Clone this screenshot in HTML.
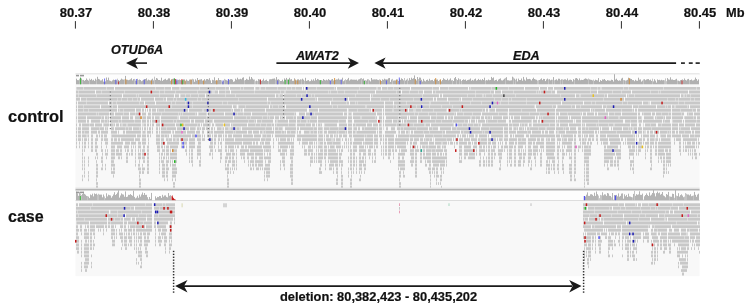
<!DOCTYPE html>
<html><head><meta charset="utf-8"><style>
html,body{margin:0;padding:0;background:#fff;}
body{width:747px;height:307px;position:relative;overflow:hidden;font-family:"Liberation Sans",sans-serif;color:#111;-webkit-text-stroke:0.2px #111;}
.ax{will-change:transform;position:absolute;top:5px;width:60px;text-align:center;font-weight:bold;font-size:13px;line-height:15px;}
.t{will-change:transform;position:absolute;font-weight:bold;white-space:nowrap;transform-origin:0 0;}
.g{will-change:transform;position:absolute;font-weight:bold;font-style:italic;font-size:11.85px;line-height:14px;white-space:nowrap;transform:scaleX(1.07);transform-origin:0 0;}
</style></head><body>
<svg width="747" height="307" viewBox="0 0 747 307" style="position:absolute;left:0;top:0"><rect x="75.5" y="73.5" width="624.1" height="115.5" fill="#f8f8f8"/><rect x="75.5" y="73.5" width="624.1" height="1" fill="#d8d8d8"/><rect x="75.5" y="74.5" width="624.1" height="10" fill="#fdfdfd"/><rect x="76" y="78.7" width="1" height="5.6" fill="#b0b0b0"/><rect x="77" y="80.1" width="1" height="4.2" fill="#b0b0b0"/><rect x="78" y="80.2" width="1" height="4.1" fill="#b0b0b0"/><rect x="79" y="79.2" width="1" height="5.1" fill="#c4c4c4"/><rect x="80" y="77.3" width="1" height="7.0" fill="#b0b0b0"/><rect x="81" y="78.5" width="1" height="5.8" fill="#b0b0b0"/><rect x="82" y="79.9" width="1" height="4.4" fill="#c4c4c4"/><rect x="83" y="79.9" width="1" height="4.4" fill="#b0b0b0"/><rect x="84" y="80.8" width="1" height="3.5" fill="#b0b0b0"/><rect x="85" y="80.0" width="1" height="4.3" fill="#b0b0b0"/><rect x="86" y="78.5" width="1" height="5.8" fill="#b0b0b0"/><rect x="87" y="79.8" width="1" height="4.5" fill="#b0b0b0"/><rect x="88" y="80.6" width="1" height="3.7" fill="#b0b0b0"/><rect x="89" y="78.6" width="1" height="5.7" fill="#c4c4c4"/><rect x="90" y="79.9" width="1" height="4.4" fill="#b0b0b0"/><rect x="91" y="78.9" width="1" height="5.4" fill="#b0b0b0"/><rect x="92" y="80.4" width="1" height="3.9" fill="#b0b0b0"/><rect x="93" y="79.8" width="1" height="4.5" fill="#b0b0b0"/><rect x="94" y="80.9" width="1" height="3.4" fill="#b0b0b0"/><rect x="95" y="78.7" width="1" height="5.6" fill="#b0b0b0"/><rect x="96" y="79.8" width="1" height="4.5" fill="#c4c4c4"/><rect x="97" y="76.8" width="1" height="7.5" fill="#b0b0b0"/><rect x="98" y="78.9" width="1" height="5.4" fill="#b0b0b0"/><rect x="99" y="79.4" width="1" height="4.9" fill="#b0b0b0"/><rect x="100" y="80.5" width="1" height="3.8" fill="#b0b0b0"/><rect x="101" y="80.4" width="1" height="3.9" fill="#b0b0b0"/><rect x="102" y="79.2" width="1" height="5.1" fill="#b0b0b0"/><rect x="103" y="81.6" width="1" height="2.7" fill="#b0b0b0"/><rect x="104" y="82.0" width="1" height="2.3" fill="#b0b0b0"/><rect x="105" y="81.4" width="1" height="2.9" fill="#b0b0b0"/><rect x="106" y="77.5" width="1" height="6.8" fill="#b0b0b0"/><rect x="107" y="80.1" width="1" height="4.2" fill="#b0b0b0"/><rect x="108" y="77.6" width="1" height="6.7" fill="#b0b0b0"/><rect x="109" y="80.5" width="1" height="3.8" fill="#b0b0b0"/><rect x="110" y="80.9" width="1" height="3.4" fill="#b0b0b0"/><rect x="111" y="81.4" width="1" height="2.9" fill="#b0b0b0"/><rect x="112" y="80.4" width="1" height="3.9" fill="#b0b0b0"/><rect x="113" y="79.6" width="1" height="4.7" fill="#b0b0b0"/><rect x="114" y="80.0" width="1" height="4.3" fill="#b0b0b0"/><rect x="115" y="80.0" width="1" height="4.3" fill="#b0b0b0"/><rect x="116" y="80.3" width="1" height="4.0" fill="#b0b0b0"/><rect x="117" y="78.7" width="1" height="5.6" fill="#c4c4c4"/><rect x="118" y="80.0" width="1" height="4.3" fill="#b0b0b0"/><rect x="119" y="80.9" width="1" height="3.4" fill="#b0b0b0"/><rect x="120" y="79.8" width="1" height="4.5" fill="#b0b0b0"/><rect x="121" y="78.6" width="1" height="5.7" fill="#b0b0b0"/><rect x="122" y="79.4" width="1" height="4.9" fill="#b0b0b0"/><rect x="123" y="79.6" width="1" height="4.7" fill="#b0b0b0"/><rect x="124" y="79.4" width="1" height="4.9" fill="#c4c4c4"/><rect x="125" y="75.9" width="1" height="8.4" fill="#b0b0b0"/><rect x="126" y="80.0" width="1" height="4.3" fill="#b0b0b0"/><rect x="127" y="79.8" width="1" height="4.5" fill="#b0b0b0"/><rect x="128" y="80.2" width="1" height="4.1" fill="#b0b0b0"/><rect x="129" y="79.8" width="1" height="4.5" fill="#b0b0b0"/><rect x="130" y="79.3" width="1" height="5.0" fill="#b0b0b0"/><rect x="131" y="78.3" width="1" height="6.0" fill="#b0b0b0"/><rect x="132" y="80.4" width="1" height="3.9" fill="#b0b0b0"/><rect x="133" y="79.1" width="1" height="5.2" fill="#b0b0b0"/><rect x="134" y="78.9" width="1" height="5.4" fill="#c4c4c4"/><rect x="135" y="80.6" width="1" height="3.7" fill="#b0b0b0"/><rect x="136" y="80.9" width="1" height="3.4" fill="#b0b0b0"/><rect x="137" y="78.8" width="1" height="5.5" fill="#b0b0b0"/><rect x="138" y="80.0" width="1" height="4.3" fill="#c4c4c4"/><rect x="139" y="79.5" width="1" height="4.8" fill="#b0b0b0"/><rect x="140" y="80.0" width="1" height="4.3" fill="#b0b0b0"/><rect x="141" y="81.2" width="1" height="3.1" fill="#b0b0b0"/><rect x="142" y="80.6" width="1" height="3.7" fill="#b0b0b0"/><rect x="143" y="79.9" width="1" height="4.4" fill="#b0b0b0"/><rect x="144" y="79.3" width="1" height="5.0" fill="#b0b0b0"/><rect x="145" y="79.0" width="1" height="5.3" fill="#b0b0b0"/><rect x="146" y="78.3" width="1" height="6.0" fill="#b0b0b0"/><rect x="147" y="80.5" width="1" height="3.8" fill="#b0b0b0"/><rect x="148" y="79.6" width="1" height="4.7" fill="#b0b0b0"/><rect x="149" y="80.2" width="1" height="4.1" fill="#b0b0b0"/><rect x="150" y="80.5" width="1" height="3.8" fill="#b0b0b0"/><rect x="151" y="79.6" width="1" height="4.7" fill="#b0b0b0"/><rect x="152" y="78.7" width="1" height="5.6" fill="#b0b0b0"/><rect x="153" y="80.4" width="1" height="3.9" fill="#b0b0b0"/><rect x="154" y="76.7" width="1" height="7.6" fill="#c4c4c4"/><rect x="155" y="79.9" width="1" height="4.4" fill="#b0b0b0"/><rect x="156" y="78.0" width="1" height="6.3" fill="#b0b0b0"/><rect x="157" y="78.6" width="1" height="5.7" fill="#b0b0b0"/><rect x="158" y="80.0" width="1" height="4.3" fill="#b0b0b0"/><rect x="159" y="80.0" width="1" height="4.3" fill="#b0b0b0"/><rect x="160" y="80.6" width="1" height="3.7" fill="#b0b0b0"/><rect x="161" y="77.7" width="1" height="6.6" fill="#b0b0b0"/><rect x="162" y="80.8" width="1" height="3.5" fill="#b0b0b0"/><rect x="163" y="79.9" width="1" height="4.4" fill="#b0b0b0"/><rect x="164" y="79.4" width="1" height="4.9" fill="#b0b0b0"/><rect x="165" y="78.8" width="1" height="5.5" fill="#b0b0b0"/><rect x="166" y="80.1" width="1" height="4.2" fill="#b0b0b0"/><rect x="167" y="79.6" width="1" height="4.7" fill="#b0b0b0"/><rect x="168" y="78.4" width="1" height="5.9" fill="#b0b0b0"/><rect x="169" y="78.4" width="1" height="5.9" fill="#b0b0b0"/><rect x="170" y="80.7" width="1" height="3.6" fill="#b0b0b0"/><rect x="171" y="79.5" width="1" height="4.8" fill="#b0b0b0"/><rect x="172" y="78.9" width="1" height="5.4" fill="#b0b0b0"/><rect x="173" y="78.7" width="1" height="5.6" fill="#b0b0b0"/><rect x="174" y="78.3" width="1" height="6.0" fill="#b0b0b0"/><rect x="175" y="79.4" width="1" height="4.9" fill="#b0b0b0"/><rect x="176" y="80.6" width="1" height="3.7" fill="#b0b0b0"/><rect x="177" y="80.3" width="1" height="4.0" fill="#c4c4c4"/><rect x="178" y="79.9" width="1" height="4.4" fill="#b0b0b0"/><rect x="179" y="79.5" width="1" height="4.8" fill="#b0b0b0"/><rect x="180" y="80.1" width="1" height="4.2" fill="#b0b0b0"/><rect x="181" y="80.2" width="1" height="4.1" fill="#b0b0b0"/><rect x="182" y="80.8" width="1" height="3.5" fill="#c4c4c4"/><rect x="183" y="79.4" width="1" height="4.9" fill="#b0b0b0"/><rect x="184" y="79.4" width="1" height="4.9" fill="#b0b0b0"/><rect x="185" y="81.2" width="1" height="3.1" fill="#b0b0b0"/><rect x="186" y="79.5" width="1" height="4.8" fill="#b0b0b0"/><rect x="187" y="80.6" width="1" height="3.7" fill="#b0b0b0"/><rect x="188" y="80.9" width="1" height="3.4" fill="#b0b0b0"/><rect x="189" y="79.6" width="1" height="4.7" fill="#b0b0b0"/><rect x="190" y="79.6" width="1" height="4.7" fill="#b0b0b0"/><rect x="191" y="79.7" width="1" height="4.6" fill="#b0b0b0"/><rect x="192" y="78.8" width="1" height="5.5" fill="#c4c4c4"/><rect x="193" y="79.4" width="1" height="4.9" fill="#b0b0b0"/><rect x="194" y="81.8" width="1" height="2.5" fill="#b0b0b0"/><rect x="195" y="79.3" width="1" height="5.0" fill="#b0b0b0"/><rect x="196" y="80.6" width="1" height="3.7" fill="#b0b0b0"/><rect x="197" y="78.0" width="1" height="6.3" fill="#b0b0b0"/><rect x="198" y="80.2" width="1" height="4.1" fill="#c4c4c4"/><rect x="199" y="79.6" width="1" height="4.7" fill="#b0b0b0"/><rect x="200" y="79.5" width="1" height="4.8" fill="#b0b0b0"/><rect x="201" y="79.1" width="1" height="5.2" fill="#b0b0b0"/><rect x="202" y="80.6" width="1" height="3.7" fill="#b0b0b0"/><rect x="203" y="80.5" width="1" height="3.8" fill="#b0b0b0"/><rect x="204" y="79.1" width="1" height="5.2" fill="#b0b0b0"/><rect x="205" y="80.5" width="1" height="3.8" fill="#b0b0b0"/><rect x="206" y="79.1" width="1" height="5.2" fill="#b0b0b0"/><rect x="207" y="79.0" width="1" height="5.3" fill="#b0b0b0"/><rect x="208" y="79.7" width="1" height="4.6" fill="#b0b0b0"/><rect x="209" y="78.2" width="1" height="6.1" fill="#b0b0b0"/><rect x="210" y="80.4" width="1" height="3.9" fill="#b0b0b0"/><rect x="211" y="83.0" width="1" height="1.3" fill="#b0b0b0"/><rect x="212" y="79.8" width="1" height="4.5" fill="#b0b0b0"/><rect x="213" y="80.2" width="1" height="4.1" fill="#b0b0b0"/><rect x="214" y="77.3" width="1" height="7.0" fill="#b0b0b0"/><rect x="215" y="80.6" width="1" height="3.7" fill="#b0b0b0"/><rect x="216" y="80.6" width="1" height="3.7" fill="#b0b0b0"/><rect x="217" y="80.5" width="1" height="3.8" fill="#b0b0b0"/><rect x="218" y="78.1" width="1" height="6.2" fill="#b0b0b0"/><rect x="219" y="80.0" width="1" height="4.3" fill="#b0b0b0"/><rect x="220" y="80.0" width="1" height="4.3" fill="#b0b0b0"/><rect x="221" y="80.4" width="1" height="3.9" fill="#c4c4c4"/><rect x="222" y="81.8" width="1" height="2.5" fill="#b0b0b0"/><rect x="223" y="80.6" width="1" height="3.7" fill="#b0b0b0"/><rect x="224" y="78.9" width="1" height="5.4" fill="#c4c4c4"/><rect x="225" y="79.7" width="1" height="4.6" fill="#b0b0b0"/><rect x="226" y="80.2" width="1" height="4.1" fill="#b0b0b0"/><rect x="227" y="80.7" width="1" height="3.6" fill="#b0b0b0"/><rect x="228" y="79.6" width="1" height="4.7" fill="#b0b0b0"/><rect x="229" y="79.8" width="1" height="4.5" fill="#b0b0b0"/><rect x="230" y="79.2" width="1" height="5.1" fill="#b0b0b0"/><rect x="231" y="79.1" width="1" height="5.2" fill="#b0b0b0"/><rect x="232" y="79.7" width="1" height="4.6" fill="#b0b0b0"/><rect x="233" y="81.8" width="1" height="2.5" fill="#b0b0b0"/><rect x="234" y="81.3" width="1" height="3.0" fill="#b0b0b0"/><rect x="235" y="78.7" width="1" height="5.6" fill="#b0b0b0"/><rect x="236" y="79.7" width="1" height="4.6" fill="#b0b0b0"/><rect x="237" y="77.7" width="1" height="6.6" fill="#b0b0b0"/><rect x="238" y="79.3" width="1" height="5.0" fill="#b0b0b0"/><rect x="239" y="79.3" width="1" height="5.0" fill="#b0b0b0"/><rect x="240" y="78.8" width="1" height="5.5" fill="#b0b0b0"/><rect x="241" y="79.3" width="1" height="5.0" fill="#b0b0b0"/><rect x="242" y="77.8" width="1" height="6.5" fill="#b0b0b0"/><rect x="243" y="77.3" width="1" height="7.0" fill="#b0b0b0"/><rect x="244" y="80.4" width="1" height="3.9" fill="#c4c4c4"/><rect x="245" y="80.0" width="1" height="4.3" fill="#b0b0b0"/><rect x="246" y="78.8" width="1" height="5.5" fill="#b0b0b0"/><rect x="247" y="79.5" width="1" height="4.8" fill="#b0b0b0"/><rect x="248" y="79.9" width="1" height="4.4" fill="#b0b0b0"/><rect x="249" y="76.6" width="1" height="7.7" fill="#b0b0b0"/><rect x="250" y="79.3" width="1" height="5.0" fill="#b0b0b0"/><rect x="251" y="77.0" width="1" height="7.3" fill="#b0b0b0"/><rect x="252" y="78.6" width="1" height="5.7" fill="#b0b0b0"/><rect x="253" y="79.6" width="1" height="4.7" fill="#b0b0b0"/><rect x="254" y="79.5" width="1" height="4.8" fill="#c4c4c4"/><rect x="255" y="81.2" width="1" height="3.1" fill="#c4c4c4"/><rect x="256" y="80.6" width="1" height="3.7" fill="#b0b0b0"/><rect x="257" y="81.1" width="1" height="3.2" fill="#c4c4c4"/><rect x="258" y="79.1" width="1" height="5.2" fill="#b0b0b0"/><rect x="259" y="79.6" width="1" height="4.7" fill="#b0b0b0"/><rect x="260" y="79.8" width="1" height="4.5" fill="#b0b0b0"/><rect x="261" y="80.9" width="1" height="3.4" fill="#b0b0b0"/><rect x="262" y="80.3" width="1" height="4.0" fill="#b0b0b0"/><rect x="263" y="78.7" width="1" height="5.6" fill="#b0b0b0"/><rect x="264" y="80.8" width="1" height="3.5" fill="#b0b0b0"/><rect x="265" y="80.2" width="1" height="4.1" fill="#b0b0b0"/><rect x="266" y="79.7" width="1" height="4.6" fill="#b0b0b0"/><rect x="267" y="81.0" width="1" height="3.3" fill="#b0b0b0"/><rect x="268" y="81.2" width="1" height="3.1" fill="#c4c4c4"/><rect x="269" y="79.4" width="1" height="4.9" fill="#b0b0b0"/><rect x="270" y="79.2" width="1" height="5.1" fill="#b0b0b0"/><rect x="271" y="79.2" width="1" height="5.1" fill="#b0b0b0"/><rect x="272" y="78.8" width="1" height="5.5" fill="#b0b0b0"/><rect x="273" y="78.7" width="1" height="5.6" fill="#b0b0b0"/><rect x="274" y="78.4" width="1" height="5.9" fill="#b0b0b0"/><rect x="275" y="79.6" width="1" height="4.7" fill="#c4c4c4"/><rect x="276" y="77.1" width="1" height="7.2" fill="#b0b0b0"/><rect x="277" y="79.7" width="1" height="4.6" fill="#b0b0b0"/><rect x="278" y="79.2" width="1" height="5.1" fill="#b0b0b0"/><rect x="279" y="79.9" width="1" height="4.4" fill="#c4c4c4"/><rect x="280" y="81.0" width="1" height="3.3" fill="#b0b0b0"/><rect x="281" y="80.9" width="1" height="3.4" fill="#b0b0b0"/><rect x="282" y="79.7" width="1" height="4.6" fill="#b0b0b0"/><rect x="283" y="81.4" width="1" height="2.9" fill="#b0b0b0"/><rect x="284" y="78.4" width="1" height="5.9" fill="#b0b0b0"/><rect x="285" y="79.4" width="1" height="4.9" fill="#c4c4c4"/><rect x="286" y="77.9" width="1" height="6.4" fill="#b0b0b0"/><rect x="287" y="79.5" width="1" height="4.8" fill="#b0b0b0"/><rect x="288" y="79.9" width="1" height="4.4" fill="#b0b0b0"/><rect x="289" y="77.8" width="1" height="6.5" fill="#b0b0b0"/><rect x="290" y="79.5" width="1" height="4.8" fill="#b0b0b0"/><rect x="291" y="79.1" width="1" height="5.2" fill="#b0b0b0"/><rect x="292" y="80.8" width="1" height="3.5" fill="#b0b0b0"/><rect x="293" y="80.8" width="1" height="3.5" fill="#b0b0b0"/><rect x="294" y="78.3" width="1" height="6.0" fill="#b0b0b0"/><rect x="295" y="80.4" width="1" height="3.9" fill="#b0b0b0"/><rect x="296" y="80.3" width="1" height="4.0" fill="#b0b0b0"/><rect x="297" y="79.4" width="1" height="4.9" fill="#b0b0b0"/><rect x="298" y="79.3" width="1" height="5.0" fill="#b0b0b0"/><rect x="299" y="80.2" width="1" height="4.1" fill="#b0b0b0"/><rect x="300" y="79.3" width="1" height="5.0" fill="#b0b0b0"/><rect x="301" y="79.6" width="1" height="4.7" fill="#c4c4c4"/><rect x="302" y="78.7" width="1" height="5.6" fill="#b0b0b0"/><rect x="303" y="79.7" width="1" height="4.6" fill="#b0b0b0"/><rect x="304" y="80.8" width="1" height="3.5" fill="#c4c4c4"/><rect x="305" y="77.8" width="1" height="6.5" fill="#b0b0b0"/><rect x="306" y="80.9" width="1" height="3.4" fill="#b0b0b0"/><rect x="307" y="80.4" width="1" height="3.9" fill="#b0b0b0"/><rect x="308" y="80.1" width="1" height="4.2" fill="#b0b0b0"/><rect x="309" y="81.3" width="1" height="3.0" fill="#b0b0b0"/><rect x="310" y="81.1" width="1" height="3.2" fill="#b0b0b0"/><rect x="311" y="79.5" width="1" height="4.8" fill="#b0b0b0"/><rect x="312" y="80.6" width="1" height="3.7" fill="#b0b0b0"/><rect x="313" y="79.3" width="1" height="5.0" fill="#b0b0b0"/><rect x="314" y="80.7" width="1" height="3.6" fill="#b0b0b0"/><rect x="315" y="78.2" width="1" height="6.1" fill="#b0b0b0"/><rect x="316" y="80.1" width="1" height="4.2" fill="#b0b0b0"/><rect x="317" y="78.9" width="1" height="5.4" fill="#b0b0b0"/><rect x="318" y="79.4" width="1" height="4.9" fill="#b0b0b0"/><rect x="319" y="80.2" width="1" height="4.1" fill="#b0b0b0"/><rect x="320" y="80.5" width="1" height="3.8" fill="#b0b0b0"/><rect x="321" y="80.1" width="1" height="4.2" fill="#b0b0b0"/><rect x="322" y="80.7" width="1" height="3.6" fill="#b0b0b0"/><rect x="323" y="79.0" width="1" height="5.3" fill="#b0b0b0"/><rect x="324" y="79.9" width="1" height="4.4" fill="#b0b0b0"/><rect x="325" y="80.4" width="1" height="3.9" fill="#b0b0b0"/><rect x="326" y="79.7" width="1" height="4.6" fill="#b0b0b0"/><rect x="327" y="80.3" width="1" height="4.0" fill="#b0b0b0"/><rect x="328" y="79.1" width="1" height="5.2" fill="#b0b0b0"/><rect x="329" y="79.9" width="1" height="4.4" fill="#b0b0b0"/><rect x="330" y="80.8" width="1" height="3.5" fill="#c4c4c4"/><rect x="331" y="79.5" width="1" height="4.8" fill="#b0b0b0"/><rect x="332" y="79.0" width="1" height="5.3" fill="#b0b0b0"/><rect x="333" y="80.5" width="1" height="3.8" fill="#b0b0b0"/><rect x="334" y="79.8" width="1" height="4.5" fill="#b0b0b0"/><rect x="335" y="79.9" width="1" height="4.4" fill="#b0b0b0"/><rect x="336" y="79.4" width="1" height="4.9" fill="#b0b0b0"/><rect x="337" y="79.5" width="1" height="4.8" fill="#b0b0b0"/><rect x="338" y="78.5" width="1" height="5.8" fill="#b0b0b0"/><rect x="339" y="79.7" width="1" height="4.6" fill="#b0b0b0"/><rect x="340" y="79.8" width="1" height="4.5" fill="#b0b0b0"/><rect x="341" y="79.8" width="1" height="4.5" fill="#c4c4c4"/><rect x="342" y="77.7" width="1" height="6.6" fill="#b0b0b0"/><rect x="343" y="81.2" width="1" height="3.1" fill="#b0b0b0"/><rect x="344" y="80.3" width="1" height="4.0" fill="#b0b0b0"/><rect x="345" y="79.2" width="1" height="5.1" fill="#c4c4c4"/><rect x="346" y="80.1" width="1" height="4.2" fill="#b0b0b0"/><rect x="347" y="79.3" width="1" height="5.0" fill="#b0b0b0"/><rect x="348" y="77.9" width="1" height="6.4" fill="#b0b0b0"/><rect x="349" y="80.5" width="1" height="3.8" fill="#b0b0b0"/><rect x="350" y="79.6" width="1" height="4.7" fill="#b0b0b0"/><rect x="351" y="79.4" width="1" height="4.9" fill="#b0b0b0"/><rect x="352" y="79.7" width="1" height="4.6" fill="#b0b0b0"/><rect x="353" y="79.7" width="1" height="4.6" fill="#b0b0b0"/><rect x="354" y="79.7" width="1" height="4.6" fill="#b0b0b0"/><rect x="355" y="79.8" width="1" height="4.5" fill="#b0b0b0"/><rect x="356" y="79.6" width="1" height="4.7" fill="#b0b0b0"/><rect x="357" y="80.6" width="1" height="3.7" fill="#b0b0b0"/><rect x="358" y="79.5" width="1" height="4.8" fill="#b0b0b0"/><rect x="359" y="79.2" width="1" height="5.1" fill="#b0b0b0"/><rect x="360" y="78.5" width="1" height="5.8" fill="#b0b0b0"/><rect x="361" y="78.0" width="1" height="6.3" fill="#c4c4c4"/><rect x="362" y="79.2" width="1" height="5.1" fill="#b0b0b0"/><rect x="363" y="78.5" width="1" height="5.8" fill="#b0b0b0"/><rect x="364" y="80.3" width="1" height="4.0" fill="#b0b0b0"/><rect x="365" y="80.1" width="1" height="4.2" fill="#c4c4c4"/><rect x="366" y="80.6" width="1" height="3.7" fill="#b0b0b0"/><rect x="367" y="79.3" width="1" height="5.0" fill="#b0b0b0"/><rect x="368" y="79.2" width="1" height="5.1" fill="#c4c4c4"/><rect x="369" y="80.3" width="1" height="4.0" fill="#b0b0b0"/><rect x="370" y="81.4" width="1" height="2.9" fill="#b0b0b0"/><rect x="371" y="78.0" width="1" height="6.3" fill="#b0b0b0"/><rect x="372" y="79.6" width="1" height="4.7" fill="#b0b0b0"/><rect x="373" y="79.5" width="1" height="4.8" fill="#b0b0b0"/><rect x="374" y="79.4" width="1" height="4.9" fill="#b0b0b0"/><rect x="375" y="79.5" width="1" height="4.8" fill="#b0b0b0"/><rect x="376" y="79.3" width="1" height="5.0" fill="#b0b0b0"/><rect x="377" y="79.8" width="1" height="4.5" fill="#b0b0b0"/><rect x="378" y="80.1" width="1" height="4.2" fill="#b0b0b0"/><rect x="379" y="79.3" width="1" height="5.0" fill="#c4c4c4"/><rect x="380" y="79.8" width="1" height="4.5" fill="#b0b0b0"/><rect x="381" y="81.0" width="1" height="3.3" fill="#b0b0b0"/><rect x="382" y="79.3" width="1" height="5.0" fill="#b0b0b0"/><rect x="383" y="79.9" width="1" height="4.4" fill="#b0b0b0"/><rect x="384" y="78.7" width="1" height="5.6" fill="#b0b0b0"/><rect x="385" y="79.4" width="1" height="4.9" fill="#b0b0b0"/><rect x="386" y="79.4" width="1" height="4.9" fill="#b0b0b0"/><rect x="387" y="79.5" width="1" height="4.8" fill="#b0b0b0"/><rect x="388" y="78.3" width="1" height="6.0" fill="#b0b0b0"/><rect x="389" y="78.0" width="1" height="6.3" fill="#b0b0b0"/><rect x="390" y="81.9" width="1" height="2.4" fill="#b0b0b0"/><rect x="391" y="79.6" width="1" height="4.7" fill="#b0b0b0"/><rect x="392" y="78.9" width="1" height="5.4" fill="#c4c4c4"/><rect x="393" y="80.6" width="1" height="3.7" fill="#b0b0b0"/><rect x="394" y="80.4" width="1" height="3.9" fill="#b0b0b0"/><rect x="395" y="80.5" width="1" height="3.8" fill="#b0b0b0"/><rect x="396" y="79.1" width="1" height="5.2" fill="#c4c4c4"/><rect x="397" y="79.5" width="1" height="4.8" fill="#b0b0b0"/><rect x="398" y="81.0" width="1" height="3.3" fill="#b0b0b0"/><rect x="399" y="79.5" width="1" height="4.8" fill="#b0b0b0"/><rect x="400" y="79.9" width="1" height="4.4" fill="#b0b0b0"/><rect x="401" y="78.3" width="1" height="6.0" fill="#b0b0b0"/><rect x="402" y="79.0" width="1" height="5.3" fill="#b0b0b0"/><rect x="403" y="80.3" width="1" height="4.0" fill="#b0b0b0"/><rect x="404" y="78.0" width="1" height="6.3" fill="#c4c4c4"/><rect x="405" y="80.6" width="1" height="3.7" fill="#b0b0b0"/><rect x="406" y="79.7" width="1" height="4.6" fill="#b0b0b0"/><rect x="407" y="78.6" width="1" height="5.7" fill="#c4c4c4"/><rect x="408" y="80.5" width="1" height="3.8" fill="#b0b0b0"/><rect x="409" y="78.1" width="1" height="6.2" fill="#b0b0b0"/><rect x="410" y="79.9" width="1" height="4.4" fill="#b0b0b0"/><rect x="411" y="77.7" width="1" height="6.6" fill="#b0b0b0"/><rect x="412" y="78.9" width="1" height="5.4" fill="#b0b0b0"/><rect x="413" y="78.2" width="1" height="6.1" fill="#b0b0b0"/><rect x="414" y="75.4" width="1" height="8.9" fill="#b0b0b0"/><rect x="415" y="79.0" width="1" height="5.3" fill="#b0b0b0"/><rect x="416" y="80.5" width="1" height="3.8" fill="#b0b0b0"/><rect x="417" y="77.0" width="1" height="7.3" fill="#b0b0b0"/><rect x="418" y="79.1" width="1" height="5.2" fill="#c4c4c4"/><rect x="419" y="77.5" width="1" height="6.8" fill="#b0b0b0"/><rect x="420" y="77.7" width="1" height="6.6" fill="#b0b0b0"/><rect x="421" y="79.8" width="1" height="4.5" fill="#b0b0b0"/><rect x="422" y="81.5" width="1" height="2.8" fill="#b0b0b0"/><rect x="423" y="78.9" width="1" height="5.4" fill="#b0b0b0"/><rect x="424" y="80.7" width="1" height="3.6" fill="#b0b0b0"/><rect x="425" y="81.4" width="1" height="2.9" fill="#b0b0b0"/><rect x="426" y="80.0" width="1" height="4.3" fill="#b0b0b0"/><rect x="427" y="79.6" width="1" height="4.7" fill="#b0b0b0"/><rect x="428" y="80.8" width="1" height="3.5" fill="#b0b0b0"/><rect x="429" y="78.8" width="1" height="5.5" fill="#b0b0b0"/><rect x="430" y="80.4" width="1" height="3.9" fill="#b0b0b0"/><rect x="431" y="80.1" width="1" height="4.2" fill="#b0b0b0"/><rect x="432" y="79.9" width="1" height="4.4" fill="#b0b0b0"/><rect x="433" y="81.1" width="1" height="3.2" fill="#b0b0b0"/><rect x="434" y="79.3" width="1" height="5.0" fill="#b0b0b0"/><rect x="435" y="79.5" width="1" height="4.8" fill="#b0b0b0"/><rect x="436" y="79.6" width="1" height="4.7" fill="#b0b0b0"/><rect x="437" y="79.5" width="1" height="4.8" fill="#b0b0b0"/><rect x="438" y="81.0" width="1" height="3.3" fill="#b0b0b0"/><rect x="439" y="80.1" width="1" height="4.2" fill="#c4c4c4"/><rect x="440" y="79.5" width="1" height="4.8" fill="#b0b0b0"/><rect x="441" y="81.3" width="1" height="3.0" fill="#b0b0b0"/><rect x="442" y="80.0" width="1" height="4.3" fill="#b0b0b0"/><rect x="443" y="78.2" width="1" height="6.1" fill="#b0b0b0"/><rect x="444" y="79.2" width="1" height="5.1" fill="#b0b0b0"/><rect x="445" y="79.8" width="1" height="4.5" fill="#b0b0b0"/><rect x="446" y="80.0" width="1" height="4.3" fill="#b0b0b0"/><rect x="447" y="78.7" width="1" height="5.6" fill="#b0b0b0"/><rect x="448" y="80.3" width="1" height="4.0" fill="#b0b0b0"/><rect x="449" y="79.6" width="1" height="4.7" fill="#b0b0b0"/><rect x="450" y="78.4" width="1" height="5.9" fill="#b0b0b0"/><rect x="451" y="80.4" width="1" height="3.9" fill="#b0b0b0"/><rect x="452" y="80.0" width="1" height="4.3" fill="#c4c4c4"/><rect x="453" y="81.0" width="1" height="3.3" fill="#b0b0b0"/><rect x="454" y="78.2" width="1" height="6.1" fill="#b0b0b0"/><rect x="455" y="77.0" width="1" height="7.3" fill="#b0b0b0"/><rect x="456" y="79.1" width="1" height="5.2" fill="#c4c4c4"/><rect x="457" y="80.1" width="1" height="4.2" fill="#b0b0b0"/><rect x="458" y="78.3" width="1" height="6.0" fill="#b0b0b0"/><rect x="459" y="79.4" width="1" height="4.9" fill="#c4c4c4"/><rect x="460" y="79.3" width="1" height="5.0" fill="#b0b0b0"/><rect x="461" y="81.0" width="1" height="3.3" fill="#c4c4c4"/><rect x="462" y="80.0" width="1" height="4.3" fill="#b0b0b0"/><rect x="463" y="79.3" width="1" height="5.0" fill="#b0b0b0"/><rect x="464" y="79.9" width="1" height="4.4" fill="#b0b0b0"/><rect x="465" y="79.5" width="1" height="4.8" fill="#b0b0b0"/><rect x="466" y="80.8" width="1" height="3.5" fill="#b0b0b0"/><rect x="467" y="80.1" width="1" height="4.2" fill="#b0b0b0"/><rect x="468" y="79.8" width="1" height="4.5" fill="#b0b0b0"/><rect x="469" y="79.5" width="1" height="4.8" fill="#b0b0b0"/><rect x="470" y="78.5" width="1" height="5.8" fill="#b0b0b0"/><rect x="471" y="80.7" width="1" height="3.6" fill="#b0b0b0"/><rect x="472" y="79.9" width="1" height="4.4" fill="#b0b0b0"/><rect x="473" y="80.5" width="1" height="3.8" fill="#b0b0b0"/><rect x="474" y="79.3" width="1" height="5.0" fill="#b0b0b0"/><rect x="475" y="78.6" width="1" height="5.7" fill="#b0b0b0"/><rect x="476" y="80.6" width="1" height="3.7" fill="#b0b0b0"/><rect x="477" y="80.1" width="1" height="4.2" fill="#b0b0b0"/><rect x="478" y="78.9" width="1" height="5.4" fill="#b0b0b0"/><rect x="479" y="80.0" width="1" height="4.3" fill="#b0b0b0"/><rect x="480" y="79.5" width="1" height="4.8" fill="#b0b0b0"/><rect x="481" y="80.3" width="1" height="4.0" fill="#b0b0b0"/><rect x="482" y="79.0" width="1" height="5.3" fill="#b0b0b0"/><rect x="483" y="80.0" width="1" height="4.3" fill="#b0b0b0"/><rect x="484" y="77.7" width="1" height="6.6" fill="#b0b0b0"/><rect x="485" y="80.6" width="1" height="3.7" fill="#c4c4c4"/><rect x="486" y="80.1" width="1" height="4.2" fill="#b0b0b0"/><rect x="487" y="80.4" width="1" height="3.9" fill="#b0b0b0"/><rect x="488" y="79.5" width="1" height="4.8" fill="#b0b0b0"/><rect x="489" y="80.2" width="1" height="4.1" fill="#b0b0b0"/><rect x="490" y="80.0" width="1" height="4.3" fill="#b0b0b0"/><rect x="491" y="76.9" width="1" height="7.4" fill="#b0b0b0"/><rect x="492" y="78.2" width="1" height="6.1" fill="#b0b0b0"/><rect x="493" y="77.4" width="1" height="6.9" fill="#b0b0b0"/><rect x="494" y="80.6" width="1" height="3.7" fill="#b0b0b0"/><rect x="495" y="80.0" width="1" height="4.3" fill="#b0b0b0"/><rect x="496" y="79.7" width="1" height="4.6" fill="#b0b0b0"/><rect x="497" y="81.2" width="1" height="3.1" fill="#b0b0b0"/><rect x="498" y="79.6" width="1" height="4.7" fill="#b0b0b0"/><rect x="499" y="78.9" width="1" height="5.4" fill="#b0b0b0"/><rect x="500" y="78.4" width="1" height="5.9" fill="#b0b0b0"/><rect x="501" y="80.3" width="1" height="4.0" fill="#b0b0b0"/><rect x="502" y="80.5" width="1" height="3.8" fill="#b0b0b0"/><rect x="503" y="79.7" width="1" height="4.6" fill="#b0b0b0"/><rect x="504" y="78.7" width="1" height="5.6" fill="#b0b0b0"/><rect x="505" y="77.9" width="1" height="6.4" fill="#c4c4c4"/><rect x="506" y="77.2" width="1" height="7.1" fill="#b0b0b0"/><rect x="507" y="80.2" width="1" height="4.1" fill="#b0b0b0"/><rect x="508" y="80.3" width="1" height="4.0" fill="#b0b0b0"/><rect x="509" y="80.6" width="1" height="3.7" fill="#b0b0b0"/><rect x="510" y="80.5" width="1" height="3.8" fill="#b0b0b0"/><rect x="511" y="80.3" width="1" height="4.0" fill="#b0b0b0"/><rect x="512" y="76.7" width="1" height="7.6" fill="#b0b0b0"/><rect x="513" y="77.5" width="1" height="6.8" fill="#c4c4c4"/><rect x="514" y="78.6" width="1" height="5.7" fill="#b0b0b0"/><rect x="515" y="79.8" width="1" height="4.5" fill="#c4c4c4"/><rect x="516" y="78.7" width="1" height="5.6" fill="#b0b0b0"/><rect x="517" y="81.4" width="1" height="2.9" fill="#b0b0b0"/><rect x="518" y="78.6" width="1" height="5.7" fill="#b0b0b0"/><rect x="519" y="80.0" width="1" height="4.3" fill="#b0b0b0"/><rect x="520" y="80.0" width="1" height="4.3" fill="#b0b0b0"/><rect x="521" y="78.5" width="1" height="5.8" fill="#b0b0b0"/><rect x="522" y="80.7" width="1" height="3.6" fill="#b0b0b0"/><rect x="523" y="76.9" width="1" height="7.4" fill="#b0b0b0"/><rect x="524" y="79.5" width="1" height="4.8" fill="#b0b0b0"/><rect x="525" y="80.6" width="1" height="3.7" fill="#b0b0b0"/><rect x="526" y="77.4" width="1" height="6.9" fill="#b0b0b0"/><rect x="527" y="79.2" width="1" height="5.1" fill="#b0b0b0"/><rect x="528" y="79.1" width="1" height="5.2" fill="#b0b0b0"/><rect x="529" y="78.9" width="1" height="5.4" fill="#b0b0b0"/><rect x="530" y="79.4" width="1" height="4.9" fill="#b0b0b0"/><rect x="531" y="80.5" width="1" height="3.8" fill="#b0b0b0"/><rect x="532" y="78.9" width="1" height="5.4" fill="#b0b0b0"/><rect x="533" y="77.7" width="1" height="6.6" fill="#b0b0b0"/><rect x="534" y="79.0" width="1" height="5.3" fill="#b0b0b0"/><rect x="535" y="79.5" width="1" height="4.8" fill="#b0b0b0"/><rect x="536" y="79.8" width="1" height="4.5" fill="#b0b0b0"/><rect x="537" y="80.6" width="1" height="3.7" fill="#c4c4c4"/><rect x="538" y="80.2" width="1" height="4.1" fill="#c4c4c4"/><rect x="539" y="80.0" width="1" height="4.3" fill="#b0b0b0"/><rect x="540" y="79.3" width="1" height="5.0" fill="#b0b0b0"/><rect x="541" y="78.4" width="1" height="5.9" fill="#b0b0b0"/><rect x="542" y="80.1" width="1" height="4.2" fill="#b0b0b0"/><rect x="543" y="78.9" width="1" height="5.4" fill="#b0b0b0"/><rect x="544" y="79.0" width="1" height="5.3" fill="#b0b0b0"/><rect x="545" y="81.1" width="1" height="3.2" fill="#b0b0b0"/><rect x="546" y="79.5" width="1" height="4.8" fill="#b0b0b0"/><rect x="547" y="78.6" width="1" height="5.7" fill="#b0b0b0"/><rect x="548" y="79.5" width="1" height="4.8" fill="#c4c4c4"/><rect x="549" y="79.2" width="1" height="5.1" fill="#b0b0b0"/><rect x="550" y="80.3" width="1" height="4.0" fill="#b0b0b0"/><rect x="551" y="79.7" width="1" height="4.6" fill="#b0b0b0"/><rect x="552" y="79.8" width="1" height="4.5" fill="#c4c4c4"/><rect x="553" y="77.1" width="1" height="7.2" fill="#b0b0b0"/><rect x="554" y="80.3" width="1" height="4.0" fill="#c4c4c4"/><rect x="555" y="79.8" width="1" height="4.5" fill="#b0b0b0"/><rect x="556" y="79.3" width="1" height="5.0" fill="#b0b0b0"/><rect x="557" y="80.4" width="1" height="3.9" fill="#b0b0b0"/><rect x="558" y="78.7" width="1" height="5.6" fill="#b0b0b0"/><rect x="559" y="78.8" width="1" height="5.5" fill="#b0b0b0"/><rect x="560" y="80.0" width="1" height="4.3" fill="#c4c4c4"/><rect x="561" y="79.3" width="1" height="5.0" fill="#b0b0b0"/><rect x="562" y="79.3" width="1" height="5.0" fill="#c4c4c4"/><rect x="563" y="79.8" width="1" height="4.5" fill="#b0b0b0"/><rect x="564" y="79.3" width="1" height="5.0" fill="#b0b0b0"/><rect x="565" y="79.3" width="1" height="5.0" fill="#b0b0b0"/><rect x="566" y="80.1" width="1" height="4.2" fill="#b0b0b0"/><rect x="567" y="78.5" width="1" height="5.8" fill="#b0b0b0"/><rect x="568" y="80.4" width="1" height="3.9" fill="#b0b0b0"/><rect x="569" y="79.8" width="1" height="4.5" fill="#b0b0b0"/><rect x="570" y="79.6" width="1" height="4.7" fill="#b0b0b0"/><rect x="571" y="80.0" width="1" height="4.3" fill="#b0b0b0"/><rect x="572" y="81.5" width="1" height="2.8" fill="#b0b0b0"/><rect x="573" y="79.1" width="1" height="5.2" fill="#b0b0b0"/><rect x="574" y="79.9" width="1" height="4.4" fill="#c4c4c4"/><rect x="575" y="78.3" width="1" height="6.0" fill="#b0b0b0"/><rect x="576" y="78.0" width="1" height="6.3" fill="#b0b0b0"/><rect x="577" y="78.8" width="1" height="5.5" fill="#b0b0b0"/><rect x="578" y="80.2" width="1" height="4.1" fill="#b0b0b0"/><rect x="579" y="78.4" width="1" height="5.9" fill="#b0b0b0"/><rect x="580" y="80.2" width="1" height="4.1" fill="#b0b0b0"/><rect x="581" y="79.8" width="1" height="4.5" fill="#b0b0b0"/><rect x="582" y="80.0" width="1" height="4.3" fill="#b0b0b0"/><rect x="583" y="79.7" width="1" height="4.6" fill="#b0b0b0"/><rect x="584" y="78.9" width="1" height="5.4" fill="#b0b0b0"/><rect x="585" y="78.4" width="1" height="5.9" fill="#b0b0b0"/><rect x="586" y="78.8" width="1" height="5.5" fill="#b0b0b0"/><rect x="587" y="79.4" width="1" height="4.9" fill="#b0b0b0"/><rect x="588" y="78.5" width="1" height="5.8" fill="#c4c4c4"/><rect x="589" y="79.4" width="1" height="4.9" fill="#b0b0b0"/><rect x="590" y="79.7" width="1" height="4.6" fill="#b0b0b0"/><rect x="591" y="79.9" width="1" height="4.4" fill="#b0b0b0"/><rect x="592" y="80.4" width="1" height="3.9" fill="#b0b0b0"/><rect x="593" y="79.6" width="1" height="4.7" fill="#c4c4c4"/><rect x="594" y="80.8" width="1" height="3.5" fill="#b0b0b0"/><rect x="595" y="79.7" width="1" height="4.6" fill="#b0b0b0"/><rect x="596" y="80.1" width="1" height="4.2" fill="#b0b0b0"/><rect x="597" y="80.4" width="1" height="3.9" fill="#b0b0b0"/><rect x="598" y="78.1" width="1" height="6.2" fill="#b0b0b0"/><rect x="599" y="81.9" width="1" height="2.4" fill="#b0b0b0"/><rect x="600" y="80.1" width="1" height="4.2" fill="#b0b0b0"/><rect x="601" y="81.0" width="1" height="3.3" fill="#b0b0b0"/><rect x="602" y="79.4" width="1" height="4.9" fill="#b0b0b0"/><rect x="603" y="79.6" width="1" height="4.7" fill="#b0b0b0"/><rect x="604" y="79.0" width="1" height="5.3" fill="#b0b0b0"/><rect x="605" y="80.2" width="1" height="4.1" fill="#b0b0b0"/><rect x="606" y="81.0" width="1" height="3.3" fill="#b0b0b0"/><rect x="607" y="80.1" width="1" height="4.2" fill="#b0b0b0"/><rect x="608" y="80.4" width="1" height="3.9" fill="#b0b0b0"/><rect x="609" y="80.6" width="1" height="3.7" fill="#b0b0b0"/><rect x="610" y="80.7" width="1" height="3.6" fill="#b0b0b0"/><rect x="611" y="79.7" width="1" height="4.6" fill="#b0b0b0"/><rect x="612" y="80.0" width="1" height="4.3" fill="#b0b0b0"/><rect x="613" y="81.5" width="1" height="2.8" fill="#b0b0b0"/><rect x="614" y="74.2" width="1" height="10.1" fill="#b0b0b0"/><rect x="615" y="79.6" width="1" height="4.7" fill="#b0b0b0"/><rect x="616" y="78.7" width="1" height="5.6" fill="#b0b0b0"/><rect x="617" y="80.1" width="1" height="4.2" fill="#b0b0b0"/><rect x="618" y="80.8" width="1" height="3.5" fill="#b0b0b0"/><rect x="619" y="80.3" width="1" height="4.0" fill="#b0b0b0"/><rect x="620" y="80.7" width="1" height="3.6" fill="#b0b0b0"/><rect x="621" y="78.6" width="1" height="5.7" fill="#b0b0b0"/><rect x="622" y="77.8" width="1" height="6.5" fill="#b0b0b0"/><rect x="623" y="80.1" width="1" height="4.2" fill="#c4c4c4"/><rect x="624" y="80.2" width="1" height="4.1" fill="#b0b0b0"/><rect x="625" y="80.6" width="1" height="3.7" fill="#c4c4c4"/><rect x="626" y="80.4" width="1" height="3.9" fill="#b0b0b0"/><rect x="627" y="79.8" width="1" height="4.5" fill="#b0b0b0"/><rect x="628" y="77.7" width="1" height="6.6" fill="#b0b0b0"/><rect x="629" y="79.0" width="1" height="5.3" fill="#b0b0b0"/><rect x="630" y="78.7" width="1" height="5.6" fill="#b0b0b0"/><rect x="631" y="79.0" width="1" height="5.3" fill="#b0b0b0"/><rect x="632" y="80.1" width="1" height="4.2" fill="#b0b0b0"/><rect x="633" y="80.1" width="1" height="4.2" fill="#b0b0b0"/><rect x="634" y="81.2" width="1" height="3.1" fill="#b0b0b0"/><rect x="635" y="79.8" width="1" height="4.5" fill="#b0b0b0"/><rect x="636" y="80.6" width="1" height="3.7" fill="#b0b0b0"/><rect x="637" y="80.8" width="1" height="3.5" fill="#b0b0b0"/><rect x="638" y="77.7" width="1" height="6.6" fill="#b0b0b0"/><rect x="639" y="79.7" width="1" height="4.6" fill="#b0b0b0"/><rect x="640" y="79.4" width="1" height="4.9" fill="#b0b0b0"/><rect x="641" y="81.6" width="1" height="2.7" fill="#b0b0b0"/><rect x="642" y="80.6" width="1" height="3.7" fill="#b0b0b0"/><rect x="643" y="79.4" width="1" height="4.9" fill="#c4c4c4"/><rect x="644" y="79.2" width="1" height="5.1" fill="#b0b0b0"/><rect x="645" y="80.2" width="1" height="4.1" fill="#b0b0b0"/><rect x="646" y="79.5" width="1" height="4.8" fill="#b0b0b0"/><rect x="647" y="79.2" width="1" height="5.1" fill="#b0b0b0"/><rect x="648" y="79.1" width="1" height="5.2" fill="#b0b0b0"/><rect x="649" y="80.2" width="1" height="4.1" fill="#b0b0b0"/><rect x="650" y="79.6" width="1" height="4.7" fill="#b0b0b0"/><rect x="651" y="80.9" width="1" height="3.4" fill="#b0b0b0"/><rect x="652" y="78.7" width="1" height="5.6" fill="#c4c4c4"/><rect x="653" y="81.4" width="1" height="2.9" fill="#b0b0b0"/><rect x="654" y="79.2" width="1" height="5.1" fill="#b0b0b0"/><rect x="655" y="80.6" width="1" height="3.7" fill="#b0b0b0"/><rect x="656" y="82.6" width="1" height="1.7" fill="#b0b0b0"/><rect x="657" y="79.4" width="1" height="4.9" fill="#b0b0b0"/><rect x="658" y="80.1" width="1" height="4.2" fill="#b0b0b0"/><rect x="659" y="79.8" width="1" height="4.5" fill="#b0b0b0"/><rect x="660" y="80.4" width="1" height="3.9" fill="#b0b0b0"/><rect x="661" y="79.8" width="1" height="4.5" fill="#b0b0b0"/><rect x="662" y="80.3" width="1" height="4.0" fill="#b0b0b0"/><rect x="663" y="80.1" width="1" height="4.2" fill="#b0b0b0"/><rect x="664" y="80.3" width="1" height="4.0" fill="#c4c4c4"/><rect x="665" y="78.4" width="1" height="5.9" fill="#c4c4c4"/><rect x="666" y="81.2" width="1" height="3.1" fill="#c4c4c4"/><rect x="667" y="78.1" width="1" height="6.2" fill="#b0b0b0"/><rect x="668" y="79.4" width="1" height="4.9" fill="#b0b0b0"/><rect x="669" y="79.7" width="1" height="4.6" fill="#b0b0b0"/><rect x="670" y="77.3" width="1" height="7.0" fill="#b0b0b0"/><rect x="671" y="79.6" width="1" height="4.7" fill="#b0b0b0"/><rect x="672" y="79.5" width="1" height="4.8" fill="#b0b0b0"/><rect x="673" y="80.0" width="1" height="4.3" fill="#b0b0b0"/><rect x="674" y="80.0" width="1" height="4.3" fill="#b0b0b0"/><rect x="675" y="79.5" width="1" height="4.8" fill="#b0b0b0"/><rect x="676" y="78.8" width="1" height="5.5" fill="#b0b0b0"/><rect x="677" y="80.5" width="1" height="3.8" fill="#c4c4c4"/><rect x="678" y="80.7" width="1" height="3.6" fill="#b0b0b0"/><rect x="679" y="81.2" width="1" height="3.1" fill="#b0b0b0"/><rect x="680" y="80.2" width="1" height="4.1" fill="#b0b0b0"/><rect x="681" y="79.9" width="1" height="4.4" fill="#b0b0b0"/><rect x="682" y="79.2" width="1" height="5.1" fill="#c4c4c4"/><rect x="683" y="80.1" width="1" height="4.2" fill="#b0b0b0"/><rect x="684" y="78.5" width="1" height="5.8" fill="#b0b0b0"/><rect x="685" y="79.9" width="1" height="4.4" fill="#b0b0b0"/><rect x="686" y="80.5" width="1" height="3.8" fill="#b0b0b0"/><rect x="687" y="79.3" width="1" height="5.0" fill="#b0b0b0"/><rect x="688" y="78.9" width="1" height="5.4" fill="#b0b0b0"/><rect x="689" y="80.2" width="1" height="4.1" fill="#c4c4c4"/><rect x="690" y="80.0" width="1" height="4.3" fill="#b0b0b0"/><rect x="691" y="79.5" width="1" height="4.8" fill="#b0b0b0"/><rect x="692" y="80.5" width="1" height="3.8" fill="#b0b0b0"/><rect x="693" y="80.3" width="1" height="4.0" fill="#b0b0b0"/><rect x="694" y="79.7" width="1" height="4.6" fill="#b0b0b0"/><rect x="695" y="77.6" width="1" height="6.7" fill="#b0b0b0"/><rect x="696" y="79.0" width="1" height="5.3" fill="#b0b0b0"/><rect x="697" y="80.7" width="1" height="3.6" fill="#b0b0b0"/><rect x="698" y="79.4" width="1" height="4.9" fill="#b0b0b0"/><rect x="76" y="74.8" width="3" height="1.6" fill="#999"/><rect x="80" y="74.8" width="4" height="1.6" fill="#999"/><rect x="79.9" y="78.0" width="1.1" height="6.3" fill="#22b422" fill-opacity="0.75"/><rect x="104.0" y="78.5" width="1.1" height="5.8" fill="#5050f0" fill-opacity="0.75"/><rect x="115.3" y="79.5" width="1.1" height="4.8" fill="#5050f0" fill-opacity="0.75"/><rect x="117.9" y="81.5" width="1.1" height="2.8" fill="#c41a1a" fill-opacity="0.75"/><rect x="125.3" y="79.0" width="1.1" height="5.3" fill="#d4882e" fill-opacity="0.75"/><rect x="135.9" y="79.0" width="1.1" height="5.3" fill="#5050f0" fill-opacity="0.75"/><rect x="143.7" y="79.5" width="1.1" height="4.8" fill="#5050f0" fill-opacity="0.75"/><rect x="150.9" y="80.5" width="1.1" height="3.8" fill="#d4882e" fill-opacity="0.75"/><rect x="171.0" y="79.5" width="1.1" height="4.8" fill="#d4882e" fill-opacity="0.75"/><rect x="173.9" y="78.5" width="1.1" height="5.8" fill="#22b422" fill-opacity="0.75"/><rect x="175.1" y="79.0" width="1.1" height="5.3" fill="#c41a1a" fill-opacity="0.75"/><rect x="176.4" y="79.5" width="1.1" height="4.8" fill="#5050f0" fill-opacity="0.75"/><rect x="181.4" y="79.0" width="1.1" height="5.3" fill="#c41a1a" fill-opacity="0.75"/><rect x="182.2" y="80.0" width="1.1" height="4.3" fill="#22b422" fill-opacity="0.75"/><rect x="184.5" y="80.5" width="1.1" height="3.8" fill="#d4882e" fill-opacity="0.75"/><rect x="190.5" y="79.5" width="1.1" height="4.8" fill="#d4882e" fill-opacity="0.75"/><rect x="198.1" y="80.0" width="1.1" height="4.3" fill="#d4882e" fill-opacity="0.75"/><rect x="203.1" y="80.5" width="1.1" height="3.8" fill="#d4882e" fill-opacity="0.75"/><rect x="216.2" y="80.0" width="1.1" height="4.3" fill="#d4882e" fill-opacity="0.75"/><rect x="222.4" y="80.5" width="1.1" height="3.8" fill="#5050f0" fill-opacity="0.75"/><rect x="227.9" y="79.0" width="1.1" height="5.3" fill="#5050f0" fill-opacity="0.75"/><rect x="259.9" y="79.5" width="1.1" height="4.8" fill="#c41a1a" fill-opacity="0.75"/><rect x="277.1" y="80.5" width="1.1" height="3.8" fill="#5050f0" fill-opacity="0.75"/><rect x="284.6" y="80.0" width="1.1" height="4.3" fill="#22b422" fill-opacity="0.75"/><rect x="288.0" y="79.5" width="1.1" height="4.8" fill="#22b422" fill-opacity="0.75"/><rect x="294.7" y="79.5" width="1.1" height="4.8" fill="#d4882e" fill-opacity="0.75"/><rect x="297.2" y="80.5" width="1.1" height="3.8" fill="#d4882e" fill-opacity="0.75"/><rect x="319.8" y="80.0" width="1.1" height="4.3" fill="#22b422" fill-opacity="0.75"/><rect x="329.8" y="80.5" width="1.1" height="3.8" fill="#5050f0" fill-opacity="0.75"/><rect x="334.0" y="78.0" width="1.1" height="6.3" fill="#d4882e" fill-opacity="0.75"/><rect x="340.7" y="79.5" width="1.1" height="4.8" fill="#5050f0" fill-opacity="0.75"/><rect x="363.8" y="81.0" width="1.1" height="3.3" fill="#22b422" fill-opacity="0.75"/><rect x="379.9" y="80.5" width="1.1" height="3.8" fill="#d4882e" fill-opacity="0.75"/><rect x="385.9" y="80.5" width="1.1" height="3.8" fill="#5050f0" fill-opacity="0.75"/><rect x="395.9" y="80.0" width="1.1" height="4.3" fill="#d4882e" fill-opacity="0.75"/><rect x="398.8" y="77.5" width="1.1" height="6.8" fill="#5050f0" fill-opacity="0.75"/><rect x="414.7" y="79.5" width="1.1" height="4.8" fill="#d4882e" fill-opacity="0.75"/><rect x="419.7" y="81.0" width="1.1" height="3.3" fill="#5050f0" fill-opacity="0.75"/><rect x="435.1" y="78.0" width="1.1" height="6.3" fill="#d4882e" fill-opacity="0.75"/><rect x="439.8" y="79.5" width="1.1" height="4.8" fill="#d4882e" fill-opacity="0.75"/><rect x="628.8" y="78.0" width="1.1" height="6.3" fill="#d4882e" fill-opacity="0.75"/><rect x="681.5" y="80.5" width="1.1" height="3.8" fill="#c41a1a" fill-opacity="0.75"/><g fill="#e2e2e2"><rect x="76" y="89.70" width="19" height="0.96"/><rect x="96" y="89.70" width="18" height="0.96"/><rect x="115" y="89.70" width="56" height="0.96"/><rect x="172" y="89.70" width="46" height="0.96"/><rect x="219" y="89.70" width="10" height="0.96"/><rect x="231" y="89.70" width="23" height="0.96"/><rect x="255" y="89.70" width="47" height="0.96"/><rect x="303" y="89.70" width="1" height="0.96"/><rect x="305" y="89.70" width="31" height="0.96"/><rect x="337" y="89.70" width="38" height="0.96"/><rect x="376" y="89.70" width="5" height="0.96"/><rect x="382" y="89.70" width="19" height="0.96"/><rect x="402" y="89.70" width="8" height="0.96"/><rect x="411" y="89.70" width="12" height="0.96"/><rect x="424" y="89.70" width="8" height="0.96"/><rect x="433" y="89.70" width="6" height="0.96"/><rect x="440" y="89.70" width="28" height="0.96"/><rect x="469" y="89.70" width="25" height="0.96"/><rect x="495" y="89.70" width="6" height="0.96"/><rect x="502" y="89.70" width="22" height="0.96"/><rect x="525" y="89.70" width="14" height="0.96"/><rect x="540" y="89.70" width="7" height="0.96"/><rect x="548" y="89.70" width="5" height="0.96"/><rect x="554" y="89.70" width="1" height="0.96"/><rect x="557" y="89.70" width="40" height="0.96"/><rect x="598" y="89.70" width="33" height="0.96"/><rect x="632" y="89.70" width="56" height="0.96"/><rect x="689" y="89.70" width="11" height="0.96"/><rect x="76" y="93.36" width="19" height="0.96"/><rect x="96" y="93.36" width="26" height="0.96"/><rect x="123" y="93.36" width="51" height="0.96"/><rect x="175" y="93.36" width="4" height="0.96"/><rect x="180" y="93.36" width="25" height="0.96"/><rect x="206" y="93.36" width="12" height="0.96"/><rect x="219" y="93.36" width="11" height="0.96"/><rect x="231" y="93.36" width="44" height="0.96"/><rect x="276" y="93.36" width="7" height="0.96"/><rect x="284" y="93.36" width="86" height="0.96"/><rect x="371" y="93.36" width="4" height="0.96"/><rect x="376" y="93.36" width="25" height="0.96"/><rect x="402" y="93.36" width="21" height="0.96"/><rect x="424" y="93.36" width="8" height="0.96"/><rect x="433" y="93.36" width="6" height="0.96"/><rect x="440" y="93.36" width="2" height="0.96"/><rect x="443" y="93.36" width="51" height="0.96"/><rect x="495" y="93.36" width="6" height="0.96"/><rect x="502" y="93.36" width="53" height="0.96"/><rect x="557" y="93.36" width="18" height="0.96"/><rect x="576" y="93.36" width="21" height="0.96"/><rect x="598" y="93.36" width="9" height="0.96"/><rect x="608" y="93.36" width="18" height="0.96"/><rect x="627" y="93.36" width="4" height="0.96"/><rect x="632" y="93.36" width="48" height="0.96"/><rect x="681" y="93.36" width="7" height="0.96"/><rect x="689" y="93.36" width="11" height="0.96"/><rect x="76" y="97.02" width="4" height="0.96"/><rect x="81" y="97.02" width="41" height="0.96"/><rect x="123" y="97.02" width="17" height="0.96"/><rect x="141" y="97.02" width="13" height="0.96"/><rect x="155" y="97.02" width="11" height="0.96"/><rect x="167" y="97.02" width="7" height="0.96"/><rect x="175" y="97.02" width="4" height="0.96"/><rect x="180" y="97.02" width="25" height="0.96"/><rect x="206" y="97.02" width="61" height="0.96"/><rect x="268" y="97.02" width="7" height="0.96"/><rect x="276" y="97.02" width="7" height="0.96"/><rect x="284" y="97.02" width="33" height="0.96"/><rect x="318" y="97.02" width="30" height="0.96"/><rect x="349" y="97.02" width="21" height="0.96"/><rect x="371" y="97.02" width="62" height="0.96"/><rect x="434" y="97.02" width="2" height="0.96"/><rect x="437" y="97.02" width="2" height="0.96"/><rect x="440" y="97.02" width="2" height="0.96"/><rect x="443" y="97.02" width="4" height="0.96"/><rect x="448" y="97.02" width="13" height="0.96"/><rect x="462" y="97.02" width="113" height="0.96"/><rect x="576" y="97.02" width="31" height="0.96"/><rect x="608" y="97.02" width="16" height="0.96"/><rect x="625" y="97.02" width="1" height="0.96"/><rect x="627" y="97.02" width="53" height="0.96"/><rect x="681" y="97.02" width="19" height="0.96"/><rect x="76" y="100.68" width="1" height="0.96"/><rect x="78" y="100.68" width="2" height="0.96"/><rect x="81" y="100.68" width="27" height="0.96"/><rect x="109" y="100.68" width="31" height="0.96"/><rect x="141" y="100.68" width="3" height="0.96"/><rect x="145" y="100.68" width="9" height="0.96"/><rect x="156" y="100.68" width="10" height="0.96"/><rect x="167" y="100.68" width="100" height="0.96"/><rect x="268" y="100.68" width="49" height="0.96"/><rect x="318" y="100.68" width="12" height="0.96"/><rect x="331" y="100.68" width="17" height="0.96"/><rect x="350" y="100.68" width="20" height="0.96"/><rect x="371" y="100.68" width="13" height="0.96"/><rect x="385" y="100.68" width="8" height="0.96"/><rect x="394" y="100.68" width="39" height="0.96"/><rect x="434" y="100.68" width="2" height="0.96"/><rect x="437" y="100.68" width="10" height="0.96"/><rect x="448" y="100.68" width="13" height="0.96"/><rect x="462" y="100.68" width="99" height="0.96"/><rect x="562" y="100.68" width="21" height="0.96"/><rect x="584" y="100.68" width="40" height="0.96"/><rect x="625" y="100.68" width="17" height="0.96"/><rect x="643" y="100.68" width="7" height="0.96"/><rect x="651" y="100.68" width="49" height="0.96"/><rect x="76" y="104.34" width="1" height="0.96"/><rect x="78" y="104.34" width="22" height="0.96"/><rect x="101" y="104.34" width="7" height="0.96"/><rect x="109" y="104.34" width="8" height="0.96"/><rect x="118" y="104.34" width="26" height="0.96"/><rect x="145" y="104.34" width="1" height="0.96"/><rect x="147" y="104.34" width="8" height="0.96"/><rect x="156" y="104.34" width="76" height="0.96"/><rect x="233" y="104.34" width="4" height="0.96"/><rect x="238" y="104.34" width="31" height="0.96"/><rect x="270" y="104.34" width="15" height="0.96"/><rect x="286" y="104.34" width="44" height="0.96"/><rect x="331" y="104.34" width="18" height="0.96"/><rect x="350" y="104.34" width="34" height="0.96"/><rect x="385" y="104.34" width="8" height="0.96"/><rect x="394" y="104.34" width="28" height="0.96"/><rect x="423" y="104.34" width="112" height="0.96"/><rect x="536" y="104.34" width="20" height="0.96"/><rect x="557" y="104.34" width="4" height="0.96"/><rect x="562" y="104.34" width="13" height="0.96"/><rect x="576" y="104.34" width="7" height="0.96"/><rect x="584" y="104.34" width="18" height="0.96"/><rect x="603" y="104.34" width="29" height="0.96"/><rect x="633" y="104.34" width="9" height="0.96"/><rect x="643" y="104.34" width="7" height="0.96"/><rect x="651" y="104.34" width="5" height="0.96"/><rect x="657" y="104.34" width="14" height="0.96"/><rect x="672" y="104.34" width="17" height="0.96"/><rect x="690" y="104.34" width="10" height="0.96"/><rect x="76" y="108.00" width="1" height="0.96"/><rect x="78" y="108.00" width="22" height="0.96"/><rect x="101" y="108.00" width="16" height="0.96"/><rect x="118" y="108.00" width="17" height="0.96"/><rect x="136" y="108.00" width="5" height="0.96"/><rect x="142" y="108.00" width="2" height="0.96"/><rect x="145" y="108.00" width="1" height="0.96"/><rect x="147" y="108.00" width="1" height="0.96"/><rect x="149" y="108.00" width="2" height="0.96"/><rect x="152" y="108.00" width="4" height="0.96"/><rect x="157" y="108.00" width="31" height="0.96"/><rect x="189" y="108.00" width="43" height="0.96"/><rect x="234" y="108.00" width="3" height="0.96"/><rect x="238" y="108.00" width="5" height="0.96"/><rect x="244" y="108.00" width="21" height="0.96"/><rect x="266" y="108.00" width="3" height="0.96"/><rect x="270" y="108.00" width="15" height="0.96"/><rect x="286" y="108.00" width="21" height="0.96"/><rect x="309" y="108.00" width="9" height="0.96"/><rect x="319" y="108.00" width="28" height="0.96"/><rect x="348" y="108.00" width="23" height="0.96"/><rect x="372" y="108.00" width="10" height="0.96"/><rect x="383" y="108.00" width="1" height="0.96"/><rect x="385" y="108.00" width="23" height="0.96"/><rect x="409" y="108.00" width="13" height="0.96"/><rect x="423" y="108.00" width="24" height="0.96"/><rect x="448" y="108.00" width="37" height="0.96"/><rect x="486" y="108.00" width="2" height="0.96"/><rect x="489" y="108.00" width="6" height="0.96"/><rect x="496" y="108.00" width="12" height="0.96"/><rect x="509" y="108.00" width="26" height="0.96"/><rect x="537" y="108.00" width="18" height="0.96"/><rect x="557" y="108.00" width="18" height="0.96"/><rect x="576" y="108.00" width="14" height="0.96"/><rect x="591" y="108.00" width="11" height="0.96"/><rect x="603" y="108.00" width="2" height="0.96"/><rect x="606" y="108.00" width="26" height="0.96"/><rect x="633" y="108.00" width="1" height="0.96"/><rect x="635" y="108.00" width="2" height="0.96"/><rect x="638" y="108.00" width="18" height="0.96"/><rect x="657" y="108.00" width="14" height="0.96"/><rect x="672" y="108.00" width="17" height="0.96"/><rect x="690" y="108.00" width="6" height="0.96"/><rect x="697" y="108.00" width="3" height="0.96"/><rect x="76" y="111.66" width="1" height="0.96"/><rect x="78" y="111.66" width="31" height="0.96"/><rect x="110" y="111.66" width="4" height="0.96"/><rect x="115" y="111.66" width="2" height="0.96"/><rect x="118" y="111.66" width="11" height="0.96"/><rect x="130" y="111.66" width="5" height="0.96"/><rect x="136" y="111.66" width="5" height="0.96"/><rect x="142" y="111.66" width="2" height="0.96"/><rect x="145" y="111.66" width="1" height="0.96"/><rect x="149" y="111.66" width="2" height="0.96"/><rect x="152" y="111.66" width="4" height="0.96"/><rect x="157" y="111.66" width="31" height="0.96"/><rect x="189" y="111.66" width="8" height="0.96"/><rect x="198" y="111.66" width="9" height="0.96"/><rect x="208" y="111.66" width="16" height="0.96"/><rect x="225" y="111.66" width="8" height="0.96"/><rect x="234" y="111.66" width="9" height="0.96"/><rect x="244" y="111.66" width="7" height="0.96"/><rect x="252" y="111.66" width="13" height="0.96"/><rect x="266" y="111.66" width="30" height="0.96"/><rect x="299" y="111.66" width="6" height="0.96"/><rect x="306" y="111.66" width="1" height="0.96"/><rect x="309" y="111.66" width="9" height="0.96"/><rect x="319" y="111.66" width="24" height="0.96"/><rect x="344" y="111.66" width="3" height="0.96"/><rect x="348" y="111.66" width="4" height="0.96"/><rect x="353" y="111.66" width="18" height="0.96"/><rect x="372" y="111.66" width="4" height="0.96"/><rect x="377" y="111.66" width="5" height="0.96"/><rect x="383" y="111.66" width="1" height="0.96"/><rect x="385" y="111.66" width="23" height="0.96"/><rect x="409" y="111.66" width="38" height="0.96"/><rect x="448" y="111.66" width="8" height="0.96"/><rect x="457" y="111.66" width="24" height="0.96"/><rect x="482" y="111.66" width="3" height="0.96"/><rect x="486" y="111.66" width="2" height="0.96"/><rect x="489" y="111.66" width="6" height="0.96"/><rect x="496" y="111.66" width="12" height="0.96"/><rect x="509" y="111.66" width="27" height="0.96"/><rect x="537" y="111.66" width="18" height="0.96"/><rect x="556" y="111.66" width="3" height="0.96"/><rect x="560" y="111.66" width="22" height="0.96"/><rect x="583" y="111.66" width="3" height="0.96"/><rect x="587" y="111.66" width="3" height="0.96"/><rect x="591" y="111.66" width="3" height="0.96"/><rect x="595" y="111.66" width="2" height="0.96"/><rect x="598" y="111.66" width="7" height="0.96"/><rect x="606" y="111.66" width="2" height="0.96"/><rect x="609" y="111.66" width="12" height="0.96"/><rect x="622" y="111.66" width="12" height="0.96"/><rect x="635" y="111.66" width="2" height="0.96"/><rect x="638" y="111.66" width="2" height="0.96"/><rect x="642" y="111.66" width="9" height="0.96"/><rect x="652" y="111.66" width="3" height="0.96"/><rect x="656" y="111.66" width="15" height="0.96"/><rect x="672" y="111.66" width="12" height="0.96"/><rect x="687" y="111.66" width="6" height="0.96"/><rect x="694" y="111.66" width="2" height="0.96"/><rect x="697" y="111.66" width="3" height="0.96"/><rect x="76" y="115.32" width="1" height="0.96"/><rect x="78" y="115.32" width="8" height="0.96"/><rect x="87" y="115.32" width="17" height="0.96"/><rect x="105" y="115.32" width="4" height="0.96"/><rect x="110" y="115.32" width="4" height="0.96"/><rect x="115" y="115.32" width="6" height="0.96"/><rect x="122" y="115.32" width="7" height="0.96"/><rect x="130" y="115.32" width="3" height="0.96"/><rect x="135" y="115.32" width="6" height="0.96"/><rect x="142" y="115.32" width="4" height="0.96"/><rect x="148" y="115.32" width="3" height="0.96"/><rect x="152" y="115.32" width="2" height="0.96"/><rect x="155" y="115.32" width="5" height="0.96"/><rect x="161" y="115.32" width="18" height="0.96"/><rect x="180" y="115.32" width="17" height="0.96"/><rect x="198" y="115.32" width="9" height="0.96"/><rect x="208" y="115.32" width="16" height="0.96"/><rect x="225" y="115.32" width="8" height="0.96"/><rect x="234" y="115.32" width="17" height="0.96"/><rect x="252" y="115.32" width="22" height="0.96"/><rect x="275" y="115.32" width="4" height="0.96"/><rect x="280" y="115.32" width="5" height="0.96"/><rect x="286" y="115.32" width="10" height="0.96"/><rect x="299" y="115.32" width="6" height="0.96"/><rect x="306" y="115.32" width="11" height="0.96"/><rect x="318" y="115.32" width="25" height="0.96"/><rect x="344" y="115.32" width="3" height="0.96"/><rect x="348" y="115.32" width="4" height="0.96"/><rect x="353" y="115.32" width="23" height="0.96"/><rect x="379" y="115.32" width="3" height="0.96"/><rect x="383" y="115.32" width="1" height="0.96"/><rect x="386" y="115.32" width="21" height="0.96"/><rect x="408" y="115.32" width="1" height="0.96"/><rect x="410" y="115.32" width="7" height="0.96"/><rect x="418" y="115.32" width="12" height="0.96"/><rect x="431" y="115.32" width="13" height="0.96"/><rect x="445" y="115.32" width="2" height="0.96"/><rect x="448" y="115.32" width="5" height="0.96"/><rect x="454" y="115.32" width="2" height="0.96"/><rect x="457" y="115.32" width="23" height="0.96"/><rect x="482" y="115.32" width="2" height="0.96"/><rect x="485" y="115.32" width="7" height="0.96"/><rect x="493" y="115.32" width="9" height="0.96"/><rect x="503" y="115.32" width="5" height="0.96"/><rect x="509" y="115.32" width="1" height="0.96"/><rect x="511" y="115.32" width="2" height="0.96"/><rect x="514" y="115.32" width="6" height="0.96"/><rect x="521" y="115.32" width="14" height="0.96"/><rect x="536" y="115.32" width="2" height="0.96"/><rect x="539" y="115.32" width="16" height="0.96"/><rect x="556" y="115.32" width="1" height="0.96"/><rect x="558" y="115.32" width="1" height="0.96"/><rect x="560" y="115.32" width="8" height="0.96"/><rect x="569" y="115.32" width="1" height="0.96"/><rect x="571" y="115.32" width="10" height="0.96"/><rect x="583" y="115.32" width="3" height="0.96"/><rect x="587" y="115.32" width="7" height="0.96"/><rect x="595" y="115.32" width="2" height="0.96"/><rect x="598" y="115.32" width="10" height="0.96"/><rect x="609" y="115.32" width="12" height="0.96"/><rect x="622" y="115.32" width="15" height="0.96"/><rect x="638" y="115.32" width="2" height="0.96"/><rect x="644" y="115.32" width="7" height="0.96"/><rect x="652" y="115.32" width="2" height="0.96"/><rect x="656" y="115.32" width="9" height="0.96"/><rect x="666" y="115.32" width="5" height="0.96"/><rect x="672" y="115.32" width="11" height="0.96"/><rect x="687" y="115.32" width="6" height="0.96"/><rect x="694" y="115.32" width="2" height="0.96"/><rect x="697" y="115.32" width="3" height="0.96"/><rect x="76" y="118.98" width="1" height="0.96"/><rect x="78" y="118.98" width="8" height="0.96"/><rect x="87" y="118.98" width="2" height="0.96"/><rect x="91" y="118.98" width="9" height="0.96"/><rect x="101" y="118.98" width="3" height="0.96"/><rect x="105" y="118.98" width="4" height="0.96"/><rect x="110" y="118.98" width="11" height="0.96"/><rect x="122" y="118.98" width="7" height="0.96"/><rect x="130" y="118.98" width="3" height="0.96"/><rect x="135" y="118.98" width="6" height="0.96"/><rect x="142" y="118.98" width="4" height="0.96"/><rect x="147" y="118.98" width="2" height="0.96"/><rect x="150" y="118.98" width="1" height="0.96"/><rect x="152" y="118.98" width="2" height="0.96"/><rect x="155" y="118.98" width="5" height="0.96"/><rect x="161" y="118.98" width="18" height="0.96"/><rect x="180" y="118.98" width="10" height="0.96"/><rect x="191" y="118.98" width="3" height="0.96"/><rect x="195" y="118.98" width="9" height="0.96"/><rect x="205" y="118.98" width="8" height="0.96"/><rect x="214" y="118.98" width="19" height="0.96"/><rect x="234" y="118.98" width="22" height="0.96"/><rect x="257" y="118.98" width="16" height="0.96"/><rect x="275" y="118.98" width="4" height="0.96"/><rect x="280" y="118.98" width="5" height="0.96"/><rect x="286" y="118.98" width="2" height="0.96"/><rect x="289" y="118.98" width="7" height="0.96"/><rect x="297" y="118.98" width="20" height="0.96"/><rect x="318" y="118.98" width="28" height="0.96"/><rect x="348" y="118.98" width="4" height="0.96"/><rect x="354" y="118.98" width="23" height="0.96"/><rect x="379" y="118.98" width="3" height="0.96"/><rect x="383" y="118.98" width="1" height="0.96"/><rect x="386" y="118.98" width="6" height="0.96"/><rect x="393" y="118.98" width="8" height="0.96"/><rect x="402" y="118.98" width="1" height="0.96"/><rect x="404" y="118.98" width="3" height="0.96"/><rect x="408" y="118.98" width="1" height="0.96"/><rect x="410" y="118.98" width="7" height="0.96"/><rect x="418" y="118.98" width="12" height="0.96"/><rect x="431" y="118.98" width="13" height="0.96"/><rect x="445" y="118.98" width="2" height="0.96"/><rect x="448" y="118.98" width="5" height="0.96"/><rect x="454" y="118.98" width="14" height="0.96"/><rect x="469" y="118.98" width="1" height="0.96"/><rect x="471" y="118.98" width="4" height="0.96"/><rect x="476" y="118.98" width="1" height="0.96"/><rect x="478" y="118.98" width="2" height="0.96"/><rect x="481" y="118.98" width="3" height="0.96"/><rect x="486" y="118.98" width="6" height="0.96"/><rect x="493" y="118.98" width="9" height="0.96"/><rect x="503" y="118.98" width="3" height="0.96"/><rect x="509" y="118.98" width="1" height="0.96"/><rect x="512" y="118.98" width="1" height="0.96"/><rect x="514" y="118.98" width="6" height="0.96"/><rect x="521" y="118.98" width="11" height="0.96"/><rect x="533" y="118.98" width="2" height="0.96"/><rect x="536" y="118.98" width="1" height="0.96"/><rect x="539" y="118.98" width="1" height="0.96"/><rect x="541" y="118.98" width="14" height="0.96"/><rect x="556" y="118.98" width="1" height="0.96"/><rect x="558" y="118.98" width="10" height="0.96"/><rect x="569" y="118.98" width="1" height="0.96"/><rect x="571" y="118.98" width="2" height="0.96"/><rect x="574" y="118.98" width="1" height="0.96"/><rect x="576" y="118.98" width="5" height="0.96"/><rect x="582" y="118.98" width="41" height="0.96"/><rect x="625" y="118.98" width="12" height="0.96"/><rect x="638" y="118.98" width="4" height="0.96"/><rect x="644" y="118.98" width="10" height="0.96"/><rect x="655" y="118.98" width="7" height="0.96"/><rect x="663" y="118.98" width="2" height="0.96"/><rect x="666" y="118.98" width="4" height="0.96"/><rect x="672" y="118.98" width="10" height="0.96"/><rect x="685" y="118.98" width="11" height="0.96"/><rect x="697" y="118.98" width="3" height="0.96"/><rect x="76" y="122.64" width="1" height="0.96"/><rect x="79" y="122.64" width="2" height="0.96"/><rect x="82" y="122.64" width="4" height="0.96"/><rect x="87" y="122.64" width="2" height="0.96"/><rect x="91" y="122.64" width="3" height="0.96"/><rect x="95" y="122.64" width="5" height="0.96"/><rect x="101" y="122.64" width="1" height="0.96"/><rect x="103" y="122.64" width="6" height="0.96"/><rect x="110" y="122.64" width="5" height="0.96"/><rect x="116" y="122.64" width="3" height="0.96"/><rect x="120" y="122.64" width="21" height="0.96"/><rect x="142" y="122.64" width="4" height="0.96"/><rect x="147" y="122.64" width="2" height="0.96"/><rect x="150" y="122.64" width="1" height="0.96"/><rect x="152" y="122.64" width="2" height="0.96"/><rect x="156" y="122.64" width="4" height="0.96"/><rect x="161" y="122.64" width="14" height="0.96"/><rect x="176" y="122.64" width="5" height="0.96"/><rect x="182" y="122.64" width="8" height="0.96"/><rect x="191" y="122.64" width="3" height="0.96"/><rect x="195" y="122.64" width="5" height="0.96"/><rect x="201" y="122.64" width="1" height="0.96"/><rect x="203" y="122.64" width="1" height="0.96"/><rect x="205" y="122.64" width="6" height="0.96"/><rect x="212" y="122.64" width="1" height="0.96"/><rect x="215" y="122.64" width="8" height="0.96"/><rect x="224" y="122.64" width="6" height="0.96"/><rect x="231" y="122.64" width="16" height="0.96"/><rect x="248" y="122.64" width="8" height="0.96"/><rect x="257" y="122.64" width="16" height="0.96"/><rect x="275" y="122.64" width="13" height="0.96"/><rect x="289" y="122.64" width="7" height="0.96"/><rect x="297" y="122.64" width="14" height="0.96"/><rect x="312" y="122.64" width="3" height="0.96"/><rect x="316" y="122.64" width="1" height="0.96"/><rect x="318" y="122.64" width="4" height="0.96"/><rect x="324" y="122.64" width="13" height="0.96"/><rect x="339" y="122.64" width="7" height="0.96"/><rect x="348" y="122.64" width="4" height="0.96"/><rect x="354" y="122.64" width="12" height="0.96"/><rect x="367" y="122.64" width="5" height="0.96"/><rect x="373" y="122.64" width="4" height="0.96"/><rect x="379" y="122.64" width="3" height="0.96"/><rect x="383" y="122.64" width="1" height="0.96"/><rect x="385" y="122.64" width="7" height="0.96"/><rect x="393" y="122.64" width="8" height="0.96"/><rect x="402" y="122.64" width="1" height="0.96"/><rect x="404" y="122.64" width="13" height="0.96"/><rect x="418" y="122.64" width="12" height="0.96"/><rect x="431" y="122.64" width="23" height="0.96"/><rect x="455" y="122.64" width="2" height="0.96"/><rect x="458" y="122.64" width="10" height="0.96"/><rect x="469" y="122.64" width="1" height="0.96"/><rect x="471" y="122.64" width="4" height="0.96"/><rect x="476" y="122.64" width="1" height="0.96"/><rect x="478" y="122.64" width="3" height="0.96"/><rect x="482" y="122.64" width="3" height="0.96"/><rect x="486" y="122.64" width="20" height="0.96"/><rect x="509" y="122.64" width="2" height="0.96"/><rect x="512" y="122.64" width="7" height="0.96"/><rect x="520" y="122.64" width="8" height="0.96"/><rect x="529" y="122.64" width="3" height="0.96"/><rect x="533" y="122.64" width="4" height="0.96"/><rect x="538" y="122.64" width="2" height="0.96"/><rect x="541" y="122.64" width="14" height="0.96"/><rect x="556" y="122.64" width="3" height="0.96"/><rect x="560" y="122.64" width="8" height="0.96"/><rect x="569" y="122.64" width="4" height="0.96"/><rect x="574" y="122.64" width="1" height="0.96"/><rect x="576" y="122.64" width="5" height="0.96"/><rect x="582" y="122.64" width="3" height="0.96"/><rect x="586" y="122.64" width="37" height="0.96"/><rect x="625" y="122.64" width="5" height="0.96"/><rect x="631" y="122.64" width="6" height="0.96"/><rect x="639" y="122.64" width="2" height="0.96"/><rect x="643" y="122.64" width="1" height="0.96"/><rect x="645" y="122.64" width="11" height="0.96"/><rect x="658" y="122.64" width="4" height="0.96"/><rect x="663" y="122.64" width="7" height="0.96"/><rect x="672" y="122.64" width="6" height="0.96"/><rect x="679" y="122.64" width="3" height="0.96"/><rect x="683" y="122.64" width="1" height="0.96"/><rect x="685" y="122.64" width="10" height="0.96"/><rect x="696" y="122.64" width="4" height="0.96"/><rect x="76" y="126.30" width="1" height="0.96"/><rect x="79" y="126.30" width="2" height="0.96"/><rect x="82" y="126.30" width="7" height="0.96"/><rect x="91" y="126.30" width="3" height="0.96"/><rect x="95" y="126.30" width="7" height="0.96"/><rect x="103" y="126.30" width="1" height="0.96"/><rect x="105" y="126.30" width="3" height="0.96"/><rect x="111" y="126.30" width="3" height="0.96"/><rect x="116" y="126.30" width="3" height="0.96"/><rect x="120" y="126.30" width="12" height="0.96"/><rect x="133" y="126.30" width="8" height="0.96"/><rect x="142" y="126.30" width="1" height="0.96"/><rect x="144" y="126.30" width="2" height="0.96"/><rect x="147" y="126.30" width="1" height="0.96"/><rect x="150" y="126.30" width="1" height="0.96"/><rect x="152" y="126.30" width="1" height="0.96"/><rect x="156" y="126.30" width="2" height="0.96"/><rect x="159" y="126.30" width="1" height="0.96"/><rect x="161" y="126.30" width="14" height="0.96"/><rect x="177" y="126.30" width="4" height="0.96"/><rect x="182" y="126.30" width="7" height="0.96"/><rect x="190" y="126.30" width="6" height="0.96"/><rect x="197" y="126.30" width="3" height="0.96"/><rect x="203" y="126.30" width="2" height="0.96"/><rect x="206" y="126.30" width="4" height="0.96"/><rect x="212" y="126.30" width="1" height="0.96"/><rect x="217" y="126.30" width="6" height="0.96"/><rect x="225" y="126.30" width="5" height="0.96"/><rect x="231" y="126.30" width="10" height="0.96"/><rect x="242" y="126.30" width="5" height="0.96"/><rect x="248" y="126.30" width="24" height="0.96"/><rect x="273" y="126.30" width="1" height="0.96"/><rect x="275" y="126.30" width="8" height="0.96"/><rect x="285" y="126.30" width="11" height="0.96"/><rect x="297" y="126.30" width="2" height="0.96"/><rect x="300" y="126.30" width="11" height="0.96"/><rect x="312" y="126.30" width="3" height="0.96"/><rect x="316" y="126.30" width="1" height="0.96"/><rect x="318" y="126.30" width="4" height="0.96"/><rect x="324" y="126.30" width="13" height="0.96"/><rect x="339" y="126.30" width="8" height="0.96"/><rect x="348" y="126.30" width="4" height="0.96"/><rect x="353" y="126.30" width="4" height="0.96"/><rect x="358" y="126.30" width="2" height="0.96"/><rect x="362" y="126.30" width="4" height="0.96"/><rect x="367" y="126.30" width="5" height="0.96"/><rect x="373" y="126.30" width="5" height="0.96"/><rect x="379" y="126.30" width="3" height="0.96"/><rect x="383" y="126.30" width="1" height="0.96"/><rect x="386" y="126.30" width="2" height="0.96"/><rect x="391" y="126.30" width="4" height="0.96"/><rect x="397" y="126.30" width="31" height="0.96"/><rect x="429" y="126.30" width="1" height="0.96"/><rect x="431" y="126.30" width="7" height="0.96"/><rect x="440" y="126.30" width="11" height="0.96"/><rect x="452" y="126.30" width="2" height="0.96"/><rect x="455" y="126.30" width="2" height="0.96"/><rect x="458" y="126.30" width="22" height="0.96"/><rect x="482" y="126.30" width="21" height="0.96"/><rect x="504" y="126.30" width="4" height="0.96"/><rect x="509" y="126.30" width="3" height="0.96"/><rect x="513" y="126.30" width="5" height="0.96"/><rect x="520" y="126.30" width="4" height="0.96"/><rect x="525" y="126.30" width="1" height="0.96"/><rect x="527" y="126.30" width="1" height="0.96"/><rect x="529" y="126.30" width="3" height="0.96"/><rect x="533" y="126.30" width="22" height="0.96"/><rect x="556" y="126.30" width="3" height="0.96"/><rect x="560" y="126.30" width="8" height="0.96"/><rect x="570" y="126.30" width="6" height="0.96"/><rect x="578" y="126.30" width="3" height="0.96"/><rect x="582" y="126.30" width="3" height="0.96"/><rect x="586" y="126.30" width="13" height="0.96"/><rect x="600" y="126.30" width="1" height="0.96"/><rect x="602" y="126.30" width="7" height="0.96"/><rect x="611" y="126.30" width="1" height="0.96"/><rect x="613" y="126.30" width="9" height="0.96"/><rect x="623" y="126.30" width="7" height="0.96"/><rect x="631" y="126.30" width="6" height="0.96"/><rect x="639" y="126.30" width="2" height="0.96"/><rect x="643" y="126.30" width="1" height="0.96"/><rect x="645" y="126.30" width="11" height="0.96"/><rect x="658" y="126.30" width="13" height="0.96"/><rect x="672" y="126.30" width="6" height="0.96"/><rect x="679" y="126.30" width="5" height="0.96"/><rect x="685" y="126.30" width="5" height="0.96"/><rect x="691" y="126.30" width="4" height="0.96"/><rect x="696" y="126.30" width="4" height="0.96"/><rect x="76" y="129.96" width="1" height="0.96"/><rect x="78" y="129.96" width="3" height="0.96"/><rect x="82" y="129.96" width="7" height="0.96"/><rect x="91" y="129.96" width="6" height="0.96"/><rect x="98" y="129.96" width="2" height="0.96"/><rect x="101" y="129.96" width="3" height="0.96"/><rect x="105" y="129.96" width="3" height="0.96"/><rect x="111" y="129.96" width="3" height="0.96"/><rect x="115" y="129.96" width="2" height="0.96"/><rect x="118" y="129.96" width="1" height="0.96"/><rect x="123" y="129.96" width="2" height="0.96"/><rect x="126" y="129.96" width="6" height="0.96"/><rect x="133" y="129.96" width="8" height="0.96"/><rect x="142" y="129.96" width="1" height="0.96"/><rect x="144" y="129.96" width="2" height="0.96"/><rect x="147" y="129.96" width="1" height="0.96"/><rect x="149" y="129.96" width="2" height="0.96"/><rect x="152" y="129.96" width="1" height="0.96"/><rect x="156" y="129.96" width="2" height="0.96"/><rect x="159" y="129.96" width="1" height="0.96"/><rect x="161" y="129.96" width="10" height="0.96"/><rect x="172" y="129.96" width="2" height="0.96"/><rect x="175" y="129.96" width="1" height="0.96"/><rect x="177" y="129.96" width="5" height="0.96"/><rect x="183" y="129.96" width="3" height="0.96"/><rect x="187" y="129.96" width="2" height="0.96"/><rect x="190" y="129.96" width="5" height="0.96"/><rect x="197" y="129.96" width="3" height="0.96"/><rect x="202" y="129.96" width="2" height="0.96"/><rect x="207" y="129.96" width="3" height="0.96"/><rect x="211" y="129.96" width="2" height="0.96"/><rect x="214" y="129.96" width="1" height="0.96"/><rect x="217" y="129.96" width="7" height="0.96"/><rect x="225" y="129.96" width="16" height="0.96"/><rect x="242" y="129.96" width="5" height="0.96"/><rect x="248" y="129.96" width="4" height="0.96"/><rect x="253" y="129.96" width="6" height="0.96"/><rect x="260" y="129.96" width="12" height="0.96"/><rect x="273" y="129.96" width="1" height="0.96"/><rect x="275" y="129.96" width="8" height="0.96"/><rect x="285" y="129.96" width="1" height="0.96"/><rect x="287" y="129.96" width="9" height="0.96"/><rect x="297" y="129.96" width="1" height="0.96"/><rect x="300" y="129.96" width="1" height="0.96"/><rect x="304" y="129.96" width="13" height="0.96"/><rect x="318" y="129.96" width="5" height="0.96"/><rect x="324" y="129.96" width="3" height="0.96"/><rect x="328" y="129.96" width="19" height="0.96"/><rect x="348" y="129.96" width="4" height="0.96"/><rect x="353" y="129.96" width="4" height="0.96"/><rect x="358" y="129.96" width="2" height="0.96"/><rect x="362" y="129.96" width="14" height="0.96"/><rect x="377" y="129.96" width="1" height="0.96"/><rect x="379" y="129.96" width="3" height="0.96"/><rect x="386" y="129.96" width="2" height="0.96"/><rect x="391" y="129.96" width="4" height="0.96"/><rect x="398" y="129.96" width="2" height="0.96"/><rect x="401" y="129.96" width="4" height="0.96"/><rect x="406" y="129.96" width="4" height="0.96"/><rect x="411" y="129.96" width="2" height="0.96"/><rect x="414" y="129.96" width="14" height="0.96"/><rect x="429" y="129.96" width="9" height="0.96"/><rect x="440" y="129.96" width="5" height="0.96"/><rect x="446" y="129.96" width="5" height="0.96"/><rect x="452" y="129.96" width="8" height="0.96"/><rect x="461" y="129.96" width="9" height="0.96"/><rect x="471" y="129.96" width="9" height="0.96"/><rect x="481" y="129.96" width="22" height="0.96"/><rect x="504" y="129.96" width="4" height="0.96"/><rect x="509" y="129.96" width="3" height="0.96"/><rect x="513" y="129.96" width="3" height="0.96"/><rect x="517" y="129.96" width="1" height="0.96"/><rect x="519" y="129.96" width="5" height="0.96"/><rect x="525" y="129.96" width="1" height="0.96"/><rect x="527" y="129.96" width="4" height="0.96"/><rect x="532" y="129.96" width="9" height="0.96"/><rect x="542" y="129.96" width="2" height="0.96"/><rect x="545" y="129.96" width="3" height="0.96"/><rect x="549" y="129.96" width="5" height="0.96"/><rect x="556" y="129.96" width="9" height="0.96"/><rect x="566" y="129.96" width="3" height="0.96"/><rect x="570" y="129.96" width="6" height="0.96"/><rect x="578" y="129.96" width="3" height="0.96"/><rect x="582" y="129.96" width="12" height="0.96"/><rect x="595" y="129.96" width="2" height="0.96"/><rect x="598" y="129.96" width="1" height="0.96"/><rect x="600" y="129.96" width="1" height="0.96"/><rect x="602" y="129.96" width="7" height="0.96"/><rect x="611" y="129.96" width="1" height="0.96"/><rect x="613" y="129.96" width="9" height="0.96"/><rect x="623" y="129.96" width="8" height="0.96"/><rect x="632" y="129.96" width="3" height="0.96"/><rect x="636" y="129.96" width="1" height="0.96"/><rect x="638" y="129.96" width="4" height="0.96"/><rect x="643" y="129.96" width="3" height="0.96"/><rect x="647" y="129.96" width="2" height="0.96"/><rect x="650" y="129.96" width="3" height="0.96"/><rect x="654" y="129.96" width="5" height="0.96"/><rect x="660" y="129.96" width="11" height="0.96"/><rect x="672" y="129.96" width="3" height="0.96"/><rect x="676" y="129.96" width="2" height="0.96"/><rect x="679" y="129.96" width="11" height="0.96"/><rect x="692" y="129.96" width="2" height="0.96"/><rect x="695" y="129.96" width="5" height="0.96"/><rect x="76" y="133.62" width="1" height="0.96"/><rect x="78" y="133.62" width="3" height="0.96"/><rect x="82" y="133.62" width="7" height="0.96"/><rect x="91" y="133.62" width="2" height="0.96"/><rect x="96" y="133.62" width="1" height="0.96"/><rect x="99" y="133.62" width="1" height="0.96"/><rect x="101" y="133.62" width="2" height="0.96"/><rect x="104" y="133.62" width="3" height="0.96"/><rect x="111" y="133.62" width="6" height="0.96"/><rect x="118" y="133.62" width="1" height="0.96"/><rect x="123" y="133.62" width="2" height="0.96"/><rect x="126" y="133.62" width="10" height="0.96"/><rect x="137" y="133.62" width="4" height="0.96"/><rect x="142" y="133.62" width="4" height="0.96"/><rect x="147" y="133.62" width="2" height="0.96"/><rect x="150" y="133.62" width="1" height="0.96"/><rect x="156" y="133.62" width="2" height="0.96"/><rect x="159" y="133.62" width="1" height="0.96"/><rect x="161" y="133.62" width="8" height="0.96"/><rect x="173" y="133.62" width="1" height="0.96"/><rect x="175" y="133.62" width="7" height="0.96"/><rect x="183" y="133.62" width="3" height="0.96"/><rect x="187" y="133.62" width="4" height="0.96"/><rect x="192" y="133.62" width="3" height="0.96"/><rect x="197" y="133.62" width="3" height="0.96"/><rect x="202" y="133.62" width="1" height="0.96"/><rect x="207" y="133.62" width="4" height="0.96"/><rect x="212" y="133.62" width="1" height="0.96"/><rect x="214" y="133.62" width="3" height="0.96"/><rect x="218" y="133.62" width="4" height="0.96"/><rect x="223" y="133.62" width="1" height="0.96"/><rect x="225" y="133.62" width="2" height="0.96"/><rect x="228" y="133.62" width="4" height="0.96"/><rect x="233" y="133.62" width="9" height="0.96"/><rect x="243" y="133.62" width="4" height="0.96"/><rect x="248" y="133.62" width="4" height="0.96"/><rect x="254" y="133.62" width="5" height="0.96"/><rect x="260" y="133.62" width="1" height="0.96"/><rect x="262" y="133.62" width="9" height="0.96"/><rect x="272" y="133.62" width="1" height="0.96"/><rect x="275" y="133.62" width="11" height="0.96"/><rect x="287" y="133.62" width="8" height="0.96"/><rect x="297" y="133.62" width="1" height="0.96"/><rect x="299" y="133.62" width="2" height="0.96"/><rect x="304" y="133.62" width="13" height="0.96"/><rect x="318" y="133.62" width="5" height="0.96"/><rect x="324" y="133.62" width="1" height="0.96"/><rect x="326" y="133.62" width="1" height="0.96"/><rect x="328" y="133.62" width="1" height="0.96"/><rect x="330" y="133.62" width="3" height="0.96"/><rect x="334" y="133.62" width="4" height="0.96"/><rect x="339" y="133.62" width="3" height="0.96"/><rect x="343" y="133.62" width="4" height="0.96"/><rect x="349" y="133.62" width="3" height="0.96"/><rect x="353" y="133.62" width="20" height="0.96"/><rect x="374" y="133.62" width="2" height="0.96"/><rect x="377" y="133.62" width="1" height="0.96"/><rect x="379" y="133.62" width="3" height="0.96"/><rect x="385" y="133.62" width="9" height="0.96"/><rect x="398" y="133.62" width="2" height="0.96"/><rect x="401" y="133.62" width="4" height="0.96"/><rect x="406" y="133.62" width="4" height="0.96"/><rect x="411" y="133.62" width="2" height="0.96"/><rect x="414" y="133.62" width="10" height="0.96"/><rect x="425" y="133.62" width="20" height="0.96"/><rect x="446" y="133.62" width="10" height="0.96"/><rect x="457" y="133.62" width="2" height="0.96"/><rect x="462" y="133.62" width="4" height="0.96"/><rect x="467" y="133.62" width="1" height="0.96"/><rect x="469" y="133.62" width="1" height="0.96"/><rect x="471" y="133.62" width="3" height="0.96"/><rect x="475" y="133.62" width="3" height="0.96"/><rect x="479" y="133.62" width="8" height="0.96"/><rect x="488" y="133.62" width="1" height="0.96"/><rect x="491" y="133.62" width="12" height="0.96"/><rect x="504" y="133.62" width="4" height="0.96"/><rect x="510" y="133.62" width="2" height="0.96"/><rect x="513" y="133.62" width="1" height="0.96"/><rect x="515" y="133.62" width="1" height="0.96"/><rect x="517" y="133.62" width="7" height="0.96"/><rect x="526" y="133.62" width="3" height="0.96"/><rect x="530" y="133.62" width="1" height="0.96"/><rect x="532" y="133.62" width="9" height="0.96"/><rect x="542" y="133.62" width="2" height="0.96"/><rect x="545" y="133.62" width="3" height="0.96"/><rect x="549" y="133.62" width="5" height="0.96"/><rect x="556" y="133.62" width="4" height="0.96"/><rect x="561" y="133.62" width="4" height="0.96"/><rect x="566" y="133.62" width="7" height="0.96"/><rect x="574" y="133.62" width="2" height="0.96"/><rect x="578" y="133.62" width="3" height="0.96"/><rect x="582" y="133.62" width="1" height="0.96"/><rect x="584" y="133.62" width="4" height="0.96"/><rect x="589" y="133.62" width="5" height="0.96"/><rect x="596" y="133.62" width="1" height="0.96"/><rect x="600" y="133.62" width="6" height="0.96"/><rect x="607" y="133.62" width="12" height="0.96"/><rect x="620" y="133.62" width="11" height="0.96"/><rect x="632" y="133.62" width="3" height="0.96"/><rect x="636" y="133.62" width="1" height="0.96"/><rect x="638" y="133.62" width="1" height="0.96"/><rect x="641" y="133.62" width="1" height="0.96"/><rect x="643" y="133.62" width="3" height="0.96"/><rect x="647" y="133.62" width="2" height="0.96"/><rect x="650" y="133.62" width="3" height="0.96"/><rect x="654" y="133.62" width="1" height="0.96"/><rect x="656" y="133.62" width="2" height="0.96"/><rect x="660" y="133.62" width="6" height="0.96"/><rect x="667" y="133.62" width="4" height="0.96"/><rect x="672" y="133.62" width="3" height="0.96"/><rect x="676" y="133.62" width="2" height="0.96"/><rect x="679" y="133.62" width="2" height="0.96"/><rect x="682" y="133.62" width="7" height="0.96"/><rect x="690" y="133.62" width="1" height="0.96"/><rect x="692" y="133.62" width="2" height="0.96"/><rect x="695" y="133.62" width="5" height="0.96"/><rect x="76" y="137.28" width="1" height="0.96"/><rect x="78" y="137.28" width="3" height="0.96"/><rect x="82" y="137.28" width="1" height="0.96"/><rect x="84" y="137.28" width="3" height="0.96"/><rect x="88" y="137.28" width="1" height="0.96"/><rect x="91" y="137.28" width="2" height="0.96"/><rect x="96" y="137.28" width="2" height="0.96"/><rect x="101" y="137.28" width="2" height="0.96"/><rect x="104" y="137.28" width="3" height="0.96"/><rect x="111" y="137.28" width="2" height="0.96"/><rect x="114" y="137.28" width="3" height="0.96"/><rect x="118" y="137.28" width="2" height="0.96"/><rect x="121" y="137.28" width="13" height="0.96"/><rect x="135" y="137.28" width="1" height="0.96"/><rect x="137" y="137.28" width="3" height="0.96"/><rect x="142" y="137.28" width="4" height="0.96"/><rect x="148" y="137.28" width="1" height="0.96"/><rect x="156" y="137.28" width="4" height="0.96"/><rect x="161" y="137.28" width="3" height="0.96"/><rect x="166" y="137.28" width="3" height="0.96"/><rect x="171" y="137.28" width="1" height="0.96"/><rect x="173" y="137.28" width="6" height="0.96"/><rect x="180" y="137.28" width="8" height="0.96"/><rect x="189" y="137.28" width="2" height="0.96"/><rect x="192" y="137.28" width="3" height="0.96"/><rect x="197" y="137.28" width="4" height="0.96"/><rect x="202" y="137.28" width="1" height="0.96"/><rect x="204" y="137.28" width="1" height="0.96"/><rect x="208" y="137.28" width="3" height="0.96"/><rect x="212" y="137.28" width="1" height="0.96"/><rect x="214" y="137.28" width="2" height="0.96"/><rect x="218" y="137.28" width="2" height="0.96"/><rect x="221" y="137.28" width="1" height="0.96"/><rect x="223" y="137.28" width="1" height="0.96"/><rect x="225" y="137.28" width="2" height="0.96"/><rect x="228" y="137.28" width="4" height="0.96"/><rect x="233" y="137.28" width="1" height="0.96"/><rect x="235" y="137.28" width="7" height="0.96"/><rect x="243" y="137.28" width="10" height="0.96"/><rect x="254" y="137.28" width="6" height="0.96"/><rect x="262" y="137.28" width="9" height="0.96"/><rect x="276" y="137.28" width="1" height="0.96"/><rect x="278" y="137.28" width="1" height="0.96"/><rect x="280" y="137.28" width="6" height="0.96"/><rect x="287" y="137.28" width="3" height="0.96"/><rect x="291" y="137.28" width="1" height="0.96"/><rect x="293" y="137.28" width="1" height="0.96"/><rect x="297" y="137.28" width="4" height="0.96"/><rect x="302" y="137.28" width="15" height="0.96"/><rect x="318" y="137.28" width="5" height="0.96"/><rect x="324" y="137.28" width="1" height="0.96"/><rect x="326" y="137.28" width="3" height="0.96"/><rect x="330" y="137.28" width="3" height="0.96"/><rect x="334" y="137.28" width="1" height="0.96"/><rect x="336" y="137.28" width="2" height="0.96"/><rect x="339" y="137.28" width="2" height="0.96"/><rect x="345" y="137.28" width="2" height="0.96"/><rect x="350" y="137.28" width="2" height="0.96"/><rect x="354" y="137.28" width="10" height="0.96"/><rect x="365" y="137.28" width="8" height="0.96"/><rect x="374" y="137.28" width="4" height="0.96"/><rect x="380" y="137.28" width="2" height="0.96"/><rect x="383" y="137.28" width="1" height="0.96"/><rect x="385" y="137.28" width="2" height="0.96"/><rect x="388" y="137.28" width="6" height="0.96"/><rect x="396" y="137.28" width="1" height="0.96"/><rect x="398" y="137.28" width="11" height="0.96"/><rect x="410" y="137.28" width="3" height="0.96"/><rect x="414" y="137.28" width="5" height="0.96"/><rect x="420" y="137.28" width="3" height="0.96"/><rect x="425" y="137.28" width="7" height="0.96"/><rect x="433" y="137.28" width="1" height="0.96"/><rect x="435" y="137.28" width="17" height="0.96"/><rect x="453" y="137.28" width="1" height="0.96"/><rect x="455" y="137.28" width="1" height="0.96"/><rect x="457" y="137.28" width="1" height="0.96"/><rect x="460" y="137.28" width="1" height="0.96"/><rect x="462" y="137.28" width="1" height="0.96"/><rect x="464" y="137.28" width="2" height="0.96"/><rect x="467" y="137.28" width="1" height="0.96"/><rect x="469" y="137.28" width="1" height="0.96"/><rect x="471" y="137.28" width="3" height="0.96"/><rect x="475" y="137.28" width="2" height="0.96"/><rect x="479" y="137.28" width="8" height="0.96"/><rect x="488" y="137.28" width="1" height="0.96"/><rect x="491" y="137.28" width="5" height="0.96"/><rect x="497" y="137.28" width="1" height="0.96"/><rect x="499" y="137.28" width="4" height="0.96"/><rect x="504" y="137.28" width="4" height="0.96"/><rect x="510" y="137.28" width="2" height="0.96"/><rect x="513" y="137.28" width="1" height="0.96"/><rect x="515" y="137.28" width="2" height="0.96"/><rect x="518" y="137.28" width="6" height="0.96"/><rect x="528" y="137.28" width="1" height="0.96"/><rect x="530" y="137.28" width="6" height="0.96"/><rect x="537" y="137.28" width="3" height="0.96"/><rect x="541" y="137.28" width="3" height="0.96"/><rect x="546" y="137.28" width="4" height="0.96"/><rect x="551" y="137.28" width="4" height="0.96"/><rect x="557" y="137.28" width="3" height="0.96"/><rect x="562" y="137.28" width="5" height="0.96"/><rect x="568" y="137.28" width="5" height="0.96"/><rect x="574" y="137.28" width="2" height="0.96"/><rect x="579" y="137.28" width="2" height="0.96"/><rect x="582" y="137.28" width="1" height="0.96"/><rect x="584" y="137.28" width="3" height="0.96"/><rect x="589" y="137.28" width="2" height="0.96"/><rect x="592" y="137.28" width="2" height="0.96"/><rect x="596" y="137.28" width="2" height="0.96"/><rect x="600" y="137.28" width="6" height="0.96"/><rect x="607" y="137.28" width="1" height="0.96"/><rect x="609" y="137.28" width="10" height="0.96"/><rect x="621" y="137.28" width="2" height="0.96"/><rect x="625" y="137.28" width="1" height="0.96"/><rect x="627" y="137.28" width="8" height="0.96"/><rect x="636" y="137.28" width="1" height="0.96"/><rect x="641" y="137.28" width="1" height="0.96"/><rect x="643" y="137.28" width="2" height="0.96"/><rect x="647" y="137.28" width="2" height="0.96"/><rect x="650" y="137.28" width="5" height="0.96"/><rect x="656" y="137.28" width="2" height="0.96"/><rect x="661" y="137.28" width="5" height="0.96"/><rect x="667" y="137.28" width="4" height="0.96"/><rect x="674" y="137.28" width="1" height="0.96"/><rect x="676" y="137.28" width="5" height="0.96"/><rect x="683" y="137.28" width="6" height="0.96"/><rect x="690" y="137.28" width="7" height="0.96"/><rect x="698" y="137.28" width="1" height="0.96"/><rect x="76" y="140.94" width="1" height="0.96"/><rect x="79" y="140.94" width="1" height="0.96"/><rect x="82" y="140.94" width="1" height="0.96"/><rect x="84" y="140.94" width="2" height="0.96"/><rect x="88" y="140.94" width="1" height="0.96"/><rect x="91" y="140.94" width="2" height="0.96"/><rect x="95" y="140.94" width="2" height="0.96"/><rect x="101" y="140.94" width="1" height="0.96"/><rect x="105" y="140.94" width="3" height="0.96"/><rect x="111" y="140.94" width="2" height="0.96"/><rect x="114" y="140.94" width="3" height="0.96"/><rect x="118" y="140.94" width="2" height="0.96"/><rect x="121" y="140.94" width="2" height="0.96"/><rect x="125" y="140.94" width="5" height="0.96"/><rect x="131" y="140.94" width="3" height="0.96"/><rect x="135" y="140.94" width="1" height="0.96"/><rect x="138" y="140.94" width="2" height="0.96"/><rect x="142" y="140.94" width="4" height="0.96"/><rect x="148" y="140.94" width="1" height="0.96"/><rect x="156" y="140.94" width="4" height="0.96"/><rect x="161" y="140.94" width="3" height="0.96"/><rect x="167" y="140.94" width="5" height="0.96"/><rect x="173" y="140.94" width="6" height="0.96"/><rect x="181" y="140.94" width="1" height="0.96"/><rect x="183" y="140.94" width="4" height="0.96"/><rect x="189" y="140.94" width="6" height="0.96"/><rect x="198" y="140.94" width="3" height="0.96"/><rect x="210" y="140.94" width="3" height="0.96"/><rect x="214" y="140.94" width="2" height="0.96"/><rect x="218" y="140.94" width="1" height="0.96"/><rect x="221" y="140.94" width="1" height="0.96"/><rect x="225" y="140.94" width="9" height="0.96"/><rect x="235" y="140.94" width="7" height="0.96"/><rect x="243" y="140.94" width="9" height="0.96"/><rect x="253" y="140.94" width="2" height="0.96"/><rect x="256" y="140.94" width="2" height="0.96"/><rect x="261" y="140.94" width="3" height="0.96"/><rect x="265" y="140.94" width="5" height="0.96"/><rect x="273" y="140.94" width="1" height="0.96"/><rect x="278" y="140.94" width="1" height="0.96"/><rect x="280" y="140.94" width="6" height="0.96"/><rect x="287" y="140.94" width="3" height="0.96"/><rect x="291" y="140.94" width="1" height="0.96"/><rect x="293" y="140.94" width="1" height="0.96"/><rect x="299" y="140.94" width="1" height="0.96"/><rect x="302" y="140.94" width="6" height="0.96"/><rect x="309" y="140.94" width="4" height="0.96"/><rect x="314" y="140.94" width="1" height="0.96"/><rect x="316" y="140.94" width="1" height="0.96"/><rect x="318" y="140.94" width="5" height="0.96"/><rect x="324" y="140.94" width="1" height="0.96"/><rect x="327" y="140.94" width="8" height="0.96"/><rect x="336" y="140.94" width="5" height="0.96"/><rect x="346" y="140.94" width="1" height="0.96"/><rect x="348" y="140.94" width="1" height="0.96"/><rect x="350" y="140.94" width="2" height="0.96"/><rect x="354" y="140.94" width="8" height="0.96"/><rect x="363" y="140.94" width="1" height="0.96"/><rect x="365" y="140.94" width="8" height="0.96"/><rect x="374" y="140.94" width="4" height="0.96"/><rect x="380" y="140.94" width="1" height="0.96"/><rect x="383" y="140.94" width="1" height="0.96"/><rect x="385" y="140.94" width="2" height="0.96"/><rect x="388" y="140.94" width="6" height="0.96"/><rect x="395" y="140.94" width="11" height="0.96"/><rect x="407" y="140.94" width="1" height="0.96"/><rect x="410" y="140.94" width="2" height="0.96"/><rect x="414" y="140.94" width="3" height="0.96"/><rect x="420" y="140.94" width="3" height="0.96"/><rect x="424" y="140.94" width="4" height="0.96"/><rect x="429" y="140.94" width="3" height="0.96"/><rect x="433" y="140.94" width="1" height="0.96"/><rect x="435" y="140.94" width="12" height="0.96"/><rect x="448" y="140.94" width="1" height="0.96"/><rect x="450" y="140.94" width="2" height="0.96"/><rect x="456" y="140.94" width="2" height="0.96"/><rect x="459" y="140.94" width="4" height="0.96"/><rect x="464" y="140.94" width="3" height="0.96"/><rect x="468" y="140.94" width="2" height="0.96"/><rect x="472" y="140.94" width="1" height="0.96"/><rect x="474" y="140.94" width="3" height="0.96"/><rect x="479" y="140.94" width="8" height="0.96"/><rect x="488" y="140.94" width="3" height="0.96"/><rect x="492" y="140.94" width="4" height="0.96"/><rect x="500" y="140.94" width="1" height="0.96"/><rect x="502" y="140.94" width="1" height="0.96"/><rect x="505" y="140.94" width="2" height="0.96"/><rect x="509" y="140.94" width="5" height="0.96"/><rect x="515" y="140.94" width="2" height="0.96"/><rect x="518" y="140.94" width="8" height="0.96"/><rect x="528" y="140.94" width="4" height="0.96"/><rect x="533" y="140.94" width="2" height="0.96"/><rect x="537" y="140.94" width="3" height="0.96"/><rect x="541" y="140.94" width="3" height="0.96"/><rect x="546" y="140.94" width="4" height="0.96"/><rect x="551" y="140.94" width="4" height="0.96"/><rect x="557" y="140.94" width="1" height="0.96"/><rect x="559" y="140.94" width="1" height="0.96"/><rect x="562" y="140.94" width="5" height="0.96"/><rect x="568" y="140.94" width="4" height="0.96"/><rect x="574" y="140.94" width="2" height="0.96"/><rect x="580" y="140.94" width="1" height="0.96"/><rect x="582" y="140.94" width="4" height="0.96"/><rect x="588" y="140.94" width="1" height="0.96"/><rect x="590" y="140.94" width="1" height="0.96"/><rect x="597" y="140.94" width="1" height="0.96"/><rect x="601" y="140.94" width="1" height="0.96"/><rect x="603" y="140.94" width="5" height="0.96"/><rect x="610" y="140.94" width="10" height="0.96"/><rect x="625" y="140.94" width="1" height="0.96"/><rect x="627" y="140.94" width="8" height="0.96"/><rect x="639" y="140.94" width="3" height="0.96"/><rect x="643" y="140.94" width="1" height="0.96"/><rect x="647" y="140.94" width="2" height="0.96"/><rect x="650" y="140.94" width="4" height="0.96"/><rect x="655" y="140.94" width="2" height="0.96"/><rect x="659" y="140.94" width="1" height="0.96"/><rect x="661" y="140.94" width="10" height="0.96"/><rect x="674" y="140.94" width="1" height="0.96"/><rect x="679" y="140.94" width="2" height="0.96"/><rect x="683" y="140.94" width="1" height="0.96"/><rect x="685" y="140.94" width="1" height="0.96"/><rect x="687" y="140.94" width="4" height="0.96"/><rect x="692" y="140.94" width="3" height="0.96"/><rect x="696" y="140.94" width="1" height="0.96"/><rect x="698" y="140.94" width="1" height="0.96"/><rect x="76" y="144.60" width="1" height="0.96"/><rect x="79" y="144.60" width="1" height="0.96"/><rect x="82" y="144.60" width="1" height="0.96"/><rect x="84" y="144.60" width="2" height="0.96"/><rect x="88" y="144.60" width="1" height="0.96"/><rect x="91" y="144.60" width="2" height="0.96"/><rect x="95" y="144.60" width="2" height="0.96"/><rect x="101" y="144.60" width="1" height="0.96"/><rect x="106" y="144.60" width="1" height="0.96"/><rect x="111" y="144.60" width="4" height="0.96"/><rect x="117" y="144.60" width="5" height="0.96"/><rect x="125" y="144.60" width="4" height="0.96"/><rect x="131" y="144.60" width="1" height="0.96"/><rect x="133" y="144.60" width="1" height="0.96"/><rect x="135" y="144.60" width="1" height="0.96"/><rect x="138" y="144.60" width="3" height="0.96"/><rect x="143" y="144.60" width="2" height="0.96"/><rect x="148" y="144.60" width="1" height="0.96"/><rect x="157" y="144.60" width="3" height="0.96"/><rect x="161" y="144.60" width="2" height="0.96"/><rect x="164" y="144.60" width="1" height="0.96"/><rect x="167" y="144.60" width="2" height="0.96"/><rect x="170" y="144.60" width="8" height="0.96"/><rect x="181" y="144.60" width="1" height="0.96"/><rect x="183" y="144.60" width="2" height="0.96"/><rect x="186" y="144.60" width="1" height="0.96"/><rect x="189" y="144.60" width="6" height="0.96"/><rect x="198" y="144.60" width="3" height="0.96"/><rect x="210" y="144.60" width="3" height="0.96"/><rect x="214" y="144.60" width="1" height="0.96"/><rect x="218" y="144.60" width="1" height="0.96"/><rect x="221" y="144.60" width="1" height="0.96"/><rect x="225" y="144.60" width="2" height="0.96"/><rect x="228" y="144.60" width="6" height="0.96"/><rect x="235" y="144.60" width="1" height="0.96"/><rect x="237" y="144.60" width="2" height="0.96"/><rect x="241" y="144.60" width="1" height="0.96"/><rect x="243" y="144.60" width="1" height="0.96"/><rect x="245" y="144.60" width="2" height="0.96"/><rect x="248" y="144.60" width="4" height="0.96"/><rect x="253" y="144.60" width="2" height="0.96"/><rect x="256" y="144.60" width="2" height="0.96"/><rect x="260" y="144.60" width="2" height="0.96"/><rect x="263" y="144.60" width="1" height="0.96"/><rect x="265" y="144.60" width="5" height="0.96"/><rect x="273" y="144.60" width="1" height="0.96"/><rect x="278" y="144.60" width="1" height="0.96"/><rect x="280" y="144.60" width="8" height="0.96"/><rect x="289" y="144.60" width="1" height="0.96"/><rect x="291" y="144.60" width="3" height="0.96"/><rect x="302" y="144.60" width="1" height="0.96"/><rect x="304" y="144.60" width="1" height="0.96"/><rect x="309" y="144.60" width="2" height="0.96"/><rect x="312" y="144.60" width="1" height="0.96"/><rect x="314" y="144.60" width="1" height="0.96"/><rect x="316" y="144.60" width="1" height="0.96"/><rect x="318" y="144.60" width="5" height="0.96"/><rect x="324" y="144.60" width="2" height="0.96"/><rect x="328" y="144.60" width="1" height="0.96"/><rect x="330" y="144.60" width="5" height="0.96"/><rect x="336" y="144.60" width="5" height="0.96"/><rect x="344" y="144.60" width="1" height="0.96"/><rect x="346" y="144.60" width="1" height="0.96"/><rect x="348" y="144.60" width="1" height="0.96"/><rect x="350" y="144.60" width="1" height="0.96"/><rect x="353" y="144.60" width="4" height="0.96"/><rect x="359" y="144.60" width="3" height="0.96"/><rect x="363" y="144.60" width="1" height="0.96"/><rect x="365" y="144.60" width="1" height="0.96"/><rect x="367" y="144.60" width="1" height="0.96"/><rect x="369" y="144.60" width="4" height="0.96"/><rect x="374" y="144.60" width="1" height="0.96"/><rect x="376" y="144.60" width="2" height="0.96"/><rect x="383" y="144.60" width="1" height="0.96"/><rect x="385" y="144.60" width="2" height="0.96"/><rect x="388" y="144.60" width="6" height="0.96"/><rect x="395" y="144.60" width="1" height="0.96"/><rect x="397" y="144.60" width="9" height="0.96"/><rect x="410" y="144.60" width="1" height="0.96"/><rect x="414" y="144.60" width="2" height="0.96"/><rect x="420" y="144.60" width="1" height="0.96"/><rect x="422" y="144.60" width="6" height="0.96"/><rect x="429" y="144.60" width="5" height="0.96"/><rect x="435" y="144.60" width="1" height="0.96"/><rect x="437" y="144.60" width="4" height="0.96"/><rect x="442" y="144.60" width="4" height="0.96"/><rect x="454" y="144.60" width="1" height="0.96"/><rect x="459" y="144.60" width="3" height="0.96"/><rect x="464" y="144.60" width="3" height="0.96"/><rect x="468" y="144.60" width="3" height="0.96"/><rect x="474" y="144.60" width="3" height="0.96"/><rect x="479" y="144.60" width="3" height="0.96"/><rect x="483" y="144.60" width="2" height="0.96"/><rect x="486" y="144.60" width="1" height="0.96"/><rect x="488" y="144.60" width="2" height="0.96"/><rect x="493" y="144.60" width="3" height="0.96"/><rect x="498" y="144.60" width="1" height="0.96"/><rect x="502" y="144.60" width="1" height="0.96"/><rect x="505" y="144.60" width="2" height="0.96"/><rect x="509" y="144.60" width="4" height="0.96"/><rect x="515" y="144.60" width="1" height="0.96"/><rect x="518" y="144.60" width="5" height="0.96"/><rect x="525" y="144.60" width="1" height="0.96"/><rect x="528" y="144.60" width="3" height="0.96"/><rect x="533" y="144.60" width="2" height="0.96"/><rect x="536" y="144.60" width="2" height="0.96"/><rect x="540" y="144.60" width="4" height="0.96"/><rect x="546" y="144.60" width="9" height="0.96"/><rect x="557" y="144.60" width="1" height="0.96"/><rect x="559" y="144.60" width="1" height="0.96"/><rect x="562" y="144.60" width="1" height="0.96"/><rect x="564" y="144.60" width="1" height="0.96"/><rect x="567" y="144.60" width="5" height="0.96"/><rect x="574" y="144.60" width="2" height="0.96"/><rect x="580" y="144.60" width="1" height="0.96"/><rect x="582" y="144.60" width="1" height="0.96"/><rect x="584" y="144.60" width="2" height="0.96"/><rect x="587" y="144.60" width="2" height="0.96"/><rect x="590" y="144.60" width="1" height="0.96"/><rect x="604" y="144.60" width="2" height="0.96"/><rect x="607" y="144.60" width="1" height="0.96"/><rect x="610" y="144.60" width="8" height="0.96"/><rect x="620" y="144.60" width="1" height="0.96"/><rect x="628" y="144.60" width="3" height="0.96"/><rect x="632" y="144.60" width="3" height="0.96"/><rect x="638" y="144.60" width="4" height="0.96"/><rect x="645" y="144.60" width="1" height="0.96"/><rect x="647" y="144.60" width="2" height="0.96"/><rect x="650" y="144.60" width="2" height="0.96"/><rect x="653" y="144.60" width="1" height="0.96"/><rect x="655" y="144.60" width="2" height="0.96"/><rect x="658" y="144.60" width="13" height="0.96"/><rect x="679" y="144.60" width="2" height="0.96"/><rect x="683" y="144.60" width="1" height="0.96"/><rect x="685" y="144.60" width="1" height="0.96"/><rect x="687" y="144.60" width="4" height="0.96"/><rect x="692" y="144.60" width="3" height="0.96"/><rect x="696" y="144.60" width="1" height="0.96"/><rect x="698" y="144.60" width="1" height="0.96"/><rect x="82" y="148.26" width="1" height="0.96"/><rect x="84" y="148.26" width="1" height="0.96"/><rect x="91" y="148.26" width="2" height="0.96"/><rect x="95" y="148.26" width="2" height="0.96"/><rect x="101" y="148.26" width="1" height="0.96"/><rect x="111" y="148.26" width="4" height="0.96"/><rect x="117" y="148.26" width="2" height="0.96"/><rect x="120" y="148.26" width="2" height="0.96"/><rect x="125" y="148.26" width="1" height="0.96"/><rect x="127" y="148.26" width="2" height="0.96"/><rect x="131" y="148.26" width="1" height="0.96"/><rect x="135" y="148.26" width="1" height="0.96"/><rect x="138" y="148.26" width="1" height="0.96"/><rect x="140" y="148.26" width="1" height="0.96"/><rect x="143" y="148.26" width="2" height="0.96"/><rect x="147" y="148.26" width="2" height="0.96"/><rect x="157" y="148.26" width="3" height="0.96"/><rect x="162" y="148.26" width="1" height="0.96"/><rect x="164" y="148.26" width="1" height="0.96"/><rect x="166" y="148.26" width="3" height="0.96"/><rect x="170" y="148.26" width="1" height="0.96"/><rect x="172" y="148.26" width="5" height="0.96"/><rect x="186" y="148.26" width="1" height="0.96"/><rect x="189" y="148.26" width="1" height="0.96"/><rect x="191" y="148.26" width="2" height="0.96"/><rect x="197" y="148.26" width="4" height="0.96"/><rect x="210" y="148.26" width="3" height="0.96"/><rect x="218" y="148.26" width="1" height="0.96"/><rect x="221" y="148.26" width="1" height="0.96"/><rect x="225" y="148.26" width="2" height="0.96"/><rect x="228" y="148.26" width="1" height="0.96"/><rect x="230" y="148.26" width="4" height="0.96"/><rect x="241" y="148.26" width="3" height="0.96"/><rect x="245" y="148.26" width="2" height="0.96"/><rect x="248" y="148.26" width="1" height="0.96"/><rect x="250" y="148.26" width="12" height="0.96"/><rect x="264" y="148.26" width="7" height="0.96"/><rect x="278" y="148.26" width="1" height="0.96"/><rect x="280" y="148.26" width="1" height="0.96"/><rect x="282" y="148.26" width="5" height="0.96"/><rect x="291" y="148.26" width="3" height="0.96"/><rect x="304" y="148.26" width="1" height="0.96"/><rect x="308" y="148.26" width="3" height="0.96"/><rect x="312" y="148.26" width="1" height="0.96"/><rect x="316" y="148.26" width="1" height="0.96"/><rect x="318" y="148.26" width="1" height="0.96"/><rect x="320" y="148.26" width="3" height="0.96"/><rect x="324" y="148.26" width="3" height="0.96"/><rect x="328" y="148.26" width="1" height="0.96"/><rect x="330" y="148.26" width="5" height="0.96"/><rect x="337" y="148.26" width="1" height="0.96"/><rect x="339" y="148.26" width="1" height="0.96"/><rect x="342" y="148.26" width="1" height="0.96"/><rect x="348" y="148.26" width="1" height="0.96"/><rect x="350" y="148.26" width="1" height="0.96"/><rect x="353" y="148.26" width="4" height="0.96"/><rect x="359" y="148.26" width="5" height="0.96"/><rect x="365" y="148.26" width="1" height="0.96"/><rect x="369" y="148.26" width="2" height="0.96"/><rect x="374" y="148.26" width="1" height="0.96"/><rect x="381" y="148.26" width="1" height="0.96"/><rect x="383" y="148.26" width="1" height="0.96"/><rect x="385" y="148.26" width="2" height="0.96"/><rect x="388" y="148.26" width="3" height="0.96"/><rect x="392" y="148.26" width="2" height="0.96"/><rect x="395" y="148.26" width="1" height="0.96"/><rect x="399" y="148.26" width="1" height="0.96"/><rect x="401" y="148.26" width="5" height="0.96"/><rect x="410" y="148.26" width="1" height="0.96"/><rect x="412" y="148.26" width="1" height="0.96"/><rect x="415" y="148.26" width="1" height="0.96"/><rect x="417" y="148.26" width="1" height="0.96"/><rect x="420" y="148.26" width="1" height="0.96"/><rect x="423" y="148.26" width="2" height="0.96"/><rect x="426" y="148.26" width="10" height="0.96"/><rect x="437" y="148.26" width="4" height="0.96"/><rect x="442" y="148.26" width="1" height="0.96"/><rect x="444" y="148.26" width="2" height="0.96"/><rect x="459" y="148.26" width="3" height="0.96"/><rect x="464" y="148.26" width="7" height="0.96"/><rect x="473" y="148.26" width="2" height="0.96"/><rect x="476" y="148.26" width="1" height="0.96"/><rect x="479" y="148.26" width="3" height="0.96"/><rect x="483" y="148.26" width="2" height="0.96"/><rect x="486" y="148.26" width="1" height="0.96"/><rect x="488" y="148.26" width="2" height="0.96"/><rect x="491" y="148.26" width="1" height="0.96"/><rect x="493" y="148.26" width="2" height="0.96"/><rect x="498" y="148.26" width="1" height="0.96"/><rect x="501" y="148.26" width="2" height="0.96"/><rect x="504" y="148.26" width="1" height="0.96"/><rect x="507" y="148.26" width="1" height="0.96"/><rect x="509" y="148.26" width="3" height="0.96"/><rect x="514" y="148.26" width="2" height="0.96"/><rect x="518" y="148.26" width="2" height="0.96"/><rect x="521" y="148.26" width="1" height="0.96"/><rect x="525" y="148.26" width="1" height="0.96"/><rect x="528" y="148.26" width="3" height="0.96"/><rect x="533" y="148.26" width="5" height="0.96"/><rect x="541" y="148.26" width="1" height="0.96"/><rect x="543" y="148.26" width="1" height="0.96"/><rect x="546" y="148.26" width="9" height="0.96"/><rect x="557" y="148.26" width="2" height="0.96"/><rect x="562" y="148.26" width="1" height="0.96"/><rect x="567" y="148.26" width="5" height="0.96"/><rect x="574" y="148.26" width="2" height="0.96"/><rect x="578" y="148.26" width="1" height="0.96"/><rect x="582" y="148.26" width="1" height="0.96"/><rect x="584" y="148.26" width="7" height="0.96"/><rect x="604" y="148.26" width="2" height="0.96"/><rect x="607" y="148.26" width="6" height="0.96"/><rect x="614" y="148.26" width="4" height="0.96"/><rect x="620" y="148.26" width="1" height="0.96"/><rect x="629" y="148.26" width="2" height="0.96"/><rect x="632" y="148.26" width="3" height="0.96"/><rect x="636" y="148.26" width="1" height="0.96"/><rect x="638" y="148.26" width="3" height="0.96"/><rect x="645" y="148.26" width="1" height="0.96"/><rect x="647" y="148.26" width="1" height="0.96"/><rect x="650" y="148.26" width="2" height="0.96"/><rect x="655" y="148.26" width="2" height="0.96"/><rect x="658" y="148.26" width="6" height="0.96"/><rect x="665" y="148.26" width="3" height="0.96"/><rect x="669" y="148.26" width="2" height="0.96"/><rect x="679" y="148.26" width="2" height="0.96"/><rect x="683" y="148.26" width="1" height="0.96"/><rect x="685" y="148.26" width="2" height="0.96"/><rect x="688" y="148.26" width="1" height="0.96"/><rect x="690" y="148.26" width="1" height="0.96"/><rect x="692" y="148.26" width="1" height="0.96"/><rect x="694" y="148.26" width="1" height="0.96"/><rect x="82" y="151.92" width="1" height="0.96"/><rect x="96" y="151.92" width="1" height="0.96"/><rect x="102" y="151.92" width="1" height="0.96"/><rect x="105" y="151.92" width="1" height="0.96"/><rect x="107" y="151.92" width="1" height="0.96"/><rect x="111" y="151.92" width="4" height="0.96"/><rect x="116" y="151.92" width="3" height="0.96"/><rect x="120" y="151.92" width="2" height="0.96"/><rect x="127" y="151.92" width="1" height="0.96"/><rect x="131" y="151.92" width="2" height="0.96"/><rect x="135" y="151.92" width="1" height="0.96"/><rect x="138" y="151.92" width="1" height="0.96"/><rect x="140" y="151.92" width="1" height="0.96"/><rect x="142" y="151.92" width="3" height="0.96"/><rect x="147" y="151.92" width="2" height="0.96"/><rect x="159" y="151.92" width="1" height="0.96"/><rect x="162" y="151.92" width="1" height="0.96"/><rect x="164" y="151.92" width="1" height="0.96"/><rect x="166" y="151.92" width="3" height="0.96"/><rect x="170" y="151.92" width="1" height="0.96"/><rect x="172" y="151.92" width="5" height="0.96"/><rect x="186" y="151.92" width="1" height="0.96"/><rect x="189" y="151.92" width="1" height="0.96"/><rect x="191" y="151.92" width="2" height="0.96"/><rect x="197" y="151.92" width="4" height="0.96"/><rect x="210" y="151.92" width="1" height="0.96"/><rect x="212" y="151.92" width="1" height="0.96"/><rect x="220" y="151.92" width="2" height="0.96"/><rect x="226" y="151.92" width="1" height="0.96"/><rect x="228" y="151.92" width="1" height="0.96"/><rect x="230" y="151.92" width="1" height="0.96"/><rect x="232" y="151.92" width="2" height="0.96"/><rect x="236" y="151.92" width="1" height="0.96"/><rect x="240" y="151.92" width="5" height="0.96"/><rect x="247" y="151.92" width="2" height="0.96"/><rect x="250" y="151.92" width="4" height="0.96"/><rect x="255" y="151.92" width="8" height="0.96"/><rect x="264" y="151.92" width="1" height="0.96"/><rect x="267" y="151.92" width="1" height="0.96"/><rect x="269" y="151.92" width="2" height="0.96"/><rect x="280" y="151.92" width="1" height="0.96"/><rect x="282" y="151.92" width="3" height="0.96"/><rect x="286" y="151.92" width="1" height="0.96"/><rect x="290" y="151.92" width="4" height="0.96"/><rect x="304" y="151.92" width="3" height="0.96"/><rect x="308" y="151.92" width="2" height="0.96"/><rect x="311" y="151.92" width="2" height="0.96"/><rect x="316" y="151.92" width="1" height="0.96"/><rect x="318" y="151.92" width="1" height="0.96"/><rect x="320" y="151.92" width="3" height="0.96"/><rect x="324" y="151.92" width="3" height="0.96"/><rect x="328" y="151.92" width="8" height="0.96"/><rect x="337" y="151.92" width="1" height="0.96"/><rect x="339" y="151.92" width="1" height="0.96"/><rect x="341" y="151.92" width="1" height="0.96"/><rect x="350" y="151.92" width="2" height="0.96"/><rect x="353" y="151.92" width="2" height="0.96"/><rect x="359" y="151.92" width="2" height="0.96"/><rect x="363" y="151.92" width="3" height="0.96"/><rect x="368" y="151.92" width="3" height="0.96"/><rect x="374" y="151.92" width="2" height="0.96"/><rect x="381" y="151.92" width="1" height="0.96"/><rect x="383" y="151.92" width="1" height="0.96"/><rect x="385" y="151.92" width="2" height="0.96"/><rect x="388" y="151.92" width="3" height="0.96"/><rect x="393" y="151.92" width="1" height="0.96"/><rect x="399" y="151.92" width="1" height="0.96"/><rect x="401" y="151.92" width="4" height="0.96"/><rect x="410" y="151.92" width="4" height="0.96"/><rect x="415" y="151.92" width="2" height="0.96"/><rect x="420" y="151.92" width="2" height="0.96"/><rect x="423" y="151.92" width="2" height="0.96"/><rect x="426" y="151.92" width="5" height="0.96"/><rect x="432" y="151.92" width="4" height="0.96"/><rect x="437" y="151.92" width="2" height="0.96"/><rect x="440" y="151.92" width="2" height="0.96"/><rect x="445" y="151.92" width="2" height="0.96"/><rect x="459" y="151.92" width="3" height="0.96"/><rect x="464" y="151.92" width="4" height="0.96"/><rect x="469" y="151.92" width="6" height="0.96"/><rect x="476" y="151.92" width="1" height="0.96"/><rect x="479" y="151.92" width="2" height="0.96"/><rect x="484" y="151.92" width="1" height="0.96"/><rect x="488" y="151.92" width="2" height="0.96"/><rect x="491" y="151.92" width="2" height="0.96"/><rect x="494" y="151.92" width="1" height="0.96"/><rect x="498" y="151.92" width="4" height="0.96"/><rect x="507" y="151.92" width="1" height="0.96"/><rect x="509" y="151.92" width="3" height="0.96"/><rect x="514" y="151.92" width="2" height="0.96"/><rect x="518" y="151.92" width="2" height="0.96"/><rect x="521" y="151.92" width="1" height="0.96"/><rect x="523" y="151.92" width="1" height="0.96"/><rect x="525" y="151.92" width="1" height="0.96"/><rect x="528" y="151.92" width="4" height="0.96"/><rect x="533" y="151.92" width="3" height="0.96"/><rect x="537" y="151.92" width="1" height="0.96"/><rect x="541" y="151.92" width="1" height="0.96"/><rect x="546" y="151.92" width="8" height="0.96"/><rect x="557" y="151.92" width="2" height="0.96"/><rect x="562" y="151.92" width="2" height="0.96"/><rect x="566" y="151.92" width="1" height="0.96"/><rect x="569" y="151.92" width="1" height="0.96"/><rect x="571" y="151.92" width="1" height="0.96"/><rect x="574" y="151.92" width="2" height="0.96"/><rect x="584" y="151.92" width="7" height="0.96"/><rect x="604" y="151.92" width="9" height="0.96"/><rect x="614" y="151.92" width="1" height="0.96"/><rect x="616" y="151.92" width="5" height="0.96"/><rect x="629" y="151.92" width="5" height="0.96"/><rect x="636" y="151.92" width="1" height="0.96"/><rect x="638" y="151.92" width="1" height="0.96"/><rect x="645" y="151.92" width="1" height="0.96"/><rect x="650" y="151.92" width="2" height="0.96"/><rect x="655" y="151.92" width="2" height="0.96"/><rect x="658" y="151.92" width="6" height="0.96"/><rect x="666" y="151.92" width="2" height="0.96"/><rect x="669" y="151.92" width="2" height="0.96"/><rect x="680" y="151.92" width="1" height="0.96"/><rect x="688" y="151.92" width="1" height="0.96"/><rect x="690" y="151.92" width="1" height="0.96"/><rect x="692" y="151.92" width="1" height="0.96"/><rect x="694" y="151.92" width="2" height="0.96"/><rect x="82" y="155.58" width="1" height="0.96"/><rect x="97" y="155.58" width="1" height="0.96"/><rect x="102" y="155.58" width="1" height="0.96"/><rect x="106" y="155.58" width="1" height="0.96"/><rect x="111" y="155.58" width="4" height="0.96"/><rect x="118" y="155.58" width="2" height="0.96"/><rect x="121" y="155.58" width="1" height="0.96"/><rect x="126" y="155.58" width="2" height="0.96"/><rect x="135" y="155.58" width="1" height="0.96"/><rect x="138" y="155.58" width="3" height="0.96"/><rect x="142" y="155.58" width="3" height="0.96"/><rect x="147" y="155.58" width="2" height="0.96"/><rect x="159" y="155.58" width="1" height="0.96"/><rect x="161" y="155.58" width="1" height="0.96"/><rect x="164" y="155.58" width="1" height="0.96"/><rect x="166" y="155.58" width="1" height="0.96"/><rect x="168" y="155.58" width="1" height="0.96"/><rect x="170" y="155.58" width="7" height="0.96"/><rect x="189" y="155.58" width="1" height="0.96"/><rect x="191" y="155.58" width="2" height="0.96"/><rect x="197" y="155.58" width="1" height="0.96"/><rect x="200" y="155.58" width="1" height="0.96"/><rect x="212" y="155.58" width="1" height="0.96"/><rect x="220" y="155.58" width="2" height="0.96"/><rect x="226" y="155.58" width="2" height="0.96"/><rect x="229" y="155.58" width="2" height="0.96"/><rect x="232" y="155.58" width="2" height="0.96"/><rect x="236" y="155.58" width="1" height="0.96"/><rect x="241" y="155.58" width="1" height="0.96"/><rect x="243" y="155.58" width="2" height="0.96"/><rect x="247" y="155.58" width="2" height="0.96"/><rect x="251" y="155.58" width="3" height="0.96"/><rect x="255" y="155.58" width="2" height="0.96"/><rect x="259" y="155.58" width="4" height="0.96"/><rect x="264" y="155.58" width="1" height="0.96"/><rect x="267" y="155.58" width="1" height="0.96"/><rect x="269" y="155.58" width="2" height="0.96"/><rect x="282" y="155.58" width="3" height="0.96"/><rect x="290" y="155.58" width="3" height="0.96"/><rect x="311" y="155.58" width="2" height="0.96"/><rect x="314" y="155.58" width="1" height="0.96"/><rect x="316" y="155.58" width="1" height="0.96"/><rect x="318" y="155.58" width="5" height="0.96"/><rect x="324" y="155.58" width="2" height="0.96"/><rect x="328" y="155.58" width="10" height="0.96"/><rect x="339" y="155.58" width="2" height="0.96"/><rect x="350" y="155.58" width="2" height="0.96"/><rect x="353" y="155.58" width="2" height="0.96"/><rect x="359" y="155.58" width="2" height="0.96"/><rect x="363" y="155.58" width="1" height="0.96"/><rect x="365" y="155.58" width="1" height="0.96"/><rect x="369" y="155.58" width="1" height="0.96"/><rect x="372" y="155.58" width="1" height="0.96"/><rect x="375" y="155.58" width="1" height="0.96"/><rect x="383" y="155.58" width="1" height="0.96"/><rect x="388" y="155.58" width="2" height="0.96"/><rect x="393" y="155.58" width="1" height="0.96"/><rect x="398" y="155.58" width="2" height="0.96"/><rect x="402" y="155.58" width="2" height="0.96"/><rect x="411" y="155.58" width="3" height="0.96"/><rect x="415" y="155.58" width="2" height="0.96"/><rect x="420" y="155.58" width="2" height="0.96"/><rect x="423" y="155.58" width="2" height="0.96"/><rect x="426" y="155.58" width="5" height="0.96"/><rect x="432" y="155.58" width="4" height="0.96"/><rect x="437" y="155.58" width="2" height="0.96"/><rect x="440" y="155.58" width="2" height="0.96"/><rect x="443" y="155.58" width="1" height="0.96"/><rect x="445" y="155.58" width="2" height="0.96"/><rect x="459" y="155.58" width="1" height="0.96"/><rect x="461" y="155.58" width="1" height="0.96"/><rect x="464" y="155.58" width="2" height="0.96"/><rect x="469" y="155.58" width="6" height="0.96"/><rect x="480" y="155.58" width="1" height="0.96"/><rect x="488" y="155.58" width="2" height="0.96"/><rect x="491" y="155.58" width="2" height="0.96"/><rect x="494" y="155.58" width="1" height="0.96"/><rect x="499" y="155.58" width="3" height="0.96"/><rect x="507" y="155.58" width="1" height="0.96"/><rect x="509" y="155.58" width="3" height="0.96"/><rect x="514" y="155.58" width="2" height="0.96"/><rect x="519" y="155.58" width="3" height="0.96"/><rect x="523" y="155.58" width="2" height="0.96"/><rect x="528" y="155.58" width="3" height="0.96"/><rect x="534" y="155.58" width="2" height="0.96"/><rect x="540" y="155.58" width="2" height="0.96"/><rect x="547" y="155.58" width="7" height="0.96"/><rect x="557" y="155.58" width="2" height="0.96"/><rect x="562" y="155.58" width="2" height="0.96"/><rect x="569" y="155.58" width="1" height="0.96"/><rect x="571" y="155.58" width="1" height="0.96"/><rect x="574" y="155.58" width="2" height="0.96"/><rect x="584" y="155.58" width="5" height="0.96"/><rect x="604" y="155.58" width="9" height="0.96"/><rect x="617" y="155.58" width="4" height="0.96"/><rect x="629" y="155.58" width="1" height="0.96"/><rect x="633" y="155.58" width="1" height="0.96"/><rect x="645" y="155.58" width="1" height="0.96"/><rect x="650" y="155.58" width="2" height="0.96"/><rect x="658" y="155.58" width="1" height="0.96"/><rect x="660" y="155.58" width="2" height="0.96"/><rect x="663" y="155.58" width="2" height="0.96"/><rect x="666" y="155.58" width="5" height="0.96"/><rect x="692" y="155.58" width="1" height="0.96"/><rect x="695" y="155.58" width="2" height="0.96"/><rect x="82" y="159.24" width="1" height="0.96"/><rect x="84" y="159.24" width="1" height="0.96"/><rect x="88" y="159.24" width="1" height="0.96"/><rect x="101" y="159.24" width="2" height="0.96"/><rect x="111" y="159.24" width="3" height="0.96"/><rect x="126" y="159.24" width="2" height="0.96"/><rect x="135" y="159.24" width="1" height="0.96"/><rect x="139" y="159.24" width="1" height="0.96"/><rect x="143" y="159.24" width="2" height="0.96"/><rect x="147" y="159.24" width="2" height="0.96"/><rect x="159" y="159.24" width="1" height="0.96"/><rect x="161" y="159.24" width="1" height="0.96"/><rect x="163" y="159.24" width="1" height="0.96"/><rect x="166" y="159.24" width="1" height="0.96"/><rect x="168" y="159.24" width="1" height="0.96"/><rect x="170" y="159.24" width="1" height="0.96"/><rect x="172" y="159.24" width="1" height="0.96"/><rect x="175" y="159.24" width="2" height="0.96"/><rect x="189" y="159.24" width="1" height="0.96"/><rect x="191" y="159.24" width="2" height="0.96"/><rect x="200" y="159.24" width="1" height="0.96"/><rect x="220" y="159.24" width="1" height="0.96"/><rect x="225" y="159.24" width="2" height="0.96"/><rect x="229" y="159.24" width="2" height="0.96"/><rect x="232" y="159.24" width="2" height="0.96"/><rect x="236" y="159.24" width="1" height="0.96"/><rect x="244" y="159.24" width="1" height="0.96"/><rect x="248" y="159.24" width="1" height="0.96"/><rect x="251" y="159.24" width="3" height="0.96"/><rect x="255" y="159.24" width="2" height="0.96"/><rect x="259" y="159.24" width="4" height="0.96"/><rect x="265" y="159.24" width="1" height="0.96"/><rect x="268" y="159.24" width="3" height="0.96"/><rect x="282" y="159.24" width="3" height="0.96"/><rect x="291" y="159.24" width="2" height="0.96"/><rect x="310" y="159.24" width="3" height="0.96"/><rect x="314" y="159.24" width="1" height="0.96"/><rect x="316" y="159.24" width="1" height="0.96"/><rect x="318" y="159.24" width="4" height="0.96"/><rect x="325" y="159.24" width="1" height="0.96"/><rect x="328" y="159.24" width="1" height="0.96"/><rect x="330" y="159.24" width="8" height="0.96"/><rect x="339" y="159.24" width="2" height="0.96"/><rect x="348" y="159.24" width="1" height="0.96"/><rect x="350" y="159.24" width="2" height="0.96"/><rect x="353" y="159.24" width="2" height="0.96"/><rect x="356" y="159.24" width="1" height="0.96"/><rect x="359" y="159.24" width="2" height="0.96"/><rect x="362" y="159.24" width="2" height="0.96"/><rect x="365" y="159.24" width="1" height="0.96"/><rect x="372" y="159.24" width="1" height="0.96"/><rect x="375" y="159.24" width="1" height="0.96"/><rect x="398" y="159.24" width="2" height="0.96"/><rect x="402" y="159.24" width="2" height="0.96"/><rect x="411" y="159.24" width="3" height="0.96"/><rect x="415" y="159.24" width="2" height="0.96"/><rect x="420" y="159.24" width="2" height="0.96"/><rect x="425" y="159.24" width="1" height="0.96"/><rect x="427" y="159.24" width="4" height="0.96"/><rect x="432" y="159.24" width="13" height="0.96"/><rect x="446" y="159.24" width="1" height="0.96"/><rect x="459" y="159.24" width="1" height="0.96"/><rect x="461" y="159.24" width="1" height="0.96"/><rect x="480" y="159.24" width="1" height="0.96"/><rect x="483" y="159.24" width="1" height="0.96"/><rect x="486" y="159.24" width="1" height="0.96"/><rect x="488" y="159.24" width="2" height="0.96"/><rect x="491" y="159.24" width="2" height="0.96"/><rect x="499" y="159.24" width="2" height="0.96"/><rect x="507" y="159.24" width="1" height="0.96"/><rect x="509" y="159.24" width="1" height="0.96"/><rect x="511" y="159.24" width="1" height="0.96"/><rect x="514" y="159.24" width="2" height="0.96"/><rect x="519" y="159.24" width="2" height="0.96"/><rect x="523" y="159.24" width="2" height="0.96"/><rect x="528" y="159.24" width="2" height="0.96"/><rect x="535" y="159.24" width="1" height="0.96"/><rect x="540" y="159.24" width="2" height="0.96"/><rect x="547" y="159.24" width="1" height="0.96"/><rect x="549" y="159.24" width="1" height="0.96"/><rect x="552" y="159.24" width="3" height="0.96"/><rect x="558" y="159.24" width="1" height="0.96"/><rect x="562" y="159.24" width="1" height="0.96"/><rect x="571" y="159.24" width="1" height="0.96"/><rect x="574" y="159.24" width="2" height="0.96"/><rect x="584" y="159.24" width="5" height="0.96"/><rect x="604" y="159.24" width="5" height="0.96"/><rect x="610" y="159.24" width="3" height="0.96"/><rect x="615" y="159.24" width="1" height="0.96"/><rect x="617" y="159.24" width="2" height="0.96"/><rect x="633" y="159.24" width="1" height="0.96"/><rect x="650" y="159.24" width="2" height="0.96"/><rect x="658" y="159.24" width="1" height="0.96"/><rect x="661" y="159.24" width="1" height="0.96"/><rect x="663" y="159.24" width="2" height="0.96"/><rect x="666" y="159.24" width="5" height="0.96"/><rect x="82" y="162.90" width="1" height="0.96"/><rect x="84" y="162.90" width="1" height="0.96"/><rect x="88" y="162.90" width="1" height="0.96"/><rect x="96" y="162.90" width="1" height="0.96"/><rect x="102" y="162.90" width="1" height="0.96"/><rect x="111" y="162.90" width="3" height="0.96"/><rect x="135" y="162.90" width="1" height="0.96"/><rect x="139" y="162.90" width="1" height="0.96"/><rect x="147" y="162.90" width="2" height="0.96"/><rect x="159" y="162.90" width="1" height="0.96"/><rect x="162" y="162.90" width="2" height="0.96"/><rect x="166" y="162.90" width="2" height="0.96"/><rect x="170" y="162.90" width="1" height="0.96"/><rect x="172" y="162.90" width="1" height="0.96"/><rect x="175" y="162.90" width="1" height="0.96"/><rect x="192" y="162.90" width="1" height="0.96"/><rect x="199" y="162.90" width="2" height="0.96"/><rect x="225" y="162.90" width="1" height="0.96"/><rect x="228" y="162.90" width="1" height="0.96"/><rect x="232" y="162.90" width="3" height="0.96"/><rect x="236" y="162.90" width="1" height="0.96"/><rect x="248" y="162.90" width="1" height="0.96"/><rect x="250" y="162.90" width="1" height="0.96"/><rect x="252" y="162.90" width="2" height="0.96"/><rect x="255" y="162.90" width="2" height="0.96"/><rect x="258" y="162.90" width="5" height="0.96"/><rect x="265" y="162.90" width="1" height="0.96"/><rect x="268" y="162.90" width="2" height="0.96"/><rect x="280" y="162.90" width="1" height="0.96"/><rect x="283" y="162.90" width="2" height="0.96"/><rect x="291" y="162.90" width="2" height="0.96"/><rect x="310" y="162.90" width="1" height="0.96"/><rect x="320" y="162.90" width="2" height="0.96"/><rect x="325" y="162.90" width="1" height="0.96"/><rect x="330" y="162.90" width="4" height="0.96"/><rect x="335" y="162.90" width="3" height="0.96"/><rect x="339" y="162.90" width="1" height="0.96"/><rect x="341" y="162.90" width="2" height="0.96"/><rect x="350" y="162.90" width="2" height="0.96"/><rect x="353" y="162.90" width="2" height="0.96"/><rect x="356" y="162.90" width="1" height="0.96"/><rect x="359" y="162.90" width="3" height="0.96"/><rect x="363" y="162.90" width="1" height="0.96"/><rect x="365" y="162.90" width="1" height="0.96"/><rect x="398" y="162.90" width="7" height="0.96"/><rect x="411" y="162.90" width="2" height="0.96"/><rect x="415" y="162.90" width="2" height="0.96"/><rect x="425" y="162.90" width="1" height="0.96"/><rect x="429" y="162.90" width="2" height="0.96"/><rect x="433" y="162.90" width="6" height="0.96"/><rect x="440" y="162.90" width="5" height="0.96"/><rect x="446" y="162.90" width="1" height="0.96"/><rect x="479" y="162.90" width="2" height="0.96"/><rect x="483" y="162.90" width="2" height="0.96"/><rect x="486" y="162.90" width="1" height="0.96"/><rect x="488" y="162.90" width="2" height="0.96"/><rect x="491" y="162.90" width="2" height="0.96"/><rect x="500" y="162.90" width="1" height="0.96"/><rect x="507" y="162.90" width="1" height="0.96"/><rect x="511" y="162.90" width="1" height="0.96"/><rect x="514" y="162.90" width="2" height="0.96"/><rect x="518" y="162.90" width="3" height="0.96"/><rect x="523" y="162.90" width="1" height="0.96"/><rect x="528" y="162.90" width="1" height="0.96"/><rect x="531" y="162.90" width="1" height="0.96"/><rect x="535" y="162.90" width="1" height="0.96"/><rect x="540" y="162.90" width="2" height="0.96"/><rect x="546" y="162.90" width="2" height="0.96"/><rect x="549" y="162.90" width="1" height="0.96"/><rect x="553" y="162.90" width="2" height="0.96"/><rect x="558" y="162.90" width="1" height="0.96"/><rect x="562" y="162.90" width="1" height="0.96"/><rect x="571" y="162.90" width="1" height="0.96"/><rect x="574" y="162.90" width="2" height="0.96"/><rect x="584" y="162.90" width="1" height="0.96"/><rect x="586" y="162.90" width="3" height="0.96"/><rect x="604" y="162.90" width="1" height="0.96"/><rect x="607" y="162.90" width="1" height="0.96"/><rect x="610" y="162.90" width="3" height="0.96"/><rect x="614" y="162.90" width="2" height="0.96"/><rect x="617" y="162.90" width="2" height="0.96"/><rect x="630" y="162.90" width="2" height="0.96"/><rect x="633" y="162.90" width="1" height="0.96"/><rect x="651" y="162.90" width="1" height="0.96"/><rect x="663" y="162.90" width="2" height="0.96"/><rect x="666" y="162.90" width="1" height="0.96"/><rect x="668" y="162.90" width="1" height="0.96"/><rect x="670" y="162.90" width="1" height="0.96"/><rect x="82" y="166.56" width="1" height="0.96"/><rect x="84" y="166.56" width="1" height="0.96"/><rect x="96" y="166.56" width="2" height="0.96"/><rect x="102" y="166.56" width="1" height="0.96"/><rect x="105" y="166.56" width="1" height="0.96"/><rect x="111" y="166.56" width="1" height="0.96"/><rect x="113" y="166.56" width="2" height="0.96"/><rect x="138" y="166.56" width="2" height="0.96"/><rect x="142" y="166.56" width="1" height="0.96"/><rect x="147" y="166.56" width="2" height="0.96"/><rect x="159" y="166.56" width="1" height="0.96"/><rect x="162" y="166.56" width="3" height="0.96"/><rect x="166" y="166.56" width="2" height="0.96"/><rect x="172" y="166.56" width="4" height="0.96"/><rect x="225" y="166.56" width="1" height="0.96"/><rect x="227" y="166.56" width="2" height="0.96"/><rect x="232" y="166.56" width="1" height="0.96"/><rect x="234" y="166.56" width="1" height="0.96"/><rect x="236" y="166.56" width="1" height="0.96"/><rect x="250" y="166.56" width="1" height="0.96"/><rect x="253" y="166.56" width="1" height="0.96"/><rect x="256" y="166.56" width="1" height="0.96"/><rect x="258" y="166.56" width="1" height="0.96"/><rect x="260" y="166.56" width="1" height="0.96"/><rect x="262" y="166.56" width="1" height="0.96"/><rect x="265" y="166.56" width="5" height="0.96"/><rect x="280" y="166.56" width="1" height="0.96"/><rect x="284" y="166.56" width="1" height="0.96"/><rect x="290" y="166.56" width="3" height="0.96"/><rect x="320" y="166.56" width="1" height="0.96"/><rect x="325" y="166.56" width="1" height="0.96"/><rect x="329" y="166.56" width="3" height="0.96"/><rect x="333" y="166.56" width="1" height="0.96"/><rect x="336" y="166.56" width="2" height="0.96"/><rect x="341" y="166.56" width="1" height="0.96"/><rect x="350" y="166.56" width="2" height="0.96"/><rect x="353" y="166.56" width="1" height="0.96"/><rect x="356" y="166.56" width="1" height="0.96"/><rect x="359" y="166.56" width="3" height="0.96"/><rect x="364" y="166.56" width="2" height="0.96"/><rect x="398" y="166.56" width="1" height="0.96"/><rect x="400" y="166.56" width="5" height="0.96"/><rect x="415" y="166.56" width="2" height="0.96"/><rect x="429" y="166.56" width="2" height="0.96"/><rect x="433" y="166.56" width="2" height="0.96"/><rect x="436" y="166.56" width="2" height="0.96"/><rect x="440" y="166.56" width="2" height="0.96"/><rect x="443" y="166.56" width="1" height="0.96"/><rect x="500" y="166.56" width="1" height="0.96"/><rect x="531" y="166.56" width="1" height="0.96"/><rect x="546" y="166.56" width="1" height="0.96"/><rect x="548" y="166.56" width="2" height="0.96"/><rect x="551" y="166.56" width="1" height="0.96"/><rect x="553" y="166.56" width="2" height="0.96"/><rect x="557" y="166.56" width="2" height="0.96"/><rect x="562" y="166.56" width="2" height="0.96"/><rect x="569" y="166.56" width="3" height="0.96"/><rect x="574" y="166.56" width="2" height="0.96"/><rect x="584" y="166.56" width="1" height="0.96"/><rect x="586" y="166.56" width="3" height="0.96"/><rect x="607" y="166.56" width="1" height="0.96"/><rect x="618" y="166.56" width="1" height="0.96"/><rect x="630" y="166.56" width="1" height="0.96"/><rect x="633" y="166.56" width="1" height="0.96"/><rect x="651" y="166.56" width="1" height="0.96"/><rect x="663" y="166.56" width="2" height="0.96"/><rect x="666" y="166.56" width="1" height="0.96"/><rect x="84" y="170.22" width="1" height="0.96"/><rect x="96" y="170.22" width="2" height="0.96"/><rect x="111" y="170.22" width="1" height="0.96"/><rect x="113" y="170.22" width="2" height="0.96"/><rect x="139" y="170.22" width="2" height="0.96"/><rect x="142" y="170.22" width="2" height="0.96"/><rect x="147" y="170.22" width="2" height="0.96"/><rect x="159" y="170.22" width="1" height="0.96"/><rect x="162" y="170.22" width="3" height="0.96"/><rect x="166" y="170.22" width="2" height="0.96"/><rect x="172" y="170.22" width="5" height="0.96"/><rect x="227" y="170.22" width="2" height="0.96"/><rect x="230" y="170.22" width="1" height="0.96"/><rect x="264" y="170.22" width="1" height="0.96"/><rect x="266" y="170.22" width="4" height="0.96"/><rect x="290" y="170.22" width="3" height="0.96"/><rect x="319" y="170.22" width="2" height="0.96"/><rect x="333" y="170.22" width="1" height="0.96"/><rect x="336" y="170.22" width="2" height="0.96"/><rect x="341" y="170.22" width="1" height="0.96"/><rect x="348" y="170.22" width="1" height="0.96"/><rect x="351" y="170.22" width="1" height="0.96"/><rect x="353" y="170.22" width="1" height="0.96"/><rect x="356" y="170.22" width="1" height="0.96"/><rect x="359" y="170.22" width="1" height="0.96"/><rect x="361" y="170.22" width="1" height="0.96"/><rect x="364" y="170.22" width="1" height="0.96"/><rect x="400" y="170.22" width="1" height="0.96"/><rect x="403" y="170.22" width="1" height="0.96"/><rect x="415" y="170.22" width="2" height="0.96"/><rect x="429" y="170.22" width="2" height="0.96"/><rect x="432" y="170.22" width="1" height="0.96"/><rect x="434" y="170.22" width="1" height="0.96"/><rect x="436" y="170.22" width="2" height="0.96"/><rect x="441" y="170.22" width="1" height="0.96"/><rect x="443" y="170.22" width="1" height="0.96"/><rect x="546" y="170.22" width="1" height="0.96"/><rect x="548" y="170.22" width="2" height="0.96"/><rect x="554" y="170.22" width="1" height="0.96"/><rect x="558" y="170.22" width="1" height="0.96"/><rect x="563" y="170.22" width="1" height="0.96"/><rect x="569" y="170.22" width="3" height="0.96"/><rect x="574" y="170.22" width="2" height="0.96"/><rect x="584" y="170.22" width="1" height="0.96"/><rect x="586" y="170.22" width="3" height="0.96"/><rect x="633" y="170.22" width="1" height="0.96"/><rect x="663" y="170.22" width="2" height="0.96"/><rect x="666" y="170.22" width="1" height="0.96"/><rect x="84" y="173.88" width="1" height="0.96"/><rect x="88" y="173.88" width="1" height="0.96"/><rect x="96" y="173.88" width="2" height="0.96"/><rect x="113" y="173.88" width="1" height="0.96"/><rect x="139" y="173.88" width="1" height="0.96"/><rect x="162" y="173.88" width="3" height="0.96"/><rect x="166" y="173.88" width="2" height="0.96"/><rect x="172" y="173.88" width="4" height="0.96"/><rect x="227" y="173.88" width="1" height="0.96"/><rect x="264" y="173.88" width="1" height="0.96"/><rect x="266" y="173.88" width="4" height="0.96"/><rect x="290" y="173.88" width="3" height="0.96"/><rect x="337" y="173.88" width="1" height="0.96"/><rect x="341" y="173.88" width="1" height="0.96"/><rect x="348" y="173.88" width="1" height="0.96"/><rect x="351" y="173.88" width="1" height="0.96"/><rect x="399" y="173.88" width="2" height="0.96"/><rect x="403" y="173.88" width="1" height="0.96"/><rect x="415" y="173.88" width="2" height="0.96"/><rect x="430" y="173.88" width="1" height="0.96"/><rect x="434" y="173.88" width="1" height="0.96"/><rect x="436" y="173.88" width="2" height="0.96"/><rect x="441" y="173.88" width="1" height="0.96"/><rect x="570" y="173.88" width="2" height="0.96"/><rect x="574" y="173.88" width="1" height="0.96"/><rect x="584" y="173.88" width="1" height="0.96"/><rect x="586" y="173.88" width="3" height="0.96"/><rect x="663" y="173.88" width="1" height="0.96"/><rect x="82" y="177.54" width="1" height="0.96"/><rect x="88" y="177.54" width="1" height="0.96"/><rect x="96" y="177.54" width="1" height="0.96"/><rect x="139" y="177.54" width="1" height="0.96"/><rect x="164" y="177.54" width="1" height="0.96"/><rect x="167" y="177.54" width="1" height="0.96"/><rect x="172" y="177.54" width="1" height="0.96"/><rect x="175" y="177.54" width="1" height="0.96"/><rect x="227" y="177.54" width="1" height="0.96"/><rect x="264" y="177.54" width="1" height="0.96"/><rect x="267" y="177.54" width="1" height="0.96"/><rect x="291" y="177.54" width="2" height="0.96"/><rect x="337" y="177.54" width="1" height="0.96"/><rect x="341" y="177.54" width="2" height="0.96"/><rect x="351" y="177.54" width="1" height="0.96"/><rect x="360" y="177.54" width="1" height="0.96"/><rect x="399" y="177.54" width="1" height="0.96"/><rect x="430" y="177.54" width="1" height="0.96"/><rect x="436" y="177.54" width="1" height="0.96"/><rect x="440" y="177.54" width="2" height="0.96"/><rect x="570" y="177.54" width="2" height="0.96"/><rect x="574" y="177.54" width="1" height="0.96"/><rect x="584" y="177.54" width="1" height="0.96"/><rect x="586" y="177.54" width="3" height="0.96"/><rect x="96" y="181.20" width="1" height="0.96"/><rect x="139" y="181.20" width="2" height="0.96"/><rect x="227" y="181.20" width="2" height="0.96"/><rect x="291" y="181.20" width="2" height="0.96"/><rect x="336" y="181.20" width="2" height="0.96"/><rect x="341" y="181.20" width="2" height="0.96"/><rect x="350" y="181.20" width="2" height="0.96"/><rect x="399" y="181.20" width="1" height="0.96"/><rect x="430" y="181.20" width="1" height="0.96"/><rect x="436" y="181.20" width="1" height="0.96"/><rect x="440" y="181.20" width="1" height="0.96"/><rect x="584" y="181.20" width="1" height="0.96"/><rect x="587" y="181.20" width="2" height="0.96"/><rect x="96" y="184.86" width="2" height="0.96"/><rect x="139" y="184.86" width="2" height="0.96"/><rect x="173" y="184.86" width="2" height="0.96"/><rect x="227" y="184.86" width="2" height="0.96"/><rect x="341" y="184.86" width="2" height="0.96"/><rect x="350" y="184.86" width="2" height="0.96"/><rect x="399" y="184.86" width="2" height="0.96"/><rect x="430" y="184.86" width="1" height="0.96"/><rect x="584" y="184.86" width="1" height="0.96"/></g><g fill="#dadada"><rect x="76" y="87.00" width="1" height="2.7"/><rect x="83" y="87.00" width="1" height="2.7"/><rect x="106" y="87.00" width="1" height="2.7"/><rect x="155" y="87.00" width="1" height="2.7"/><rect x="164" y="87.00" width="1" height="2.7"/><rect x="179" y="87.00" width="2" height="2.7"/><rect x="199" y="87.00" width="1" height="2.7"/><rect x="215" y="87.00" width="1" height="2.7"/><rect x="225" y="87.00" width="1" height="2.7"/><rect x="240" y="87.00" width="1" height="2.7"/><rect x="243" y="87.00" width="1" height="2.7"/><rect x="255" y="87.00" width="1" height="2.7"/><rect x="259" y="87.00" width="2" height="2.7"/><rect x="265" y="87.00" width="1" height="2.7"/><rect x="277" y="87.00" width="1" height="2.7"/><rect x="286" y="87.00" width="1" height="2.7"/><rect x="291" y="87.00" width="1" height="2.7"/><rect x="295" y="87.00" width="1" height="2.7"/><rect x="306" y="87.00" width="1" height="2.7"/><rect x="316" y="87.00" width="1" height="2.7"/><rect x="334" y="87.00" width="1" height="2.7"/><rect x="359" y="87.00" width="1" height="2.7"/><rect x="376" y="87.00" width="2" height="2.7"/><rect x="387" y="87.00" width="1" height="2.7"/><rect x="393" y="87.00" width="1" height="2.7"/><rect x="432" y="87.00" width="1" height="2.7"/><rect x="448" y="87.00" width="1" height="2.7"/><rect x="470" y="87.00" width="1" height="2.7"/><rect x="491" y="87.00" width="1" height="2.7"/><rect x="508" y="87.00" width="1" height="2.7"/><rect x="590" y="87.00" width="1" height="2.7"/><rect x="597" y="87.00" width="1" height="2.7"/><rect x="600" y="87.00" width="2" height="2.7"/><rect x="623" y="87.00" width="1" height="2.7"/><rect x="628" y="87.00" width="1" height="2.7"/><rect x="663" y="87.00" width="1" height="2.7"/><rect x="696" y="87.00" width="1" height="2.7"/><rect x="78" y="90.66" width="1" height="2.7"/><rect x="101" y="90.66" width="1" height="2.7"/><rect x="110" y="90.66" width="1" height="2.7"/><rect x="124" y="90.66" width="1" height="2.7"/><rect x="149" y="90.66" width="1" height="2.7"/><rect x="159" y="90.66" width="1" height="2.7"/><rect x="164" y="90.66" width="1" height="2.7"/><rect x="175" y="90.66" width="1" height="2.7"/><rect x="197" y="90.66" width="1" height="2.7"/><rect x="209" y="90.66" width="1" height="2.7"/><rect x="212" y="90.66" width="3" height="2.7"/><rect x="225" y="90.66" width="1" height="2.7"/><rect x="254" y="90.66" width="1" height="2.7"/><rect x="280" y="90.66" width="1" height="2.7"/><rect x="284" y="90.66" width="2" height="2.7"/><rect x="306" y="90.66" width="1" height="2.7"/><rect x="328" y="90.66" width="1" height="2.7"/><rect x="330" y="90.66" width="1" height="2.7"/><rect x="337" y="90.66" width="1" height="2.7"/><rect x="344" y="90.66" width="1" height="2.7"/><rect x="357" y="90.66" width="1" height="2.7"/><rect x="396" y="90.66" width="1" height="2.7"/><rect x="409" y="90.66" width="1" height="2.7"/><rect x="418" y="90.66" width="1" height="2.7"/><rect x="435" y="90.66" width="1" height="2.7"/><rect x="475" y="90.66" width="1" height="2.7"/><rect x="490" y="90.66" width="1" height="2.7"/><rect x="513" y="90.66" width="1" height="2.7"/><rect x="536" y="90.66" width="1" height="2.7"/><rect x="538" y="90.66" width="1" height="2.7"/><rect x="540" y="90.66" width="1" height="2.7"/><rect x="551" y="90.66" width="1" height="2.7"/><rect x="590" y="90.66" width="1" height="2.7"/><rect x="612" y="90.66" width="1" height="2.7"/><rect x="621" y="90.66" width="1" height="2.7"/><rect x="650" y="90.66" width="1" height="2.7"/><rect x="658" y="90.66" width="1" height="2.7"/><rect x="660" y="90.66" width="1" height="2.7"/><rect x="78" y="94.32" width="1" height="2.7"/><rect x="96" y="94.32" width="1" height="2.7"/><rect x="136" y="94.32" width="1" height="2.7"/><rect x="138" y="94.32" width="1" height="2.7"/><rect x="159" y="94.32" width="1" height="2.7"/><rect x="180" y="94.32" width="1" height="2.7"/><rect x="185" y="94.32" width="1" height="2.7"/><rect x="190" y="94.32" width="1" height="2.7"/><rect x="198" y="94.32" width="1" height="2.7"/><rect x="225" y="94.32" width="1" height="2.7"/><rect x="235" y="94.32" width="1" height="2.7"/><rect x="278" y="94.32" width="2" height="2.7"/><rect x="296" y="94.32" width="1" height="2.7"/><rect x="301" y="94.32" width="1" height="2.7"/><rect x="311" y="94.32" width="1" height="2.7"/><rect x="314" y="94.32" width="1" height="2.7"/><rect x="355" y="94.32" width="1" height="2.7"/><rect x="372" y="94.32" width="1" height="2.7"/><rect x="422" y="94.32" width="1" height="2.7"/><rect x="467" y="94.32" width="1" height="2.7"/><rect x="475" y="94.32" width="1" height="2.7"/><rect x="482" y="94.32" width="2" height="2.7"/><rect x="485" y="94.32" width="1" height="2.7"/><rect x="492" y="94.32" width="1" height="2.7"/><rect x="503" y="94.32" width="1" height="2.7"/><rect x="515" y="94.32" width="1" height="2.7"/><rect x="560" y="94.32" width="1" height="2.7"/><rect x="579" y="94.32" width="2" height="2.7"/><rect x="604" y="94.32" width="1" height="2.7"/><rect x="628" y="94.32" width="1" height="2.7"/><rect x="634" y="94.32" width="1" height="2.7"/><rect x="683" y="94.32" width="2" height="2.7"/><rect x="686" y="94.32" width="1" height="2.7"/><rect x="690" y="94.32" width="1" height="2.7"/><rect x="86" y="97.98" width="1" height="2.7"/><rect x="117" y="97.98" width="1" height="2.7"/><rect x="121" y="97.98" width="1" height="2.7"/><rect x="127" y="97.98" width="1" height="2.7"/><rect x="132" y="97.98" width="1" height="2.7"/><rect x="137" y="97.98" width="1" height="2.7"/><rect x="163" y="97.98" width="1" height="2.7"/><rect x="173" y="97.98" width="1" height="2.7"/><rect x="176" y="97.98" width="1" height="2.7"/><rect x="197" y="97.98" width="1" height="2.7"/><rect x="201" y="97.98" width="1" height="2.7"/><rect x="238" y="97.98" width="1" height="2.7"/><rect x="315" y="97.98" width="1" height="2.7"/><rect x="332" y="97.98" width="1" height="2.7"/><rect x="380" y="97.98" width="1" height="2.7"/><rect x="389" y="97.98" width="1" height="2.7"/><rect x="413" y="97.98" width="1" height="2.7"/><rect x="421" y="97.98" width="1" height="2.7"/><rect x="459" y="97.98" width="1" height="2.7"/><rect x="472" y="97.98" width="1" height="2.7"/><rect x="494" y="97.98" width="1" height="2.7"/><rect x="501" y="97.98" width="1" height="2.7"/><rect x="508" y="97.98" width="1" height="2.7"/><rect x="511" y="97.98" width="1" height="2.7"/><rect x="526" y="97.98" width="1" height="2.7"/><rect x="603" y="97.98" width="1" height="2.7"/><rect x="667" y="97.98" width="1" height="2.7"/><rect x="675" y="97.98" width="1" height="2.7"/><rect x="678" y="97.98" width="1" height="2.7"/><rect x="690" y="97.98" width="1" height="2.7"/><rect x="694" y="97.98" width="1" height="2.7"/><rect x="86" y="101.64" width="1" height="2.7"/><rect x="112" y="101.64" width="1" height="2.7"/><rect x="116" y="101.64" width="1" height="2.7"/><rect x="139" y="101.64" width="1" height="2.7"/><rect x="171" y="101.64" width="1" height="2.7"/><rect x="175" y="101.64" width="1" height="2.7"/><rect x="185" y="101.64" width="1" height="2.7"/><rect x="192" y="101.64" width="1" height="2.7"/><rect x="222" y="101.64" width="1" height="2.7"/><rect x="227" y="101.64" width="1" height="2.7"/><rect x="267" y="101.64" width="1" height="2.7"/><rect x="270" y="101.64" width="1" height="2.7"/><rect x="283" y="101.64" width="1" height="2.7"/><rect x="346" y="101.64" width="1" height="2.7"/><rect x="355" y="101.64" width="1" height="2.7"/><rect x="357" y="101.64" width="1" height="2.7"/><rect x="406" y="101.64" width="1" height="2.7"/><rect x="429" y="101.64" width="2" height="2.7"/><rect x="449" y="101.64" width="1" height="2.7"/><rect x="470" y="101.64" width="1" height="2.7"/><rect x="481" y="101.64" width="1" height="2.7"/><rect x="498" y="101.64" width="1" height="2.7"/><rect x="500" y="101.64" width="1" height="2.7"/><rect x="508" y="101.64" width="1" height="2.7"/><rect x="526" y="101.64" width="1" height="2.7"/><rect x="591" y="101.64" width="1" height="2.7"/><rect x="595" y="101.64" width="1" height="2.7"/><rect x="622" y="101.64" width="1" height="2.7"/><rect x="627" y="101.64" width="1" height="2.7"/><rect x="648" y="101.64" width="2" height="2.7"/><rect x="678" y="101.64" width="1" height="2.7"/><rect x="684" y="101.64" width="1" height="2.7"/><rect x="83" y="105.30" width="1" height="2.7"/><rect x="112" y="105.30" width="1" height="2.7"/><rect x="171" y="105.30" width="1" height="2.7"/><rect x="192" y="105.30" width="1" height="2.7"/><rect x="236" y="105.30" width="1" height="2.7"/><rect x="238" y="105.30" width="1" height="2.7"/><rect x="245" y="105.30" width="1" height="2.7"/><rect x="272" y="105.30" width="1" height="2.7"/><rect x="278" y="105.30" width="1" height="2.7"/><rect x="283" y="105.30" width="1" height="2.7"/><rect x="332" y="105.30" width="1" height="2.7"/><rect x="337" y="105.30" width="1" height="2.7"/><rect x="365" y="105.30" width="2" height="2.7"/><rect x="393" y="105.30" width="1" height="2.7"/><rect x="396" y="105.30" width="1" height="2.7"/><rect x="416" y="105.30" width="1" height="2.7"/><rect x="429" y="105.30" width="1" height="2.7"/><rect x="441" y="105.30" width="1" height="2.7"/><rect x="452" y="105.30" width="1" height="2.7"/><rect x="491" y="105.30" width="1" height="2.7"/><rect x="534" y="105.30" width="1" height="2.7"/><rect x="552" y="105.30" width="1" height="2.7"/><rect x="557" y="105.30" width="1" height="2.7"/><rect x="571" y="105.30" width="1" height="2.7"/><rect x="580" y="105.30" width="1" height="2.7"/><rect x="606" y="105.30" width="1" height="2.7"/><rect x="638" y="105.30" width="1" height="2.7"/><rect x="665" y="105.30" width="1" height="2.7"/><rect x="667" y="105.30" width="1" height="2.7"/><rect x="674" y="105.30" width="2" height="2.7"/><rect x="687" y="105.30" width="1" height="2.7"/><rect x="83" y="108.96" width="1" height="2.7"/><rect x="88" y="108.96" width="1" height="2.7"/><rect x="119" y="108.96" width="1" height="2.7"/><rect x="123" y="108.96" width="1" height="2.7"/><rect x="158" y="108.96" width="1" height="2.7"/><rect x="164" y="108.96" width="1" height="2.7"/><rect x="202" y="108.96" width="2" height="2.7"/><rect x="207" y="108.96" width="1" height="2.7"/><rect x="211" y="108.96" width="1" height="2.7"/><rect x="231" y="108.96" width="1" height="2.7"/><rect x="240" y="108.96" width="1" height="2.7"/><rect x="242" y="108.96" width="1" height="2.7"/><rect x="348" y="108.96" width="1" height="2.7"/><rect x="357" y="108.96" width="1" height="2.7"/><rect x="369" y="108.96" width="1" height="2.7"/><rect x="374" y="108.96" width="1" height="2.7"/><rect x="392" y="108.96" width="2" height="2.7"/><rect x="406" y="108.96" width="1" height="2.7"/><rect x="413" y="108.96" width="3" height="2.7"/><rect x="421" y="108.96" width="1" height="2.7"/><rect x="433" y="108.96" width="1" height="2.7"/><rect x="446" y="108.96" width="1" height="2.7"/><rect x="459" y="108.96" width="1" height="2.7"/><rect x="461" y="108.96" width="1" height="2.7"/><rect x="482" y="108.96" width="1" height="2.7"/><rect x="489" y="108.96" width="1" height="2.7"/><rect x="521" y="108.96" width="1" height="2.7"/><rect x="592" y="108.96" width="1" height="2.7"/><rect x="594" y="108.96" width="1" height="2.7"/><rect x="621" y="108.96" width="1" height="2.7"/><rect x="632" y="108.96" width="1" height="2.7"/><rect x="680" y="108.96" width="1" height="2.7"/><rect x="692" y="108.96" width="1" height="2.7"/><rect x="76" y="112.62" width="1" height="2.7"/><rect x="96" y="112.62" width="1" height="2.7"/><rect x="98" y="112.62" width="1" height="2.7"/><rect x="123" y="112.62" width="1" height="2.7"/><rect x="135" y="112.62" width="1" height="2.7"/><rect x="140" y="112.62" width="1" height="2.7"/><rect x="161" y="112.62" width="1" height="2.7"/><rect x="178" y="112.62" width="1" height="2.7"/><rect x="180" y="112.62" width="1" height="2.7"/><rect x="182" y="112.62" width="1" height="2.7"/><rect x="195" y="112.62" width="1" height="2.7"/><rect x="198" y="112.62" width="1" height="2.7"/><rect x="206" y="112.62" width="1" height="2.7"/><rect x="237" y="112.62" width="1" height="2.7"/><rect x="243" y="112.62" width="1" height="2.7"/><rect x="267" y="112.62" width="1" height="2.7"/><rect x="294" y="112.62" width="1" height="2.7"/><rect x="314" y="112.62" width="1" height="2.7"/><rect x="348" y="112.62" width="1" height="2.7"/><rect x="351" y="112.62" width="1" height="2.7"/><rect x="399" y="112.62" width="1" height="2.7"/><rect x="414" y="112.62" width="1" height="2.7"/><rect x="418" y="112.62" width="1" height="2.7"/><rect x="428" y="112.62" width="1" height="2.7"/><rect x="436" y="112.62" width="1" height="2.7"/><rect x="454" y="112.62" width="1" height="2.7"/><rect x="463" y="112.62" width="1" height="2.7"/><rect x="472" y="112.62" width="1" height="2.7"/><rect x="498" y="112.62" width="1" height="2.7"/><rect x="507" y="112.62" width="1" height="2.7"/><rect x="529" y="112.62" width="1" height="2.7"/><rect x="539" y="112.62" width="1" height="2.7"/><rect x="567" y="112.62" width="1" height="2.7"/><rect x="580" y="112.62" width="1" height="2.7"/><rect x="614" y="112.62" width="1" height="2.7"/><rect x="643" y="112.62" width="1" height="2.7"/><rect x="661" y="112.62" width="1" height="2.7"/><rect x="668" y="112.62" width="1" height="2.7"/><rect x="681" y="112.62" width="1" height="2.7"/><rect x="688" y="112.62" width="1" height="2.7"/><rect x="101" y="116.28" width="1" height="2.7"/><rect x="107" y="116.28" width="1" height="2.7"/><rect x="142" y="116.28" width="1" height="2.7"/><rect x="159" y="116.28" width="1" height="2.7"/><rect x="177" y="116.28" width="2" height="2.7"/><rect x="188" y="116.28" width="1" height="2.7"/><rect x="206" y="116.28" width="1" height="2.7"/><rect x="246" y="116.28" width="1" height="2.7"/><rect x="250" y="116.28" width="1" height="2.7"/><rect x="262" y="116.28" width="1" height="2.7"/><rect x="267" y="116.28" width="1" height="2.7"/><rect x="269" y="116.28" width="1" height="2.7"/><rect x="281" y="116.28" width="1" height="2.7"/><rect x="283" y="116.28" width="1" height="2.7"/><rect x="293" y="116.28" width="1" height="2.7"/><rect x="310" y="116.28" width="1" height="2.7"/><rect x="360" y="116.28" width="2" height="2.7"/><rect x="375" y="116.28" width="1" height="2.7"/><rect x="398" y="116.28" width="1" height="2.7"/><rect x="400" y="116.28" width="1" height="2.7"/><rect x="436" y="116.28" width="1" height="2.7"/><rect x="450" y="116.28" width="1" height="2.7"/><rect x="470" y="116.28" width="2" height="2.7"/><rect x="475" y="116.28" width="1" height="2.7"/><rect x="487" y="116.28" width="1" height="2.7"/><rect x="490" y="116.28" width="1" height="2.7"/><rect x="537" y="116.28" width="1" height="2.7"/><rect x="540" y="116.28" width="1" height="2.7"/><rect x="542" y="116.28" width="1" height="2.7"/><rect x="608" y="116.28" width="1" height="2.7"/><rect x="618" y="116.28" width="2" height="2.7"/><rect x="641" y="116.28" width="1" height="2.7"/><rect x="653" y="116.28" width="1" height="2.7"/><rect x="656" y="116.28" width="1" height="2.7"/><rect x="663" y="116.28" width="1" height="2.7"/><rect x="684" y="116.28" width="1" height="2.7"/><rect x="693" y="116.28" width="1" height="2.7"/><rect x="76" y="119.94" width="1" height="2.7"/><rect x="104" y="119.94" width="1" height="2.7"/><rect x="107" y="119.94" width="1" height="2.7"/><rect x="118" y="119.94" width="1" height="2.7"/><rect x="121" y="119.94" width="1" height="2.7"/><rect x="134" y="119.94" width="1" height="2.7"/><rect x="173" y="119.94" width="1" height="2.7"/><rect x="176" y="119.94" width="1" height="2.7"/><rect x="212" y="119.94" width="1" height="2.7"/><rect x="248" y="119.94" width="1" height="2.7"/><rect x="254" y="119.94" width="1" height="2.7"/><rect x="261" y="119.94" width="1" height="2.7"/><rect x="276" y="119.94" width="2" height="2.7"/><rect x="300" y="119.94" width="1" height="2.7"/><rect x="306" y="119.94" width="2" height="2.7"/><rect x="309" y="119.94" width="1" height="2.7"/><rect x="338" y="119.94" width="1" height="2.7"/><rect x="368" y="119.94" width="1" height="2.7"/><rect x="397" y="119.94" width="1" height="2.7"/><rect x="406" y="119.94" width="1" height="2.7"/><rect x="435" y="119.94" width="1" height="2.7"/><rect x="441" y="119.94" width="1" height="2.7"/><rect x="452" y="119.94" width="1" height="2.7"/><rect x="464" y="119.94" width="1" height="2.7"/><rect x="487" y="119.94" width="1" height="2.7"/><rect x="497" y="119.94" width="1" height="2.7"/><rect x="531" y="119.94" width="1" height="2.7"/><rect x="557" y="119.94" width="1" height="2.7"/><rect x="559" y="119.94" width="1" height="2.7"/><rect x="574" y="119.94" width="1" height="2.7"/><rect x="598" y="119.94" width="1" height="2.7"/><rect x="630" y="119.94" width="1" height="2.7"/><rect x="638" y="119.94" width="1" height="2.7"/><rect x="664" y="119.94" width="1" height="2.7"/><rect x="672" y="119.94" width="1" height="2.7"/><rect x="696" y="119.94" width="1" height="2.7"/><rect x="89" y="123.60" width="1" height="2.7"/><rect x="103" y="123.60" width="1" height="2.7"/><rect x="113" y="123.60" width="1" height="2.7"/><rect x="121" y="123.60" width="2" height="2.7"/><rect x="126" y="123.60" width="2" height="2.7"/><rect x="142" y="123.60" width="2" height="2.7"/><rect x="184" y="123.60" width="1" height="2.7"/><rect x="197" y="123.60" width="1" height="2.7"/><rect x="208" y="123.60" width="1" height="2.7"/><rect x="210" y="123.60" width="1" height="2.7"/><rect x="215" y="123.60" width="1" height="2.7"/><rect x="232" y="123.60" width="1" height="2.7"/><rect x="255" y="123.60" width="1" height="2.7"/><rect x="260" y="123.60" width="1" height="2.7"/><rect x="266" y="123.60" width="1" height="2.7"/><rect x="271" y="123.60" width="1" height="2.7"/><rect x="276" y="123.60" width="1" height="2.7"/><rect x="288" y="123.60" width="1" height="2.7"/><rect x="295" y="123.60" width="1" height="2.7"/><rect x="305" y="123.60" width="1" height="2.7"/><rect x="320" y="123.60" width="1" height="2.7"/><rect x="324" y="123.60" width="1" height="2.7"/><rect x="355" y="123.60" width="1" height="2.7"/><rect x="381" y="123.60" width="1" height="2.7"/><rect x="396" y="123.60" width="1" height="2.7"/><rect x="406" y="123.60" width="1" height="2.7"/><rect x="413" y="123.60" width="1" height="2.7"/><rect x="424" y="123.60" width="2" height="2.7"/><rect x="453" y="123.60" width="1" height="2.7"/><rect x="462" y="123.60" width="1" height="2.7"/><rect x="467" y="123.60" width="1" height="2.7"/><rect x="473" y="123.60" width="1" height="2.7"/><rect x="478" y="123.60" width="1" height="2.7"/><rect x="480" y="123.60" width="1" height="2.7"/><rect x="512" y="123.60" width="1" height="2.7"/><rect x="521" y="123.60" width="1" height="2.7"/><rect x="524" y="123.60" width="1" height="2.7"/><rect x="527" y="123.60" width="1" height="2.7"/><rect x="531" y="123.60" width="1" height="2.7"/><rect x="549" y="123.60" width="1" height="2.7"/><rect x="556" y="123.60" width="1" height="2.7"/><rect x="583" y="123.60" width="1" height="2.7"/><rect x="596" y="123.60" width="1" height="2.7"/><rect x="598" y="123.60" width="1" height="2.7"/><rect x="608" y="123.60" width="1" height="2.7"/><rect x="613" y="123.60" width="2" height="2.7"/><rect x="643" y="123.60" width="1" height="2.7"/><rect x="650" y="123.60" width="1" height="2.7"/><rect x="661" y="123.60" width="1" height="2.7"/><rect x="99" y="127.26" width="1" height="2.7"/><rect x="106" y="127.26" width="1" height="2.7"/><rect x="125" y="127.26" width="1" height="2.7"/><rect x="128" y="127.26" width="1" height="2.7"/><rect x="139" y="127.26" width="1" height="2.7"/><rect x="166" y="127.26" width="1" height="2.7"/><rect x="195" y="127.26" width="1" height="2.7"/><rect x="199" y="127.26" width="1" height="2.7"/><rect x="208" y="127.26" width="1" height="2.7"/><rect x="221" y="127.26" width="2" height="2.7"/><rect x="228" y="127.26" width="3" height="2.7"/><rect x="233" y="127.26" width="1" height="2.7"/><rect x="236" y="127.26" width="1" height="2.7"/><rect x="239" y="127.26" width="2" height="2.7"/><rect x="265" y="127.26" width="1" height="2.7"/><rect x="278" y="127.26" width="1" height="2.7"/><rect x="282" y="127.26" width="1" height="2.7"/><rect x="313" y="127.26" width="1" height="2.7"/><rect x="322" y="127.26" width="1" height="2.7"/><rect x="329" y="127.26" width="1" height="2.7"/><rect x="338" y="127.26" width="1" height="2.7"/><rect x="353" y="127.26" width="1" height="2.7"/><rect x="364" y="127.26" width="1" height="2.7"/><rect x="376" y="127.26" width="1" height="2.7"/><rect x="383" y="127.26" width="1" height="2.7"/><rect x="400" y="127.26" width="1" height="2.7"/><rect x="403" y="127.26" width="1" height="2.7"/><rect x="416" y="127.26" width="1" height="2.7"/><rect x="432" y="127.26" width="1" height="2.7"/><rect x="456" y="127.26" width="1" height="2.7"/><rect x="489" y="127.26" width="1" height="2.7"/><rect x="513" y="127.26" width="1" height="2.7"/><rect x="516" y="127.26" width="1" height="2.7"/><rect x="522" y="127.26" width="1" height="2.7"/><rect x="529" y="127.26" width="1" height="2.7"/><rect x="538" y="127.26" width="1" height="2.7"/><rect x="545" y="127.26" width="2" height="2.7"/><rect x="563" y="127.26" width="1" height="2.7"/><rect x="565" y="127.26" width="1" height="2.7"/><rect x="585" y="127.26" width="1" height="2.7"/><rect x="588" y="127.26" width="1" height="2.7"/><rect x="628" y="127.26" width="1" height="2.7"/><rect x="630" y="127.26" width="1" height="2.7"/><rect x="632" y="127.26" width="2" height="2.7"/><rect x="651" y="127.26" width="1" height="2.7"/><rect x="680" y="127.26" width="1" height="2.7"/><rect x="84" y="130.92" width="1" height="2.7"/><rect x="142" y="130.92" width="1" height="2.7"/><rect x="145" y="130.92" width="1" height="2.7"/><rect x="172" y="130.92" width="1" height="2.7"/><rect x="181" y="130.92" width="1" height="2.7"/><rect x="210" y="130.92" width="1" height="2.7"/><rect x="233" y="130.92" width="1" height="2.7"/><rect x="235" y="130.92" width="1" height="2.7"/><rect x="262" y="130.92" width="2" height="2.7"/><rect x="265" y="130.92" width="1" height="2.7"/><rect x="281" y="130.92" width="1" height="2.7"/><rect x="284" y="130.92" width="1" height="2.7"/><rect x="290" y="130.92" width="1" height="2.7"/><rect x="295" y="130.92" width="1" height="2.7"/><rect x="309" y="130.92" width="2" height="2.7"/><rect x="313" y="130.92" width="1" height="2.7"/><rect x="319" y="130.92" width="1" height="2.7"/><rect x="322" y="130.92" width="1" height="2.7"/><rect x="336" y="130.92" width="1" height="2.7"/><rect x="338" y="130.92" width="1" height="2.7"/><rect x="345" y="130.92" width="1" height="2.7"/><rect x="355" y="130.92" width="2" height="2.7"/><rect x="398" y="130.92" width="1" height="2.7"/><rect x="408" y="130.92" width="2" height="2.7"/><rect x="423" y="130.92" width="1" height="2.7"/><rect x="429" y="130.92" width="1" height="2.7"/><rect x="442" y="130.92" width="1" height="2.7"/><rect x="463" y="130.92" width="1" height="2.7"/><rect x="482" y="130.92" width="1" height="2.7"/><rect x="484" y="130.92" width="1" height="2.7"/><rect x="527" y="130.92" width="1" height="2.7"/><rect x="557" y="130.92" width="2" height="2.7"/><rect x="616" y="130.92" width="1" height="2.7"/><rect x="644" y="130.92" width="2" height="2.7"/><rect x="667" y="130.92" width="1" height="2.7"/><rect x="669" y="130.92" width="1" height="2.7"/><rect x="684" y="130.92" width="1" height="2.7"/><rect x="86" y="134.58" width="2" height="2.7"/><rect x="111" y="134.58" width="1" height="2.7"/><rect x="164" y="134.58" width="1" height="2.7"/><rect x="167" y="134.58" width="1" height="2.7"/><rect x="262" y="134.58" width="1" height="2.7"/><rect x="266" y="134.58" width="1" height="2.7"/><rect x="318" y="134.58" width="1" height="2.7"/><rect x="335" y="134.58" width="2" height="2.7"/><rect x="364" y="134.58" width="1" height="2.7"/><rect x="366" y="134.58" width="1" height="2.7"/><rect x="409" y="134.58" width="1" height="2.7"/><rect x="433" y="134.58" width="1" height="2.7"/><rect x="442" y="134.58" width="1" height="2.7"/><rect x="475" y="134.58" width="1" height="2.7"/><rect x="477" y="134.58" width="1" height="2.7"/><rect x="504" y="134.58" width="1" height="2.7"/><rect x="562" y="134.58" width="1" height="2.7"/><rect x="585" y="134.58" width="1" height="2.7"/><rect x="633" y="134.58" width="1" height="2.7"/><rect x="656" y="134.58" width="1" height="2.7"/><rect x="660" y="134.58" width="1" height="2.7"/><rect x="694" y="134.58" width="1" height="2.7"/><rect x="168" y="138.24" width="1" height="2.7"/><rect x="175" y="138.24" width="2" height="2.7"/><rect x="265" y="138.24" width="1" height="2.7"/><rect x="331" y="138.24" width="3" height="2.7"/><rect x="340" y="138.24" width="1" height="2.7"/><rect x="351" y="138.24" width="1" height="2.7"/><rect x="425" y="138.24" width="1" height="2.7"/><rect x="429" y="138.24" width="1" height="2.7"/><rect x="433" y="138.24" width="1" height="2.7"/><rect x="446" y="138.24" width="1" height="2.7"/><rect x="480" y="138.24" width="1" height="2.7"/><rect x="502" y="138.24" width="1" height="2.7"/><rect x="521" y="138.24" width="1" height="2.7"/><rect x="547" y="138.24" width="1" height="2.7"/><rect x="563" y="138.24" width="1" height="2.7"/><rect x="584" y="138.24" width="1" height="2.7"/><rect x="586" y="138.24" width="1" height="2.7"/><rect x="654" y="138.24" width="2" height="2.7"/><rect x="670" y="138.24" width="1" height="2.7"/><rect x="261" y="141.90" width="1" height="2.7"/><rect x="318" y="141.90" width="2" height="2.7"/><rect x="332" y="141.90" width="1" height="2.7"/><rect x="340" y="141.90" width="1" height="2.7"/><rect x="364" y="141.90" width="1" height="2.7"/><rect x="441" y="141.90" width="2" height="2.7"/><rect x="322" y="145.56" width="1" height="2.7"/><rect x="334" y="145.56" width="1" height="2.7"/><rect x="425" y="145.56" width="1" height="2.7"/><rect x="428" y="145.56" width="1" height="2.7"/><rect x="440" y="145.56" width="1" height="2.7"/><rect x="443" y="145.56" width="1" height="2.7"/><rect x="588" y="145.56" width="1" height="2.7"/><rect x="265" y="149.22" width="1" height="2.7"/><rect x="269" y="149.22" width="1" height="2.7"/><rect x="431" y="149.22" width="1" height="2.7"/><rect x="435" y="149.22" width="1" height="2.7"/></g><g fill="#c8c8c8"><rect x="77" y="87.00" width="6" height="2.7"/><rect x="84" y="87.00" width="22" height="2.7"/><rect x="107" y="87.00" width="7" height="2.7"/><rect x="115" y="87.00" width="40" height="2.7"/><rect x="156" y="87.00" width="8" height="2.7"/><rect x="165" y="87.00" width="6" height="2.7"/><rect x="172" y="87.00" width="7" height="2.7"/><rect x="181" y="87.00" width="18" height="2.7"/><rect x="200" y="87.00" width="15" height="2.7"/><rect x="216" y="87.00" width="9" height="2.7"/><rect x="226" y="87.00" width="3" height="2.7"/><rect x="230" y="87.00" width="10" height="2.7"/><rect x="241" y="87.00" width="2" height="2.7"/><rect x="244" y="87.00" width="10" height="2.7"/><rect x="256" y="87.00" width="3" height="2.7"/><rect x="261" y="87.00" width="4" height="2.7"/><rect x="266" y="87.00" width="11" height="2.7"/><rect x="278" y="87.00" width="8" height="2.7"/><rect x="287" y="87.00" width="4" height="2.7"/><rect x="292" y="87.00" width="3" height="2.7"/><rect x="296" y="87.00" width="6" height="2.7"/><rect x="303" y="87.00" width="1" height="2.7"/><rect x="305" y="87.00" width="1" height="2.7"/><rect x="307" y="87.00" width="9" height="2.7"/><rect x="317" y="87.00" width="17" height="2.7"/><rect x="335" y="87.00" width="1" height="2.7"/><rect x="337" y="87.00" width="22" height="2.7"/><rect x="360" y="87.00" width="16" height="2.7"/><rect x="378" y="87.00" width="3" height="2.7"/><rect x="382" y="87.00" width="5" height="2.7"/><rect x="388" y="87.00" width="5" height="2.7"/><rect x="394" y="87.00" width="16" height="2.7"/><rect x="411" y="87.00" width="21" height="2.7"/><rect x="433" y="87.00" width="6" height="2.7"/><rect x="440" y="87.00" width="8" height="2.7"/><rect x="449" y="87.00" width="19" height="2.7"/><rect x="469" y="87.00" width="1" height="2.7"/><rect x="471" y="87.00" width="20" height="2.7"/><rect x="492" y="87.00" width="16" height="2.7"/><rect x="509" y="87.00" width="15" height="2.7"/><rect x="525" y="87.00" width="14" height="2.7"/><rect x="540" y="87.00" width="7" height="2.7"/><rect x="548" y="87.00" width="5" height="2.7"/><rect x="554" y="87.00" width="36" height="2.7"/><rect x="591" y="87.00" width="6" height="2.7"/><rect x="598" y="87.00" width="2" height="2.7"/><rect x="602" y="87.00" width="21" height="2.7"/><rect x="624" y="87.00" width="4" height="2.7"/><rect x="629" y="87.00" width="34" height="2.7"/><rect x="664" y="87.00" width="32" height="2.7"/><rect x="697" y="87.00" width="3" height="2.7"/><rect x="76" y="90.66" width="2" height="2.7"/><rect x="79" y="90.66" width="16" height="2.7"/><rect x="96" y="90.66" width="5" height="2.7"/><rect x="102" y="90.66" width="8" height="2.7"/><rect x="111" y="90.66" width="13" height="2.7"/><rect x="125" y="90.66" width="24" height="2.7"/><rect x="150" y="90.66" width="9" height="2.7"/><rect x="160" y="90.66" width="4" height="2.7"/><rect x="165" y="90.66" width="10" height="2.7"/><rect x="176" y="90.66" width="21" height="2.7"/><rect x="198" y="90.66" width="11" height="2.7"/><rect x="210" y="90.66" width="2" height="2.7"/><rect x="215" y="90.66" width="3" height="2.7"/><rect x="219" y="90.66" width="6" height="2.7"/><rect x="226" y="90.66" width="4" height="2.7"/><rect x="231" y="90.66" width="23" height="2.7"/><rect x="255" y="90.66" width="25" height="2.7"/><rect x="281" y="90.66" width="3" height="2.7"/><rect x="286" y="90.66" width="20" height="2.7"/><rect x="307" y="90.66" width="21" height="2.7"/><rect x="329" y="90.66" width="1" height="2.7"/><rect x="331" y="90.66" width="6" height="2.7"/><rect x="338" y="90.66" width="6" height="2.7"/><rect x="345" y="90.66" width="12" height="2.7"/><rect x="358" y="90.66" width="17" height="2.7"/><rect x="376" y="90.66" width="20" height="2.7"/><rect x="397" y="90.66" width="4" height="2.7"/><rect x="402" y="90.66" width="7" height="2.7"/><rect x="410" y="90.66" width="8" height="2.7"/><rect x="419" y="90.66" width="4" height="2.7"/><rect x="424" y="90.66" width="8" height="2.7"/><rect x="433" y="90.66" width="2" height="2.7"/><rect x="436" y="90.66" width="39" height="2.7"/><rect x="476" y="90.66" width="14" height="2.7"/><rect x="491" y="90.66" width="3" height="2.7"/><rect x="495" y="90.66" width="6" height="2.7"/><rect x="502" y="90.66" width="11" height="2.7"/><rect x="514" y="90.66" width="22" height="2.7"/><rect x="537" y="90.66" width="1" height="2.7"/><rect x="539" y="90.66" width="1" height="2.7"/><rect x="541" y="90.66" width="10" height="2.7"/><rect x="552" y="90.66" width="3" height="2.7"/><rect x="557" y="90.66" width="33" height="2.7"/><rect x="591" y="90.66" width="6" height="2.7"/><rect x="598" y="90.66" width="14" height="2.7"/><rect x="613" y="90.66" width="8" height="2.7"/><rect x="622" y="90.66" width="9" height="2.7"/><rect x="632" y="90.66" width="18" height="2.7"/><rect x="651" y="90.66" width="7" height="2.7"/><rect x="659" y="90.66" width="1" height="2.7"/><rect x="661" y="90.66" width="27" height="2.7"/><rect x="689" y="90.66" width="11" height="2.7"/><rect x="76" y="94.32" width="2" height="2.7"/><rect x="79" y="94.32" width="17" height="2.7"/><rect x="97" y="94.32" width="25" height="2.7"/><rect x="123" y="94.32" width="13" height="2.7"/><rect x="137" y="94.32" width="1" height="2.7"/><rect x="139" y="94.32" width="20" height="2.7"/><rect x="160" y="94.32" width="14" height="2.7"/><rect x="175" y="94.32" width="4" height="2.7"/><rect x="181" y="94.32" width="4" height="2.7"/><rect x="186" y="94.32" width="4" height="2.7"/><rect x="191" y="94.32" width="7" height="2.7"/><rect x="199" y="94.32" width="6" height="2.7"/><rect x="206" y="94.32" width="19" height="2.7"/><rect x="226" y="94.32" width="9" height="2.7"/><rect x="236" y="94.32" width="39" height="2.7"/><rect x="276" y="94.32" width="2" height="2.7"/><rect x="280" y="94.32" width="3" height="2.7"/><rect x="284" y="94.32" width="12" height="2.7"/><rect x="297" y="94.32" width="4" height="2.7"/><rect x="302" y="94.32" width="9" height="2.7"/><rect x="312" y="94.32" width="2" height="2.7"/><rect x="315" y="94.32" width="40" height="2.7"/><rect x="356" y="94.32" width="14" height="2.7"/><rect x="371" y="94.32" width="1" height="2.7"/><rect x="373" y="94.32" width="49" height="2.7"/><rect x="423" y="94.32" width="16" height="2.7"/><rect x="440" y="94.32" width="2" height="2.7"/><rect x="443" y="94.32" width="24" height="2.7"/><rect x="468" y="94.32" width="7" height="2.7"/><rect x="476" y="94.32" width="6" height="2.7"/><rect x="484" y="94.32" width="1" height="2.7"/><rect x="486" y="94.32" width="6" height="2.7"/><rect x="493" y="94.32" width="10" height="2.7"/><rect x="504" y="94.32" width="11" height="2.7"/><rect x="516" y="94.32" width="44" height="2.7"/><rect x="561" y="94.32" width="14" height="2.7"/><rect x="576" y="94.32" width="3" height="2.7"/><rect x="581" y="94.32" width="23" height="2.7"/><rect x="605" y="94.32" width="2" height="2.7"/><rect x="608" y="94.32" width="18" height="2.7"/><rect x="627" y="94.32" width="1" height="2.7"/><rect x="629" y="94.32" width="5" height="2.7"/><rect x="635" y="94.32" width="45" height="2.7"/><rect x="681" y="94.32" width="2" height="2.7"/><rect x="685" y="94.32" width="1" height="2.7"/><rect x="687" y="94.32" width="3" height="2.7"/><rect x="691" y="94.32" width="9" height="2.7"/><rect x="76" y="97.98" width="4" height="2.7"/><rect x="81" y="97.98" width="5" height="2.7"/><rect x="87" y="97.98" width="30" height="2.7"/><rect x="118" y="97.98" width="3" height="2.7"/><rect x="122" y="97.98" width="5" height="2.7"/><rect x="128" y="97.98" width="4" height="2.7"/><rect x="133" y="97.98" width="4" height="2.7"/><rect x="138" y="97.98" width="2" height="2.7"/><rect x="141" y="97.98" width="13" height="2.7"/><rect x="155" y="97.98" width="8" height="2.7"/><rect x="164" y="97.98" width="2" height="2.7"/><rect x="167" y="97.98" width="6" height="2.7"/><rect x="174" y="97.98" width="2" height="2.7"/><rect x="177" y="97.98" width="20" height="2.7"/><rect x="198" y="97.98" width="3" height="2.7"/><rect x="202" y="97.98" width="36" height="2.7"/><rect x="239" y="97.98" width="28" height="2.7"/><rect x="268" y="97.98" width="47" height="2.7"/><rect x="316" y="97.98" width="1" height="2.7"/><rect x="318" y="97.98" width="14" height="2.7"/><rect x="333" y="97.98" width="15" height="2.7"/><rect x="349" y="97.98" width="21" height="2.7"/><rect x="371" y="97.98" width="9" height="2.7"/><rect x="381" y="97.98" width="8" height="2.7"/><rect x="390" y="97.98" width="23" height="2.7"/><rect x="414" y="97.98" width="7" height="2.7"/><rect x="422" y="97.98" width="11" height="2.7"/><rect x="434" y="97.98" width="2" height="2.7"/><rect x="437" y="97.98" width="10" height="2.7"/><rect x="448" y="97.98" width="11" height="2.7"/><rect x="460" y="97.98" width="1" height="2.7"/><rect x="462" y="97.98" width="10" height="2.7"/><rect x="473" y="97.98" width="21" height="2.7"/><rect x="495" y="97.98" width="6" height="2.7"/><rect x="502" y="97.98" width="6" height="2.7"/><rect x="509" y="97.98" width="2" height="2.7"/><rect x="512" y="97.98" width="14" height="2.7"/><rect x="527" y="97.98" width="76" height="2.7"/><rect x="604" y="97.98" width="20" height="2.7"/><rect x="625" y="97.98" width="42" height="2.7"/><rect x="668" y="97.98" width="7" height="2.7"/><rect x="676" y="97.98" width="2" height="2.7"/><rect x="679" y="97.98" width="11" height="2.7"/><rect x="691" y="97.98" width="3" height="2.7"/><rect x="695" y="97.98" width="5" height="2.7"/><rect x="76" y="101.64" width="1" height="2.7"/><rect x="78" y="101.64" width="8" height="2.7"/><rect x="87" y="101.64" width="21" height="2.7"/><rect x="109" y="101.64" width="3" height="2.7"/><rect x="113" y="101.64" width="3" height="2.7"/><rect x="117" y="101.64" width="22" height="2.7"/><rect x="140" y="101.64" width="4" height="2.7"/><rect x="145" y="101.64" width="10" height="2.7"/><rect x="156" y="101.64" width="15" height="2.7"/><rect x="172" y="101.64" width="3" height="2.7"/><rect x="176" y="101.64" width="9" height="2.7"/><rect x="186" y="101.64" width="6" height="2.7"/><rect x="193" y="101.64" width="29" height="2.7"/><rect x="223" y="101.64" width="4" height="2.7"/><rect x="228" y="101.64" width="39" height="2.7"/><rect x="268" y="101.64" width="2" height="2.7"/><rect x="271" y="101.64" width="12" height="2.7"/><rect x="284" y="101.64" width="46" height="2.7"/><rect x="331" y="101.64" width="15" height="2.7"/><rect x="347" y="101.64" width="2" height="2.7"/><rect x="350" y="101.64" width="5" height="2.7"/><rect x="356" y="101.64" width="1" height="2.7"/><rect x="358" y="101.64" width="26" height="2.7"/><rect x="385" y="101.64" width="8" height="2.7"/><rect x="394" y="101.64" width="12" height="2.7"/><rect x="407" y="101.64" width="22" height="2.7"/><rect x="431" y="101.64" width="18" height="2.7"/><rect x="450" y="101.64" width="20" height="2.7"/><rect x="471" y="101.64" width="10" height="2.7"/><rect x="482" y="101.64" width="16" height="2.7"/><rect x="499" y="101.64" width="1" height="2.7"/><rect x="501" y="101.64" width="7" height="2.7"/><rect x="509" y="101.64" width="17" height="2.7"/><rect x="527" y="101.64" width="34" height="2.7"/><rect x="562" y="101.64" width="21" height="2.7"/><rect x="584" y="101.64" width="7" height="2.7"/><rect x="592" y="101.64" width="3" height="2.7"/><rect x="596" y="101.64" width="26" height="2.7"/><rect x="623" y="101.64" width="4" height="2.7"/><rect x="628" y="101.64" width="14" height="2.7"/><rect x="643" y="101.64" width="5" height="2.7"/><rect x="651" y="101.64" width="27" height="2.7"/><rect x="679" y="101.64" width="5" height="2.7"/><rect x="685" y="101.64" width="15" height="2.7"/><rect x="76" y="105.30" width="1" height="2.7"/><rect x="78" y="105.30" width="5" height="2.7"/><rect x="84" y="105.30" width="16" height="2.7"/><rect x="101" y="105.30" width="11" height="2.7"/><rect x="113" y="105.30" width="4" height="2.7"/><rect x="118" y="105.30" width="28" height="2.7"/><rect x="147" y="105.30" width="24" height="2.7"/><rect x="172" y="105.30" width="20" height="2.7"/><rect x="193" y="105.30" width="39" height="2.7"/><rect x="233" y="105.30" width="3" height="2.7"/><rect x="239" y="105.30" width="6" height="2.7"/><rect x="246" y="105.30" width="23" height="2.7"/><rect x="270" y="105.30" width="2" height="2.7"/><rect x="273" y="105.30" width="5" height="2.7"/><rect x="279" y="105.30" width="4" height="2.7"/><rect x="284" y="105.30" width="1" height="2.7"/><rect x="286" y="105.30" width="46" height="2.7"/><rect x="333" y="105.30" width="4" height="2.7"/><rect x="338" y="105.30" width="27" height="2.7"/><rect x="367" y="105.30" width="17" height="2.7"/><rect x="385" y="105.30" width="8" height="2.7"/><rect x="394" y="105.30" width="2" height="2.7"/><rect x="397" y="105.30" width="19" height="2.7"/><rect x="417" y="105.30" width="5" height="2.7"/><rect x="423" y="105.30" width="6" height="2.7"/><rect x="430" y="105.30" width="11" height="2.7"/><rect x="442" y="105.30" width="10" height="2.7"/><rect x="453" y="105.30" width="38" height="2.7"/><rect x="492" y="105.30" width="42" height="2.7"/><rect x="536" y="105.30" width="16" height="2.7"/><rect x="553" y="105.30" width="3" height="2.7"/><rect x="558" y="105.30" width="13" height="2.7"/><rect x="572" y="105.30" width="3" height="2.7"/><rect x="576" y="105.30" width="4" height="2.7"/><rect x="581" y="105.30" width="21" height="2.7"/><rect x="603" y="105.30" width="3" height="2.7"/><rect x="607" y="105.30" width="25" height="2.7"/><rect x="633" y="105.30" width="5" height="2.7"/><rect x="639" y="105.30" width="17" height="2.7"/><rect x="657" y="105.30" width="8" height="2.7"/><rect x="666" y="105.30" width="1" height="2.7"/><rect x="668" y="105.30" width="3" height="2.7"/><rect x="672" y="105.30" width="2" height="2.7"/><rect x="676" y="105.30" width="11" height="2.7"/><rect x="688" y="105.30" width="1" height="2.7"/><rect x="690" y="105.30" width="10" height="2.7"/><rect x="76" y="108.96" width="1" height="2.7"/><rect x="78" y="108.96" width="5" height="2.7"/><rect x="84" y="108.96" width="4" height="2.7"/><rect x="89" y="108.96" width="28" height="2.7"/><rect x="118" y="108.96" width="1" height="2.7"/><rect x="120" y="108.96" width="3" height="2.7"/><rect x="124" y="108.96" width="11" height="2.7"/><rect x="136" y="108.96" width="5" height="2.7"/><rect x="142" y="108.96" width="2" height="2.7"/><rect x="145" y="108.96" width="1" height="2.7"/><rect x="147" y="108.96" width="1" height="2.7"/><rect x="149" y="108.96" width="2" height="2.7"/><rect x="152" y="108.96" width="4" height="2.7"/><rect x="157" y="108.96" width="1" height="2.7"/><rect x="159" y="108.96" width="5" height="2.7"/><rect x="165" y="108.96" width="23" height="2.7"/><rect x="189" y="108.96" width="13" height="2.7"/><rect x="204" y="108.96" width="3" height="2.7"/><rect x="208" y="108.96" width="3" height="2.7"/><rect x="212" y="108.96" width="19" height="2.7"/><rect x="232" y="108.96" width="1" height="2.7"/><rect x="234" y="108.96" width="6" height="2.7"/><rect x="241" y="108.96" width="1" height="2.7"/><rect x="244" y="108.96" width="21" height="2.7"/><rect x="266" y="108.96" width="41" height="2.7"/><rect x="309" y="108.96" width="9" height="2.7"/><rect x="319" y="108.96" width="28" height="2.7"/><rect x="349" y="108.96" width="8" height="2.7"/><rect x="358" y="108.96" width="11" height="2.7"/><rect x="370" y="108.96" width="1" height="2.7"/><rect x="372" y="108.96" width="2" height="2.7"/><rect x="375" y="108.96" width="7" height="2.7"/><rect x="383" y="108.96" width="1" height="2.7"/><rect x="385" y="108.96" width="7" height="2.7"/><rect x="394" y="108.96" width="12" height="2.7"/><rect x="407" y="108.96" width="1" height="2.7"/><rect x="409" y="108.96" width="4" height="2.7"/><rect x="416" y="108.96" width="5" height="2.7"/><rect x="422" y="108.96" width="11" height="2.7"/><rect x="434" y="108.96" width="12" height="2.7"/><rect x="448" y="108.96" width="11" height="2.7"/><rect x="460" y="108.96" width="1" height="2.7"/><rect x="462" y="108.96" width="20" height="2.7"/><rect x="483" y="108.96" width="2" height="2.7"/><rect x="486" y="108.96" width="2" height="2.7"/><rect x="490" y="108.96" width="5" height="2.7"/><rect x="496" y="108.96" width="12" height="2.7"/><rect x="509" y="108.96" width="12" height="2.7"/><rect x="522" y="108.96" width="14" height="2.7"/><rect x="537" y="108.96" width="18" height="2.7"/><rect x="556" y="108.96" width="34" height="2.7"/><rect x="591" y="108.96" width="1" height="2.7"/><rect x="593" y="108.96" width="1" height="2.7"/><rect x="595" y="108.96" width="10" height="2.7"/><rect x="606" y="108.96" width="15" height="2.7"/><rect x="622" y="108.96" width="10" height="2.7"/><rect x="633" y="108.96" width="1" height="2.7"/><rect x="635" y="108.96" width="2" height="2.7"/><rect x="638" y="108.96" width="33" height="2.7"/><rect x="672" y="108.96" width="8" height="2.7"/><rect x="681" y="108.96" width="11" height="2.7"/><rect x="693" y="108.96" width="3" height="2.7"/><rect x="697" y="108.96" width="3" height="2.7"/><rect x="78" y="112.62" width="18" height="2.7"/><rect x="97" y="112.62" width="1" height="2.7"/><rect x="99" y="112.62" width="10" height="2.7"/><rect x="110" y="112.62" width="4" height="2.7"/><rect x="115" y="112.62" width="8" height="2.7"/><rect x="124" y="112.62" width="5" height="2.7"/><rect x="130" y="112.62" width="5" height="2.7"/><rect x="136" y="112.62" width="4" height="2.7"/><rect x="142" y="112.62" width="4" height="2.7"/><rect x="148" y="112.62" width="3" height="2.7"/><rect x="152" y="112.62" width="9" height="2.7"/><rect x="162" y="112.62" width="16" height="2.7"/><rect x="179" y="112.62" width="1" height="2.7"/><rect x="181" y="112.62" width="1" height="2.7"/><rect x="183" y="112.62" width="12" height="2.7"/><rect x="196" y="112.62" width="1" height="2.7"/><rect x="199" y="112.62" width="7" height="2.7"/><rect x="208" y="112.62" width="16" height="2.7"/><rect x="225" y="112.62" width="12" height="2.7"/><rect x="238" y="112.62" width="5" height="2.7"/><rect x="244" y="112.62" width="7" height="2.7"/><rect x="252" y="112.62" width="15" height="2.7"/><rect x="268" y="112.62" width="26" height="2.7"/><rect x="295" y="112.62" width="1" height="2.7"/><rect x="299" y="112.62" width="6" height="2.7"/><rect x="306" y="112.62" width="8" height="2.7"/><rect x="315" y="112.62" width="28" height="2.7"/><rect x="344" y="112.62" width="3" height="2.7"/><rect x="349" y="112.62" width="2" height="2.7"/><rect x="353" y="112.62" width="23" height="2.7"/><rect x="377" y="112.62" width="5" height="2.7"/><rect x="383" y="112.62" width="1" height="2.7"/><rect x="385" y="112.62" width="14" height="2.7"/><rect x="400" y="112.62" width="14" height="2.7"/><rect x="415" y="112.62" width="3" height="2.7"/><rect x="419" y="112.62" width="9" height="2.7"/><rect x="429" y="112.62" width="7" height="2.7"/><rect x="437" y="112.62" width="17" height="2.7"/><rect x="455" y="112.62" width="1" height="2.7"/><rect x="457" y="112.62" width="6" height="2.7"/><rect x="464" y="112.62" width="8" height="2.7"/><rect x="473" y="112.62" width="8" height="2.7"/><rect x="482" y="112.62" width="16" height="2.7"/><rect x="499" y="112.62" width="8" height="2.7"/><rect x="509" y="112.62" width="20" height="2.7"/><rect x="530" y="112.62" width="9" height="2.7"/><rect x="540" y="112.62" width="15" height="2.7"/><rect x="556" y="112.62" width="3" height="2.7"/><rect x="560" y="112.62" width="7" height="2.7"/><rect x="568" y="112.62" width="12" height="2.7"/><rect x="581" y="112.62" width="1" height="2.7"/><rect x="583" y="112.62" width="3" height="2.7"/><rect x="587" y="112.62" width="7" height="2.7"/><rect x="595" y="112.62" width="2" height="2.7"/><rect x="598" y="112.62" width="10" height="2.7"/><rect x="609" y="112.62" width="5" height="2.7"/><rect x="615" y="112.62" width="6" height="2.7"/><rect x="622" y="112.62" width="15" height="2.7"/><rect x="638" y="112.62" width="2" height="2.7"/><rect x="642" y="112.62" width="1" height="2.7"/><rect x="644" y="112.62" width="7" height="2.7"/><rect x="652" y="112.62" width="3" height="2.7"/><rect x="656" y="112.62" width="5" height="2.7"/><rect x="662" y="112.62" width="6" height="2.7"/><rect x="669" y="112.62" width="2" height="2.7"/><rect x="672" y="112.62" width="9" height="2.7"/><rect x="682" y="112.62" width="2" height="2.7"/><rect x="687" y="112.62" width="1" height="2.7"/><rect x="689" y="112.62" width="4" height="2.7"/><rect x="694" y="112.62" width="6" height="2.7"/><rect x="76" y="116.28" width="1" height="2.7"/><rect x="78" y="116.28" width="8" height="2.7"/><rect x="87" y="116.28" width="14" height="2.7"/><rect x="102" y="116.28" width="2" height="2.7"/><rect x="105" y="116.28" width="2" height="2.7"/><rect x="108" y="116.28" width="1" height="2.7"/><rect x="110" y="116.28" width="11" height="2.7"/><rect x="122" y="116.28" width="7" height="2.7"/><rect x="130" y="116.28" width="3" height="2.7"/><rect x="135" y="116.28" width="6" height="2.7"/><rect x="143" y="116.28" width="3" height="2.7"/><rect x="147" y="116.28" width="4" height="2.7"/><rect x="152" y="116.28" width="2" height="2.7"/><rect x="155" y="116.28" width="4" height="2.7"/><rect x="161" y="116.28" width="16" height="2.7"/><rect x="180" y="116.28" width="8" height="2.7"/><rect x="189" y="116.28" width="17" height="2.7"/><rect x="207" y="116.28" width="26" height="2.7"/><rect x="234" y="116.28" width="12" height="2.7"/><rect x="247" y="116.28" width="3" height="2.7"/><rect x="251" y="116.28" width="11" height="2.7"/><rect x="263" y="116.28" width="4" height="2.7"/><rect x="268" y="116.28" width="1" height="2.7"/><rect x="270" y="116.28" width="4" height="2.7"/><rect x="275" y="116.28" width="4" height="2.7"/><rect x="280" y="116.28" width="1" height="2.7"/><rect x="282" y="116.28" width="1" height="2.7"/><rect x="284" y="116.28" width="1" height="2.7"/><rect x="286" y="116.28" width="7" height="2.7"/><rect x="294" y="116.28" width="2" height="2.7"/><rect x="297" y="116.28" width="13" height="2.7"/><rect x="311" y="116.28" width="6" height="2.7"/><rect x="318" y="116.28" width="29" height="2.7"/><rect x="348" y="116.28" width="4" height="2.7"/><rect x="353" y="116.28" width="7" height="2.7"/><rect x="362" y="116.28" width="13" height="2.7"/><rect x="376" y="116.28" width="1" height="2.7"/><rect x="379" y="116.28" width="3" height="2.7"/><rect x="383" y="116.28" width="1" height="2.7"/><rect x="386" y="116.28" width="12" height="2.7"/><rect x="399" y="116.28" width="1" height="2.7"/><rect x="401" y="116.28" width="6" height="2.7"/><rect x="408" y="116.28" width="1" height="2.7"/><rect x="410" y="116.28" width="7" height="2.7"/><rect x="418" y="116.28" width="12" height="2.7"/><rect x="431" y="116.28" width="5" height="2.7"/><rect x="437" y="116.28" width="7" height="2.7"/><rect x="445" y="116.28" width="2" height="2.7"/><rect x="448" y="116.28" width="2" height="2.7"/><rect x="451" y="116.28" width="2" height="2.7"/><rect x="454" y="116.28" width="16" height="2.7"/><rect x="472" y="116.28" width="3" height="2.7"/><rect x="476" y="116.28" width="4" height="2.7"/><rect x="481" y="116.28" width="3" height="2.7"/><rect x="485" y="116.28" width="2" height="2.7"/><rect x="488" y="116.28" width="2" height="2.7"/><rect x="491" y="116.28" width="1" height="2.7"/><rect x="493" y="116.28" width="9" height="2.7"/><rect x="503" y="116.28" width="5" height="2.7"/><rect x="509" y="116.28" width="1" height="2.7"/><rect x="511" y="116.28" width="2" height="2.7"/><rect x="514" y="116.28" width="6" height="2.7"/><rect x="521" y="116.28" width="14" height="2.7"/><rect x="536" y="116.28" width="1" height="2.7"/><rect x="539" y="116.28" width="1" height="2.7"/><rect x="541" y="116.28" width="1" height="2.7"/><rect x="543" y="116.28" width="12" height="2.7"/><rect x="556" y="116.28" width="1" height="2.7"/><rect x="558" y="116.28" width="10" height="2.7"/><rect x="569" y="116.28" width="1" height="2.7"/><rect x="571" y="116.28" width="10" height="2.7"/><rect x="582" y="116.28" width="26" height="2.7"/><rect x="609" y="116.28" width="9" height="2.7"/><rect x="620" y="116.28" width="17" height="2.7"/><rect x="638" y="116.28" width="3" height="2.7"/><rect x="644" y="116.28" width="9" height="2.7"/><rect x="655" y="116.28" width="1" height="2.7"/><rect x="657" y="116.28" width="6" height="2.7"/><rect x="664" y="116.28" width="1" height="2.7"/><rect x="666" y="116.28" width="5" height="2.7"/><rect x="672" y="116.28" width="11" height="2.7"/><rect x="685" y="116.28" width="8" height="2.7"/><rect x="694" y="116.28" width="2" height="2.7"/><rect x="697" y="116.28" width="3" height="2.7"/><rect x="78" y="119.94" width="8" height="2.7"/><rect x="87" y="119.94" width="2" height="2.7"/><rect x="91" y="119.94" width="9" height="2.7"/><rect x="101" y="119.94" width="3" height="2.7"/><rect x="105" y="119.94" width="2" height="2.7"/><rect x="108" y="119.94" width="1" height="2.7"/><rect x="110" y="119.94" width="8" height="2.7"/><rect x="119" y="119.94" width="2" height="2.7"/><rect x="122" y="119.94" width="12" height="2.7"/><rect x="135" y="119.94" width="6" height="2.7"/><rect x="142" y="119.94" width="4" height="2.7"/><rect x="147" y="119.94" width="2" height="2.7"/><rect x="150" y="119.94" width="1" height="2.7"/><rect x="152" y="119.94" width="8" height="2.7"/><rect x="161" y="119.94" width="12" height="2.7"/><rect x="174" y="119.94" width="2" height="2.7"/><rect x="177" y="119.94" width="13" height="2.7"/><rect x="191" y="119.94" width="3" height="2.7"/><rect x="195" y="119.94" width="9" height="2.7"/><rect x="205" y="119.94" width="7" height="2.7"/><rect x="214" y="119.94" width="34" height="2.7"/><rect x="249" y="119.94" width="5" height="2.7"/><rect x="255" y="119.94" width="1" height="2.7"/><rect x="257" y="119.94" width="4" height="2.7"/><rect x="262" y="119.94" width="11" height="2.7"/><rect x="275" y="119.94" width="1" height="2.7"/><rect x="278" y="119.94" width="10" height="2.7"/><rect x="289" y="119.94" width="7" height="2.7"/><rect x="297" y="119.94" width="3" height="2.7"/><rect x="301" y="119.94" width="5" height="2.7"/><rect x="308" y="119.94" width="1" height="2.7"/><rect x="310" y="119.94" width="7" height="2.7"/><rect x="318" y="119.94" width="20" height="2.7"/><rect x="339" y="119.94" width="7" height="2.7"/><rect x="348" y="119.94" width="4" height="2.7"/><rect x="354" y="119.94" width="14" height="2.7"/><rect x="369" y="119.94" width="8" height="2.7"/><rect x="379" y="119.94" width="3" height="2.7"/><rect x="383" y="119.94" width="1" height="2.7"/><rect x="385" y="119.94" width="7" height="2.7"/><rect x="393" y="119.94" width="4" height="2.7"/><rect x="398" y="119.94" width="3" height="2.7"/><rect x="402" y="119.94" width="1" height="2.7"/><rect x="404" y="119.94" width="2" height="2.7"/><rect x="407" y="119.94" width="10" height="2.7"/><rect x="418" y="119.94" width="17" height="2.7"/><rect x="436" y="119.94" width="5" height="2.7"/><rect x="442" y="119.94" width="10" height="2.7"/><rect x="453" y="119.94" width="11" height="2.7"/><rect x="465" y="119.94" width="3" height="2.7"/><rect x="469" y="119.94" width="1" height="2.7"/><rect x="471" y="119.94" width="4" height="2.7"/><rect x="476" y="119.94" width="1" height="2.7"/><rect x="478" y="119.94" width="7" height="2.7"/><rect x="486" y="119.94" width="1" height="2.7"/><rect x="488" y="119.94" width="9" height="2.7"/><rect x="498" y="119.94" width="8" height="2.7"/><rect x="509" y="119.94" width="2" height="2.7"/><rect x="512" y="119.94" width="19" height="2.7"/><rect x="533" y="119.94" width="4" height="2.7"/><rect x="538" y="119.94" width="2" height="2.7"/><rect x="541" y="119.94" width="14" height="2.7"/><rect x="556" y="119.94" width="1" height="2.7"/><rect x="558" y="119.94" width="1" height="2.7"/><rect x="560" y="119.94" width="13" height="2.7"/><rect x="576" y="119.94" width="5" height="2.7"/><rect x="582" y="119.94" width="16" height="2.7"/><rect x="599" y="119.94" width="24" height="2.7"/><rect x="625" y="119.94" width="5" height="2.7"/><rect x="631" y="119.94" width="6" height="2.7"/><rect x="639" y="119.94" width="3" height="2.7"/><rect x="643" y="119.94" width="19" height="2.7"/><rect x="663" y="119.94" width="1" height="2.7"/><rect x="665" y="119.94" width="5" height="2.7"/><rect x="673" y="119.94" width="9" height="2.7"/><rect x="683" y="119.94" width="1" height="2.7"/><rect x="685" y="119.94" width="11" height="2.7"/><rect x="697" y="119.94" width="3" height="2.7"/><rect x="76" y="123.60" width="1" height="2.7"/><rect x="79" y="123.60" width="2" height="2.7"/><rect x="82" y="123.60" width="7" height="2.7"/><rect x="90" y="123.60" width="4" height="2.7"/><rect x="95" y="123.60" width="7" height="2.7"/><rect x="104" y="123.60" width="5" height="2.7"/><rect x="110" y="123.60" width="3" height="2.7"/><rect x="114" y="123.60" width="1" height="2.7"/><rect x="116" y="123.60" width="3" height="2.7"/><rect x="120" y="123.60" width="1" height="2.7"/><rect x="123" y="123.60" width="3" height="2.7"/><rect x="128" y="123.60" width="13" height="2.7"/><rect x="144" y="123.60" width="2" height="2.7"/><rect x="147" y="123.60" width="2" height="2.7"/><rect x="150" y="123.60" width="1" height="2.7"/><rect x="152" y="123.60" width="2" height="2.7"/><rect x="156" y="123.60" width="4" height="2.7"/><rect x="161" y="123.60" width="14" height="2.7"/><rect x="176" y="123.60" width="5" height="2.7"/><rect x="182" y="123.60" width="2" height="2.7"/><rect x="185" y="123.60" width="12" height="2.7"/><rect x="198" y="123.60" width="2" height="2.7"/><rect x="201" y="123.60" width="1" height="2.7"/><rect x="203" y="123.60" width="5" height="2.7"/><rect x="209" y="123.60" width="1" height="2.7"/><rect x="212" y="123.60" width="2" height="2.7"/><rect x="216" y="123.60" width="7" height="2.7"/><rect x="224" y="123.60" width="6" height="2.7"/><rect x="231" y="123.60" width="1" height="2.7"/><rect x="233" y="123.60" width="14" height="2.7"/><rect x="248" y="123.60" width="7" height="2.7"/><rect x="256" y="123.60" width="4" height="2.7"/><rect x="261" y="123.60" width="5" height="2.7"/><rect x="267" y="123.60" width="4" height="2.7"/><rect x="272" y="123.60" width="2" height="2.7"/><rect x="275" y="123.60" width="1" height="2.7"/><rect x="277" y="123.60" width="11" height="2.7"/><rect x="289" y="123.60" width="6" height="2.7"/><rect x="297" y="123.60" width="8" height="2.7"/><rect x="306" y="123.60" width="5" height="2.7"/><rect x="312" y="123.60" width="3" height="2.7"/><rect x="316" y="123.60" width="1" height="2.7"/><rect x="318" y="123.60" width="2" height="2.7"/><rect x="321" y="123.60" width="1" height="2.7"/><rect x="325" y="123.60" width="12" height="2.7"/><rect x="339" y="123.60" width="8" height="2.7"/><rect x="348" y="123.60" width="4" height="2.7"/><rect x="353" y="123.60" width="2" height="2.7"/><rect x="356" y="123.60" width="10" height="2.7"/><rect x="367" y="123.60" width="5" height="2.7"/><rect x="373" y="123.60" width="5" height="2.7"/><rect x="379" y="123.60" width="2" height="2.7"/><rect x="383" y="123.60" width="1" height="2.7"/><rect x="385" y="123.60" width="11" height="2.7"/><rect x="397" y="123.60" width="9" height="2.7"/><rect x="407" y="123.60" width="6" height="2.7"/><rect x="414" y="123.60" width="10" height="2.7"/><rect x="426" y="123.60" width="4" height="2.7"/><rect x="431" y="123.60" width="22" height="2.7"/><rect x="455" y="123.60" width="2" height="2.7"/><rect x="458" y="123.60" width="4" height="2.7"/><rect x="463" y="123.60" width="4" height="2.7"/><rect x="468" y="123.60" width="5" height="2.7"/><rect x="474" y="123.60" width="4" height="2.7"/><rect x="479" y="123.60" width="1" height="2.7"/><rect x="482" y="123.60" width="26" height="2.7"/><rect x="509" y="123.60" width="3" height="2.7"/><rect x="513" y="123.60" width="6" height="2.7"/><rect x="520" y="123.60" width="1" height="2.7"/><rect x="522" y="123.60" width="2" height="2.7"/><rect x="525" y="123.60" width="2" height="2.7"/><rect x="529" y="123.60" width="2" height="2.7"/><rect x="533" y="123.60" width="16" height="2.7"/><rect x="550" y="123.60" width="5" height="2.7"/><rect x="557" y="123.60" width="2" height="2.7"/><rect x="560" y="123.60" width="8" height="2.7"/><rect x="569" y="123.60" width="12" height="2.7"/><rect x="582" y="123.60" width="1" height="2.7"/><rect x="584" y="123.60" width="1" height="2.7"/><rect x="586" y="123.60" width="10" height="2.7"/><rect x="597" y="123.60" width="1" height="2.7"/><rect x="599" y="123.60" width="9" height="2.7"/><rect x="609" y="123.60" width="4" height="2.7"/><rect x="615" y="123.60" width="15" height="2.7"/><rect x="631" y="123.60" width="6" height="2.7"/><rect x="639" y="123.60" width="2" height="2.7"/><rect x="645" y="123.60" width="5" height="2.7"/><rect x="651" y="123.60" width="5" height="2.7"/><rect x="658" y="123.60" width="3" height="2.7"/><rect x="662" y="123.60" width="9" height="2.7"/><rect x="672" y="123.60" width="6" height="2.7"/><rect x="679" y="123.60" width="5" height="2.7"/><rect x="685" y="123.60" width="10" height="2.7"/><rect x="696" y="123.60" width="4" height="2.7"/><rect x="76" y="127.26" width="1" height="2.7"/><rect x="78" y="127.26" width="3" height="2.7"/><rect x="82" y="127.26" width="7" height="2.7"/><rect x="91" y="127.26" width="8" height="2.7"/><rect x="100" y="127.26" width="4" height="2.7"/><rect x="105" y="127.26" width="1" height="2.7"/><rect x="107" y="127.26" width="1" height="2.7"/><rect x="111" y="127.26" width="3" height="2.7"/><rect x="115" y="127.26" width="10" height="2.7"/><rect x="126" y="127.26" width="2" height="2.7"/><rect x="129" y="127.26" width="3" height="2.7"/><rect x="133" y="127.26" width="6" height="2.7"/><rect x="140" y="127.26" width="1" height="2.7"/><rect x="142" y="127.26" width="1" height="2.7"/><rect x="144" y="127.26" width="2" height="2.7"/><rect x="147" y="127.26" width="1" height="2.7"/><rect x="149" y="127.26" width="2" height="2.7"/><rect x="152" y="127.26" width="1" height="2.7"/><rect x="156" y="127.26" width="2" height="2.7"/><rect x="159" y="127.26" width="1" height="2.7"/><rect x="161" y="127.26" width="5" height="2.7"/><rect x="167" y="127.26" width="9" height="2.7"/><rect x="177" y="127.26" width="12" height="2.7"/><rect x="190" y="127.26" width="5" height="2.7"/><rect x="197" y="127.26" width="2" height="2.7"/><rect x="200" y="127.26" width="1" height="2.7"/><rect x="202" y="127.26" width="3" height="2.7"/><rect x="206" y="127.26" width="2" height="2.7"/><rect x="209" y="127.26" width="1" height="2.7"/><rect x="211" y="127.26" width="2" height="2.7"/><rect x="214" y="127.26" width="1" height="2.7"/><rect x="217" y="127.26" width="4" height="2.7"/><rect x="223" y="127.26" width="1" height="2.7"/><rect x="225" y="127.26" width="3" height="2.7"/><rect x="231" y="127.26" width="2" height="2.7"/><rect x="234" y="127.26" width="2" height="2.7"/><rect x="237" y="127.26" width="2" height="2.7"/><rect x="242" y="127.26" width="23" height="2.7"/><rect x="266" y="127.26" width="6" height="2.7"/><rect x="273" y="127.26" width="1" height="2.7"/><rect x="275" y="127.26" width="3" height="2.7"/><rect x="279" y="127.26" width="3" height="2.7"/><rect x="285" y="127.26" width="11" height="2.7"/><rect x="297" y="127.26" width="2" height="2.7"/><rect x="300" y="127.26" width="13" height="2.7"/><rect x="314" y="127.26" width="3" height="2.7"/><rect x="318" y="127.26" width="4" height="2.7"/><rect x="324" y="127.26" width="5" height="2.7"/><rect x="330" y="127.26" width="8" height="2.7"/><rect x="339" y="127.26" width="8" height="2.7"/><rect x="348" y="127.26" width="4" height="2.7"/><rect x="354" y="127.26" width="3" height="2.7"/><rect x="358" y="127.26" width="2" height="2.7"/><rect x="362" y="127.26" width="2" height="2.7"/><rect x="365" y="127.26" width="11" height="2.7"/><rect x="377" y="127.26" width="1" height="2.7"/><rect x="379" y="127.26" width="3" height="2.7"/><rect x="386" y="127.26" width="2" height="2.7"/><rect x="391" y="127.26" width="4" height="2.7"/><rect x="397" y="127.26" width="3" height="2.7"/><rect x="401" y="127.26" width="2" height="2.7"/><rect x="404" y="127.26" width="12" height="2.7"/><rect x="417" y="127.26" width="11" height="2.7"/><rect x="429" y="127.26" width="3" height="2.7"/><rect x="433" y="127.26" width="5" height="2.7"/><rect x="440" y="127.26" width="11" height="2.7"/><rect x="452" y="127.26" width="4" height="2.7"/><rect x="457" y="127.26" width="23" height="2.7"/><rect x="481" y="127.26" width="8" height="2.7"/><rect x="490" y="127.26" width="13" height="2.7"/><rect x="504" y="127.26" width="4" height="2.7"/><rect x="509" y="127.26" width="3" height="2.7"/><rect x="514" y="127.26" width="2" height="2.7"/><rect x="517" y="127.26" width="1" height="2.7"/><rect x="519" y="127.26" width="3" height="2.7"/><rect x="523" y="127.26" width="1" height="2.7"/><rect x="525" y="127.26" width="1" height="2.7"/><rect x="527" y="127.26" width="2" height="2.7"/><rect x="530" y="127.26" width="8" height="2.7"/><rect x="539" y="127.26" width="6" height="2.7"/><rect x="547" y="127.26" width="8" height="2.7"/><rect x="556" y="127.26" width="7" height="2.7"/><rect x="564" y="127.26" width="1" height="2.7"/><rect x="566" y="127.26" width="3" height="2.7"/><rect x="570" y="127.26" width="6" height="2.7"/><rect x="578" y="127.26" width="3" height="2.7"/><rect x="582" y="127.26" width="3" height="2.7"/><rect x="586" y="127.26" width="2" height="2.7"/><rect x="589" y="127.26" width="10" height="2.7"/><rect x="600" y="127.26" width="1" height="2.7"/><rect x="602" y="127.26" width="7" height="2.7"/><rect x="611" y="127.26" width="1" height="2.7"/><rect x="613" y="127.26" width="9" height="2.7"/><rect x="623" y="127.26" width="5" height="2.7"/><rect x="629" y="127.26" width="1" height="2.7"/><rect x="631" y="127.26" width="1" height="2.7"/><rect x="634" y="127.26" width="3" height="2.7"/><rect x="638" y="127.26" width="4" height="2.7"/><rect x="643" y="127.26" width="8" height="2.7"/><rect x="652" y="127.26" width="19" height="2.7"/><rect x="672" y="127.26" width="6" height="2.7"/><rect x="679" y="127.26" width="1" height="2.7"/><rect x="681" y="127.26" width="9" height="2.7"/><rect x="691" y="127.26" width="9" height="2.7"/><rect x="76" y="130.92" width="1" height="2.7"/><rect x="78" y="130.92" width="3" height="2.7"/><rect x="82" y="130.92" width="2" height="2.7"/><rect x="85" y="130.92" width="4" height="2.7"/><rect x="91" y="130.92" width="6" height="2.7"/><rect x="98" y="130.92" width="2" height="2.7"/><rect x="101" y="130.92" width="7" height="2.7"/><rect x="111" y="130.92" width="6" height="2.7"/><rect x="118" y="130.92" width="1" height="2.7"/><rect x="123" y="130.92" width="2" height="2.7"/><rect x="126" y="130.92" width="15" height="2.7"/><rect x="143" y="130.92" width="2" height="2.7"/><rect x="147" y="130.92" width="4" height="2.7"/><rect x="152" y="130.92" width="1" height="2.7"/><rect x="156" y="130.92" width="2" height="2.7"/><rect x="159" y="130.92" width="1" height="2.7"/><rect x="161" y="130.92" width="10" height="2.7"/><rect x="173" y="130.92" width="1" height="2.7"/><rect x="175" y="130.92" width="6" height="2.7"/><rect x="183" y="130.92" width="3" height="2.7"/><rect x="187" y="130.92" width="8" height="2.7"/><rect x="196" y="130.92" width="4" height="2.7"/><rect x="202" y="130.92" width="2" height="2.7"/><rect x="207" y="130.92" width="3" height="2.7"/><rect x="211" y="130.92" width="2" height="2.7"/><rect x="214" y="130.92" width="10" height="2.7"/><rect x="225" y="130.92" width="8" height="2.7"/><rect x="234" y="130.92" width="1" height="2.7"/><rect x="236" y="130.92" width="11" height="2.7"/><rect x="248" y="130.92" width="4" height="2.7"/><rect x="253" y="130.92" width="6" height="2.7"/><rect x="260" y="130.92" width="2" height="2.7"/><rect x="264" y="130.92" width="1" height="2.7"/><rect x="266" y="130.92" width="8" height="2.7"/><rect x="275" y="130.92" width="6" height="2.7"/><rect x="282" y="130.92" width="2" height="2.7"/><rect x="285" y="130.92" width="1" height="2.7"/><rect x="287" y="130.92" width="3" height="2.7"/><rect x="291" y="130.92" width="4" height="2.7"/><rect x="297" y="130.92" width="1" height="2.7"/><rect x="299" y="130.92" width="2" height="2.7"/><rect x="304" y="130.92" width="5" height="2.7"/><rect x="311" y="130.92" width="2" height="2.7"/><rect x="314" y="130.92" width="3" height="2.7"/><rect x="318" y="130.92" width="1" height="2.7"/><rect x="320" y="130.92" width="2" height="2.7"/><rect x="324" y="130.92" width="3" height="2.7"/><rect x="328" y="130.92" width="8" height="2.7"/><rect x="337" y="130.92" width="1" height="2.7"/><rect x="339" y="130.92" width="6" height="2.7"/><rect x="346" y="130.92" width="1" height="2.7"/><rect x="348" y="130.92" width="4" height="2.7"/><rect x="353" y="130.92" width="2" height="2.7"/><rect x="357" y="130.92" width="19" height="2.7"/><rect x="377" y="130.92" width="1" height="2.7"/><rect x="379" y="130.92" width="3" height="2.7"/><rect x="385" y="130.92" width="11" height="2.7"/><rect x="399" y="130.92" width="1" height="2.7"/><rect x="401" y="130.92" width="4" height="2.7"/><rect x="406" y="130.92" width="2" height="2.7"/><rect x="411" y="130.92" width="2" height="2.7"/><rect x="414" y="130.92" width="9" height="2.7"/><rect x="424" y="130.92" width="5" height="2.7"/><rect x="430" y="130.92" width="12" height="2.7"/><rect x="443" y="130.92" width="2" height="2.7"/><rect x="446" y="130.92" width="14" height="2.7"/><rect x="461" y="130.92" width="2" height="2.7"/><rect x="464" y="130.92" width="6" height="2.7"/><rect x="471" y="130.92" width="11" height="2.7"/><rect x="483" y="130.92" width="1" height="2.7"/><rect x="485" y="130.92" width="18" height="2.7"/><rect x="504" y="130.92" width="4" height="2.7"/><rect x="509" y="130.92" width="7" height="2.7"/><rect x="517" y="130.92" width="10" height="2.7"/><rect x="528" y="130.92" width="3" height="2.7"/><rect x="532" y="130.92" width="9" height="2.7"/><rect x="542" y="130.92" width="2" height="2.7"/><rect x="545" y="130.92" width="3" height="2.7"/><rect x="549" y="130.92" width="5" height="2.7"/><rect x="556" y="130.92" width="1" height="2.7"/><rect x="559" y="130.92" width="6" height="2.7"/><rect x="566" y="130.92" width="11" height="2.7"/><rect x="578" y="130.92" width="3" height="2.7"/><rect x="582" y="130.92" width="12" height="2.7"/><rect x="595" y="130.92" width="2" height="2.7"/><rect x="598" y="130.92" width="1" height="2.7"/><rect x="600" y="130.92" width="16" height="2.7"/><rect x="617" y="130.92" width="14" height="2.7"/><rect x="632" y="130.92" width="3" height="2.7"/><rect x="636" y="130.92" width="1" height="2.7"/><rect x="638" y="130.92" width="4" height="2.7"/><rect x="643" y="130.92" width="1" height="2.7"/><rect x="647" y="130.92" width="2" height="2.7"/><rect x="650" y="130.92" width="3" height="2.7"/><rect x="654" y="130.92" width="5" height="2.7"/><rect x="660" y="130.92" width="7" height="2.7"/><rect x="668" y="130.92" width="1" height="2.7"/><rect x="670" y="130.92" width="1" height="2.7"/><rect x="672" y="130.92" width="3" height="2.7"/><rect x="676" y="130.92" width="2" height="2.7"/><rect x="679" y="130.92" width="5" height="2.7"/><rect x="685" y="130.92" width="6" height="2.7"/><rect x="692" y="130.92" width="2" height="2.7"/><rect x="695" y="130.92" width="5" height="2.7"/><rect x="76" y="134.58" width="1" height="2.7"/><rect x="78" y="134.58" width="3" height="2.7"/><rect x="82" y="134.58" width="4" height="2.7"/><rect x="88" y="134.58" width="1" height="2.7"/><rect x="91" y="134.58" width="2" height="2.7"/><rect x="96" y="134.58" width="2" height="2.7"/><rect x="99" y="134.58" width="1" height="2.7"/><rect x="101" y="134.58" width="2" height="2.7"/><rect x="104" y="134.58" width="3" height="2.7"/><rect x="112" y="134.58" width="24" height="2.7"/><rect x="137" y="134.58" width="4" height="2.7"/><rect x="142" y="134.58" width="4" height="2.7"/><rect x="147" y="134.58" width="2" height="2.7"/><rect x="150" y="134.58" width="1" height="2.7"/><rect x="156" y="134.58" width="4" height="2.7"/><rect x="161" y="134.58" width="3" height="2.7"/><rect x="165" y="134.58" width="2" height="2.7"/><rect x="168" y="134.58" width="1" height="2.7"/><rect x="171" y="134.58" width="1" height="2.7"/><rect x="173" y="134.58" width="18" height="2.7"/><rect x="192" y="134.58" width="4" height="2.7"/><rect x="197" y="134.58" width="4" height="2.7"/><rect x="202" y="134.58" width="1" height="2.7"/><rect x="204" y="134.58" width="1" height="2.7"/><rect x="207" y="134.58" width="4" height="2.7"/><rect x="212" y="134.58" width="1" height="2.7"/><rect x="214" y="134.58" width="3" height="2.7"/><rect x="218" y="134.58" width="4" height="2.7"/><rect x="223" y="134.58" width="1" height="2.7"/><rect x="225" y="134.58" width="2" height="2.7"/><rect x="228" y="134.58" width="4" height="2.7"/><rect x="233" y="134.58" width="9" height="2.7"/><rect x="243" y="134.58" width="10" height="2.7"/><rect x="254" y="134.58" width="7" height="2.7"/><rect x="263" y="134.58" width="3" height="2.7"/><rect x="267" y="134.58" width="4" height="2.7"/><rect x="272" y="134.58" width="1" height="2.7"/><rect x="275" y="134.58" width="20" height="2.7"/><rect x="297" y="134.58" width="20" height="2.7"/><rect x="319" y="134.58" width="4" height="2.7"/><rect x="324" y="134.58" width="1" height="2.7"/><rect x="326" y="134.58" width="3" height="2.7"/><rect x="330" y="134.58" width="3" height="2.7"/><rect x="334" y="134.58" width="1" height="2.7"/><rect x="337" y="134.58" width="1" height="2.7"/><rect x="339" y="134.58" width="3" height="2.7"/><rect x="343" y="134.58" width="4" height="2.7"/><rect x="349" y="134.58" width="3" height="2.7"/><rect x="353" y="134.58" width="11" height="2.7"/><rect x="365" y="134.58" width="1" height="2.7"/><rect x="367" y="134.58" width="6" height="2.7"/><rect x="374" y="134.58" width="4" height="2.7"/><rect x="379" y="134.58" width="3" height="2.7"/><rect x="383" y="134.58" width="1" height="2.7"/><rect x="385" y="134.58" width="9" height="2.7"/><rect x="396" y="134.58" width="1" height="2.7"/><rect x="398" y="134.58" width="11" height="2.7"/><rect x="410" y="134.58" width="14" height="2.7"/><rect x="425" y="134.58" width="8" height="2.7"/><rect x="434" y="134.58" width="8" height="2.7"/><rect x="443" y="134.58" width="13" height="2.7"/><rect x="457" y="134.58" width="2" height="2.7"/><rect x="460" y="134.58" width="1" height="2.7"/><rect x="462" y="134.58" width="4" height="2.7"/><rect x="467" y="134.58" width="1" height="2.7"/><rect x="469" y="134.58" width="5" height="2.7"/><rect x="476" y="134.58" width="1" height="2.7"/><rect x="479" y="134.58" width="8" height="2.7"/><rect x="488" y="134.58" width="1" height="2.7"/><rect x="491" y="134.58" width="12" height="2.7"/><rect x="505" y="134.58" width="3" height="2.7"/><rect x="510" y="134.58" width="2" height="2.7"/><rect x="513" y="134.58" width="1" height="2.7"/><rect x="515" y="134.58" width="9" height="2.7"/><rect x="526" y="134.58" width="3" height="2.7"/><rect x="530" y="134.58" width="25" height="2.7"/><rect x="556" y="134.58" width="4" height="2.7"/><rect x="561" y="134.58" width="1" height="2.7"/><rect x="563" y="134.58" width="10" height="2.7"/><rect x="574" y="134.58" width="2" height="2.7"/><rect x="578" y="134.58" width="3" height="2.7"/><rect x="582" y="134.58" width="1" height="2.7"/><rect x="584" y="134.58" width="1" height="2.7"/><rect x="586" y="134.58" width="2" height="2.7"/><rect x="589" y="134.58" width="5" height="2.7"/><rect x="596" y="134.58" width="2" height="2.7"/><rect x="600" y="134.58" width="6" height="2.7"/><rect x="607" y="134.58" width="12" height="2.7"/><rect x="620" y="134.58" width="13" height="2.7"/><rect x="634" y="134.58" width="1" height="2.7"/><rect x="636" y="134.58" width="1" height="2.7"/><rect x="638" y="134.58" width="1" height="2.7"/><rect x="641" y="134.58" width="1" height="2.7"/><rect x="643" y="134.58" width="6" height="2.7"/><rect x="650" y="134.58" width="5" height="2.7"/><rect x="657" y="134.58" width="1" height="2.7"/><rect x="661" y="134.58" width="5" height="2.7"/><rect x="667" y="134.58" width="4" height="2.7"/><rect x="672" y="134.58" width="9" height="2.7"/><rect x="682" y="134.58" width="7" height="2.7"/><rect x="690" y="134.58" width="4" height="2.7"/><rect x="695" y="134.58" width="5" height="2.7"/><rect x="76" y="138.24" width="1" height="2.7"/><rect x="78" y="138.24" width="3" height="2.7"/><rect x="82" y="138.24" width="1" height="2.7"/><rect x="84" y="138.24" width="3" height="2.7"/><rect x="88" y="138.24" width="1" height="2.7"/><rect x="91" y="138.24" width="2" height="2.7"/><rect x="95" y="138.24" width="3" height="2.7"/><rect x="101" y="138.24" width="2" height="2.7"/><rect x="104" y="138.24" width="4" height="2.7"/><rect x="111" y="138.24" width="2" height="2.7"/><rect x="114" y="138.24" width="3" height="2.7"/><rect x="118" y="138.24" width="2" height="2.7"/><rect x="121" y="138.24" width="13" height="2.7"/><rect x="135" y="138.24" width="5" height="2.7"/><rect x="142" y="138.24" width="4" height="2.7"/><rect x="148" y="138.24" width="1" height="2.7"/><rect x="156" y="138.24" width="4" height="2.7"/><rect x="161" y="138.24" width="3" height="2.7"/><rect x="166" y="138.24" width="2" height="2.7"/><rect x="169" y="138.24" width="3" height="2.7"/><rect x="173" y="138.24" width="2" height="2.7"/><rect x="177" y="138.24" width="2" height="2.7"/><rect x="180" y="138.24" width="8" height="2.7"/><rect x="189" y="138.24" width="6" height="2.7"/><rect x="197" y="138.24" width="4" height="2.7"/><rect x="202" y="138.24" width="3" height="2.7"/><rect x="208" y="138.24" width="5" height="2.7"/><rect x="214" y="138.24" width="2" height="2.7"/><rect x="218" y="138.24" width="2" height="2.7"/><rect x="221" y="138.24" width="1" height="2.7"/><rect x="223" y="138.24" width="1" height="2.7"/><rect x="225" y="138.24" width="9" height="2.7"/><rect x="235" y="138.24" width="25" height="2.7"/><rect x="261" y="138.24" width="4" height="2.7"/><rect x="266" y="138.24" width="5" height="2.7"/><rect x="273" y="138.24" width="1" height="2.7"/><rect x="276" y="138.24" width="1" height="2.7"/><rect x="278" y="138.24" width="1" height="2.7"/><rect x="280" y="138.24" width="6" height="2.7"/><rect x="287" y="138.24" width="3" height="2.7"/><rect x="291" y="138.24" width="1" height="2.7"/><rect x="293" y="138.24" width="1" height="2.7"/><rect x="297" y="138.24" width="4" height="2.7"/><rect x="302" y="138.24" width="15" height="2.7"/><rect x="318" y="138.24" width="5" height="2.7"/><rect x="324" y="138.24" width="1" height="2.7"/><rect x="326" y="138.24" width="5" height="2.7"/><rect x="334" y="138.24" width="1" height="2.7"/><rect x="336" y="138.24" width="4" height="2.7"/><rect x="342" y="138.24" width="1" height="2.7"/><rect x="345" y="138.24" width="2" height="2.7"/><rect x="348" y="138.24" width="1" height="2.7"/><rect x="350" y="138.24" width="1" height="2.7"/><rect x="354" y="138.24" width="10" height="2.7"/><rect x="365" y="138.24" width="8" height="2.7"/><rect x="374" y="138.24" width="4" height="2.7"/><rect x="380" y="138.24" width="2" height="2.7"/><rect x="383" y="138.24" width="1" height="2.7"/><rect x="385" y="138.24" width="2" height="2.7"/><rect x="388" y="138.24" width="6" height="2.7"/><rect x="395" y="138.24" width="14" height="2.7"/><rect x="410" y="138.24" width="3" height="2.7"/><rect x="414" y="138.24" width="5" height="2.7"/><rect x="420" y="138.24" width="3" height="2.7"/><rect x="424" y="138.24" width="1" height="2.7"/><rect x="426" y="138.24" width="3" height="2.7"/><rect x="430" y="138.24" width="2" height="2.7"/><rect x="435" y="138.24" width="11" height="2.7"/><rect x="447" y="138.24" width="5" height="2.7"/><rect x="453" y="138.24" width="1" height="2.7"/><rect x="455" y="138.24" width="3" height="2.7"/><rect x="459" y="138.24" width="4" height="2.7"/><rect x="464" y="138.24" width="6" height="2.7"/><rect x="471" y="138.24" width="6" height="2.7"/><rect x="478" y="138.24" width="2" height="2.7"/><rect x="481" y="138.24" width="6" height="2.7"/><rect x="488" y="138.24" width="8" height="2.7"/><rect x="497" y="138.24" width="1" height="2.7"/><rect x="499" y="138.24" width="3" height="2.7"/><rect x="504" y="138.24" width="4" height="2.7"/><rect x="509" y="138.24" width="8" height="2.7"/><rect x="518" y="138.24" width="3" height="2.7"/><rect x="522" y="138.24" width="4" height="2.7"/><rect x="528" y="138.24" width="8" height="2.7"/><rect x="537" y="138.24" width="3" height="2.7"/><rect x="541" y="138.24" width="3" height="2.7"/><rect x="546" y="138.24" width="1" height="2.7"/><rect x="548" y="138.24" width="2" height="2.7"/><rect x="551" y="138.24" width="4" height="2.7"/><rect x="557" y="138.24" width="4" height="2.7"/><rect x="562" y="138.24" width="1" height="2.7"/><rect x="564" y="138.24" width="3" height="2.7"/><rect x="568" y="138.24" width="5" height="2.7"/><rect x="574" y="138.24" width="2" height="2.7"/><rect x="579" y="138.24" width="2" height="2.7"/><rect x="582" y="138.24" width="2" height="2.7"/><rect x="585" y="138.24" width="1" height="2.7"/><rect x="588" y="138.24" width="3" height="2.7"/><rect x="592" y="138.24" width="2" height="2.7"/><rect x="596" y="138.24" width="2" height="2.7"/><rect x="600" y="138.24" width="8" height="2.7"/><rect x="609" y="138.24" width="11" height="2.7"/><rect x="621" y="138.24" width="2" height="2.7"/><rect x="625" y="138.24" width="1" height="2.7"/><rect x="627" y="138.24" width="8" height="2.7"/><rect x="636" y="138.24" width="1" height="2.7"/><rect x="639" y="138.24" width="3" height="2.7"/><rect x="643" y="138.24" width="2" height="2.7"/><rect x="647" y="138.24" width="2" height="2.7"/><rect x="650" y="138.24" width="4" height="2.7"/><rect x="656" y="138.24" width="2" height="2.7"/><rect x="659" y="138.24" width="1" height="2.7"/><rect x="661" y="138.24" width="9" height="2.7"/><rect x="674" y="138.24" width="1" height="2.7"/><rect x="676" y="138.24" width="5" height="2.7"/><rect x="683" y="138.24" width="14" height="2.7"/><rect x="698" y="138.24" width="1" height="2.7"/><rect x="76" y="141.90" width="1" height="2.7"/><rect x="79" y="141.90" width="1" height="2.7"/><rect x="82" y="141.90" width="1" height="2.7"/><rect x="84" y="141.90" width="2" height="2.7"/><rect x="88" y="141.90" width="1" height="2.7"/><rect x="91" y="141.90" width="2" height="2.7"/><rect x="95" y="141.90" width="2" height="2.7"/><rect x="101" y="141.90" width="1" height="2.7"/><rect x="105" y="141.90" width="3" height="2.7"/><rect x="111" y="141.90" width="12" height="2.7"/><rect x="125" y="141.90" width="5" height="2.7"/><rect x="131" y="141.90" width="5" height="2.7"/><rect x="138" y="141.90" width="3" height="2.7"/><rect x="142" y="141.90" width="4" height="2.7"/><rect x="148" y="141.90" width="1" height="2.7"/><rect x="156" y="141.90" width="4" height="2.7"/><rect x="161" y="141.90" width="4" height="2.7"/><rect x="167" y="141.90" width="12" height="2.7"/><rect x="181" y="141.90" width="1" height="2.7"/><rect x="183" y="141.90" width="4" height="2.7"/><rect x="189" y="141.90" width="6" height="2.7"/><rect x="198" y="141.90" width="3" height="2.7"/><rect x="210" y="141.90" width="3" height="2.7"/><rect x="214" y="141.90" width="2" height="2.7"/><rect x="218" y="141.90" width="1" height="2.7"/><rect x="220" y="141.90" width="2" height="2.7"/><rect x="225" y="141.90" width="17" height="2.7"/><rect x="243" y="141.90" width="9" height="2.7"/><rect x="253" y="141.90" width="2" height="2.7"/><rect x="256" y="141.90" width="2" height="2.7"/><rect x="260" y="141.90" width="1" height="2.7"/><rect x="262" y="141.90" width="2" height="2.7"/><rect x="265" y="141.90" width="5" height="2.7"/><rect x="273" y="141.90" width="1" height="2.7"/><rect x="278" y="141.90" width="16" height="2.7"/><rect x="299" y="141.90" width="1" height="2.7"/><rect x="302" y="141.90" width="6" height="2.7"/><rect x="309" y="141.90" width="4" height="2.7"/><rect x="314" y="141.90" width="1" height="2.7"/><rect x="316" y="141.90" width="1" height="2.7"/><rect x="320" y="141.90" width="3" height="2.7"/><rect x="324" y="141.90" width="2" height="2.7"/><rect x="327" y="141.90" width="5" height="2.7"/><rect x="333" y="141.90" width="7" height="2.7"/><rect x="344" y="141.90" width="1" height="2.7"/><rect x="346" y="141.90" width="1" height="2.7"/><rect x="348" y="141.90" width="1" height="2.7"/><rect x="350" y="141.90" width="2" height="2.7"/><rect x="353" y="141.90" width="9" height="2.7"/><rect x="363" y="141.90" width="1" height="2.7"/><rect x="365" y="141.90" width="8" height="2.7"/><rect x="374" y="141.90" width="4" height="2.7"/><rect x="380" y="141.90" width="1" height="2.7"/><rect x="383" y="141.90" width="1" height="2.7"/><rect x="385" y="141.90" width="2" height="2.7"/><rect x="388" y="141.90" width="6" height="2.7"/><rect x="395" y="141.90" width="11" height="2.7"/><rect x="407" y="141.90" width="1" height="2.7"/><rect x="410" y="141.90" width="2" height="2.7"/><rect x="413" y="141.90" width="4" height="2.7"/><rect x="420" y="141.90" width="8" height="2.7"/><rect x="429" y="141.90" width="5" height="2.7"/><rect x="435" y="141.90" width="6" height="2.7"/><rect x="443" y="141.90" width="4" height="2.7"/><rect x="448" y="141.90" width="1" height="2.7"/><rect x="450" y="141.90" width="3" height="2.7"/><rect x="454" y="141.90" width="1" height="2.7"/><rect x="456" y="141.90" width="2" height="2.7"/><rect x="459" y="141.90" width="8" height="2.7"/><rect x="468" y="141.90" width="3" height="2.7"/><rect x="472" y="141.90" width="1" height="2.7"/><rect x="474" y="141.90" width="3" height="2.7"/><rect x="479" y="141.90" width="8" height="2.7"/><rect x="488" y="141.90" width="3" height="2.7"/><rect x="492" y="141.90" width="4" height="2.7"/><rect x="498" y="141.90" width="1" height="2.7"/><rect x="500" y="141.90" width="1" height="2.7"/><rect x="502" y="141.90" width="1" height="2.7"/><rect x="505" y="141.90" width="2" height="2.7"/><rect x="509" y="141.90" width="5" height="2.7"/><rect x="515" y="141.90" width="2" height="2.7"/><rect x="518" y="141.90" width="8" height="2.7"/><rect x="528" y="141.90" width="4" height="2.7"/><rect x="533" y="141.90" width="2" height="2.7"/><rect x="536" y="141.90" width="8" height="2.7"/><rect x="546" y="141.90" width="9" height="2.7"/><rect x="557" y="141.90" width="1" height="2.7"/><rect x="559" y="141.90" width="1" height="2.7"/><rect x="562" y="141.90" width="10" height="2.7"/><rect x="574" y="141.90" width="2" height="2.7"/><rect x="580" y="141.90" width="1" height="2.7"/><rect x="582" y="141.90" width="4" height="2.7"/><rect x="587" y="141.90" width="2" height="2.7"/><rect x="590" y="141.90" width="2" height="2.7"/><rect x="597" y="141.90" width="1" height="2.7"/><rect x="601" y="141.90" width="1" height="2.7"/><rect x="603" y="141.90" width="5" height="2.7"/><rect x="610" y="141.90" width="11" height="2.7"/><rect x="623" y="141.90" width="1" height="2.7"/><rect x="625" y="141.90" width="1" height="2.7"/><rect x="627" y="141.90" width="8" height="2.7"/><rect x="638" y="141.90" width="4" height="2.7"/><rect x="643" y="141.90" width="1" height="2.7"/><rect x="645" y="141.90" width="4" height="2.7"/><rect x="650" y="141.90" width="4" height="2.7"/><rect x="655" y="141.90" width="2" height="2.7"/><rect x="658" y="141.90" width="13" height="2.7"/><rect x="674" y="141.90" width="1" height="2.7"/><rect x="679" y="141.90" width="2" height="2.7"/><rect x="683" y="141.90" width="1" height="2.7"/><rect x="685" y="141.90" width="1" height="2.7"/><rect x="687" y="141.90" width="4" height="2.7"/><rect x="692" y="141.90" width="3" height="2.7"/><rect x="696" y="141.90" width="1" height="2.7"/><rect x="698" y="141.90" width="2" height="2.7"/><rect x="76" y="145.56" width="1" height="2.7"/><rect x="79" y="145.56" width="1" height="2.7"/><rect x="82" y="145.56" width="1" height="2.7"/><rect x="84" y="145.56" width="2" height="2.7"/><rect x="88" y="145.56" width="1" height="2.7"/><rect x="91" y="145.56" width="2" height="2.7"/><rect x="95" y="145.56" width="3" height="2.7"/><rect x="101" y="145.56" width="1" height="2.7"/><rect x="106" y="145.56" width="1" height="2.7"/><rect x="111" y="145.56" width="4" height="2.7"/><rect x="117" y="145.56" width="5" height="2.7"/><rect x="124" y="145.56" width="5" height="2.7"/><rect x="131" y="145.56" width="1" height="2.7"/><rect x="133" y="145.56" width="1" height="2.7"/><rect x="135" y="145.56" width="1" height="2.7"/><rect x="138" y="145.56" width="3" height="2.7"/><rect x="143" y="145.56" width="2" height="2.7"/><rect x="147" y="145.56" width="2" height="2.7"/><rect x="157" y="145.56" width="3" height="2.7"/><rect x="161" y="145.56" width="2" height="2.7"/><rect x="164" y="145.56" width="1" height="2.7"/><rect x="166" y="145.56" width="3" height="2.7"/><rect x="170" y="145.56" width="8" height="2.7"/><rect x="181" y="145.56" width="1" height="2.7"/><rect x="183" y="145.56" width="2" height="2.7"/><rect x="186" y="145.56" width="1" height="2.7"/><rect x="189" y="145.56" width="6" height="2.7"/><rect x="197" y="145.56" width="4" height="2.7"/><rect x="209" y="145.56" width="4" height="2.7"/><rect x="214" y="145.56" width="1" height="2.7"/><rect x="218" y="145.56" width="1" height="2.7"/><rect x="221" y="145.56" width="1" height="2.7"/><rect x="225" y="145.56" width="2" height="2.7"/><rect x="228" y="145.56" width="6" height="2.7"/><rect x="235" y="145.56" width="1" height="2.7"/><rect x="237" y="145.56" width="2" height="2.7"/><rect x="241" y="145.56" width="3" height="2.7"/><rect x="245" y="145.56" width="2" height="2.7"/><rect x="248" y="145.56" width="14" height="2.7"/><rect x="263" y="145.56" width="8" height="2.7"/><rect x="273" y="145.56" width="1" height="2.7"/><rect x="278" y="145.56" width="1" height="2.7"/><rect x="280" y="145.56" width="8" height="2.7"/><rect x="289" y="145.56" width="1" height="2.7"/><rect x="291" y="145.56" width="3" height="2.7"/><rect x="302" y="145.56" width="1" height="2.7"/><rect x="304" y="145.56" width="1" height="2.7"/><rect x="308" y="145.56" width="3" height="2.7"/><rect x="312" y="145.56" width="1" height="2.7"/><rect x="314" y="145.56" width="1" height="2.7"/><rect x="316" y="145.56" width="1" height="2.7"/><rect x="318" y="145.56" width="4" height="2.7"/><rect x="324" y="145.56" width="3" height="2.7"/><rect x="328" y="145.56" width="1" height="2.7"/><rect x="330" y="145.56" width="4" height="2.7"/><rect x="336" y="145.56" width="5" height="2.7"/><rect x="342" y="145.56" width="1" height="2.7"/><rect x="344" y="145.56" width="1" height="2.7"/><rect x="346" y="145.56" width="1" height="2.7"/><rect x="348" y="145.56" width="1" height="2.7"/><rect x="350" y="145.56" width="1" height="2.7"/><rect x="353" y="145.56" width="4" height="2.7"/><rect x="359" y="145.56" width="5" height="2.7"/><rect x="365" y="145.56" width="1" height="2.7"/><rect x="367" y="145.56" width="1" height="2.7"/><rect x="369" y="145.56" width="4" height="2.7"/><rect x="374" y="145.56" width="1" height="2.7"/><rect x="376" y="145.56" width="2" height="2.7"/><rect x="381" y="145.56" width="1" height="2.7"/><rect x="383" y="145.56" width="1" height="2.7"/><rect x="385" y="145.56" width="2" height="2.7"/><rect x="388" y="145.56" width="6" height="2.7"/><rect x="395" y="145.56" width="1" height="2.7"/><rect x="397" y="145.56" width="9" height="2.7"/><rect x="410" y="145.56" width="1" height="2.7"/><rect x="412" y="145.56" width="1" height="2.7"/><rect x="414" y="145.56" width="2" height="2.7"/><rect x="417" y="145.56" width="1" height="2.7"/><rect x="420" y="145.56" width="1" height="2.7"/><rect x="422" y="145.56" width="3" height="2.7"/><rect x="426" y="145.56" width="2" height="2.7"/><rect x="429" y="145.56" width="7" height="2.7"/><rect x="437" y="145.56" width="3" height="2.7"/><rect x="442" y="145.56" width="1" height="2.7"/><rect x="444" y="145.56" width="2" height="2.7"/><rect x="454" y="145.56" width="1" height="2.7"/><rect x="459" y="145.56" width="3" height="2.7"/><rect x="464" y="145.56" width="7" height="2.7"/><rect x="473" y="145.56" width="4" height="2.7"/><rect x="479" y="145.56" width="3" height="2.7"/><rect x="483" y="145.56" width="2" height="2.7"/><rect x="486" y="145.56" width="1" height="2.7"/><rect x="488" y="145.56" width="2" height="2.7"/><rect x="491" y="145.56" width="1" height="2.7"/><rect x="493" y="145.56" width="3" height="2.7"/><rect x="498" y="145.56" width="1" height="2.7"/><rect x="501" y="145.56" width="2" height="2.7"/><rect x="504" y="145.56" width="4" height="2.7"/><rect x="509" y="145.56" width="4" height="2.7"/><rect x="514" y="145.56" width="2" height="2.7"/><rect x="518" y="145.56" width="5" height="2.7"/><rect x="525" y="145.56" width="1" height="2.7"/><rect x="528" y="145.56" width="3" height="2.7"/><rect x="533" y="145.56" width="5" height="2.7"/><rect x="540" y="145.56" width="4" height="2.7"/><rect x="546" y="145.56" width="9" height="2.7"/><rect x="557" y="145.56" width="3" height="2.7"/><rect x="562" y="145.56" width="1" height="2.7"/><rect x="564" y="145.56" width="1" height="2.7"/><rect x="567" y="145.56" width="5" height="2.7"/><rect x="574" y="145.56" width="2" height="2.7"/><rect x="578" y="145.56" width="3" height="2.7"/><rect x="582" y="145.56" width="1" height="2.7"/><rect x="584" y="145.56" width="4" height="2.7"/><rect x="589" y="145.56" width="2" height="2.7"/><rect x="604" y="145.56" width="2" height="2.7"/><rect x="607" y="145.56" width="11" height="2.7"/><rect x="620" y="145.56" width="1" height="2.7"/><rect x="628" y="145.56" width="3" height="2.7"/><rect x="632" y="145.56" width="3" height="2.7"/><rect x="636" y="145.56" width="1" height="2.7"/><rect x="638" y="145.56" width="4" height="2.7"/><rect x="645" y="145.56" width="1" height="2.7"/><rect x="647" y="145.56" width="2" height="2.7"/><rect x="650" y="145.56" width="2" height="2.7"/><rect x="653" y="145.56" width="1" height="2.7"/><rect x="655" y="145.56" width="2" height="2.7"/><rect x="658" y="145.56" width="13" height="2.7"/><rect x="679" y="145.56" width="2" height="2.7"/><rect x="683" y="145.56" width="1" height="2.7"/><rect x="685" y="145.56" width="10" height="2.7"/><rect x="696" y="145.56" width="1" height="2.7"/><rect x="698" y="145.56" width="1" height="2.7"/><rect x="82" y="149.22" width="1" height="2.7"/><rect x="84" y="149.22" width="1" height="2.7"/><rect x="91" y="149.22" width="2" height="2.7"/><rect x="95" y="149.22" width="2" height="2.7"/><rect x="101" y="149.22" width="2" height="2.7"/><rect x="105" y="149.22" width="1" height="2.7"/><rect x="107" y="149.22" width="1" height="2.7"/><rect x="111" y="149.22" width="4" height="2.7"/><rect x="116" y="149.22" width="3" height="2.7"/><rect x="120" y="149.22" width="2" height="2.7"/><rect x="125" y="149.22" width="1" height="2.7"/><rect x="127" y="149.22" width="2" height="2.7"/><rect x="131" y="149.22" width="2" height="2.7"/><rect x="135" y="149.22" width="1" height="2.7"/><rect x="138" y="149.22" width="1" height="2.7"/><rect x="140" y="149.22" width="1" height="2.7"/><rect x="142" y="149.22" width="3" height="2.7"/><rect x="147" y="149.22" width="2" height="2.7"/><rect x="157" y="149.22" width="3" height="2.7"/><rect x="162" y="149.22" width="3" height="2.7"/><rect x="166" y="149.22" width="3" height="2.7"/><rect x="170" y="149.22" width="1" height="2.7"/><rect x="172" y="149.22" width="5" height="2.7"/><rect x="185" y="149.22" width="2" height="2.7"/><rect x="189" y="149.22" width="1" height="2.7"/><rect x="191" y="149.22" width="2" height="2.7"/><rect x="197" y="149.22" width="4" height="2.7"/><rect x="210" y="149.22" width="3" height="2.7"/><rect x="215" y="149.22" width="1" height="2.7"/><rect x="218" y="149.22" width="4" height="2.7"/><rect x="225" y="149.22" width="2" height="2.7"/><rect x="228" y="149.22" width="1" height="2.7"/><rect x="230" y="149.22" width="4" height="2.7"/><rect x="236" y="149.22" width="1" height="2.7"/><rect x="240" y="149.22" width="9" height="2.7"/><rect x="250" y="149.22" width="13" height="2.7"/><rect x="264" y="149.22" width="1" height="2.7"/><rect x="266" y="149.22" width="3" height="2.7"/><rect x="270" y="149.22" width="1" height="2.7"/><rect x="278" y="149.22" width="3" height="2.7"/><rect x="282" y="149.22" width="5" height="2.7"/><rect x="290" y="149.22" width="4" height="2.7"/><rect x="304" y="149.22" width="3" height="2.7"/><rect x="308" y="149.22" width="5" height="2.7"/><rect x="316" y="149.22" width="1" height="2.7"/><rect x="318" y="149.22" width="1" height="2.7"/><rect x="320" y="149.22" width="3" height="2.7"/><rect x="324" y="149.22" width="3" height="2.7"/><rect x="328" y="149.22" width="8" height="2.7"/><rect x="337" y="149.22" width="1" height="2.7"/><rect x="339" y="149.22" width="1" height="2.7"/><rect x="341" y="149.22" width="2" height="2.7"/><rect x="348" y="149.22" width="1" height="2.7"/><rect x="350" y="149.22" width="2" height="2.7"/><rect x="353" y="149.22" width="4" height="2.7"/><rect x="359" y="149.22" width="7" height="2.7"/><rect x="368" y="149.22" width="3" height="2.7"/><rect x="374" y="149.22" width="2" height="2.7"/><rect x="381" y="149.22" width="1" height="2.7"/><rect x="383" y="149.22" width="1" height="2.7"/><rect x="385" y="149.22" width="2" height="2.7"/><rect x="388" y="149.22" width="3" height="2.7"/><rect x="392" y="149.22" width="2" height="2.7"/><rect x="395" y="149.22" width="2" height="2.7"/><rect x="399" y="149.22" width="1" height="2.7"/><rect x="401" y="149.22" width="6" height="2.7"/><rect x="410" y="149.22" width="4" height="2.7"/><rect x="415" y="149.22" width="4" height="2.7"/><rect x="420" y="149.22" width="2" height="2.7"/><rect x="423" y="149.22" width="2" height="2.7"/><rect x="426" y="149.22" width="5" height="2.7"/><rect x="432" y="149.22" width="3" height="2.7"/><rect x="436" y="149.22" width="7" height="2.7"/><rect x="444" y="149.22" width="3" height="2.7"/><rect x="459" y="149.22" width="3" height="2.7"/><rect x="464" y="149.22" width="11" height="2.7"/><rect x="476" y="149.22" width="1" height="2.7"/><rect x="479" y="149.22" width="6" height="2.7"/><rect x="486" y="149.22" width="1" height="2.7"/><rect x="488" y="149.22" width="2" height="2.7"/><rect x="491" y="149.22" width="4" height="2.7"/><rect x="498" y="149.22" width="5" height="2.7"/><rect x="504" y="149.22" width="1" height="2.7"/><rect x="507" y="149.22" width="1" height="2.7"/><rect x="509" y="149.22" width="3" height="2.7"/><rect x="514" y="149.22" width="2" height="2.7"/><rect x="518" y="149.22" width="2" height="2.7"/><rect x="521" y="149.22" width="1" height="2.7"/><rect x="523" y="149.22" width="1" height="2.7"/><rect x="525" y="149.22" width="1" height="2.7"/><rect x="528" y="149.22" width="4" height="2.7"/><rect x="533" y="149.22" width="5" height="2.7"/><rect x="539" y="149.22" width="1" height="2.7"/><rect x="541" y="149.22" width="1" height="2.7"/><rect x="543" y="149.22" width="1" height="2.7"/><rect x="546" y="149.22" width="9" height="2.7"/><rect x="557" y="149.22" width="2" height="2.7"/><rect x="560" y="149.22" width="1" height="2.7"/><rect x="562" y="149.22" width="2" height="2.7"/><rect x="566" y="149.22" width="6" height="2.7"/><rect x="574" y="149.22" width="2" height="2.7"/><rect x="578" y="149.22" width="1" height="2.7"/><rect x="582" y="149.22" width="1" height="2.7"/><rect x="584" y="149.22" width="7" height="2.7"/><rect x="604" y="149.22" width="9" height="2.7"/><rect x="614" y="149.22" width="7" height="2.7"/><rect x="629" y="149.22" width="6" height="2.7"/><rect x="636" y="149.22" width="1" height="2.7"/><rect x="638" y="149.22" width="3" height="2.7"/><rect x="645" y="149.22" width="1" height="2.7"/><rect x="647" y="149.22" width="1" height="2.7"/><rect x="650" y="149.22" width="2" height="2.7"/><rect x="655" y="149.22" width="2" height="2.7"/><rect x="658" y="149.22" width="6" height="2.7"/><rect x="665" y="149.22" width="3" height="2.7"/><rect x="669" y="149.22" width="2" height="2.7"/><rect x="679" y="149.22" width="2" height="2.7"/><rect x="683" y="149.22" width="1" height="2.7"/><rect x="685" y="149.22" width="2" height="2.7"/><rect x="688" y="149.22" width="1" height="2.7"/><rect x="690" y="149.22" width="1" height="2.7"/><rect x="692" y="149.22" width="1" height="2.7"/><rect x="694" y="149.22" width="2" height="2.7"/><rect x="82" y="152.88" width="1" height="2.7"/><rect x="96" y="152.88" width="2" height="2.7"/><rect x="102" y="152.88" width="1" height="2.7"/><rect x="105" y="152.88" width="3" height="2.7"/><rect x="111" y="152.88" width="4" height="2.7"/><rect x="116" y="152.88" width="6" height="2.7"/><rect x="126" y="152.88" width="2" height="2.7"/><rect x="129" y="152.88" width="1" height="2.7"/><rect x="131" y="152.88" width="2" height="2.7"/><rect x="135" y="152.88" width="1" height="2.7"/><rect x="138" y="152.88" width="3" height="2.7"/><rect x="142" y="152.88" width="3" height="2.7"/><rect x="147" y="152.88" width="2" height="2.7"/><rect x="159" y="152.88" width="1" height="2.7"/><rect x="161" y="152.88" width="2" height="2.7"/><rect x="164" y="152.88" width="1" height="2.7"/><rect x="166" y="152.88" width="3" height="2.7"/><rect x="170" y="152.88" width="7" height="2.7"/><rect x="186" y="152.88" width="1" height="2.7"/><rect x="189" y="152.88" width="1" height="2.7"/><rect x="191" y="152.88" width="2" height="2.7"/><rect x="197" y="152.88" width="4" height="2.7"/><rect x="209" y="152.88" width="2" height="2.7"/><rect x="212" y="152.88" width="1" height="2.7"/><rect x="220" y="152.88" width="2" height="2.7"/><rect x="226" y="152.88" width="5" height="2.7"/><rect x="232" y="152.88" width="3" height="2.7"/><rect x="236" y="152.88" width="1" height="2.7"/><rect x="240" y="152.88" width="5" height="2.7"/><rect x="247" y="152.88" width="7" height="2.7"/><rect x="255" y="152.88" width="8" height="2.7"/><rect x="264" y="152.88" width="1" height="2.7"/><rect x="267" y="152.88" width="1" height="2.7"/><rect x="269" y="152.88" width="2" height="2.7"/><rect x="280" y="152.88" width="5" height="2.7"/><rect x="286" y="152.88" width="1" height="2.7"/><rect x="290" y="152.88" width="4" height="2.7"/><rect x="304" y="152.88" width="3" height="2.7"/><rect x="308" y="152.88" width="2" height="2.7"/><rect x="311" y="152.88" width="2" height="2.7"/><rect x="314" y="152.88" width="1" height="2.7"/><rect x="316" y="152.88" width="1" height="2.7"/><rect x="318" y="152.88" width="5" height="2.7"/><rect x="324" y="152.88" width="3" height="2.7"/><rect x="328" y="152.88" width="10" height="2.7"/><rect x="339" y="152.88" width="3" height="2.7"/><rect x="350" y="152.88" width="2" height="2.7"/><rect x="353" y="152.88" width="2" height="2.7"/><rect x="359" y="152.88" width="2" height="2.7"/><rect x="363" y="152.88" width="3" height="2.7"/><rect x="368" y="152.88" width="3" height="2.7"/><rect x="372" y="152.88" width="1" height="2.7"/><rect x="374" y="152.88" width="2" height="2.7"/><rect x="381" y="152.88" width="1" height="2.7"/><rect x="383" y="152.88" width="1" height="2.7"/><rect x="385" y="152.88" width="2" height="2.7"/><rect x="388" y="152.88" width="3" height="2.7"/><rect x="393" y="152.88" width="1" height="2.7"/><rect x="398" y="152.88" width="7" height="2.7"/><rect x="410" y="152.88" width="4" height="2.7"/><rect x="415" y="152.88" width="2" height="2.7"/><rect x="420" y="152.88" width="2" height="2.7"/><rect x="423" y="152.88" width="2" height="2.7"/><rect x="426" y="152.88" width="5" height="2.7"/><rect x="432" y="152.88" width="4" height="2.7"/><rect x="437" y="152.88" width="2" height="2.7"/><rect x="440" y="152.88" width="2" height="2.7"/><rect x="443" y="152.88" width="1" height="2.7"/><rect x="445" y="152.88" width="2" height="2.7"/><rect x="459" y="152.88" width="3" height="2.7"/><rect x="464" y="152.88" width="4" height="2.7"/><rect x="469" y="152.88" width="6" height="2.7"/><rect x="476" y="152.88" width="1" height="2.7"/><rect x="479" y="152.88" width="2" height="2.7"/><rect x="484" y="152.88" width="1" height="2.7"/><rect x="488" y="152.88" width="2" height="2.7"/><rect x="491" y="152.88" width="2" height="2.7"/><rect x="494" y="152.88" width="2" height="2.7"/><rect x="498" y="152.88" width="4" height="2.7"/><rect x="507" y="152.88" width="1" height="2.7"/><rect x="509" y="152.88" width="3" height="2.7"/><rect x="514" y="152.88" width="2" height="2.7"/><rect x="518" y="152.88" width="4" height="2.7"/><rect x="523" y="152.88" width="3" height="2.7"/><rect x="528" y="152.88" width="4" height="2.7"/><rect x="533" y="152.88" width="3" height="2.7"/><rect x="537" y="152.88" width="1" height="2.7"/><rect x="540" y="152.88" width="2" height="2.7"/><rect x="546" y="152.88" width="8" height="2.7"/><rect x="557" y="152.88" width="2" height="2.7"/><rect x="562" y="152.88" width="3" height="2.7"/><rect x="566" y="152.88" width="1" height="2.7"/><rect x="569" y="152.88" width="1" height="2.7"/><rect x="571" y="152.88" width="1" height="2.7"/><rect x="574" y="152.88" width="2" height="2.7"/><rect x="584" y="152.88" width="7" height="2.7"/><rect x="604" y="152.88" width="11" height="2.7"/><rect x="616" y="152.88" width="5" height="2.7"/><rect x="629" y="152.88" width="5" height="2.7"/><rect x="636" y="152.88" width="1" height="2.7"/><rect x="638" y="152.88" width="1" height="2.7"/><rect x="645" y="152.88" width="1" height="2.7"/><rect x="650" y="152.88" width="2" height="2.7"/><rect x="655" y="152.88" width="2" height="2.7"/><rect x="658" y="152.88" width="7" height="2.7"/><rect x="666" y="152.88" width="5" height="2.7"/><rect x="680" y="152.88" width="1" height="2.7"/><rect x="688" y="152.88" width="1" height="2.7"/><rect x="690" y="152.88" width="1" height="2.7"/><rect x="692" y="152.88" width="1" height="2.7"/><rect x="694" y="152.88" width="3" height="2.7"/><rect x="699" y="152.88" width="1" height="2.7"/><rect x="82" y="156.54" width="1" height="2.7"/><rect x="84" y="156.54" width="1" height="2.7"/><rect x="88" y="156.54" width="1" height="2.7"/><rect x="95" y="156.54" width="1" height="2.7"/><rect x="97" y="156.54" width="1" height="2.7"/><rect x="101" y="156.54" width="2" height="2.7"/><rect x="106" y="156.54" width="1" height="2.7"/><rect x="111" y="156.54" width="4" height="2.7"/><rect x="118" y="156.54" width="2" height="2.7"/><rect x="121" y="156.54" width="1" height="2.7"/><rect x="126" y="156.54" width="2" height="2.7"/><rect x="135" y="156.54" width="1" height="2.7"/><rect x="138" y="156.54" width="3" height="2.7"/><rect x="142" y="156.54" width="3" height="2.7"/><rect x="147" y="156.54" width="2" height="2.7"/><rect x="159" y="156.54" width="1" height="2.7"/><rect x="161" y="156.54" width="1" height="2.7"/><rect x="163" y="156.54" width="2" height="2.7"/><rect x="166" y="156.54" width="1" height="2.7"/><rect x="168" y="156.54" width="1" height="2.7"/><rect x="170" y="156.54" width="7" height="2.7"/><rect x="189" y="156.54" width="1" height="2.7"/><rect x="191" y="156.54" width="2" height="2.7"/><rect x="197" y="156.54" width="1" height="2.7"/><rect x="200" y="156.54" width="1" height="2.7"/><rect x="212" y="156.54" width="1" height="2.7"/><rect x="220" y="156.54" width="2" height="2.7"/><rect x="225" y="156.54" width="3" height="2.7"/><rect x="229" y="156.54" width="2" height="2.7"/><rect x="232" y="156.54" width="2" height="2.7"/><rect x="236" y="156.54" width="1" height="2.7"/><rect x="241" y="156.54" width="1" height="2.7"/><rect x="243" y="156.54" width="2" height="2.7"/><rect x="247" y="156.54" width="2" height="2.7"/><rect x="251" y="156.54" width="3" height="2.7"/><rect x="255" y="156.54" width="2" height="2.7"/><rect x="259" y="156.54" width="4" height="2.7"/><rect x="264" y="156.54" width="7" height="2.7"/><rect x="282" y="156.54" width="3" height="2.7"/><rect x="290" y="156.54" width="3" height="2.7"/><rect x="310" y="156.54" width="3" height="2.7"/><rect x="314" y="156.54" width="1" height="2.7"/><rect x="316" y="156.54" width="1" height="2.7"/><rect x="318" y="156.54" width="5" height="2.7"/><rect x="324" y="156.54" width="2" height="2.7"/><rect x="328" y="156.54" width="10" height="2.7"/><rect x="339" y="156.54" width="2" height="2.7"/><rect x="348" y="156.54" width="1" height="2.7"/><rect x="350" y="156.54" width="2" height="2.7"/><rect x="353" y="156.54" width="2" height="2.7"/><rect x="356" y="156.54" width="1" height="2.7"/><rect x="359" y="156.54" width="2" height="2.7"/><rect x="362" y="156.54" width="2" height="2.7"/><rect x="365" y="156.54" width="1" height="2.7"/><rect x="369" y="156.54" width="1" height="2.7"/><rect x="372" y="156.54" width="1" height="2.7"/><rect x="375" y="156.54" width="1" height="2.7"/><rect x="383" y="156.54" width="1" height="2.7"/><rect x="388" y="156.54" width="2" height="2.7"/><rect x="393" y="156.54" width="1" height="2.7"/><rect x="398" y="156.54" width="2" height="2.7"/><rect x="402" y="156.54" width="2" height="2.7"/><rect x="411" y="156.54" width="3" height="2.7"/><rect x="415" y="156.54" width="2" height="2.7"/><rect x="420" y="156.54" width="2" height="2.7"/><rect x="423" y="156.54" width="8" height="2.7"/><rect x="432" y="156.54" width="15" height="2.7"/><rect x="459" y="156.54" width="1" height="2.7"/><rect x="461" y="156.54" width="1" height="2.7"/><rect x="464" y="156.54" width="2" height="2.7"/><rect x="468" y="156.54" width="7" height="2.7"/><rect x="480" y="156.54" width="1" height="2.7"/><rect x="483" y="156.54" width="1" height="2.7"/><rect x="486" y="156.54" width="1" height="2.7"/><rect x="488" y="156.54" width="2" height="2.7"/><rect x="491" y="156.54" width="2" height="2.7"/><rect x="494" y="156.54" width="1" height="2.7"/><rect x="499" y="156.54" width="3" height="2.7"/><rect x="507" y="156.54" width="1" height="2.7"/><rect x="509" y="156.54" width="3" height="2.7"/><rect x="514" y="156.54" width="2" height="2.7"/><rect x="519" y="156.54" width="3" height="2.7"/><rect x="523" y="156.54" width="2" height="2.7"/><rect x="528" y="156.54" width="3" height="2.7"/><rect x="534" y="156.54" width="2" height="2.7"/><rect x="540" y="156.54" width="2" height="2.7"/><rect x="547" y="156.54" width="8" height="2.7"/><rect x="557" y="156.54" width="2" height="2.7"/><rect x="562" y="156.54" width="2" height="2.7"/><rect x="569" y="156.54" width="3" height="2.7"/><rect x="574" y="156.54" width="2" height="2.7"/><rect x="584" y="156.54" width="5" height="2.7"/><rect x="604" y="156.54" width="9" height="2.7"/><rect x="615" y="156.54" width="1" height="2.7"/><rect x="617" y="156.54" width="4" height="2.7"/><rect x="629" y="156.54" width="1" height="2.7"/><rect x="633" y="156.54" width="1" height="2.7"/><rect x="645" y="156.54" width="1" height="2.7"/><rect x="650" y="156.54" width="2" height="2.7"/><rect x="658" y="156.54" width="1" height="2.7"/><rect x="660" y="156.54" width="2" height="2.7"/><rect x="663" y="156.54" width="2" height="2.7"/><rect x="666" y="156.54" width="5" height="2.7"/><rect x="692" y="156.54" width="1" height="2.7"/><rect x="695" y="156.54" width="2" height="2.7"/><rect x="82" y="160.20" width="1" height="2.7"/><rect x="84" y="160.20" width="1" height="2.7"/><rect x="88" y="160.20" width="1" height="2.7"/><rect x="96" y="160.20" width="1" height="2.7"/><rect x="101" y="160.20" width="2" height="2.7"/><rect x="111" y="160.20" width="3" height="2.7"/><rect x="126" y="160.20" width="2" height="2.7"/><rect x="135" y="160.20" width="1" height="2.7"/><rect x="139" y="160.20" width="1" height="2.7"/><rect x="143" y="160.20" width="2" height="2.7"/><rect x="147" y="160.20" width="2" height="2.7"/><rect x="159" y="160.20" width="1" height="2.7"/><rect x="161" y="160.20" width="3" height="2.7"/><rect x="166" y="160.20" width="3" height="2.7"/><rect x="170" y="160.20" width="1" height="2.7"/><rect x="172" y="160.20" width="1" height="2.7"/><rect x="175" y="160.20" width="2" height="2.7"/><rect x="189" y="160.20" width="1" height="2.7"/><rect x="191" y="160.20" width="2" height="2.7"/><rect x="199" y="160.20" width="2" height="2.7"/><rect x="220" y="160.20" width="1" height="2.7"/><rect x="225" y="160.20" width="2" height="2.7"/><rect x="228" y="160.20" width="3" height="2.7"/><rect x="232" y="160.20" width="3" height="2.7"/><rect x="236" y="160.20" width="1" height="2.7"/><rect x="244" y="160.20" width="1" height="2.7"/><rect x="248" y="160.20" width="1" height="2.7"/><rect x="250" y="160.20" width="4" height="2.7"/><rect x="255" y="160.20" width="8" height="2.7"/><rect x="265" y="160.20" width="1" height="2.7"/><rect x="268" y="160.20" width="3" height="2.7"/><rect x="280" y="160.20" width="1" height="2.7"/><rect x="282" y="160.20" width="3" height="2.7"/><rect x="291" y="160.20" width="2" height="2.7"/><rect x="310" y="160.20" width="3" height="2.7"/><rect x="314" y="160.20" width="1" height="2.7"/><rect x="316" y="160.20" width="1" height="2.7"/><rect x="318" y="160.20" width="4" height="2.7"/><rect x="325" y="160.20" width="1" height="2.7"/><rect x="328" y="160.20" width="1" height="2.7"/><rect x="330" y="160.20" width="8" height="2.7"/><rect x="339" y="160.20" width="4" height="2.7"/><rect x="348" y="160.20" width="1" height="2.7"/><rect x="350" y="160.20" width="2" height="2.7"/><rect x="353" y="160.20" width="2" height="2.7"/><rect x="356" y="160.20" width="1" height="2.7"/><rect x="359" y="160.20" width="5" height="2.7"/><rect x="365" y="160.20" width="1" height="2.7"/><rect x="372" y="160.20" width="1" height="2.7"/><rect x="374" y="160.20" width="2" height="2.7"/><rect x="390" y="160.20" width="1" height="2.7"/><rect x="398" y="160.20" width="7" height="2.7"/><rect x="410" y="160.20" width="4" height="2.7"/><rect x="415" y="160.20" width="2" height="2.7"/><rect x="420" y="160.20" width="2" height="2.7"/><rect x="425" y="160.20" width="1" height="2.7"/><rect x="427" y="160.20" width="4" height="2.7"/><rect x="432" y="160.20" width="13" height="2.7"/><rect x="446" y="160.20" width="1" height="2.7"/><rect x="459" y="160.20" width="3" height="2.7"/><rect x="479" y="160.20" width="2" height="2.7"/><rect x="483" y="160.20" width="2" height="2.7"/><rect x="486" y="160.20" width="1" height="2.7"/><rect x="488" y="160.20" width="2" height="2.7"/><rect x="491" y="160.20" width="2" height="2.7"/><rect x="499" y="160.20" width="2" height="2.7"/><rect x="507" y="160.20" width="1" height="2.7"/><rect x="509" y="160.20" width="1" height="2.7"/><rect x="511" y="160.20" width="1" height="2.7"/><rect x="514" y="160.20" width="2" height="2.7"/><rect x="518" y="160.20" width="3" height="2.7"/><rect x="523" y="160.20" width="2" height="2.7"/><rect x="528" y="160.20" width="2" height="2.7"/><rect x="531" y="160.20" width="1" height="2.7"/><rect x="535" y="160.20" width="1" height="2.7"/><rect x="540" y="160.20" width="2" height="2.7"/><rect x="546" y="160.20" width="2" height="2.7"/><rect x="549" y="160.20" width="1" height="2.7"/><rect x="552" y="160.20" width="3" height="2.7"/><rect x="558" y="160.20" width="1" height="2.7"/><rect x="562" y="160.20" width="1" height="2.7"/><rect x="571" y="160.20" width="1" height="2.7"/><rect x="574" y="160.20" width="2" height="2.7"/><rect x="584" y="160.20" width="5" height="2.7"/><rect x="604" y="160.20" width="5" height="2.7"/><rect x="610" y="160.20" width="3" height="2.7"/><rect x="614" y="160.20" width="2" height="2.7"/><rect x="617" y="160.20" width="2" height="2.7"/><rect x="630" y="160.20" width="4" height="2.7"/><rect x="650" y="160.20" width="2" height="2.7"/><rect x="658" y="160.20" width="1" height="2.7"/><rect x="661" y="160.20" width="1" height="2.7"/><rect x="663" y="160.20" width="2" height="2.7"/><rect x="666" y="160.20" width="5" height="2.7"/><rect x="82" y="163.86" width="1" height="2.7"/><rect x="84" y="163.86" width="1" height="2.7"/><rect x="88" y="163.86" width="1" height="2.7"/><rect x="96" y="163.86" width="2" height="2.7"/><rect x="102" y="163.86" width="1" height="2.7"/><rect x="105" y="163.86" width="1" height="2.7"/><rect x="111" y="163.86" width="4" height="2.7"/><rect x="135" y="163.86" width="1" height="2.7"/><rect x="138" y="163.86" width="2" height="2.7"/><rect x="142" y="163.86" width="1" height="2.7"/><rect x="147" y="163.86" width="2" height="2.7"/><rect x="159" y="163.86" width="1" height="2.7"/><rect x="162" y="163.86" width="3" height="2.7"/><rect x="166" y="163.86" width="2" height="2.7"/><rect x="170" y="163.86" width="1" height="2.7"/><rect x="172" y="163.86" width="4" height="2.7"/><rect x="192" y="163.86" width="1" height="2.7"/><rect x="199" y="163.86" width="2" height="2.7"/><rect x="225" y="163.86" width="1" height="2.7"/><rect x="227" y="163.86" width="2" height="2.7"/><rect x="232" y="163.86" width="3" height="2.7"/><rect x="236" y="163.86" width="1" height="2.7"/><rect x="248" y="163.86" width="1" height="2.7"/><rect x="250" y="163.86" width="1" height="2.7"/><rect x="252" y="163.86" width="2" height="2.7"/><rect x="255" y="163.86" width="2" height="2.7"/><rect x="258" y="163.86" width="5" height="2.7"/><rect x="265" y="163.86" width="5" height="2.7"/><rect x="280" y="163.86" width="1" height="2.7"/><rect x="283" y="163.86" width="2" height="2.7"/><rect x="290" y="163.86" width="3" height="2.7"/><rect x="310" y="163.86" width="1" height="2.7"/><rect x="320" y="163.86" width="2" height="2.7"/><rect x="325" y="163.86" width="1" height="2.7"/><rect x="329" y="163.86" width="5" height="2.7"/><rect x="335" y="163.86" width="3" height="2.7"/><rect x="339" y="163.86" width="1" height="2.7"/><rect x="341" y="163.86" width="2" height="2.7"/><rect x="350" y="163.86" width="2" height="2.7"/><rect x="353" y="163.86" width="2" height="2.7"/><rect x="356" y="163.86" width="1" height="2.7"/><rect x="359" y="163.86" width="3" height="2.7"/><rect x="363" y="163.86" width="3" height="2.7"/><rect x="398" y="163.86" width="7" height="2.7"/><rect x="411" y="163.86" width="2" height="2.7"/><rect x="415" y="163.86" width="2" height="2.7"/><rect x="425" y="163.86" width="2" height="2.7"/><rect x="429" y="163.86" width="2" height="2.7"/><rect x="433" y="163.86" width="6" height="2.7"/><rect x="440" y="163.86" width="5" height="2.7"/><rect x="446" y="163.86" width="1" height="2.7"/><rect x="479" y="163.86" width="2" height="2.7"/><rect x="483" y="163.86" width="2" height="2.7"/><rect x="486" y="163.86" width="1" height="2.7"/><rect x="488" y="163.86" width="2" height="2.7"/><rect x="491" y="163.86" width="2" height="2.7"/><rect x="500" y="163.86" width="1" height="2.7"/><rect x="507" y="163.86" width="1" height="2.7"/><rect x="510" y="163.86" width="2" height="2.7"/><rect x="514" y="163.86" width="2" height="2.7"/><rect x="518" y="163.86" width="3" height="2.7"/><rect x="523" y="163.86" width="1" height="2.7"/><rect x="528" y="163.86" width="1" height="2.7"/><rect x="531" y="163.86" width="1" height="2.7"/><rect x="535" y="163.86" width="1" height="2.7"/><rect x="540" y="163.86" width="2" height="2.7"/><rect x="546" y="163.86" width="4" height="2.7"/><rect x="551" y="163.86" width="1" height="2.7"/><rect x="553" y="163.86" width="2" height="2.7"/><rect x="557" y="163.86" width="2" height="2.7"/><rect x="562" y="163.86" width="2" height="2.7"/><rect x="569" y="163.86" width="3" height="2.7"/><rect x="574" y="163.86" width="2" height="2.7"/><rect x="584" y="163.86" width="1" height="2.7"/><rect x="586" y="163.86" width="3" height="2.7"/><rect x="604" y="163.86" width="1" height="2.7"/><rect x="607" y="163.86" width="1" height="2.7"/><rect x="610" y="163.86" width="3" height="2.7"/><rect x="614" y="163.86" width="2" height="2.7"/><rect x="617" y="163.86" width="2" height="2.7"/><rect x="630" y="163.86" width="2" height="2.7"/><rect x="633" y="163.86" width="1" height="2.7"/><rect x="651" y="163.86" width="1" height="2.7"/><rect x="663" y="163.86" width="2" height="2.7"/><rect x="666" y="163.86" width="1" height="2.7"/><rect x="668" y="163.86" width="1" height="2.7"/><rect x="670" y="163.86" width="1" height="2.7"/><rect x="82" y="167.52" width="1" height="2.7"/><rect x="84" y="167.52" width="1" height="2.7"/><rect x="96" y="167.52" width="2" height="2.7"/><rect x="101" y="167.52" width="2" height="2.7"/><rect x="105" y="167.52" width="1" height="2.7"/><rect x="111" y="167.52" width="1" height="2.7"/><rect x="113" y="167.52" width="2" height="2.7"/><rect x="138" y="167.52" width="3" height="2.7"/><rect x="142" y="167.52" width="3" height="2.7"/><rect x="147" y="167.52" width="2" height="2.7"/><rect x="159" y="167.52" width="1" height="2.7"/><rect x="162" y="167.52" width="3" height="2.7"/><rect x="166" y="167.52" width="3" height="2.7"/><rect x="172" y="167.52" width="5" height="2.7"/><rect x="225" y="167.52" width="4" height="2.7"/><rect x="230" y="167.52" width="1" height="2.7"/><rect x="232" y="167.52" width="1" height="2.7"/><rect x="234" y="167.52" width="1" height="2.7"/><rect x="236" y="167.52" width="1" height="2.7"/><rect x="250" y="167.52" width="2" height="2.7"/><rect x="253" y="167.52" width="1" height="2.7"/><rect x="256" y="167.52" width="3" height="2.7"/><rect x="260" y="167.52" width="1" height="2.7"/><rect x="262" y="167.52" width="1" height="2.7"/><rect x="264" y="167.52" width="6" height="2.7"/><rect x="280" y="167.52" width="1" height="2.7"/><rect x="284" y="167.52" width="1" height="2.7"/><rect x="290" y="167.52" width="3" height="2.7"/><rect x="319" y="167.52" width="2" height="2.7"/><rect x="325" y="167.52" width="1" height="2.7"/><rect x="329" y="167.52" width="3" height="2.7"/><rect x="333" y="167.52" width="1" height="2.7"/><rect x="336" y="167.52" width="2" height="2.7"/><rect x="341" y="167.52" width="1" height="2.7"/><rect x="348" y="167.52" width="1" height="2.7"/><rect x="350" y="167.52" width="2" height="2.7"/><rect x="353" y="167.52" width="1" height="2.7"/><rect x="356" y="167.52" width="1" height="2.7"/><rect x="359" y="167.52" width="3" height="2.7"/><rect x="364" y="167.52" width="2" height="2.7"/><rect x="398" y="167.52" width="1" height="2.7"/><rect x="400" y="167.52" width="5" height="2.7"/><rect x="415" y="167.52" width="2" height="2.7"/><rect x="428" y="167.52" width="3" height="2.7"/><rect x="432" y="167.52" width="3" height="2.7"/><rect x="436" y="167.52" width="2" height="2.7"/><rect x="440" y="167.52" width="2" height="2.7"/><rect x="443" y="167.52" width="1" height="2.7"/><rect x="499" y="167.52" width="2" height="2.7"/><rect x="530" y="167.52" width="2" height="2.7"/><rect x="546" y="167.52" width="1" height="2.7"/><rect x="548" y="167.52" width="2" height="2.7"/><rect x="551" y="167.52" width="1" height="2.7"/><rect x="553" y="167.52" width="2" height="2.7"/><rect x="557" y="167.52" width="2" height="2.7"/><rect x="562" y="167.52" width="2" height="2.7"/><rect x="569" y="167.52" width="3" height="2.7"/><rect x="574" y="167.52" width="2" height="2.7"/><rect x="584" y="167.52" width="1" height="2.7"/><rect x="586" y="167.52" width="3" height="2.7"/><rect x="607" y="167.52" width="2" height="2.7"/><rect x="618" y="167.52" width="1" height="2.7"/><rect x="630" y="167.52" width="1" height="2.7"/><rect x="632" y="167.52" width="2" height="2.7"/><rect x="650" y="167.52" width="2" height="2.7"/><rect x="663" y="167.52" width="2" height="2.7"/><rect x="666" y="167.52" width="1" height="2.7"/><rect x="84" y="171.18" width="1" height="2.7"/><rect x="88" y="171.18" width="1" height="2.7"/><rect x="96" y="171.18" width="2" height="2.7"/><rect x="111" y="171.18" width="4" height="2.7"/><rect x="139" y="171.18" width="2" height="2.7"/><rect x="142" y="171.18" width="2" height="2.7"/><rect x="147" y="171.18" width="2" height="2.7"/><rect x="159" y="171.18" width="1" height="2.7"/><rect x="162" y="171.18" width="3" height="2.7"/><rect x="166" y="171.18" width="2" height="2.7"/><rect x="172" y="171.18" width="5" height="2.7"/><rect x="227" y="171.18" width="2" height="2.7"/><rect x="230" y="171.18" width="1" height="2.7"/><rect x="233" y="171.18" width="1" height="2.7"/><rect x="264" y="171.18" width="1" height="2.7"/><rect x="266" y="171.18" width="4" height="2.7"/><rect x="290" y="171.18" width="3" height="2.7"/><rect x="319" y="171.18" width="3" height="2.7"/><rect x="333" y="171.18" width="1" height="2.7"/><rect x="336" y="171.18" width="2" height="2.7"/><rect x="341" y="171.18" width="1" height="2.7"/><rect x="348" y="171.18" width="1" height="2.7"/><rect x="351" y="171.18" width="1" height="2.7"/><rect x="353" y="171.18" width="1" height="2.7"/><rect x="356" y="171.18" width="1" height="2.7"/><rect x="359" y="171.18" width="1" height="2.7"/><rect x="361" y="171.18" width="1" height="2.7"/><rect x="364" y="171.18" width="1" height="2.7"/><rect x="399" y="171.18" width="2" height="2.7"/><rect x="403" y="171.18" width="1" height="2.7"/><rect x="415" y="171.18" width="2" height="2.7"/><rect x="429" y="171.18" width="2" height="2.7"/><rect x="432" y="171.18" width="1" height="2.7"/><rect x="434" y="171.18" width="1" height="2.7"/><rect x="436" y="171.18" width="2" height="2.7"/><rect x="441" y="171.18" width="1" height="2.7"/><rect x="443" y="171.18" width="1" height="2.7"/><rect x="546" y="171.18" width="1" height="2.7"/><rect x="548" y="171.18" width="2" height="2.7"/><rect x="554" y="171.18" width="1" height="2.7"/><rect x="558" y="171.18" width="1" height="2.7"/><rect x="563" y="171.18" width="1" height="2.7"/><rect x="569" y="171.18" width="3" height="2.7"/><rect x="574" y="171.18" width="2" height="2.7"/><rect x="584" y="171.18" width="1" height="2.7"/><rect x="586" y="171.18" width="3" height="2.7"/><rect x="633" y="171.18" width="1" height="2.7"/><rect x="663" y="171.18" width="2" height="2.7"/><rect x="666" y="171.18" width="1" height="2.7"/><rect x="668" y="171.18" width="1" height="2.7"/><rect x="82" y="174.84" width="1" height="2.7"/><rect x="84" y="174.84" width="1" height="2.7"/><rect x="88" y="174.84" width="1" height="2.7"/><rect x="96" y="174.84" width="2" height="2.7"/><rect x="113" y="174.84" width="1" height="2.7"/><rect x="139" y="174.84" width="1" height="2.7"/><rect x="162" y="174.84" width="3" height="2.7"/><rect x="166" y="174.84" width="2" height="2.7"/><rect x="172" y="174.84" width="4" height="2.7"/><rect x="227" y="174.84" width="1" height="2.7"/><rect x="264" y="174.84" width="1" height="2.7"/><rect x="266" y="174.84" width="4" height="2.7"/><rect x="290" y="174.84" width="3" height="2.7"/><rect x="337" y="174.84" width="1" height="2.7"/><rect x="341" y="174.84" width="2" height="2.7"/><rect x="348" y="174.84" width="1" height="2.7"/><rect x="351" y="174.84" width="1" height="2.7"/><rect x="360" y="174.84" width="1" height="2.7"/><rect x="399" y="174.84" width="2" height="2.7"/><rect x="403" y="174.84" width="2" height="2.7"/><rect x="415" y="174.84" width="2" height="2.7"/><rect x="430" y="174.84" width="1" height="2.7"/><rect x="434" y="174.84" width="1" height="2.7"/><rect x="436" y="174.84" width="3" height="2.7"/><rect x="440" y="174.84" width="2" height="2.7"/><rect x="570" y="174.84" width="2" height="2.7"/><rect x="574" y="174.84" width="1" height="2.7"/><rect x="584" y="174.84" width="1" height="2.7"/><rect x="586" y="174.84" width="3" height="2.7"/><rect x="663" y="174.84" width="1" height="2.7"/><rect x="82" y="178.50" width="1" height="2.7"/><rect x="88" y="178.50" width="1" height="2.7"/><rect x="96" y="178.50" width="1" height="2.7"/><rect x="139" y="178.50" width="2" height="2.7"/><rect x="164" y="178.50" width="1" height="2.7"/><rect x="167" y="178.50" width="1" height="2.7"/><rect x="172" y="178.50" width="1" height="2.7"/><rect x="175" y="178.50" width="1" height="2.7"/><rect x="227" y="178.50" width="2" height="2.7"/><rect x="264" y="178.50" width="1" height="2.7"/><rect x="267" y="178.50" width="1" height="2.7"/><rect x="291" y="178.50" width="2" height="2.7"/><rect x="336" y="178.50" width="2" height="2.7"/><rect x="341" y="178.50" width="2" height="2.7"/><rect x="350" y="178.50" width="2" height="2.7"/><rect x="359" y="178.50" width="2" height="2.7"/><rect x="399" y="178.50" width="1" height="2.7"/><rect x="430" y="178.50" width="1" height="2.7"/><rect x="436" y="178.50" width="1" height="2.7"/><rect x="440" y="178.50" width="2" height="2.7"/><rect x="570" y="178.50" width="2" height="2.7"/><rect x="574" y="178.50" width="2" height="2.7"/><rect x="584" y="178.50" width="1" height="2.7"/><rect x="586" y="178.50" width="3" height="2.7"/><rect x="96" y="182.16" width="2" height="2.7"/><rect x="139" y="182.16" width="2" height="2.7"/><rect x="173" y="182.16" width="2" height="2.7"/><rect x="227" y="182.16" width="2" height="2.7"/><rect x="291" y="182.16" width="2" height="2.7"/><rect x="336" y="182.16" width="2" height="2.7"/><rect x="341" y="182.16" width="2" height="2.7"/><rect x="350" y="182.16" width="2" height="2.7"/><rect x="399" y="182.16" width="2" height="2.7"/><rect x="430" y="182.16" width="1" height="2.7"/><rect x="436" y="182.16" width="1" height="2.7"/><rect x="438" y="182.16" width="1" height="2.7"/><rect x="440" y="182.16" width="1" height="2.7"/><rect x="584" y="182.16" width="1" height="2.7"/><rect x="587" y="182.16" width="2" height="2.7"/><rect x="96" y="185.82" width="2" height="2.7"/><rect x="139" y="185.82" width="2" height="2.7"/><rect x="173" y="185.82" width="2" height="2.7"/><rect x="227" y="185.82" width="2" height="2.7"/><rect x="341" y="185.82" width="2" height="2.7"/><rect x="350" y="185.82" width="2" height="2.7"/><rect x="399" y="185.82" width="2" height="2.7"/><rect x="430" y="185.82" width="1" height="2.7"/><rect x="441" y="185.82" width="1" height="2.7"/><rect x="584" y="185.82" width="1" height="2.7"/></g><rect x="150.6" y="90.66" width="1.5" height="2.7" fill="#c41a1a"/><rect x="208.8" y="90.66" width="1.5" height="2.7" fill="#1a1ab4"/><rect x="306.0" y="87.00" width="1.5" height="2.7" fill="#1a1ab4"/><rect x="184.9" y="97.98" width="1.5" height="2.7" fill="#30b8e0"/><rect x="187.7" y="101.64" width="1.5" height="2.7" fill="#1a1ab4"/><rect x="187.7" y="105.30" width="1.5" height="2.7" fill="#1a1ab4"/><rect x="207.2" y="101.64" width="1.5" height="2.7" fill="#1a1ab4"/><rect x="306.3" y="94.32" width="1.5" height="2.7" fill="#1a1ab4"/><rect x="300.9" y="97.98" width="1.5" height="2.7" fill="#1a1ab4"/><rect x="145.9" y="105.30" width="1.5" height="2.7" fill="#c41a1a"/><rect x="168.5" y="105.30" width="1.5" height="2.7" fill="#c41a1a"/><rect x="183.8" y="108.96" width="1.5" height="2.7" fill="#1a1ab4"/><rect x="206.8" y="108.96" width="1.5" height="2.7" fill="#1a1ab4"/><rect x="213.1" y="108.96" width="1.5" height="2.7" fill="#c41a1a"/><rect x="233.3" y="112.62" width="1.5" height="2.7" fill="#1a1ab4"/><rect x="309.1" y="105.30" width="1.5" height="2.7" fill="#1a1ab4"/><rect x="344.7" y="97.98" width="1.5" height="2.7" fill="#1a1ab4"/><rect x="138.8" y="112.62" width="1.5" height="2.7" fill="#c41a1a"/><rect x="140.3" y="116.28" width="1.5" height="2.7" fill="#d4882e"/><rect x="302.1" y="116.28" width="1.5" height="2.7" fill="#1a1ab4"/><rect x="310.3" y="112.62" width="1.5" height="2.7" fill="#1a1ab4"/><rect x="155.6" y="119.94" width="1.5" height="2.7" fill="#c41a1a"/><rect x="161.9" y="123.60" width="1.5" height="2.7" fill="#c41a1a"/><rect x="180.3" y="123.60" width="1.5" height="2.7" fill="#22b422"/><rect x="181.8" y="123.60" width="1.5" height="2.7" fill="#e8c020"/><rect x="183.3" y="127.26" width="1.5" height="2.7" fill="#1a1ab4"/><rect x="223.6" y="123.60" width="1.5" height="2.7" fill="#e8c020"/><rect x="233.3" y="127.26" width="1.5" height="2.7" fill="#1a1ab4"/><rect x="344.7" y="127.26" width="1.5" height="2.7" fill="#1a1ab4"/><rect x="181.3" y="130.92" width="1.5" height="2.7" fill="#e060c0"/><rect x="195.3" y="134.58" width="1.5" height="2.7" fill="#5050f0"/><rect x="209.1" y="138.24" width="1.5" height="2.7" fill="#1a1ab4"/><rect x="163.1" y="141.90" width="1.5" height="2.7" fill="#c41a1a"/><rect x="181.3" y="138.24" width="1.5" height="2.7" fill="#c41a1a"/><rect x="182.3" y="141.90" width="1.5" height="2.7" fill="#5050f0"/><rect x="182.3" y="145.56" width="1.5" height="2.7" fill="#5050f0"/><rect x="172.0" y="149.22" width="1.5" height="2.7" fill="#d4882e"/><rect x="144.3" y="152.88" width="1.5" height="2.7" fill="#c41a1a"/><rect x="174.0" y="160.20" width="1.5" height="2.7" fill="#22b422"/><rect x="495.6" y="87.00" width="1.5" height="2.7" fill="#22b422"/><rect x="564.0" y="87.00" width="1.5" height="2.7" fill="#1a1ab4"/><rect x="543.7" y="90.66" width="1.5" height="2.7" fill="#c41a1a"/><rect x="503.1" y="94.32" width="1.5" height="2.7" fill="#404040"/><rect x="420.6" y="97.98" width="1.5" height="2.7" fill="#1a1ab4"/><rect x="564.0" y="97.98" width="1.5" height="2.7" fill="#1a1ab4"/><rect x="592.5" y="94.32" width="1.5" height="2.7" fill="#e8c020"/><rect x="620.3" y="97.98" width="1.5" height="2.7" fill="#d4882e"/><rect x="491.7" y="101.64" width="1.5" height="2.7" fill="#1a1ab4"/><rect x="496.8" y="101.64" width="1.5" height="2.7" fill="#e060c0"/><rect x="539.0" y="101.64" width="1.5" height="2.7" fill="#c41a1a"/><rect x="489.3" y="105.30" width="1.5" height="2.7" fill="#1a1ab4"/><rect x="421.0" y="105.30" width="1.5" height="2.7" fill="#1a1ab4"/><rect x="410.1" y="105.30" width="1.5" height="2.7" fill="#c41a1a"/><rect x="461.6" y="105.30" width="1.5" height="2.7" fill="#c41a1a"/><rect x="372.6" y="108.96" width="1.5" height="2.7" fill="#c41a1a"/><rect x="405.0" y="108.96" width="1.5" height="2.7" fill="#c41a1a"/><rect x="448.8" y="108.96" width="1.5" height="2.7" fill="#c41a1a"/><rect x="612.8" y="105.30" width="1.5" height="2.7" fill="#1a1ab4"/><rect x="547.3" y="112.62" width="1.5" height="2.7" fill="#c41a1a"/><rect x="378.1" y="119.94" width="1.5" height="2.7" fill="#c41a1a"/><rect x="421.0" y="119.94" width="1.5" height="2.7" fill="#c41a1a"/><rect x="541.7" y="119.94" width="1.5" height="2.7" fill="#c41a1a"/><rect x="604.6" y="116.28" width="1.5" height="2.7" fill="#e060c0"/><rect x="407.7" y="123.60" width="1.5" height="2.7" fill="#c41a1a"/><rect x="455.8" y="123.60" width="1.5" height="2.7" fill="#5050f0"/><rect x="468.7" y="127.26" width="1.5" height="2.7" fill="#1a1ab4"/><rect x="469.8" y="130.92" width="1.5" height="2.7" fill="#1a1ab4"/><rect x="489.3" y="130.92" width="1.5" height="2.7" fill="#1a1ab4"/><rect x="635.1" y="130.92" width="1.5" height="2.7" fill="#1a1ab4"/><rect x="456.2" y="138.24" width="1.5" height="2.7" fill="#c41a1a"/><rect x="491.3" y="138.24" width="1.5" height="2.7" fill="#1a1ab4"/><rect x="478.1" y="141.90" width="1.5" height="2.7" fill="#c41a1a"/><rect x="635.9" y="141.90" width="1.5" height="2.7" fill="#1a1ab4"/><rect x="412.8" y="145.56" width="1.5" height="2.7" fill="#c41a1a"/><rect x="455.0" y="149.22" width="1.5" height="2.7" fill="#c41a1a"/><rect x="473.0" y="149.22" width="1.5" height="2.7" fill="#c41a1a"/><rect x="420.6" y="149.22" width="1.5" height="2.7" fill="#20a890"/><rect x="575.3" y="145.56" width="1.5" height="2.7" fill="#e060c0"/><rect x="612.3" y="149.22" width="1.5" height="2.7" fill="#1a1ab4"/><rect x="641.7" y="145.56" width="1.5" height="2.7" fill="#e8c020"/><rect x="661.3" y="101.64" width="1.5" height="2.7" fill="#c41a1a"/><rect x="655.8" y="130.92" width="1.5" height="2.7" fill="#c41a1a"/><rect x="399.2" y="87.80" width="1.1" height="1.1" fill="#6a6a6a"/><rect x="399.2" y="91.46" width="1.1" height="1.1" fill="#6a6a6a"/><rect x="399.2" y="95.12" width="1.1" height="1.1" fill="#6a6a6a"/><rect x="399.2" y="98.78" width="1.1" height="1.1" fill="#6a6a6a"/><rect x="399.2" y="102.44" width="1.1" height="1.1" fill="#6a6a6a"/><rect x="399.2" y="106.10" width="1.1" height="1.1" fill="#6a6a6a"/><rect x="399.2" y="109.76" width="1.1" height="1.1" fill="#6a6a6a"/><rect x="399.2" y="113.42" width="1.1" height="1.1" fill="#6a6a6a"/><rect x="399.2" y="117.08" width="1.1" height="1.1" fill="#6a6a6a"/><rect x="399.2" y="120.74" width="1.1" height="1.1" fill="#6a6a6a"/><rect x="399.2" y="124.40" width="1.1" height="1.1" fill="#6a6a6a"/><rect x="207.8" y="87.80" width="1.1" height="1.1" fill="#6a6a6a"/><rect x="207.8" y="91.46" width="1.1" height="1.1" fill="#6a6a6a"/><rect x="207.8" y="95.12" width="1.1" height="1.1" fill="#6a6a6a"/><rect x="207.8" y="98.78" width="1.1" height="1.1" fill="#6a6a6a"/><rect x="207.8" y="102.44" width="1.1" height="1.1" fill="#6a6a6a"/><rect x="207.8" y="106.10" width="1.1" height="1.1" fill="#6a6a6a"/><rect x="207.8" y="109.76" width="1.1" height="1.1" fill="#6a6a6a"/><rect x="207.8" y="113.42" width="1.1" height="1.1" fill="#6a6a6a"/><rect x="207.8" y="117.08" width="1.1" height="1.1" fill="#6a6a6a"/><rect x="207.8" y="120.74" width="1.1" height="1.1" fill="#6a6a6a"/><rect x="207.8" y="124.40" width="1.1" height="1.1" fill="#6a6a6a"/><rect x="207.8" y="128.06" width="1.1" height="1.1" fill="#6a6a6a"/><rect x="207.8" y="131.72" width="1.1" height="1.1" fill="#6a6a6a"/><rect x="207.8" y="135.38" width="1.1" height="1.1" fill="#6a6a6a"/><rect x="207.8" y="139.04" width="1.1" height="1.1" fill="#6a6a6a"/><rect x="109.8" y="91.46" width="1.1" height="1.1" fill="#6a6a6a"/><rect x="109.8" y="95.12" width="1.1" height="1.1" fill="#6a6a6a"/><rect x="109.8" y="98.78" width="1.1" height="1.1" fill="#6a6a6a"/><rect x="109.8" y="102.44" width="1.1" height="1.1" fill="#6a6a6a"/><rect x="109.8" y="106.10" width="1.1" height="1.1" fill="#6a6a6a"/><rect x="109.8" y="109.76" width="1.1" height="1.1" fill="#6a6a6a"/><rect x="109.8" y="113.42" width="1.1" height="1.1" fill="#6a6a6a"/><rect x="109.8" y="117.08" width="1.1" height="1.1" fill="#6a6a6a"/><rect x="109.8" y="120.74" width="1.1" height="1.1" fill="#6a6a6a"/><rect x="109.8" y="124.40" width="1.1" height="1.1" fill="#6a6a6a"/><rect x="109.8" y="128.06" width="1.1" height="1.1" fill="#6a6a6a"/><rect x="283" y="95.12" width="1.1" height="1.1" fill="#6a6a6a"/><rect x="283" y="98.78" width="1.1" height="1.1" fill="#6a6a6a"/><rect x="283" y="102.44" width="1.1" height="1.1" fill="#6a6a6a"/><rect x="283" y="106.10" width="1.1" height="1.1" fill="#6a6a6a"/><rect x="283" y="109.76" width="1.1" height="1.1" fill="#6a6a6a"/><rect x="283" y="113.42" width="1.1" height="1.1" fill="#6a6a6a"/><rect x="283" y="117.08" width="1.1" height="1.1" fill="#6a6a6a"/><rect x="75.5" y="187.6" width="624.1" height="1.4" fill="#e2e2e2"/><rect x="75.5" y="189" width="624.1" height="1.8" fill="#b4b4b4"/><rect x="75.5" y="190.8" width="624.1" height="85.4" fill="#f8f8f8"/><rect x="75.5" y="190.8" width="624.1" height="9.5" fill="#fdfdfd"/><rect x="76" y="191.7" width="1" height="8.8" fill="#b4b4b4"/><rect x="77" y="193.3" width="1" height="7.2" fill="#b4b4b4"/><rect x="78" y="195.8" width="1" height="4.7" fill="#b4b4b4"/><rect x="79" y="191.8" width="1" height="8.7" fill="#b4b4b4"/><rect x="80" y="193.6" width="1" height="6.9" fill="#c4c4c4"/><rect x="81" y="195.1" width="1" height="5.4" fill="#c4c4c4"/><rect x="82" y="194.0" width="1" height="6.5" fill="#b4b4b4"/><rect x="83" y="191.9" width="1" height="8.6" fill="#b4b4b4"/><rect x="84" y="193.9" width="1" height="6.6" fill="#b4b4b4"/><rect x="85" y="194.7" width="1" height="5.8" fill="#b4b4b4"/><rect x="86" y="195.9" width="1" height="4.6" fill="#b4b4b4"/><rect x="87" y="196.1" width="1" height="4.4" fill="#c4c4c4"/><rect x="88" y="196.6" width="1" height="3.9" fill="#b4b4b4"/><rect x="89" y="198.1" width="1" height="2.4" fill="#b4b4b4"/><rect x="90" y="194.5" width="1" height="6.0" fill="#b4b4b4"/><rect x="91" y="195.2" width="1" height="5.3" fill="#b4b4b4"/><rect x="92" y="193.7" width="1" height="6.8" fill="#b4b4b4"/><rect x="93" y="196.4" width="1" height="4.1" fill="#b4b4b4"/><rect x="94" y="193.4" width="1" height="7.1" fill="#b4b4b4"/><rect x="95" y="194.1" width="1" height="6.4" fill="#b4b4b4"/><rect x="96" y="193.6" width="1" height="6.9" fill="#b4b4b4"/><rect x="97" y="194.8" width="1" height="5.7" fill="#c4c4c4"/><rect x="98" y="193.8" width="1" height="6.7" fill="#c4c4c4"/><rect x="99" y="194.6" width="1" height="5.9" fill="#b4b4b4"/><rect x="100" y="194.6" width="1" height="5.9" fill="#b4b4b4"/><rect x="101" y="194.6" width="1" height="5.9" fill="#b4b4b4"/><rect x="102" y="197.3" width="1" height="3.2" fill="#b4b4b4"/><rect x="103" y="194.5" width="1" height="6.0" fill="#b4b4b4"/><rect x="104" y="196.4" width="1" height="4.1" fill="#c4c4c4"/><rect x="105" y="198.2" width="1" height="2.3" fill="#b4b4b4"/><rect x="106" y="193.3" width="1" height="7.2" fill="#b4b4b4"/><rect x="107" y="196.4" width="1" height="4.1" fill="#b4b4b4"/><rect x="108" y="194.7" width="1" height="5.8" fill="#b4b4b4"/><rect x="109" y="195.2" width="1" height="5.3" fill="#b4b4b4"/><rect x="110" y="195.5" width="1" height="5.0" fill="#b4b4b4"/><rect x="111" y="197.7" width="1" height="2.8" fill="#b4b4b4"/><rect x="112" y="196.2" width="1" height="4.3" fill="#b4b4b4"/><rect x="113" y="194.5" width="1" height="6.0" fill="#b4b4b4"/><rect x="114" y="192.2" width="1" height="8.3" fill="#b4b4b4"/><rect x="115" y="195.0" width="1" height="5.5" fill="#b4b4b4"/><rect x="116" y="194.1" width="1" height="6.4" fill="#b4b4b4"/><rect x="117" y="192.5" width="1" height="8.0" fill="#b4b4b4"/><rect x="118" y="190.3" width="1" height="10.2" fill="#b4b4b4"/><rect x="119" y="197.6" width="1" height="2.9" fill="#b4b4b4"/><rect x="120" y="195.5" width="1" height="5.0" fill="#b4b4b4"/><rect x="121" y="193.4" width="1" height="7.1" fill="#b4b4b4"/><rect x="122" y="194.3" width="1" height="6.2" fill="#b4b4b4"/><rect x="123" y="194.6" width="1" height="5.9" fill="#b4b4b4"/><rect x="124" y="196.7" width="1" height="3.8" fill="#b4b4b4"/><rect x="125" y="191.4" width="1" height="9.1" fill="#b4b4b4"/><rect x="126" y="197.0" width="1" height="3.5" fill="#b4b4b4"/><rect x="127" y="196.6" width="1" height="3.9" fill="#b4b4b4"/><rect x="128" y="194.8" width="1" height="5.7" fill="#b4b4b4"/><rect x="129" y="194.9" width="1" height="5.6" fill="#b4b4b4"/><rect x="130" y="194.1" width="1" height="6.4" fill="#b4b4b4"/><rect x="131" y="195.0" width="1" height="5.5" fill="#b4b4b4"/><rect x="132" y="195.8" width="1" height="4.7" fill="#b4b4b4"/><rect x="133" y="190.7" width="1" height="9.8" fill="#b4b4b4"/><rect x="134" y="196.9" width="1" height="3.6" fill="#b4b4b4"/><rect x="135" y="198.4" width="1" height="2.1" fill="#b4b4b4"/><rect x="136" y="197.6" width="1" height="2.9" fill="#b4b4b4"/><rect x="137" y="195.8" width="1" height="4.7" fill="#b4b4b4"/><rect x="138" y="197.8" width="1" height="2.7" fill="#b4b4b4"/><rect x="139" y="194.6" width="1" height="5.9" fill="#b4b4b4"/><rect x="140" y="196.6" width="1" height="3.9" fill="#b4b4b4"/><rect x="141" y="194.5" width="1" height="6.0" fill="#b4b4b4"/><rect x="142" y="192.5" width="1" height="8.0" fill="#b4b4b4"/><rect x="143" y="195.0" width="1" height="5.5" fill="#b4b4b4"/><rect x="144" y="193.0" width="1" height="7.5" fill="#b4b4b4"/><rect x="145" y="194.9" width="1" height="5.6" fill="#b4b4b4"/><rect x="146" y="194.8" width="1" height="5.7" fill="#b4b4b4"/><rect x="147" y="197.2" width="1" height="3.3" fill="#b4b4b4"/><rect x="148" y="199.4" width="1" height="1.1" fill="#b4b4b4"/><rect x="149" y="197.0" width="1" height="3.5" fill="#b4b4b4"/><rect x="150" y="198.9" width="1" height="1.6" fill="#b4b4b4"/><rect x="151" y="192.9" width="1" height="7.6" fill="#b4b4b4"/><rect x="155" y="196.3" width="1" height="4.2" fill="#b4b4b4"/><rect x="156" y="198.2" width="1" height="2.3" fill="#b4b4b4"/><rect x="157" y="196.9" width="1" height="3.6" fill="#b4b4b4"/><rect x="158" y="197.1" width="1" height="3.4" fill="#b4b4b4"/><rect x="159" y="196.0" width="1" height="4.5" fill="#b4b4b4"/><rect x="160" y="196.1" width="1" height="4.4" fill="#b4b4b4"/><rect x="161" y="197.9" width="1" height="2.6" fill="#b4b4b4"/><rect x="162" y="194.8" width="1" height="5.7" fill="#b4b4b4"/><rect x="163" y="196.7" width="1" height="3.8" fill="#b4b4b4"/><rect x="164" y="195.5" width="1" height="5.0" fill="#b4b4b4"/><rect x="165" y="195.4" width="1" height="5.1" fill="#b4b4b4"/><rect x="166" y="196.9" width="1" height="3.6" fill="#b4b4b4"/><rect x="167" y="197.4" width="1" height="3.1" fill="#b4b4b4"/><rect x="168" y="193.1" width="1" height="7.4" fill="#b4b4b4"/><rect x="169" y="195.8" width="1" height="4.7" fill="#b4b4b4"/><rect x="170" y="195.2" width="1" height="5.3" fill="#b4b4b4"/><path d="M171.5,200.5 L171.5,196.5 L172.3,195 L173,197.5 L174.5,199.3 L175.8,199.8 L176,200.5 Z" fill="#c41a1a"/><rect x="584" y="197.2" width="1" height="3.3" fill="#b4b4b4"/><rect x="585" y="196.7" width="1" height="3.8" fill="#b4b4b4"/><rect x="586" y="194.7" width="1" height="5.8" fill="#b4b4b4"/><rect x="587" y="192.4" width="1" height="8.1" fill="#b4b4b4"/><rect x="588" y="195.9" width="1" height="4.6" fill="#b4b4b4"/><rect x="589" y="195.9" width="1" height="4.6" fill="#b4b4b4"/><rect x="590" y="194.3" width="1" height="6.2" fill="#b4b4b4"/><rect x="591" y="194.2" width="1" height="6.3" fill="#b4b4b4"/><rect x="592" y="194.8" width="1" height="5.7" fill="#b4b4b4"/><rect x="593" y="196.1" width="1" height="4.4" fill="#b4b4b4"/><rect x="594" y="192.7" width="1" height="7.8" fill="#b4b4b4"/><rect x="595" y="195.9" width="1" height="4.6" fill="#b4b4b4"/><rect x="596" y="191.5" width="1" height="9.0" fill="#b4b4b4"/><rect x="597" y="194.2" width="1" height="6.3" fill="#b4b4b4"/><rect x="598" y="195.6" width="1" height="4.9" fill="#c4c4c4"/><rect x="599" y="198.2" width="1" height="2.3" fill="#c4c4c4"/><rect x="600" y="194.9" width="1" height="5.6" fill="#c4c4c4"/><rect x="601" y="195.4" width="1" height="5.1" fill="#c4c4c4"/><rect x="602" y="192.3" width="1" height="8.2" fill="#b4b4b4"/><rect x="603" y="195.3" width="1" height="5.2" fill="#b4b4b4"/><rect x="604" y="194.3" width="1" height="6.2" fill="#b4b4b4"/><rect x="605" y="194.5" width="1" height="6.0" fill="#b4b4b4"/><rect x="606" y="195.9" width="1" height="4.6" fill="#b4b4b4"/><rect x="607" y="193.0" width="1" height="7.5" fill="#b4b4b4"/><rect x="608" y="193.5" width="1" height="7.0" fill="#b4b4b4"/><rect x="609" y="195.8" width="1" height="4.7" fill="#b4b4b4"/><rect x="610" y="196.0" width="1" height="4.5" fill="#b4b4b4"/><rect x="611" y="197.3" width="1" height="3.2" fill="#c4c4c4"/><rect x="612" y="193.0" width="1" height="7.5" fill="#b4b4b4"/><rect x="613" y="199.7" width="1" height="0.8" fill="#b4b4b4"/><rect x="614" y="195.0" width="1" height="5.5" fill="#b4b4b4"/><rect x="615" y="195.5" width="1" height="5.0" fill="#b4b4b4"/><rect x="616" y="194.9" width="1" height="5.6" fill="#b4b4b4"/><rect x="617" y="196.4" width="1" height="4.1" fill="#b4b4b4"/><rect x="618" y="193.4" width="1" height="7.1" fill="#b4b4b4"/><rect x="619" y="196.7" width="1" height="3.8" fill="#b4b4b4"/><rect x="620" y="195.9" width="1" height="4.6" fill="#b4b4b4"/><rect x="621" y="193.6" width="1" height="6.9" fill="#b4b4b4"/><rect x="622" y="193.4" width="1" height="7.1" fill="#b4b4b4"/><rect x="623" y="198.7" width="1" height="1.8" fill="#b4b4b4"/><rect x="624" y="194.3" width="1" height="6.2" fill="#b4b4b4"/><rect x="625" y="196.2" width="1" height="4.3" fill="#b4b4b4"/><rect x="626" y="194.9" width="1" height="5.6" fill="#b4b4b4"/><rect x="627" y="197.0" width="1" height="3.5" fill="#b4b4b4"/><rect x="628" y="193.7" width="1" height="6.8" fill="#b4b4b4"/><rect x="629" y="196.4" width="1" height="4.1" fill="#b4b4b4"/><rect x="630" y="196.6" width="1" height="3.9" fill="#b4b4b4"/><rect x="631" y="197.1" width="1" height="3.4" fill="#b4b4b4"/><rect x="632" y="197.4" width="1" height="3.1" fill="#c4c4c4"/><rect x="633" y="193.9" width="1" height="6.6" fill="#b4b4b4"/><rect x="634" y="190.9" width="1" height="9.6" fill="#c4c4c4"/><rect x="635" y="195.8" width="1" height="4.7" fill="#b4b4b4"/><rect x="636" y="194.2" width="1" height="6.3" fill="#b4b4b4"/><rect x="637" y="194.8" width="1" height="5.7" fill="#b4b4b4"/><rect x="638" y="194.4" width="1" height="6.1" fill="#b4b4b4"/><rect x="639" y="191.3" width="1" height="9.2" fill="#b4b4b4"/><rect x="640" y="194.8" width="1" height="5.7" fill="#b4b4b4"/><rect x="641" y="194.9" width="1" height="5.6" fill="#b4b4b4"/><rect x="642" y="193.6" width="1" height="6.9" fill="#b4b4b4"/><rect x="643" y="199.6" width="1" height="0.9" fill="#c4c4c4"/><rect x="644" y="196.3" width="1" height="4.2" fill="#b4b4b4"/><rect x="645" y="195.0" width="1" height="5.5" fill="#b4b4b4"/><rect x="646" y="193.4" width="1" height="7.1" fill="#b4b4b4"/><rect x="647" y="194.9" width="1" height="5.6" fill="#b4b4b4"/><rect x="648" y="196.0" width="1" height="4.5" fill="#b4b4b4"/><rect x="649" y="192.4" width="1" height="8.1" fill="#b4b4b4"/><rect x="650" y="195.6" width="1" height="4.9" fill="#b4b4b4"/><rect x="651" y="194.6" width="1" height="5.9" fill="#b4b4b4"/><rect x="652" y="193.0" width="1" height="7.5" fill="#b4b4b4"/><rect x="653" y="189.5" width="1" height="11.0" fill="#b4b4b4"/><rect x="654" y="193.3" width="1" height="7.2" fill="#b4b4b4"/><rect x="655" y="196.4" width="1" height="4.1" fill="#b4b4b4"/><rect x="656" y="193.1" width="1" height="7.4" fill="#b4b4b4"/><rect x="657" y="191.6" width="1" height="8.9" fill="#b4b4b4"/><rect x="658" y="193.2" width="1" height="7.3" fill="#b4b4b4"/><rect x="659" y="192.5" width="1" height="8.0" fill="#b4b4b4"/><rect x="660" y="194.7" width="1" height="5.8" fill="#b4b4b4"/><rect x="661" y="193.9" width="1" height="6.6" fill="#b4b4b4"/><rect x="662" y="192.0" width="1" height="8.5" fill="#b4b4b4"/><rect x="663" y="195.5" width="1" height="5.0" fill="#b4b4b4"/><rect x="664" y="196.2" width="1" height="4.3" fill="#b4b4b4"/><rect x="665" y="197.3" width="1" height="3.2" fill="#b4b4b4"/><rect x="666" y="194.0" width="1" height="6.5" fill="#b4b4b4"/><rect x="667" y="194.8" width="1" height="5.7" fill="#b4b4b4"/><rect x="668" y="191.9" width="1" height="8.6" fill="#b4b4b4"/><rect x="669" y="196.3" width="1" height="4.2" fill="#c4c4c4"/><rect x="670" y="196.6" width="1" height="3.9" fill="#b4b4b4"/><rect x="671" y="196.8" width="1" height="3.7" fill="#b4b4b4"/><rect x="672" y="193.7" width="1" height="6.8" fill="#b4b4b4"/><rect x="673" y="194.0" width="1" height="6.5" fill="#b4b4b4"/><rect x="674" y="197.8" width="1" height="2.7" fill="#c4c4c4"/><rect x="675" y="189.5" width="1" height="11.0" fill="#b4b4b4"/><rect x="676" y="195.6" width="1" height="4.9" fill="#c4c4c4"/><rect x="677" y="196.1" width="1" height="4.4" fill="#b4b4b4"/><rect x="678" y="193.2" width="1" height="7.3" fill="#b4b4b4"/><rect x="679" y="196.6" width="1" height="3.9" fill="#b4b4b4"/><rect x="680" y="195.1" width="1" height="5.4" fill="#b4b4b4"/><rect x="681" y="194.3" width="1" height="6.2" fill="#b4b4b4"/><rect x="682" y="195.6" width="1" height="4.9" fill="#b4b4b4"/><rect x="683" y="197.2" width="1" height="3.3" fill="#b4b4b4"/><rect x="684" y="196.6" width="1" height="3.9" fill="#c4c4c4"/><rect x="685" y="193.1" width="1" height="7.4" fill="#c4c4c4"/><rect x="686" y="193.8" width="1" height="6.7" fill="#c4c4c4"/><rect x="687" y="194.5" width="1" height="6.0" fill="#b4b4b4"/><rect x="688" y="194.5" width="1" height="6.0" fill="#b4b4b4"/><rect x="689" y="195.4" width="1" height="5.1" fill="#b4b4b4"/><rect x="690" y="194.2" width="1" height="6.3" fill="#b4b4b4"/><rect x="691" y="196.2" width="1" height="4.3" fill="#b4b4b4"/><rect x="692" y="195.8" width="1" height="4.7" fill="#b4b4b4"/><rect x="693" y="195.5" width="1" height="5.0" fill="#c4c4c4"/><rect x="694" y="191.9" width="1" height="8.6" fill="#b4b4b4"/><rect x="695" y="194.8" width="1" height="5.7" fill="#b4b4b4"/><rect x="696" y="196.8" width="1" height="3.7" fill="#b4b4b4"/><rect x="697" y="194.6" width="1" height="5.9" fill="#b4b4b4"/><rect x="698" y="193.7" width="1" height="6.8" fill="#b4b4b4"/><rect x="583.8" y="196" width="1.3" height="4.5" fill="#5050f0"/><rect x="614.8" y="195.5" width="1.3" height="5" fill="#5050f0"/><rect x="79.8" y="196" width="1.1" height="4.5" fill="#22b422" fill-opacity="0.75"/><rect x="76" y="191.6" width="3" height="1.6" fill="#999"/><rect x="80" y="191.6" width="4" height="1.6" fill="#999"/><rect x="75.5" y="200.2" width="624.1" height="0.7" fill="#d0d0d0"/><g fill="#e2e2e2"><rect x="76" y="206.00" width="2" height="0.96"/><rect x="79" y="206.00" width="55" height="0.96"/><rect x="135" y="206.00" width="17" height="0.96"/><rect x="154" y="206.00" width="21" height="0.96"/><rect x="583" y="206.00" width="4" height="0.96"/><rect x="588" y="206.00" width="24" height="0.96"/><rect x="613" y="206.00" width="11" height="0.96"/><rect x="625" y="206.00" width="12" height="0.96"/><rect x="638" y="206.00" width="3" height="0.96"/><rect x="642" y="206.00" width="36" height="0.96"/><rect x="679" y="206.00" width="21" height="0.96"/><rect x="76" y="209.66" width="33" height="0.96"/><rect x="110" y="209.66" width="24" height="0.96"/><rect x="135" y="209.66" width="17" height="0.96"/><rect x="155" y="209.66" width="20" height="0.96"/><rect x="583" y="209.66" width="4" height="0.96"/><rect x="588" y="209.66" width="24" height="0.96"/><rect x="613" y="209.66" width="56" height="0.96"/><rect x="670" y="209.66" width="3" height="0.96"/><rect x="674" y="209.66" width="4" height="0.96"/><rect x="679" y="209.66" width="11" height="0.96"/><rect x="691" y="209.66" width="9" height="0.96"/><rect x="76" y="213.32" width="33" height="0.96"/><rect x="110" y="213.32" width="13" height="0.96"/><rect x="124" y="213.32" width="1" height="0.96"/><rect x="126" y="213.32" width="26" height="0.96"/><rect x="155" y="213.32" width="20" height="0.96"/><rect x="583" y="213.32" width="40" height="0.96"/><rect x="624" y="213.32" width="34" height="0.96"/><rect x="659" y="213.32" width="10" height="0.96"/><rect x="670" y="213.32" width="3" height="0.96"/><rect x="674" y="213.32" width="16" height="0.96"/><rect x="691" y="213.32" width="9" height="0.96"/><rect x="76" y="216.98" width="31" height="0.96"/><rect x="108" y="216.98" width="15" height="0.96"/><rect x="124" y="216.98" width="1" height="0.96"/><rect x="126" y="216.98" width="5" height="0.96"/><rect x="132" y="216.98" width="3" height="0.96"/><rect x="136" y="216.98" width="10" height="0.96"/><rect x="147" y="216.98" width="5" height="0.96"/><rect x="154" y="216.98" width="19" height="0.96"/><rect x="174" y="216.98" width="1" height="0.96"/><rect x="583" y="216.98" width="5" height="0.96"/><rect x="589" y="216.98" width="11" height="0.96"/><rect x="601" y="216.98" width="22" height="0.96"/><rect x="624" y="216.98" width="26" height="0.96"/><rect x="651" y="216.98" width="7" height="0.96"/><rect x="659" y="216.98" width="8" height="0.96"/><rect x="668" y="216.98" width="32" height="0.96"/><rect x="76" y="220.64" width="13" height="0.96"/><rect x="90" y="220.64" width="17" height="0.96"/><rect x="108" y="220.64" width="15" height="0.96"/><rect x="124" y="220.64" width="3" height="0.96"/><rect x="128" y="220.64" width="3" height="0.96"/><rect x="132" y="220.64" width="3" height="0.96"/><rect x="136" y="220.64" width="10" height="0.96"/><rect x="147" y="220.64" width="5" height="0.96"/><rect x="154" y="220.64" width="2" height="0.96"/><rect x="157" y="220.64" width="11" height="0.96"/><rect x="170" y="220.64" width="2" height="0.96"/><rect x="174" y="220.64" width="1" height="0.96"/><rect x="583" y="220.64" width="5" height="0.96"/><rect x="589" y="220.64" width="11" height="0.96"/><rect x="601" y="220.64" width="2" height="0.96"/><rect x="604" y="220.64" width="22" height="0.96"/><rect x="627" y="220.64" width="23" height="0.96"/><rect x="651" y="220.64" width="16" height="0.96"/><rect x="668" y="220.64" width="29" height="0.96"/><rect x="698" y="220.64" width="2" height="0.96"/><rect x="76" y="224.30" width="2" height="0.96"/><rect x="80" y="224.30" width="2" height="0.96"/><rect x="85" y="224.30" width="1" height="0.96"/><rect x="87" y="224.30" width="2" height="0.96"/><rect x="90" y="224.30" width="5" height="0.96"/><rect x="96" y="224.30" width="8" height="0.96"/><rect x="105" y="224.30" width="2" height="0.96"/><rect x="108" y="224.30" width="2" height="0.96"/><rect x="111" y="224.30" width="3" height="0.96"/><rect x="115" y="224.30" width="1" height="0.96"/><rect x="120" y="224.30" width="3" height="0.96"/><rect x="124" y="224.30" width="2" height="0.96"/><rect x="128" y="224.30" width="1" height="0.96"/><rect x="130" y="224.30" width="12" height="0.96"/><rect x="143" y="224.30" width="2" height="0.96"/><rect x="146" y="224.30" width="6" height="0.96"/><rect x="154" y="224.30" width="2" height="0.96"/><rect x="157" y="224.30" width="9" height="0.96"/><rect x="170" y="224.30" width="2" height="0.96"/><rect x="583" y="224.30" width="8" height="0.96"/><rect x="592" y="224.30" width="11" height="0.96"/><rect x="604" y="224.30" width="12" height="0.96"/><rect x="617" y="224.30" width="4" height="0.96"/><rect x="622" y="224.30" width="4" height="0.96"/><rect x="627" y="224.30" width="23" height="0.96"/><rect x="652" y="224.30" width="19" height="0.96"/><rect x="672" y="224.30" width="25" height="0.96"/><rect x="698" y="224.30" width="2" height="0.96"/><rect x="76" y="227.96" width="2" height="0.96"/><rect x="80" y="227.96" width="2" height="0.96"/><rect x="85" y="227.96" width="1" height="0.96"/><rect x="88" y="227.96" width="1" height="0.96"/><rect x="90" y="227.96" width="5" height="0.96"/><rect x="98" y="227.96" width="1" height="0.96"/><rect x="100" y="227.96" width="1" height="0.96"/><rect x="103" y="227.96" width="1" height="0.96"/><rect x="106" y="227.96" width="1" height="0.96"/><rect x="111" y="227.96" width="3" height="0.96"/><rect x="121" y="227.96" width="1" height="0.96"/><rect x="124" y="227.96" width="2" height="0.96"/><rect x="128" y="227.96" width="1" height="0.96"/><rect x="130" y="227.96" width="2" height="0.96"/><rect x="133" y="227.96" width="2" height="0.96"/><rect x="136" y="227.96" width="6" height="0.96"/><rect x="143" y="227.96" width="2" height="0.96"/><rect x="146" y="227.96" width="6" height="0.96"/><rect x="155" y="227.96" width="1" height="0.96"/><rect x="158" y="227.96" width="3" height="0.96"/><rect x="162" y="227.96" width="4" height="0.96"/><rect x="170" y="227.96" width="2" height="0.96"/><rect x="584" y="227.96" width="7" height="0.96"/><rect x="592" y="227.96" width="11" height="0.96"/><rect x="604" y="227.96" width="1" height="0.96"/><rect x="606" y="227.96" width="1" height="0.96"/><rect x="608" y="227.96" width="8" height="0.96"/><rect x="617" y="227.96" width="4" height="0.96"/><rect x="622" y="227.96" width="26" height="0.96"/><rect x="652" y="227.96" width="1" height="0.96"/><rect x="654" y="227.96" width="13" height="0.96"/><rect x="669" y="227.96" width="2" height="0.96"/><rect x="674" y="227.96" width="5" height="0.96"/><rect x="681" y="227.96" width="5" height="0.96"/><rect x="687" y="227.96" width="11" height="0.96"/><rect x="699" y="227.96" width="1" height="0.96"/><rect x="76" y="231.62" width="2" height="0.96"/><rect x="81" y="231.62" width="1" height="0.96"/><rect x="84" y="231.62" width="3" height="0.96"/><rect x="88" y="231.62" width="1" height="0.96"/><rect x="90" y="231.62" width="2" height="0.96"/><rect x="93" y="231.62" width="2" height="0.96"/><rect x="103" y="231.62" width="1" height="0.96"/><rect x="111" y="231.62" width="4" height="0.96"/><rect x="116" y="231.62" width="1" height="0.96"/><rect x="119" y="231.62" width="1" height="0.96"/><rect x="121" y="231.62" width="1" height="0.96"/><rect x="124" y="231.62" width="1" height="0.96"/><rect x="126" y="231.62" width="1" height="0.96"/><rect x="128" y="231.62" width="2" height="0.96"/><rect x="131" y="231.62" width="1" height="0.96"/><rect x="133" y="231.62" width="2" height="0.96"/><rect x="136" y="231.62" width="1" height="0.96"/><rect x="138" y="231.62" width="1" height="0.96"/><rect x="140" y="231.62" width="2" height="0.96"/><rect x="143" y="231.62" width="3" height="0.96"/><rect x="147" y="231.62" width="3" height="0.96"/><rect x="155" y="231.62" width="1" height="0.96"/><rect x="159" y="231.62" width="1" height="0.96"/><rect x="162" y="231.62" width="4" height="0.96"/><rect x="170" y="231.62" width="2" height="0.96"/><rect x="585" y="231.62" width="1" height="0.96"/><rect x="587" y="231.62" width="9" height="0.96"/><rect x="597" y="231.62" width="3" height="0.96"/><rect x="601" y="231.62" width="2" height="0.96"/><rect x="604" y="231.62" width="1" height="0.96"/><rect x="606" y="231.62" width="1" height="0.96"/><rect x="609" y="231.62" width="1" height="0.96"/><rect x="611" y="231.62" width="3" height="0.96"/><rect x="615" y="231.62" width="2" height="0.96"/><rect x="618" y="231.62" width="2" height="0.96"/><rect x="622" y="231.62" width="8" height="0.96"/><rect x="631" y="231.62" width="10" height="0.96"/><rect x="643" y="231.62" width="1" height="0.96"/><rect x="645" y="231.62" width="3" height="0.96"/><rect x="651" y="231.62" width="2" height="0.96"/><rect x="654" y="231.62" width="3" height="0.96"/><rect x="658" y="231.62" width="2" height="0.96"/><rect x="661" y="231.62" width="6" height="0.96"/><rect x="669" y="231.62" width="3" height="0.96"/><rect x="674" y="231.62" width="5" height="0.96"/><rect x="681" y="231.62" width="5" height="0.96"/><rect x="687" y="231.62" width="1" height="0.96"/><rect x="690" y="231.62" width="8" height="0.96"/><rect x="699" y="231.62" width="1" height="0.96"/><rect x="76" y="235.28" width="2" height="0.96"/><rect x="84" y="235.28" width="5" height="0.96"/><rect x="90" y="235.28" width="2" height="0.96"/><rect x="94" y="235.28" width="1" height="0.96"/><rect x="111" y="235.28" width="2" height="0.96"/><rect x="114" y="235.28" width="1" height="0.96"/><rect x="116" y="235.28" width="1" height="0.96"/><rect x="120" y="235.28" width="3" height="0.96"/><rect x="124" y="235.28" width="1" height="0.96"/><rect x="126" y="235.28" width="1" height="0.96"/><rect x="128" y="235.28" width="2" height="0.96"/><rect x="131" y="235.28" width="1" height="0.96"/><rect x="134" y="235.28" width="1" height="0.96"/><rect x="136" y="235.28" width="1" height="0.96"/><rect x="138" y="235.28" width="1" height="0.96"/><rect x="140" y="235.28" width="2" height="0.96"/><rect x="144" y="235.28" width="2" height="0.96"/><rect x="147" y="235.28" width="2" height="0.96"/><rect x="155" y="235.28" width="1" height="0.96"/><rect x="159" y="235.28" width="1" height="0.96"/><rect x="162" y="235.28" width="1" height="0.96"/><rect x="164" y="235.28" width="2" height="0.96"/><rect x="169" y="235.28" width="3" height="0.96"/><rect x="583" y="235.28" width="1" height="0.96"/><rect x="585" y="235.28" width="1" height="0.96"/><rect x="587" y="235.28" width="4" height="0.96"/><rect x="592" y="235.28" width="2" height="0.96"/><rect x="595" y="235.28" width="1" height="0.96"/><rect x="599" y="235.28" width="1" height="0.96"/><rect x="605" y="235.28" width="2" height="0.96"/><rect x="609" y="235.28" width="1" height="0.96"/><rect x="615" y="235.28" width="1" height="0.96"/><rect x="619" y="235.28" width="1" height="0.96"/><rect x="622" y="235.28" width="2" height="0.96"/><rect x="625" y="235.28" width="4" height="0.96"/><rect x="633" y="235.28" width="8" height="0.96"/><rect x="643" y="235.28" width="1" height="0.96"/><rect x="645" y="235.28" width="4" height="0.96"/><rect x="652" y="235.28" width="5" height="0.96"/><rect x="661" y="235.28" width="6" height="0.96"/><rect x="668" y="235.28" width="12" height="0.96"/><rect x="681" y="235.28" width="7" height="0.96"/><rect x="690" y="235.28" width="5" height="0.96"/><rect x="696" y="235.28" width="4" height="0.96"/><rect x="76" y="238.94" width="3" height="0.96"/><rect x="85" y="238.94" width="2" height="0.96"/><rect x="88" y="238.94" width="1" height="0.96"/><rect x="90" y="238.94" width="2" height="0.96"/><rect x="112" y="238.94" width="1" height="0.96"/><rect x="114" y="238.94" width="1" height="0.96"/><rect x="121" y="238.94" width="2" height="0.96"/><rect x="124" y="238.94" width="3" height="0.96"/><rect x="129" y="238.94" width="3" height="0.96"/><rect x="134" y="238.94" width="1" height="0.96"/><rect x="136" y="238.94" width="1" height="0.96"/><rect x="138" y="238.94" width="1" height="0.96"/><rect x="140" y="238.94" width="2" height="0.96"/><rect x="144" y="238.94" width="2" height="0.96"/><rect x="147" y="238.94" width="2" height="0.96"/><rect x="155" y="238.94" width="1" height="0.96"/><rect x="158" y="238.94" width="3" height="0.96"/><rect x="164" y="238.94" width="3" height="0.96"/><rect x="169" y="238.94" width="1" height="0.96"/><rect x="171" y="238.94" width="1" height="0.96"/><rect x="584" y="238.94" width="1" height="0.96"/><rect x="586" y="238.94" width="5" height="0.96"/><rect x="592" y="238.94" width="2" height="0.96"/><rect x="595" y="238.94" width="1" height="0.96"/><rect x="599" y="238.94" width="2" height="0.96"/><rect x="608" y="238.94" width="3" height="0.96"/><rect x="619" y="238.94" width="1" height="0.96"/><rect x="622" y="238.94" width="1" height="0.96"/><rect x="625" y="238.94" width="1" height="0.96"/><rect x="627" y="238.94" width="2" height="0.96"/><rect x="630" y="238.94" width="1" height="0.96"/><rect x="633" y="238.94" width="3" height="0.96"/><rect x="637" y="238.94" width="1" height="0.96"/><rect x="643" y="238.94" width="1" height="0.96"/><rect x="647" y="238.94" width="2" height="0.96"/><rect x="653" y="238.94" width="5" height="0.96"/><rect x="660" y="238.94" width="2" height="0.96"/><rect x="663" y="238.94" width="4" height="0.96"/><rect x="668" y="238.94" width="1" height="0.96"/><rect x="670" y="238.94" width="1" height="0.96"/><rect x="672" y="238.94" width="17" height="0.96"/><rect x="690" y="238.94" width="1" height="0.96"/><rect x="692" y="238.94" width="2" height="0.96"/><rect x="696" y="238.94" width="4" height="0.96"/><rect x="76" y="242.60" width="3" height="0.96"/><rect x="81" y="242.60" width="1" height="0.96"/><rect x="85" y="242.60" width="2" height="0.96"/><rect x="88" y="242.60" width="1" height="0.96"/><rect x="90" y="242.60" width="2" height="0.96"/><rect x="93" y="242.60" width="1" height="0.96"/><rect x="112" y="242.60" width="3" height="0.96"/><rect x="122" y="242.60" width="1" height="0.96"/><rect x="124" y="242.60" width="3" height="0.96"/><rect x="130" y="242.60" width="2" height="0.96"/><rect x="134" y="242.60" width="1" height="0.96"/><rect x="136" y="242.60" width="1" height="0.96"/><rect x="140" y="242.60" width="2" height="0.96"/><rect x="144" y="242.60" width="4" height="0.96"/><rect x="155" y="242.60" width="1" height="0.96"/><rect x="159" y="242.60" width="2" height="0.96"/><rect x="164" y="242.60" width="2" height="0.96"/><rect x="169" y="242.60" width="1" height="0.96"/><rect x="171" y="242.60" width="1" height="0.96"/><rect x="584" y="242.60" width="1" height="0.96"/><rect x="586" y="242.60" width="1" height="0.96"/><rect x="588" y="242.60" width="3" height="0.96"/><rect x="592" y="242.60" width="1" height="0.96"/><rect x="595" y="242.60" width="1" height="0.96"/><rect x="598" y="242.60" width="3" height="0.96"/><rect x="608" y="242.60" width="5" height="0.96"/><rect x="614" y="242.60" width="1" height="0.96"/><rect x="619" y="242.60" width="1" height="0.96"/><rect x="622" y="242.60" width="1" height="0.96"/><rect x="625" y="242.60" width="1" height="0.96"/><rect x="627" y="242.60" width="2" height="0.96"/><rect x="630" y="242.60" width="1" height="0.96"/><rect x="632" y="242.60" width="3" height="0.96"/><rect x="651" y="242.60" width="1" height="0.96"/><rect x="654" y="242.60" width="1" height="0.96"/><rect x="657" y="242.60" width="2" height="0.96"/><rect x="660" y="242.60" width="2" height="0.96"/><rect x="663" y="242.60" width="4" height="0.96"/><rect x="668" y="242.60" width="1" height="0.96"/><rect x="670" y="242.60" width="1" height="0.96"/><rect x="674" y="242.60" width="1" height="0.96"/><rect x="678" y="242.60" width="11" height="0.96"/><rect x="692" y="242.60" width="1" height="0.96"/><rect x="696" y="242.60" width="4" height="0.96"/><rect x="76" y="246.26" width="3" height="0.96"/><rect x="81" y="246.26" width="1" height="0.96"/><rect x="84" y="246.26" width="5" height="0.96"/><rect x="90" y="246.26" width="2" height="0.96"/><rect x="93" y="246.26" width="1" height="0.96"/><rect x="125" y="246.26" width="2" height="0.96"/><rect x="134" y="246.26" width="1" height="0.96"/><rect x="136" y="246.26" width="1" height="0.96"/><rect x="140" y="246.26" width="1" height="0.96"/><rect x="145" y="246.26" width="2" height="0.96"/><rect x="165" y="246.26" width="1" height="0.96"/><rect x="169" y="246.26" width="2" height="0.96"/><rect x="584" y="246.26" width="1" height="0.96"/><rect x="586" y="246.26" width="1" height="0.96"/><rect x="588" y="246.26" width="3" height="0.96"/><rect x="592" y="246.26" width="1" height="0.96"/><rect x="595" y="246.26" width="1" height="0.96"/><rect x="599" y="246.26" width="2" height="0.96"/><rect x="608" y="246.26" width="2" height="0.96"/><rect x="612" y="246.26" width="1" height="0.96"/><rect x="622" y="246.26" width="1" height="0.96"/><rect x="625" y="246.26" width="4" height="0.96"/><rect x="630" y="246.26" width="1" height="0.96"/><rect x="633" y="246.26" width="2" height="0.96"/><rect x="636" y="246.26" width="1" height="0.96"/><rect x="652" y="246.26" width="1" height="0.96"/><rect x="654" y="246.26" width="1" height="0.96"/><rect x="657" y="246.26" width="1" height="0.96"/><rect x="660" y="246.26" width="2" height="0.96"/><rect x="664" y="246.26" width="3" height="0.96"/><rect x="669" y="246.26" width="2" height="0.96"/><rect x="679" y="246.26" width="1" height="0.96"/><rect x="681" y="246.26" width="5" height="0.96"/><rect x="687" y="246.26" width="2" height="0.96"/><rect x="694" y="246.26" width="1" height="0.96"/><rect x="698" y="246.26" width="1" height="0.96"/><rect x="77" y="249.92" width="2" height="0.96"/><rect x="81" y="249.92" width="1" height="0.96"/><rect x="84" y="249.92" width="5" height="0.96"/><rect x="136" y="249.92" width="1" height="0.96"/><rect x="138" y="249.92" width="1" height="0.96"/><rect x="140" y="249.92" width="1" height="0.96"/><rect x="145" y="249.92" width="2" height="0.96"/><rect x="165" y="249.92" width="1" height="0.96"/><rect x="169" y="249.92" width="1" height="0.96"/><rect x="584" y="249.92" width="1" height="0.96"/><rect x="586" y="249.92" width="1" height="0.96"/><rect x="588" y="249.92" width="3" height="0.96"/><rect x="595" y="249.92" width="1" height="0.96"/><rect x="599" y="249.92" width="2" height="0.96"/><rect x="608" y="249.92" width="1" height="0.96"/><rect x="627" y="249.92" width="2" height="0.96"/><rect x="630" y="249.92" width="1" height="0.96"/><rect x="633" y="249.92" width="1" height="0.96"/><rect x="636" y="249.92" width="1" height="0.96"/><rect x="652" y="249.92" width="1" height="0.96"/><rect x="654" y="249.92" width="2" height="0.96"/><rect x="657" y="249.92" width="1" height="0.96"/><rect x="664" y="249.92" width="1" height="0.96"/><rect x="669" y="249.92" width="2" height="0.96"/><rect x="677" y="249.92" width="1" height="0.96"/><rect x="679" y="249.92" width="1" height="0.96"/><rect x="681" y="249.92" width="5" height="0.96"/><rect x="687" y="249.92" width="1" height="0.96"/><rect x="81" y="253.58" width="1" height="0.96"/><rect x="84" y="253.58" width="5" height="0.96"/><rect x="138" y="253.58" width="4" height="0.96"/><rect x="146" y="253.58" width="2" height="0.96"/><rect x="584" y="253.58" width="1" height="0.96"/><rect x="586" y="253.58" width="1" height="0.96"/><rect x="588" y="253.58" width="3" height="0.96"/><rect x="608" y="253.58" width="1" height="0.96"/><rect x="627" y="253.58" width="2" height="0.96"/><rect x="630" y="253.58" width="1" height="0.96"/><rect x="632" y="253.58" width="2" height="0.96"/><rect x="651" y="253.58" width="2" height="0.96"/><rect x="654" y="253.58" width="2" height="0.96"/><rect x="657" y="253.58" width="1" height="0.96"/><rect x="677" y="253.58" width="3" height="0.96"/><rect x="682" y="253.58" width="1" height="0.96"/><rect x="685" y="253.58" width="1" height="0.96"/><rect x="687" y="253.58" width="1" height="0.96"/><rect x="85" y="257.24" width="4" height="0.96"/><rect x="140" y="257.24" width="2" height="0.96"/><rect x="584" y="257.24" width="1" height="0.96"/><rect x="588" y="257.24" width="1" height="0.96"/><rect x="590" y="257.24" width="1" height="0.96"/><rect x="627" y="257.24" width="2" height="0.96"/><rect x="633" y="257.24" width="2" height="0.96"/><rect x="652" y="257.24" width="1" height="0.96"/><rect x="654" y="257.24" width="2" height="0.96"/><rect x="657" y="257.24" width="1" height="0.96"/><rect x="679" y="257.24" width="1" height="0.96"/><rect x="682" y="257.24" width="1" height="0.96"/><rect x="685" y="257.24" width="1" height="0.96"/><rect x="687" y="257.24" width="1" height="0.96"/><rect x="85" y="260.90" width="4" height="0.96"/><rect x="136" y="260.90" width="1" height="0.96"/><rect x="141" y="260.90" width="1" height="0.96"/><rect x="587" y="260.90" width="2" height="0.96"/><rect x="652" y="260.90" width="1" height="0.96"/><rect x="654" y="260.90" width="1" height="0.96"/><rect x="680" y="260.90" width="6" height="0.96"/><rect x="687" y="260.90" width="1" height="0.96"/><rect x="81" y="264.56" width="1" height="0.96"/><rect x="84" y="264.56" width="4" height="0.96"/><rect x="91" y="264.56" width="1" height="0.96"/><rect x="141" y="264.56" width="1" height="0.96"/><rect x="588" y="264.56" width="1" height="0.96"/><rect x="678" y="264.56" width="1" height="0.96"/><rect x="682" y="264.56" width="6" height="0.96"/><rect x="81" y="268.22" width="1" height="0.96"/><rect x="85" y="268.22" width="2" height="0.96"/><rect x="682" y="268.22" width="5" height="0.96"/><rect x="682" y="271.88" width="2" height="0.96"/></g><g fill="#dadada"><rect x="92" y="203.30" width="1" height="2.7"/><rect x="145" y="203.30" width="1" height="2.7"/><rect x="162" y="203.30" width="1" height="2.7"/><rect x="165" y="203.30" width="1" height="2.7"/><rect x="618" y="203.30" width="1" height="2.7"/><rect x="635" y="203.30" width="1" height="2.7"/><rect x="648" y="203.30" width="1" height="2.7"/><rect x="659" y="203.30" width="1" height="2.7"/><rect x="672" y="203.30" width="1" height="2.7"/><rect x="683" y="203.30" width="1" height="2.7"/><rect x="90" y="206.96" width="1" height="2.7"/><rect x="130" y="206.96" width="1" height="2.7"/><rect x="159" y="206.96" width="1" height="2.7"/><rect x="594" y="206.96" width="1" height="2.7"/><rect x="609" y="206.96" width="1" height="2.7"/><rect x="620" y="206.96" width="1" height="2.7"/><rect x="625" y="206.96" width="1" height="2.7"/><rect x="640" y="206.96" width="1" height="2.7"/><rect x="650" y="206.96" width="1" height="2.7"/><rect x="655" y="206.96" width="1" height="2.7"/><rect x="657" y="206.96" width="1" height="2.7"/><rect x="670" y="206.96" width="1" height="2.7"/><rect x="77" y="210.62" width="1" height="2.7"/><rect x="110" y="210.62" width="1" height="2.7"/><rect x="117" y="210.62" width="1" height="2.7"/><rect x="141" y="210.62" width="1" height="2.7"/><rect x="594" y="210.62" width="1" height="2.7"/><rect x="617" y="210.62" width="1" height="2.7"/><rect x="631" y="210.62" width="1" height="2.7"/><rect x="641" y="210.62" width="1" height="2.7"/><rect x="665" y="210.62" width="1" height="2.7"/><rect x="78" y="214.28" width="1" height="2.7"/><rect x="117" y="214.28" width="1" height="2.7"/><rect x="138" y="214.28" width="1" height="2.7"/><rect x="146" y="214.28" width="1" height="2.7"/><rect x="158" y="214.28" width="1" height="2.7"/><rect x="589" y="214.28" width="1" height="2.7"/><rect x="597" y="214.28" width="1" height="2.7"/><rect x="611" y="214.28" width="1" height="2.7"/><rect x="639" y="214.28" width="1" height="2.7"/><rect x="645" y="214.28" width="1" height="2.7"/><rect x="664" y="214.28" width="1" height="2.7"/><rect x="688" y="214.28" width="1" height="2.7"/><rect x="697" y="214.28" width="1" height="2.7"/><rect x="84" y="217.94" width="1" height="2.7"/><rect x="114" y="217.94" width="1" height="2.7"/><rect x="120" y="217.94" width="1" height="2.7"/><rect x="130" y="217.94" width="1" height="2.7"/><rect x="584" y="217.94" width="1" height="2.7"/><rect x="598" y="217.94" width="1" height="2.7"/><rect x="603" y="217.94" width="1" height="2.7"/><rect x="623" y="217.94" width="1" height="2.7"/><rect x="638" y="217.94" width="1" height="2.7"/><rect x="664" y="217.94" width="2" height="2.7"/><rect x="687" y="217.94" width="1" height="2.7"/><rect x="76" y="221.60" width="1" height="2.7"/><rect x="110" y="221.60" width="1" height="2.7"/><rect x="143" y="221.60" width="1" height="2.7"/><rect x="583" y="221.60" width="1" height="2.7"/><rect x="630" y="221.60" width="1" height="2.7"/><rect x="676" y="221.60" width="1" height="2.7"/><rect x="699" y="221.60" width="1" height="2.7"/><rect x="135" y="225.26" width="1" height="2.7"/><rect x="594" y="225.26" width="1" height="2.7"/><rect x="648" y="225.26" width="1" height="2.7"/><rect x="654" y="225.26" width="1" height="2.7"/><rect x="657" y="228.92" width="1" height="2.7"/><rect x="689" y="228.92" width="1" height="2.7"/><rect x="656" y="232.58" width="1" height="2.7"/><rect x="686" y="232.58" width="2" height="2.7"/><rect x="684" y="236.24" width="1" height="2.7"/></g><g fill="#c8c8c8"><rect x="76" y="203.30" width="2" height="2.7"/><rect x="79" y="203.30" width="13" height="2.7"/><rect x="93" y="203.30" width="52" height="2.7"/><rect x="146" y="203.30" width="6" height="2.7"/><rect x="154" y="203.30" width="8" height="2.7"/><rect x="163" y="203.30" width="2" height="2.7"/><rect x="166" y="203.30" width="9" height="2.7"/><rect x="583" y="203.30" width="35" height="2.7"/><rect x="619" y="203.30" width="5" height="2.7"/><rect x="625" y="203.30" width="10" height="2.7"/><rect x="636" y="203.30" width="1" height="2.7"/><rect x="638" y="203.30" width="3" height="2.7"/><rect x="642" y="203.30" width="6" height="2.7"/><rect x="649" y="203.30" width="10" height="2.7"/><rect x="660" y="203.30" width="12" height="2.7"/><rect x="673" y="203.30" width="10" height="2.7"/><rect x="684" y="203.30" width="16" height="2.7"/><rect x="76" y="206.96" width="14" height="2.7"/><rect x="91" y="206.96" width="39" height="2.7"/><rect x="131" y="206.96" width="3" height="2.7"/><rect x="135" y="206.96" width="17" height="2.7"/><rect x="154" y="206.96" width="5" height="2.7"/><rect x="160" y="206.96" width="15" height="2.7"/><rect x="583" y="206.96" width="4" height="2.7"/><rect x="588" y="206.96" width="6" height="2.7"/><rect x="595" y="206.96" width="14" height="2.7"/><rect x="610" y="206.96" width="2" height="2.7"/><rect x="613" y="206.96" width="7" height="2.7"/><rect x="621" y="206.96" width="4" height="2.7"/><rect x="626" y="206.96" width="14" height="2.7"/><rect x="641" y="206.96" width="9" height="2.7"/><rect x="651" y="206.96" width="4" height="2.7"/><rect x="656" y="206.96" width="1" height="2.7"/><rect x="658" y="206.96" width="12" height="2.7"/><rect x="671" y="206.96" width="7" height="2.7"/><rect x="679" y="206.96" width="21" height="2.7"/><rect x="76" y="210.62" width="1" height="2.7"/><rect x="78" y="210.62" width="31" height="2.7"/><rect x="111" y="210.62" width="6" height="2.7"/><rect x="118" y="210.62" width="23" height="2.7"/><rect x="142" y="210.62" width="10" height="2.7"/><rect x="155" y="210.62" width="20" height="2.7"/><rect x="583" y="210.62" width="11" height="2.7"/><rect x="595" y="210.62" width="22" height="2.7"/><rect x="618" y="210.62" width="13" height="2.7"/><rect x="632" y="210.62" width="9" height="2.7"/><rect x="642" y="210.62" width="23" height="2.7"/><rect x="666" y="210.62" width="3" height="2.7"/><rect x="670" y="210.62" width="3" height="2.7"/><rect x="674" y="210.62" width="16" height="2.7"/><rect x="691" y="210.62" width="9" height="2.7"/><rect x="76" y="214.28" width="2" height="2.7"/><rect x="79" y="214.28" width="38" height="2.7"/><rect x="118" y="214.28" width="5" height="2.7"/><rect x="124" y="214.28" width="1" height="2.7"/><rect x="126" y="214.28" width="12" height="2.7"/><rect x="139" y="214.28" width="7" height="2.7"/><rect x="147" y="214.28" width="5" height="2.7"/><rect x="154" y="214.28" width="4" height="2.7"/><rect x="159" y="214.28" width="16" height="2.7"/><rect x="583" y="214.28" width="6" height="2.7"/><rect x="590" y="214.28" width="7" height="2.7"/><rect x="598" y="214.28" width="13" height="2.7"/><rect x="612" y="214.28" width="11" height="2.7"/><rect x="624" y="214.28" width="15" height="2.7"/><rect x="640" y="214.28" width="5" height="2.7"/><rect x="646" y="214.28" width="12" height="2.7"/><rect x="659" y="214.28" width="5" height="2.7"/><rect x="665" y="214.28" width="23" height="2.7"/><rect x="689" y="214.28" width="8" height="2.7"/><rect x="698" y="214.28" width="2" height="2.7"/><rect x="76" y="217.94" width="8" height="2.7"/><rect x="85" y="217.94" width="22" height="2.7"/><rect x="108" y="217.94" width="6" height="2.7"/><rect x="115" y="217.94" width="5" height="2.7"/><rect x="121" y="217.94" width="2" height="2.7"/><rect x="124" y="217.94" width="6" height="2.7"/><rect x="132" y="217.94" width="3" height="2.7"/><rect x="136" y="217.94" width="10" height="2.7"/><rect x="147" y="217.94" width="5" height="2.7"/><rect x="154" y="217.94" width="19" height="2.7"/><rect x="174" y="217.94" width="1" height="2.7"/><rect x="583" y="217.94" width="1" height="2.7"/><rect x="585" y="217.94" width="3" height="2.7"/><rect x="589" y="217.94" width="9" height="2.7"/><rect x="599" y="217.94" width="1" height="2.7"/><rect x="601" y="217.94" width="2" height="2.7"/><rect x="604" y="217.94" width="19" height="2.7"/><rect x="624" y="217.94" width="14" height="2.7"/><rect x="639" y="217.94" width="11" height="2.7"/><rect x="651" y="217.94" width="13" height="2.7"/><rect x="666" y="217.94" width="1" height="2.7"/><rect x="668" y="217.94" width="19" height="2.7"/><rect x="688" y="217.94" width="12" height="2.7"/><rect x="77" y="221.60" width="12" height="2.7"/><rect x="90" y="221.60" width="17" height="2.7"/><rect x="108" y="221.60" width="2" height="2.7"/><rect x="111" y="221.60" width="12" height="2.7"/><rect x="124" y="221.60" width="3" height="2.7"/><rect x="128" y="221.60" width="15" height="2.7"/><rect x="144" y="221.60" width="8" height="2.7"/><rect x="154" y="221.60" width="2" height="2.7"/><rect x="157" y="221.60" width="11" height="2.7"/><rect x="170" y="221.60" width="2" height="2.7"/><rect x="174" y="221.60" width="1" height="2.7"/><rect x="584" y="221.60" width="19" height="2.7"/><rect x="604" y="221.60" width="22" height="2.7"/><rect x="627" y="221.60" width="3" height="2.7"/><rect x="631" y="221.60" width="45" height="2.7"/><rect x="677" y="221.60" width="20" height="2.7"/><rect x="698" y="221.60" width="1" height="2.7"/><rect x="76" y="225.26" width="2" height="2.7"/><rect x="80" y="225.26" width="2" height="2.7"/><rect x="85" y="225.26" width="1" height="2.7"/><rect x="87" y="225.26" width="2" height="2.7"/><rect x="90" y="225.26" width="5" height="2.7"/><rect x="96" y="225.26" width="8" height="2.7"/><rect x="105" y="225.26" width="2" height="2.7"/><rect x="108" y="225.26" width="2" height="2.7"/><rect x="111" y="225.26" width="3" height="2.7"/><rect x="115" y="225.26" width="1" height="2.7"/><rect x="120" y="225.26" width="3" height="2.7"/><rect x="124" y="225.26" width="2" height="2.7"/><rect x="128" y="225.26" width="1" height="2.7"/><rect x="130" y="225.26" width="5" height="2.7"/><rect x="136" y="225.26" width="6" height="2.7"/><rect x="143" y="225.26" width="2" height="2.7"/><rect x="146" y="225.26" width="6" height="2.7"/><rect x="154" y="225.26" width="2" height="2.7"/><rect x="157" y="225.26" width="9" height="2.7"/><rect x="169" y="225.26" width="3" height="2.7"/><rect x="583" y="225.26" width="8" height="2.7"/><rect x="592" y="225.26" width="2" height="2.7"/><rect x="595" y="225.26" width="21" height="2.7"/><rect x="617" y="225.26" width="4" height="2.7"/><rect x="622" y="225.26" width="26" height="2.7"/><rect x="649" y="225.26" width="1" height="2.7"/><rect x="652" y="225.26" width="2" height="2.7"/><rect x="655" y="225.26" width="16" height="2.7"/><rect x="672" y="225.26" width="28" height="2.7"/><rect x="76" y="228.92" width="3" height="2.7"/><rect x="80" y="228.92" width="2" height="2.7"/><rect x="84" y="228.92" width="3" height="2.7"/><rect x="88" y="228.92" width="1" height="2.7"/><rect x="90" y="228.92" width="5" height="2.7"/><rect x="98" y="228.92" width="1" height="2.7"/><rect x="100" y="228.92" width="1" height="2.7"/><rect x="103" y="228.92" width="1" height="2.7"/><rect x="106" y="228.92" width="1" height="2.7"/><rect x="111" y="228.92" width="4" height="2.7"/><rect x="116" y="228.92" width="1" height="2.7"/><rect x="119" y="228.92" width="1" height="2.7"/><rect x="121" y="228.92" width="1" height="2.7"/><rect x="124" y="228.92" width="3" height="2.7"/><rect x="128" y="228.92" width="4" height="2.7"/><rect x="133" y="228.92" width="2" height="2.7"/><rect x="136" y="228.92" width="16" height="2.7"/><rect x="155" y="228.92" width="1" height="2.7"/><rect x="158" y="228.92" width="3" height="2.7"/><rect x="162" y="228.92" width="5" height="2.7"/><rect x="170" y="228.92" width="2" height="2.7"/><rect x="584" y="228.92" width="19" height="2.7"/><rect x="604" y="228.92" width="1" height="2.7"/><rect x="606" y="228.92" width="1" height="2.7"/><rect x="608" y="228.92" width="13" height="2.7"/><rect x="622" y="228.92" width="26" height="2.7"/><rect x="651" y="228.92" width="2" height="2.7"/><rect x="654" y="228.92" width="3" height="2.7"/><rect x="658" y="228.92" width="9" height="2.7"/><rect x="669" y="228.92" width="3" height="2.7"/><rect x="674" y="228.92" width="5" height="2.7"/><rect x="681" y="228.92" width="5" height="2.7"/><rect x="687" y="228.92" width="2" height="2.7"/><rect x="690" y="228.92" width="8" height="2.7"/><rect x="699" y="228.92" width="1" height="2.7"/><rect x="76" y="232.58" width="2" height="2.7"/><rect x="81" y="232.58" width="1" height="2.7"/><rect x="84" y="232.58" width="5" height="2.7"/><rect x="90" y="232.58" width="2" height="2.7"/><rect x="93" y="232.58" width="2" height="2.7"/><rect x="103" y="232.58" width="1" height="2.7"/><rect x="111" y="232.58" width="4" height="2.7"/><rect x="116" y="232.58" width="1" height="2.7"/><rect x="119" y="232.58" width="4" height="2.7"/><rect x="124" y="232.58" width="1" height="2.7"/><rect x="126" y="232.58" width="1" height="2.7"/><rect x="128" y="232.58" width="2" height="2.7"/><rect x="131" y="232.58" width="1" height="2.7"/><rect x="133" y="232.58" width="2" height="2.7"/><rect x="136" y="232.58" width="1" height="2.7"/><rect x="138" y="232.58" width="1" height="2.7"/><rect x="140" y="232.58" width="2" height="2.7"/><rect x="143" y="232.58" width="3" height="2.7"/><rect x="147" y="232.58" width="3" height="2.7"/><rect x="155" y="232.58" width="1" height="2.7"/><rect x="159" y="232.58" width="1" height="2.7"/><rect x="161" y="232.58" width="5" height="2.7"/><rect x="169" y="232.58" width="3" height="2.7"/><rect x="583" y="232.58" width="1" height="2.7"/><rect x="585" y="232.58" width="1" height="2.7"/><rect x="587" y="232.58" width="9" height="2.7"/><rect x="597" y="232.58" width="3" height="2.7"/><rect x="601" y="232.58" width="6" height="2.7"/><rect x="609" y="232.58" width="1" height="2.7"/><rect x="611" y="232.58" width="3" height="2.7"/><rect x="615" y="232.58" width="2" height="2.7"/><rect x="618" y="232.58" width="2" height="2.7"/><rect x="622" y="232.58" width="8" height="2.7"/><rect x="631" y="232.58" width="10" height="2.7"/><rect x="643" y="232.58" width="1" height="2.7"/><rect x="645" y="232.58" width="4" height="2.7"/><rect x="651" y="232.58" width="5" height="2.7"/><rect x="658" y="232.58" width="2" height="2.7"/><rect x="661" y="232.58" width="6" height="2.7"/><rect x="668" y="232.58" width="12" height="2.7"/><rect x="681" y="232.58" width="5" height="2.7"/><rect x="690" y="232.58" width="10" height="2.7"/><rect x="76" y="236.24" width="3" height="2.7"/><rect x="84" y="236.24" width="5" height="2.7"/><rect x="90" y="236.24" width="2" height="2.7"/><rect x="94" y="236.24" width="1" height="2.7"/><rect x="111" y="236.24" width="2" height="2.7"/><rect x="114" y="236.24" width="1" height="2.7"/><rect x="116" y="236.24" width="1" height="2.7"/><rect x="120" y="236.24" width="3" height="2.7"/><rect x="124" y="236.24" width="3" height="2.7"/><rect x="128" y="236.24" width="4" height="2.7"/><rect x="134" y="236.24" width="1" height="2.7"/><rect x="136" y="236.24" width="1" height="2.7"/><rect x="138" y="236.24" width="4" height="2.7"/><rect x="144" y="236.24" width="2" height="2.7"/><rect x="147" y="236.24" width="2" height="2.7"/><rect x="155" y="236.24" width="1" height="2.7"/><rect x="158" y="236.24" width="3" height="2.7"/><rect x="162" y="236.24" width="1" height="2.7"/><rect x="164" y="236.24" width="3" height="2.7"/><rect x="169" y="236.24" width="3" height="2.7"/><rect x="583" y="236.24" width="8" height="2.7"/><rect x="592" y="236.24" width="2" height="2.7"/><rect x="595" y="236.24" width="1" height="2.7"/><rect x="599" y="236.24" width="2" height="2.7"/><rect x="605" y="236.24" width="2" height="2.7"/><rect x="608" y="236.24" width="3" height="2.7"/><rect x="615" y="236.24" width="1" height="2.7"/><rect x="619" y="236.24" width="1" height="2.7"/><rect x="622" y="236.24" width="2" height="2.7"/><rect x="625" y="236.24" width="4" height="2.7"/><rect x="630" y="236.24" width="1" height="2.7"/><rect x="633" y="236.24" width="8" height="2.7"/><rect x="643" y="236.24" width="6" height="2.7"/><rect x="652" y="236.24" width="6" height="2.7"/><rect x="660" y="236.24" width="7" height="2.7"/><rect x="668" y="236.24" width="16" height="2.7"/><rect x="685" y="236.24" width="4" height="2.7"/><rect x="690" y="236.24" width="5" height="2.7"/><rect x="696" y="236.24" width="4" height="2.7"/><rect x="76" y="239.90" width="3" height="2.7"/><rect x="81" y="239.90" width="1" height="2.7"/><rect x="85" y="239.90" width="2" height="2.7"/><rect x="88" y="239.90" width="1" height="2.7"/><rect x="90" y="239.90" width="2" height="2.7"/><rect x="93" y="239.90" width="1" height="2.7"/><rect x="112" y="239.90" width="3" height="2.7"/><rect x="121" y="239.90" width="2" height="2.7"/><rect x="124" y="239.90" width="3" height="2.7"/><rect x="129" y="239.90" width="3" height="2.7"/><rect x="134" y="239.90" width="1" height="2.7"/><rect x="136" y="239.90" width="1" height="2.7"/><rect x="138" y="239.90" width="1" height="2.7"/><rect x="140" y="239.90" width="2" height="2.7"/><rect x="144" y="239.90" width="6" height="2.7"/><rect x="155" y="239.90" width="1" height="2.7"/><rect x="158" y="239.90" width="4" height="2.7"/><rect x="164" y="239.90" width="3" height="2.7"/><rect x="169" y="239.90" width="1" height="2.7"/><rect x="171" y="239.90" width="1" height="2.7"/><rect x="584" y="239.90" width="1" height="2.7"/><rect x="586" y="239.90" width="5" height="2.7"/><rect x="592" y="239.90" width="2" height="2.7"/><rect x="595" y="239.90" width="1" height="2.7"/><rect x="598" y="239.90" width="4" height="2.7"/><rect x="608" y="239.90" width="5" height="2.7"/><rect x="614" y="239.90" width="1" height="2.7"/><rect x="618" y="239.90" width="2" height="2.7"/><rect x="622" y="239.90" width="1" height="2.7"/><rect x="625" y="239.90" width="1" height="2.7"/><rect x="627" y="239.90" width="4" height="2.7"/><rect x="632" y="239.90" width="4" height="2.7"/><rect x="637" y="239.90" width="1" height="2.7"/><rect x="643" y="239.90" width="1" height="2.7"/><rect x="647" y="239.90" width="2" height="2.7"/><rect x="651" y="239.90" width="1" height="2.7"/><rect x="653" y="239.90" width="6" height="2.7"/><rect x="660" y="239.90" width="2" height="2.7"/><rect x="663" y="239.90" width="4" height="2.7"/><rect x="668" y="239.90" width="1" height="2.7"/><rect x="670" y="239.90" width="1" height="2.7"/><rect x="672" y="239.90" width="17" height="2.7"/><rect x="690" y="239.90" width="1" height="2.7"/><rect x="692" y="239.90" width="2" height="2.7"/><rect x="695" y="239.90" width="5" height="2.7"/><rect x="76" y="243.56" width="3" height="2.7"/><rect x="81" y="243.56" width="1" height="2.7"/><rect x="84" y="243.56" width="5" height="2.7"/><rect x="90" y="243.56" width="2" height="2.7"/><rect x="93" y="243.56" width="2" height="2.7"/><rect x="112" y="243.56" width="3" height="2.7"/><rect x="122" y="243.56" width="1" height="2.7"/><rect x="124" y="243.56" width="3" height="2.7"/><rect x="128" y="243.56" width="1" height="2.7"/><rect x="130" y="243.56" width="2" height="2.7"/><rect x="134" y="243.56" width="1" height="2.7"/><rect x="136" y="243.56" width="1" height="2.7"/><rect x="139" y="243.56" width="3" height="2.7"/><rect x="144" y="243.56" width="4" height="2.7"/><rect x="155" y="243.56" width="1" height="2.7"/><rect x="159" y="243.56" width="2" height="2.7"/><rect x="164" y="243.56" width="2" height="2.7"/><rect x="169" y="243.56" width="3" height="2.7"/><rect x="584" y="243.56" width="3" height="2.7"/><rect x="588" y="243.56" width="3" height="2.7"/><rect x="592" y="243.56" width="1" height="2.7"/><rect x="595" y="243.56" width="1" height="2.7"/><rect x="598" y="243.56" width="3" height="2.7"/><rect x="608" y="243.56" width="5" height="2.7"/><rect x="614" y="243.56" width="2" height="2.7"/><rect x="619" y="243.56" width="1" height="2.7"/><rect x="622" y="243.56" width="1" height="2.7"/><rect x="625" y="243.56" width="4" height="2.7"/><rect x="630" y="243.56" width="1" height="2.7"/><rect x="632" y="243.56" width="3" height="2.7"/><rect x="636" y="243.56" width="1" height="2.7"/><rect x="651" y="243.56" width="2" height="2.7"/><rect x="654" y="243.56" width="1" height="2.7"/><rect x="657" y="243.56" width="2" height="2.7"/><rect x="660" y="243.56" width="2" height="2.7"/><rect x="663" y="243.56" width="4" height="2.7"/><rect x="668" y="243.56" width="3" height="2.7"/><rect x="674" y="243.56" width="1" height="2.7"/><rect x="678" y="243.56" width="11" height="2.7"/><rect x="692" y="243.56" width="1" height="2.7"/><rect x="694" y="243.56" width="1" height="2.7"/><rect x="696" y="243.56" width="4" height="2.7"/><rect x="76" y="247.22" width="3" height="2.7"/><rect x="81" y="247.22" width="1" height="2.7"/><rect x="84" y="247.22" width="5" height="2.7"/><rect x="90" y="247.22" width="2" height="2.7"/><rect x="93" y="247.22" width="1" height="2.7"/><rect x="121" y="247.22" width="1" height="2.7"/><rect x="125" y="247.22" width="2" height="2.7"/><rect x="134" y="247.22" width="1" height="2.7"/><rect x="136" y="247.22" width="1" height="2.7"/><rect x="138" y="247.22" width="1" height="2.7"/><rect x="140" y="247.22" width="1" height="2.7"/><rect x="145" y="247.22" width="2" height="2.7"/><rect x="165" y="247.22" width="1" height="2.7"/><rect x="169" y="247.22" width="2" height="2.7"/><rect x="584" y="247.22" width="1" height="2.7"/><rect x="586" y="247.22" width="5" height="2.7"/><rect x="592" y="247.22" width="1" height="2.7"/><rect x="595" y="247.22" width="1" height="2.7"/><rect x="599" y="247.22" width="2" height="2.7"/><rect x="608" y="247.22" width="2" height="2.7"/><rect x="612" y="247.22" width="1" height="2.7"/><rect x="622" y="247.22" width="1" height="2.7"/><rect x="625" y="247.22" width="4" height="2.7"/><rect x="630" y="247.22" width="1" height="2.7"/><rect x="633" y="247.22" width="4" height="2.7"/><rect x="652" y="247.22" width="1" height="2.7"/><rect x="654" y="247.22" width="2" height="2.7"/><rect x="657" y="247.22" width="1" height="2.7"/><rect x="660" y="247.22" width="2" height="2.7"/><rect x="664" y="247.22" width="3" height="2.7"/><rect x="669" y="247.22" width="2" height="2.7"/><rect x="677" y="247.22" width="1" height="2.7"/><rect x="679" y="247.22" width="1" height="2.7"/><rect x="681" y="247.22" width="5" height="2.7"/><rect x="687" y="247.22" width="2" height="2.7"/><rect x="691" y="247.22" width="1" height="2.7"/><rect x="694" y="247.22" width="1" height="2.7"/><rect x="698" y="247.22" width="1" height="2.7"/><rect x="77" y="250.88" width="2" height="2.7"/><rect x="81" y="250.88" width="1" height="2.7"/><rect x="84" y="250.88" width="5" height="2.7"/><rect x="136" y="250.88" width="1" height="2.7"/><rect x="138" y="250.88" width="4" height="2.7"/><rect x="145" y="250.88" width="3" height="2.7"/><rect x="165" y="250.88" width="1" height="2.7"/><rect x="169" y="250.88" width="1" height="2.7"/><rect x="584" y="250.88" width="1" height="2.7"/><rect x="586" y="250.88" width="1" height="2.7"/><rect x="588" y="250.88" width="3" height="2.7"/><rect x="595" y="250.88" width="1" height="2.7"/><rect x="599" y="250.88" width="2" height="2.7"/><rect x="608" y="250.88" width="1" height="2.7"/><rect x="627" y="250.88" width="2" height="2.7"/><rect x="630" y="250.88" width="1" height="2.7"/><rect x="632" y="250.88" width="2" height="2.7"/><rect x="636" y="250.88" width="1" height="2.7"/><rect x="651" y="250.88" width="2" height="2.7"/><rect x="654" y="250.88" width="2" height="2.7"/><rect x="657" y="250.88" width="1" height="2.7"/><rect x="663" y="250.88" width="2" height="2.7"/><rect x="669" y="250.88" width="2" height="2.7"/><rect x="677" y="250.88" width="11" height="2.7"/><rect x="699" y="250.88" width="1" height="2.7"/><rect x="81" y="254.54" width="1" height="2.7"/><rect x="84" y="254.54" width="5" height="2.7"/><rect x="91" y="254.54" width="1" height="2.7"/><rect x="138" y="254.54" width="4" height="2.7"/><rect x="146" y="254.54" width="2" height="2.7"/><rect x="584" y="254.54" width="1" height="2.7"/><rect x="586" y="254.54" width="1" height="2.7"/><rect x="588" y="254.54" width="3" height="2.7"/><rect x="608" y="254.54" width="2" height="2.7"/><rect x="612" y="254.54" width="1" height="2.7"/><rect x="622" y="254.54" width="1" height="2.7"/><rect x="627" y="254.54" width="2" height="2.7"/><rect x="630" y="254.54" width="1" height="2.7"/><rect x="632" y="254.54" width="3" height="2.7"/><rect x="651" y="254.54" width="2" height="2.7"/><rect x="654" y="254.54" width="2" height="2.7"/><rect x="657" y="254.54" width="1" height="2.7"/><rect x="677" y="254.54" width="3" height="2.7"/><rect x="682" y="254.54" width="1" height="2.7"/><rect x="685" y="254.54" width="1" height="2.7"/><rect x="687" y="254.54" width="1" height="2.7"/><rect x="85" y="258.20" width="4" height="2.7"/><rect x="136" y="258.20" width="1" height="2.7"/><rect x="140" y="258.20" width="2" height="2.7"/><rect x="584" y="258.20" width="1" height="2.7"/><rect x="587" y="258.20" width="2" height="2.7"/><rect x="590" y="258.20" width="1" height="2.7"/><rect x="627" y="258.20" width="2" height="2.7"/><rect x="633" y="258.20" width="2" height="2.7"/><rect x="636" y="258.20" width="1" height="2.7"/><rect x="652" y="258.20" width="1" height="2.7"/><rect x="654" y="258.20" width="2" height="2.7"/><rect x="657" y="258.20" width="1" height="2.7"/><rect x="679" y="258.20" width="7" height="2.7"/><rect x="687" y="258.20" width="1" height="2.7"/><rect x="81" y="261.86" width="1" height="2.7"/><rect x="84" y="261.86" width="5" height="2.7"/><rect x="91" y="261.86" width="1" height="2.7"/><rect x="136" y="261.86" width="1" height="2.7"/><rect x="138" y="261.86" width="1" height="2.7"/><rect x="141" y="261.86" width="1" height="2.7"/><rect x="587" y="261.86" width="2" height="2.7"/><rect x="651" y="261.86" width="2" height="2.7"/><rect x="654" y="261.86" width="1" height="2.7"/><rect x="678" y="261.86" width="1" height="2.7"/><rect x="680" y="261.86" width="8" height="2.7"/><rect x="81" y="265.52" width="1" height="2.7"/><rect x="84" y="265.52" width="4" height="2.7"/><rect x="91" y="265.52" width="1" height="2.7"/><rect x="140" y="265.52" width="2" height="2.7"/><rect x="588" y="265.52" width="1" height="2.7"/><rect x="678" y="265.52" width="1" height="2.7"/><rect x="682" y="265.52" width="6" height="2.7"/><rect x="81" y="269.18" width="1" height="2.7"/><rect x="85" y="269.18" width="2" height="2.7"/><rect x="681" y="269.18" width="6" height="2.7"/><rect x="682" y="272.84" width="2" height="2.7"/></g><rect x="153.9" y="203.30" width="1.5" height="2.7" fill="#1a1ab4"/><rect x="163.3" y="206.96" width="1.5" height="2.7" fill="#c41a1a"/><rect x="167.2" y="206.96" width="1.5" height="2.7" fill="#c41a1a"/><rect x="123.8" y="206.96" width="1.5" height="2.7" fill="#1a1ab4"/><rect x="154.9" y="210.62" width="1.5" height="2.7" fill="#1a1ab4"/><rect x="156.7" y="210.62" width="1.5" height="2.7" fill="#1a1ab4"/><rect x="169.8" y="210.62" width="1.5" height="2.7" fill="#c41a1a"/><rect x="170.8" y="210.62" width="1.5" height="2.7" fill="#c41a1a"/><rect x="105.5" y="214.28" width="1.5" height="2.7" fill="#c41a1a"/><rect x="123.3" y="214.28" width="1.5" height="2.7" fill="#1a1ab4"/><rect x="110.8" y="217.94" width="1.5" height="2.7" fill="#c41a1a"/><rect x="157.1" y="221.60" width="1.5" height="2.7" fill="#1a1ab4"/><rect x="137.1" y="221.60" width="1.5" height="2.7" fill="#c41a1a"/><rect x="142.1" y="225.26" width="1.5" height="2.7" fill="#c41a1a"/><rect x="169.9" y="225.26" width="1.5" height="2.7" fill="#c41a1a"/><rect x="169.9" y="228.92" width="1.5" height="2.7" fill="#c41a1a"/><rect x="75.0" y="239.90" width="1.5" height="2.7" fill="#c41a1a"/><rect x="585.7" y="203.30" width="1.5" height="2.7" fill="#c41a1a"/><rect x="584.6" y="206.96" width="1.5" height="2.7" fill="#22b422"/><rect x="656.4" y="203.30" width="1.5" height="2.7" fill="#c41a1a"/><rect x="686.5" y="206.96" width="1.5" height="2.7" fill="#c41a1a"/><rect x="599.3" y="214.28" width="1.5" height="2.7" fill="#c41a1a"/><rect x="681.5" y="214.28" width="1.5" height="2.7" fill="#c41a1a"/><rect x="687.6" y="214.28" width="1.5" height="2.7" fill="#e060c0"/><rect x="595.3" y="217.94" width="1.5" height="2.7" fill="#c41a1a"/><rect x="583.9" y="221.60" width="1.5" height="2.7" fill="#c41a1a"/><rect x="629.0" y="221.60" width="1.5" height="2.7" fill="#1a1ab4"/><rect x="629.0" y="232.58" width="1.5" height="2.7" fill="#1a1ab4"/><rect x="632.3" y="232.58" width="1.5" height="2.7" fill="#1a1ab4"/><rect x="598.3" y="236.24" width="1.5" height="2.7" fill="#5050f0"/><rect x="584.3" y="236.24" width="1.5" height="2.7" fill="#c41a1a"/><rect x="584.3" y="239.90" width="1.5" height="2.7" fill="#c41a1a"/><rect x="632.7" y="239.90" width="1.5" height="2.7" fill="#1a1ab4"/><rect x="651.8" y="243.56" width="1.5" height="2.7" fill="#c41a1a"/><rect x="399" y="203.3" width="1" height="2.7" fill="#e8a0b8"/><rect x="399" y="207" width="1" height="2.7" fill="#c8c8c8"/><rect x="399" y="210.6" width="1" height="2.7" fill="#e8a0b8"/><rect x="448.5" y="203.3" width="1" height="2.7" fill="#a8d8c0"/><rect x="530.5" y="203.3" width="1" height="2.7" fill="#c0c0c0"/><rect x="181.6" y="203.3" width="1" height="4" fill="#d8d8b0"/><rect x="223.5" y="203.3" width="1" height="4" fill="#b0b0b0"/><rect x="225.5" y="203.3" width="1" height="4" fill="#b0b0b0"/><rect x="172.85" y="250.8" width="1.5" height="1.35" fill="#2a2a2a"/><rect x="172.85" y="253.7" width="1.5" height="1.35" fill="#2a2a2a"/><rect x="172.85" y="256.6" width="1.5" height="1.35" fill="#2a2a2a"/><rect x="172.85" y="259.5" width="1.5" height="1.35" fill="#2a2a2a"/><rect x="172.85" y="262.4" width="1.5" height="1.35" fill="#2a2a2a"/><rect x="172.85" y="265.3" width="1.5" height="1.35" fill="#2a2a2a"/><rect x="172.85" y="268.2" width="1.5" height="1.35" fill="#2a2a2a"/><rect x="172.85" y="271.1" width="1.5" height="1.35" fill="#2a2a2a"/><rect x="172.85" y="274.0" width="1.5" height="1.35" fill="#2a2a2a"/><rect x="172.85" y="276.9" width="1.5" height="1.35" fill="#2a2a2a"/><rect x="172.85" y="279.8" width="1.5" height="1.35" fill="#2a2a2a"/><rect x="172.85" y="282.7" width="1.5" height="1.35" fill="#2a2a2a"/><rect x="172.85" y="285.6" width="1.5" height="1.35" fill="#2a2a2a"/><rect x="172.85" y="288.5" width="1.5" height="1.35" fill="#2a2a2a"/><rect x="172.85" y="291.4" width="1.5" height="1.35" fill="#2a2a2a"/><rect x="582.85" y="250.8" width="1.5" height="1.35" fill="#2a2a2a"/><rect x="582.85" y="253.7" width="1.5" height="1.35" fill="#2a2a2a"/><rect x="582.85" y="256.6" width="1.5" height="1.35" fill="#2a2a2a"/><rect x="582.85" y="259.5" width="1.5" height="1.35" fill="#2a2a2a"/><rect x="582.85" y="262.4" width="1.5" height="1.35" fill="#2a2a2a"/><rect x="582.85" y="265.3" width="1.5" height="1.35" fill="#2a2a2a"/><rect x="582.85" y="268.2" width="1.5" height="1.35" fill="#2a2a2a"/><rect x="582.85" y="271.1" width="1.5" height="1.35" fill="#2a2a2a"/><rect x="582.85" y="274.0" width="1.5" height="1.35" fill="#2a2a2a"/><rect x="582.85" y="276.9" width="1.5" height="1.35" fill="#2a2a2a"/><rect x="582.85" y="279.8" width="1.5" height="1.35" fill="#2a2a2a"/><rect x="582.85" y="282.7" width="1.5" height="1.35" fill="#2a2a2a"/><rect x="582.85" y="285.6" width="1.5" height="1.35" fill="#2a2a2a"/><rect x="582.85" y="288.5" width="1.5" height="1.35" fill="#2a2a2a"/><rect x="582.85" y="291.4" width="1.5" height="1.35" fill="#2a2a2a"/><line x1="184" y1="286.1" x2="572" y2="286.1" stroke="#1a1a1a" stroke-width="1.7"/><path d="M175.1,286.1 L187.5,280 L184,286.1 L187.5,292.4 Z" fill="#1a1a1a"/><path d="M581.5,286.1 L569.2,280 L572.6,286.1 L569.2,292.4 Z" fill="#1a1a1a"/><line x1="131" y1="63.1" x2="147" y2="63.1" stroke="#1a1a1a" stroke-width="1.6"/><path d="M126,63.1 L138,57.4 L135,63.1 L138,69.1 Z" fill="#1a1a1a"/><line x1="276.4" y1="63.1" x2="352" y2="63.1" stroke="#1a1a1a" stroke-width="1.6"/><path d="M359,63.1 L347.8,57.5 L350.8,63.1 L347.8,68.7 Z" fill="#1a1a1a"/><line x1="380" y1="63.1" x2="676.1" y2="63.1" stroke="#1a1a1a" stroke-width="1.6"/><path d="M374.4,63.1 L385.6,57.5 L382.6,63.1 L385.6,68.7 Z" fill="#1a1a1a"/><line x1="681" y1="63.1" x2="684.9" y2="63.1" stroke="#1a1a1a" stroke-width="1.6"/><line x1="688.8" y1="63.1" x2="692.7" y2="63.1" stroke="#1a1a1a" stroke-width="1.6"/><line x1="695.6" y1="63.1" x2="699.8" y2="63.1" stroke="#1a1a1a" stroke-width="1.6"/><rect x="74.90" y="21.1" width="1" height="7.5" fill="#2e2e2e"/><rect x="152.90" y="21.1" width="1" height="7.5" fill="#2e2e2e"/><rect x="230.90" y="21.1" width="1" height="7.5" fill="#2e2e2e"/><rect x="308.90" y="21.1" width="1" height="7.5" fill="#2e2e2e"/><rect x="386.90" y="21.1" width="1" height="7.5" fill="#2e2e2e"/><rect x="464.90" y="21.1" width="1" height="7.5" fill="#2e2e2e"/><rect x="542.90" y="21.1" width="1" height="7.5" fill="#2e2e2e"/><rect x="620.90" y="21.1" width="1" height="7.5" fill="#2e2e2e"/><rect x="698.90" y="21.1" width="1" height="7.5" fill="#2e2e2e"/></svg>
<div class="ax" style="left:45.9px">80.37</div><div class="ax" style="left:123.9px">80.38</div><div class="ax" style="left:201.9px">80.39</div><div class="ax" style="left:279.9px">80.40</div><div class="ax" style="left:357.9px">80.41</div><div class="ax" style="left:435.9px">80.42</div><div class="ax" style="left:513.9px">80.43</div><div class="ax" style="left:591.9px">80.44</div><div class="ax" style="left:669.9px">80.45</div>
<div class="t" style="left:725.6px;top:5px;font-size:12.8px;line-height:15px">Mb</div>
<div class="g" style="left:111px;top:42.8px">OTUD6A</div>
<div class="g" style="left:296px;top:48.8px">AWAT2</div>
<div class="g" style="left:512.9px;top:48.9px">EDA</div>
<div class="t" style="left:8px;top:106.9px;font-size:15.8px;line-height:19px;transform:scaleX(1.04)">control</div>
<div class="t" style="left:8px;top:206.5px;font-size:16px;line-height:19px">case</div>
<div class="t" style="left:279.5px;top:289.5px;font-size:12.5px;line-height:15px;transform:scaleX(1.028)">deletion: 80,382,423 - 80,435,202</div>
</body></html>
